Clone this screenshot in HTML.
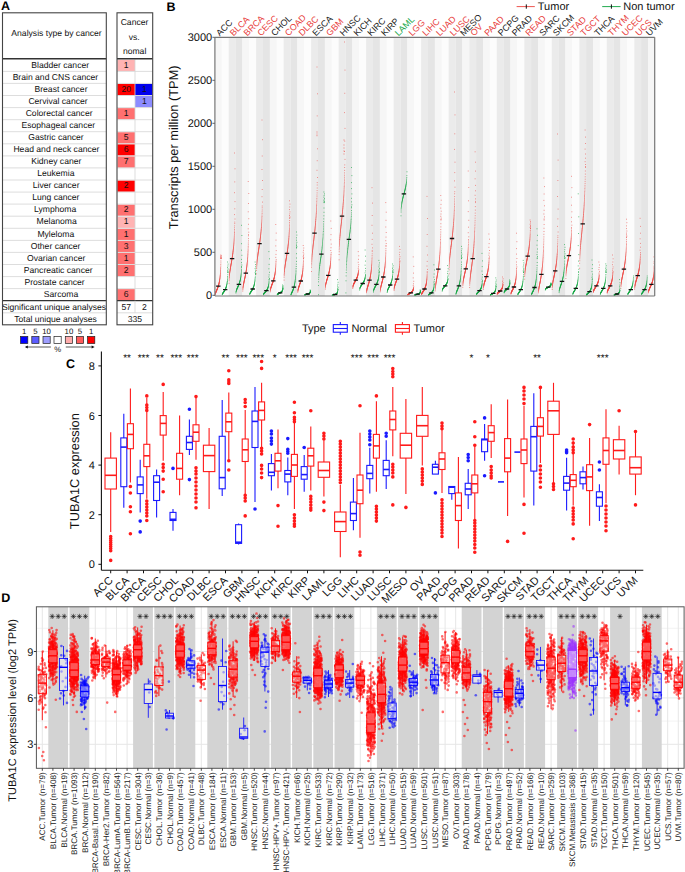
<!DOCTYPE html>
<html><head><meta charset="utf-8"><style>
html,body{margin:0;padding:0;background:#fff;}
svg{display:block;font-family:"Liberation Sans",sans-serif;text-rendering:geometricPrecision;-webkit-font-smoothing:antialiased;}
</style></head><body>
<svg width="685" height="872" viewBox="0 0 685 872">
<rect width="685" height="872" fill="#fff"/>
<text x="1" y="9.6" font-size="12.5" font-weight="bold">A</text>
<rect x="117.5" y="59.8" width="17.5" height="11.2" fill="#ffb3b3"/>
<rect x="117.5" y="83.9" width="17.5" height="11.2" fill="#ff0000"/>
<rect x="135" y="83.9" width="17.2" height="11.2" fill="#0000ee"/>
<rect x="135" y="96" width="17.2" height="11.2" fill="#8c8cff"/>
<rect x="117.5" y="108.1" width="17.5" height="11.2" fill="#ff7070"/>
<rect x="117.5" y="132.2" width="17.5" height="11.2" fill="#ff7070"/>
<rect x="117.5" y="144.3" width="17.5" height="11.2" fill="#ff0000"/>
<rect x="117.5" y="156.4" width="17.5" height="11.2" fill="#ff7070"/>
<rect x="117.5" y="180.5" width="17.5" height="11.2" fill="#ff0000"/>
<rect x="117.5" y="204.6" width="17.5" height="11.2" fill="#ff7070"/>
<rect x="117.5" y="216.7" width="17.5" height="11.2" fill="#ffb3b3"/>
<rect x="117.5" y="228.8" width="17.5" height="11.2" fill="#ff7070"/>
<rect x="117.5" y="240.9" width="17.5" height="11.2" fill="#ff7070"/>
<rect x="117.5" y="252.9" width="17.5" height="11.2" fill="#ff7070"/>
<rect x="117.5" y="265" width="17.5" height="11.2" fill="#ff7070"/>
<rect x="117.5" y="289.1" width="17.5" height="11.2" fill="#ff7070"/>
<line x1="2.5" y1="71.4" x2="106.3" y2="71.4" stroke="#d4d4d4" stroke-width="0.8"/>
<line x1="117" y1="71.4" x2="152.7" y2="71.4" stroke="#d4d4d4" stroke-width="0.8"/>
<line x1="2.5" y1="83.4" x2="106.3" y2="83.4" stroke="#d4d4d4" stroke-width="0.8"/>
<line x1="117" y1="83.4" x2="152.7" y2="83.4" stroke="#d4d4d4" stroke-width="0.8"/>
<line x1="2.5" y1="95.5" x2="106.3" y2="95.5" stroke="#d4d4d4" stroke-width="0.8"/>
<line x1="117" y1="95.5" x2="152.7" y2="95.5" stroke="#d4d4d4" stroke-width="0.8"/>
<line x1="2.5" y1="107.6" x2="106.3" y2="107.6" stroke="#d4d4d4" stroke-width="0.8"/>
<line x1="117" y1="107.6" x2="152.7" y2="107.6" stroke="#d4d4d4" stroke-width="0.8"/>
<line x1="2.5" y1="119.7" x2="106.3" y2="119.7" stroke="#d4d4d4" stroke-width="0.8"/>
<line x1="117" y1="119.7" x2="152.7" y2="119.7" stroke="#d4d4d4" stroke-width="0.8"/>
<line x1="2.5" y1="131.7" x2="106.3" y2="131.7" stroke="#d4d4d4" stroke-width="0.8"/>
<line x1="117" y1="131.7" x2="152.7" y2="131.7" stroke="#d4d4d4" stroke-width="0.8"/>
<line x1="2.5" y1="143.8" x2="106.3" y2="143.8" stroke="#d4d4d4" stroke-width="0.8"/>
<line x1="117" y1="143.8" x2="152.7" y2="143.8" stroke="#d4d4d4" stroke-width="0.8"/>
<line x1="2.5" y1="155.9" x2="106.3" y2="155.9" stroke="#d4d4d4" stroke-width="0.8"/>
<line x1="117" y1="155.9" x2="152.7" y2="155.9" stroke="#d4d4d4" stroke-width="0.8"/>
<line x1="2.5" y1="167.9" x2="106.3" y2="167.9" stroke="#d4d4d4" stroke-width="0.8"/>
<line x1="117" y1="167.9" x2="152.7" y2="167.9" stroke="#d4d4d4" stroke-width="0.8"/>
<line x1="2.5" y1="180" x2="106.3" y2="180" stroke="#d4d4d4" stroke-width="0.8"/>
<line x1="117" y1="180" x2="152.7" y2="180" stroke="#d4d4d4" stroke-width="0.8"/>
<line x1="2.5" y1="192.1" x2="106.3" y2="192.1" stroke="#d4d4d4" stroke-width="0.8"/>
<line x1="117" y1="192.1" x2="152.7" y2="192.1" stroke="#d4d4d4" stroke-width="0.8"/>
<line x1="2.5" y1="204.1" x2="106.3" y2="204.1" stroke="#d4d4d4" stroke-width="0.8"/>
<line x1="117" y1="204.1" x2="152.7" y2="204.1" stroke="#d4d4d4" stroke-width="0.8"/>
<line x1="2.5" y1="216.2" x2="106.3" y2="216.2" stroke="#d4d4d4" stroke-width="0.8"/>
<line x1="117" y1="216.2" x2="152.7" y2="216.2" stroke="#d4d4d4" stroke-width="0.8"/>
<line x1="2.5" y1="228.3" x2="106.3" y2="228.3" stroke="#d4d4d4" stroke-width="0.8"/>
<line x1="117" y1="228.3" x2="152.7" y2="228.3" stroke="#d4d4d4" stroke-width="0.8"/>
<line x1="2.5" y1="240.4" x2="106.3" y2="240.4" stroke="#d4d4d4" stroke-width="0.8"/>
<line x1="117" y1="240.4" x2="152.7" y2="240.4" stroke="#d4d4d4" stroke-width="0.8"/>
<line x1="2.5" y1="252.4" x2="106.3" y2="252.4" stroke="#d4d4d4" stroke-width="0.8"/>
<line x1="117" y1="252.4" x2="152.7" y2="252.4" stroke="#d4d4d4" stroke-width="0.8"/>
<line x1="2.5" y1="264.5" x2="106.3" y2="264.5" stroke="#d4d4d4" stroke-width="0.8"/>
<line x1="117" y1="264.5" x2="152.7" y2="264.5" stroke="#d4d4d4" stroke-width="0.8"/>
<line x1="2.5" y1="276.6" x2="106.3" y2="276.6" stroke="#d4d4d4" stroke-width="0.8"/>
<line x1="117" y1="276.6" x2="152.7" y2="276.6" stroke="#d4d4d4" stroke-width="0.8"/>
<line x1="2.5" y1="288.6" x2="106.3" y2="288.6" stroke="#d4d4d4" stroke-width="0.8"/>
<line x1="117" y1="288.6" x2="152.7" y2="288.6" stroke="#d4d4d4" stroke-width="0.8"/>
<line x1="135" y1="59.3" x2="135" y2="300.7" stroke="#d4d4d4" stroke-width="0.8"/>
<text x="60.2" y="67.5" font-size="8.6" text-anchor="middle" fill="#111">Bladder cancer</text>
<text x="126.2" y="67.5" font-size="8.6" text-anchor="middle" fill="#111">1</text>
<text x="55.4" y="79.6" font-size="8.6" text-anchor="middle" fill="#111">Brain and CNS cancer</text>
<text x="61" y="91.7" font-size="8.6" text-anchor="middle" fill="#111">Breast cancer</text>
<text x="126.2" y="91.7" font-size="8.6" text-anchor="middle" fill="#111">20</text>
<text x="144.3" y="91.7" font-size="8.6" text-anchor="middle" fill="#111">1</text>
<text x="58" y="103.7" font-size="8.6" text-anchor="middle" fill="#111">Cervival cancer</text>
<text x="144.3" y="103.7" font-size="8.6" text-anchor="middle" fill="#111">1</text>
<text x="59.1" y="115.8" font-size="8.6" text-anchor="middle" fill="#111">Colorectal cancer</text>
<text x="126.2" y="115.8" font-size="8.6" text-anchor="middle" fill="#111">1</text>
<text x="58.3" y="127.9" font-size="8.6" text-anchor="middle" fill="#111">Esophageal cancer</text>
<text x="56" y="140" font-size="8.6" text-anchor="middle" fill="#111">Gastric cancer</text>
<text x="126.2" y="140" font-size="8.6" text-anchor="middle" fill="#111">5</text>
<text x="56.4" y="152" font-size="8.6" text-anchor="middle" fill="#111">Head and neck cancer</text>
<text x="126.2" y="152" font-size="8.6" text-anchor="middle" fill="#111">6</text>
<text x="56.3" y="164.1" font-size="8.6" text-anchor="middle" fill="#111">Kidney caner</text>
<text x="126.2" y="164.1" font-size="8.6" text-anchor="middle" fill="#111">7</text>
<text x="55.8" y="176.2" font-size="8.6" text-anchor="middle" fill="#111">Leukemia</text>
<text x="56.1" y="188.2" font-size="8.6" text-anchor="middle" fill="#111">Liver cancer</text>
<text x="126.2" y="188.2" font-size="8.6" text-anchor="middle" fill="#111">2</text>
<text x="55.8" y="200.3" font-size="8.6" text-anchor="middle" fill="#111">Lung cancer</text>
<text x="55.2" y="212.4" font-size="8.6" text-anchor="middle" fill="#111">Lymphoma</text>
<text x="126.2" y="212.4" font-size="8.6" text-anchor="middle" fill="#111">2</text>
<text x="56.6" y="224.4" font-size="8.6" text-anchor="middle" fill="#111">Melanoma</text>
<text x="126.2" y="224.4" font-size="8.6" text-anchor="middle" fill="#111">1</text>
<text x="55.8" y="236.5" font-size="8.6" text-anchor="middle" fill="#111">Myleloma</text>
<text x="126.2" y="236.5" font-size="8.6" text-anchor="middle" fill="#111">1</text>
<text x="55.6" y="248.6" font-size="8.6" text-anchor="middle" fill="#111">Other cancer</text>
<text x="126.2" y="248.6" font-size="8.6" text-anchor="middle" fill="#111">3</text>
<text x="56.2" y="260.7" font-size="8.6" text-anchor="middle" fill="#111">Ovarian cancer</text>
<text x="126.2" y="260.7" font-size="8.6" text-anchor="middle" fill="#111">1</text>
<text x="58.2" y="272.7" font-size="8.6" text-anchor="middle" fill="#111">Pancreatic cancer</text>
<text x="126.2" y="272.7" font-size="8.6" text-anchor="middle" fill="#111">2</text>
<text x="54.6" y="284.8" font-size="8.6" text-anchor="middle" fill="#111">Prostate cancer</text>
<text x="61" y="296.9" font-size="8.6" text-anchor="middle" fill="#111">Sarcoma</text>
<text x="126.2" y="296.9" font-size="8.6" text-anchor="middle" fill="#111">6</text>
<line x1="2.5" y1="300.7" x2="106.3" y2="300.7" stroke="#333" stroke-width="1.3"/>
<line x1="117" y1="300.7" x2="152.7" y2="300.7" stroke="#333" stroke-width="1.3"/>
<line x1="2.5" y1="312.8" x2="106.3" y2="312.8" stroke="#d4d4d4" stroke-width="0.8"/>
<line x1="117" y1="312.8" x2="152.7" y2="312.8" stroke="#d4d4d4" stroke-width="0.8"/>
<line x1="135" y1="300.7" x2="135" y2="312.8" stroke="#d4d4d4" stroke-width="0.8"/>
<text x="54" y="309.8" font-size="8.6" text-anchor="middle" fill="#111">Significant unique analyses</text>
<text x="55.5" y="321.9" font-size="8.6" text-anchor="middle" fill="#111">Total unique analyses</text>
<text x="126.2" y="309.8" font-size="8.6" text-anchor="middle" fill="#111">57</text>
<text x="144.3" y="309.8" font-size="8.6" text-anchor="middle" fill="#111">2</text>
<text x="134.8" y="321.9" font-size="8.6" text-anchor="middle" fill="#111">335</text>
<text x="56.5" y="36.3" font-size="8.6" text-anchor="middle" fill="#111">Analysis type by cancer</text>
<text x="134.5" y="24.6" font-size="8.6" text-anchor="middle" fill="#111">Cancer</text>
<text x="134.2" y="39.5" font-size="8.6" text-anchor="middle" fill="#111">vs.</text>
<text x="134.6" y="54.2" font-size="8.6" text-anchor="middle" fill="#111">nomal</text>
<line x1="2.5" y1="58.8" x2="106.3" y2="58.8" stroke="#333" stroke-width="1.4"/>
<line x1="117" y1="58.8" x2="152.7" y2="58.8" stroke="#333" stroke-width="1.4"/>
<rect x="2.5" y="12.8" width="103.8" height="312" fill="none" stroke="#444" stroke-width="1.1"/>
<rect x="117" y="12.8" width="35.7" height="312" fill="none" stroke="#444" stroke-width="1.1"/>
<rect x="20.6" y="336.5" width="7.2" height="7" fill="#0000ff" stroke="#222" stroke-width="0.7"/>
<text x="24.2" y="334" font-size="7.8" text-anchor="middle" fill="#111">1</text>
<rect x="31.8" y="336.5" width="7.2" height="7" fill="#5c5cff" stroke="#222" stroke-width="0.7"/>
<text x="35.4" y="334" font-size="7.8" text-anchor="middle" fill="#111">5</text>
<rect x="43" y="336.5" width="7.2" height="7" fill="#9e9eff" stroke="#222" stroke-width="0.7"/>
<text x="46.6" y="334" font-size="7.8" text-anchor="middle" fill="#111">10</text>
<rect x="54" y="336.5" width="7.2" height="7" fill="#ffffff" stroke="#222" stroke-width="0.7"/>
<rect x="65.3" y="336.5" width="7.2" height="7" fill="#ffacac" stroke="#222" stroke-width="0.7"/>
<text x="68.9" y="334" font-size="7.8" text-anchor="middle" fill="#111">10</text>
<rect x="76.4" y="336.5" width="7.2" height="7" fill="#ff5c5c" stroke="#222" stroke-width="0.7"/>
<text x="80" y="334" font-size="7.8" text-anchor="middle" fill="#111">5</text>
<rect x="87.6" y="336.5" width="7.2" height="7" fill="#ff0000" stroke="#222" stroke-width="0.7"/>
<text x="91.2" y="334" font-size="7.8" text-anchor="middle" fill="#111">1</text>
<line x1="26" y1="347" x2="50.9" y2="347" stroke="#111" stroke-width="0.7"/>
<path d="M24.8 347l3 -1.6v3.2z" fill="#111"/>
<line x1="65.8" y1="347" x2="93" y2="347" stroke="#111" stroke-width="0.7"/>
<path d="M94.6 347l-3 -1.6v3.2z" fill="#111"/>
<text x="57.8" y="352.4" font-size="7.8" text-anchor="middle" fill="#111">%</text>
<rect x="214.9" y="37.3" width="6.9" height="258.7" fill="#f6f6f6"/>
<rect x="221.8" y="37.3" width="6.9" height="258.7" fill="#fcfcfc"/>
<rect x="228.7" y="37.3" width="6.9" height="258.7" fill="#ebebeb"/>
<rect x="235.5" y="37.3" width="6.9" height="258.7" fill="#e5e5e5"/>
<rect x="242.4" y="37.3" width="6.9" height="258.7" fill="#f6f6f6"/>
<rect x="249.3" y="37.3" width="6.9" height="258.7" fill="#fcfcfc"/>
<rect x="256.1" y="37.3" width="6.9" height="258.7" fill="#ebebeb"/>
<rect x="263" y="37.3" width="6.9" height="258.7" fill="#e5e5e5"/>
<rect x="269.9" y="37.3" width="6.9" height="258.7" fill="#f6f6f6"/>
<rect x="276.8" y="37.3" width="6.9" height="258.7" fill="#fcfcfc"/>
<rect x="283.6" y="37.3" width="6.9" height="258.7" fill="#ebebeb"/>
<rect x="290.5" y="37.3" width="6.9" height="258.7" fill="#e5e5e5"/>
<rect x="297.4" y="37.3" width="6.9" height="258.7" fill="#f6f6f6"/>
<rect x="304.3" y="37.3" width="6.9" height="258.7" fill="#fcfcfc"/>
<rect x="311.1" y="37.3" width="6.9" height="258.7" fill="#ebebeb"/>
<rect x="318" y="37.3" width="6.9" height="258.7" fill="#e5e5e5"/>
<rect x="324.9" y="37.3" width="6.9" height="258.7" fill="#f6f6f6"/>
<rect x="331.8" y="37.3" width="6.9" height="258.7" fill="#fcfcfc"/>
<rect x="338.6" y="37.3" width="6.9" height="258.7" fill="#ebebeb"/>
<rect x="345.5" y="37.3" width="6.9" height="258.7" fill="#e5e5e5"/>
<rect x="352.4" y="37.3" width="6.9" height="258.7" fill="#f6f6f6"/>
<rect x="359.3" y="37.3" width="6.9" height="258.7" fill="#fcfcfc"/>
<rect x="366.1" y="37.3" width="6.9" height="258.7" fill="#ebebeb"/>
<rect x="373" y="37.3" width="6.9" height="258.7" fill="#e5e5e5"/>
<rect x="379.9" y="37.3" width="6.9" height="258.7" fill="#f6f6f6"/>
<rect x="386.8" y="37.3" width="6.9" height="258.7" fill="#fcfcfc"/>
<rect x="393.6" y="37.3" width="6.9" height="258.7" fill="#ebebeb"/>
<rect x="400.5" y="37.3" width="6.9" height="258.7" fill="#e5e5e5"/>
<rect x="407.4" y="37.3" width="6.9" height="258.7" fill="#f6f6f6"/>
<rect x="414.3" y="37.3" width="6.9" height="258.7" fill="#fcfcfc"/>
<rect x="421.1" y="37.3" width="6.9" height="258.7" fill="#ebebeb"/>
<rect x="428" y="37.3" width="6.9" height="258.7" fill="#e5e5e5"/>
<rect x="434.9" y="37.3" width="6.9" height="258.7" fill="#f6f6f6"/>
<rect x="441.8" y="37.3" width="6.9" height="258.7" fill="#fcfcfc"/>
<rect x="448.6" y="37.3" width="6.9" height="258.7" fill="#ebebeb"/>
<rect x="455.5" y="37.3" width="6.9" height="258.7" fill="#e5e5e5"/>
<rect x="462.4" y="37.3" width="6.9" height="258.7" fill="#f6f6f6"/>
<rect x="469.3" y="37.3" width="6.9" height="258.7" fill="#ebebeb"/>
<rect x="476.1" y="37.3" width="6.9" height="258.7" fill="#e5e5e5"/>
<rect x="483" y="37.3" width="6.9" height="258.7" fill="#f6f6f6"/>
<rect x="489.9" y="37.3" width="6.9" height="258.7" fill="#fcfcfc"/>
<rect x="496.8" y="37.3" width="6.9" height="258.7" fill="#ebebeb"/>
<rect x="503.6" y="37.3" width="6.9" height="258.7" fill="#e5e5e5"/>
<rect x="510.5" y="37.3" width="6.9" height="258.7" fill="#f6f6f6"/>
<rect x="517.4" y="37.3" width="6.9" height="258.7" fill="#fcfcfc"/>
<rect x="524.3" y="37.3" width="6.9" height="258.7" fill="#ebebeb"/>
<rect x="531.1" y="37.3" width="6.9" height="258.7" fill="#e5e5e5"/>
<rect x="538" y="37.3" width="6.9" height="258.7" fill="#f6f6f6"/>
<rect x="544.9" y="37.3" width="6.9" height="258.7" fill="#fcfcfc"/>
<rect x="551.8" y="37.3" width="6.9" height="258.7" fill="#ebebeb"/>
<rect x="558.6" y="37.3" width="6.9" height="258.7" fill="#e5e5e5"/>
<rect x="565.5" y="37.3" width="6.9" height="258.7" fill="#f6f6f6"/>
<rect x="572.4" y="37.3" width="6.9" height="258.7" fill="#fcfcfc"/>
<rect x="579.3" y="37.3" width="6.9" height="258.7" fill="#ebebeb"/>
<rect x="586.1" y="37.3" width="6.9" height="258.7" fill="#e5e5e5"/>
<rect x="593" y="37.3" width="6.9" height="258.7" fill="#f6f6f6"/>
<rect x="599.9" y="37.3" width="6.9" height="258.7" fill="#fcfcfc"/>
<rect x="606.8" y="37.3" width="6.9" height="258.7" fill="#ebebeb"/>
<rect x="613.6" y="37.3" width="6.9" height="258.7" fill="#e5e5e5"/>
<rect x="620.5" y="37.3" width="6.9" height="258.7" fill="#f6f6f6"/>
<rect x="627.4" y="37.3" width="6.9" height="258.7" fill="#fcfcfc"/>
<rect x="634.3" y="37.3" width="6.9" height="258.7" fill="#ebebeb"/>
<rect x="641.1" y="37.3" width="6.9" height="258.7" fill="#e5e5e5"/>
<rect x="648" y="37.3" width="6.9" height="258.7" fill="#f6f6f6"/>
<path d="M215.3 294.4h0M215.4 293.9h0M215.4 293.7h0M215.5 293.4h0M215.5 293.2h0M215.6 293.1h0M215.6 292.9h0M215.7 292.7h0M215.7 292.6h0M215.8 292.5h0M215.8 292.3h0M215.9 292.2h0M215.9 292.1h0M216 291.9h0M216 291.8h0M216.1 291.7h0M216.2 291.6h0M216.2 291.4h0M216.3 291.3h0M216.3 291.2h0M216.4 291.1h0M216.4 291h0M216.5 290.8h0M216.5 290.7h0M216.6 290.6h0M216.6 290.5h0M216.7 290.4h0M216.7 290.3h0M216.8 290.1h0M216.8 290h0M216.9 289.9h0M216.9 289.8h0M217 289.7h0M217 289.5h0M217.1 289.4h0M217.1 289.3h0M217.2 289.2h0M217.2 289h0M217.3 288.9h0M217.4 288.8h0M217.4 288.6h0M217.5 288.5h0M217.5 288.4h0M217.6 288.2h0M217.6 288.1h0M217.7 288h0M217.7 287.8h0M217.8 287.7h0M217.8 287.5h0M217.9 287.4h0M217.9 287.2h0M218 287.1h0M218 286.9h0M218.1 286.8h0M218.1 286.6h0M218.2 286.5h0M218.2 286.3h0M218.3 286.1h0M218.3 286h0M218.4 285.8h0M218.4 285.6h0M218.5 285.4h0M218.5 285.3h0M218.6 285.1h0M218.7 284.9h0M218.7 284.7h0M218.8 284.5h0M218.8 284.3h0M218.9 284.1h0M218.9 283.9h0M219 283.6h0M219 283.4h0M219.1 283.2h0M219.1 282.9h0M219.2 282.7h0M219.2 282.4h0M219.3 282.2h0M219.3 281.9h0M219.4 281.6h0M219.4 281.4h0M219.5 281.1h0M219.5 280.8h0M219.6 280.4h0M219.6 280.1h0M219.7 279.8h0M219.7 279.4h0M219.8 279.1h0M219.9 278.7h0M219.9 278.3h0M220 277.9h0M220 277.4h0M220.1 277h0M220.1 276.5h0M220.2 276h0M220.2 275.5h0M220.3 274.9h0M220.3 274.3h0M220.4 273.6h0M220.4 272.9h0M220.5 272.2h0M220.5 271.4h0M220.6 270.5h0M220.6 269.6h0M220.7 268.5h0M220.7 267.4h0M220.8 266.1h0M220.8 264.6h0M220.9 262.9h0M220.9 261h0M221 258.6h0M221 258.5h0M221.2 258.3h0M220.8 258h0M221 257.6h0M221.2 257.2h0M220.8 256.8h0M221 256.2h0M221.2 255.6h0M220.8 255h0M229.1 283.3h0M229.1 280.7h0M229.2 279.3h0M229.2 278.3h0M229.3 277.5h0M229.3 276.8h0M229.4 276.1h0M229.4 275.6h0M229.5 275h0M229.5 274.5h0M229.6 274h0M229.6 273.6h0M229.7 273.2h0M229.7 272.7h0M229.8 272.3h0M229.8 272h0M229.9 271.6h0M230 271.2h0M230 270.8h0M230.1 270.5h0M230.1 270.1h0M230.2 269.8h0M230.2 269.5h0M230.3 269.1h0M230.3 268.8h0M230.4 268.5h0M230.4 268.2h0M230.5 267.9h0M230.5 267.5h0M230.6 267.2h0M230.6 266.9h0M230.7 266.6h0M230.7 266.3h0M230.8 266h0M230.8 265.7h0M230.9 265.4h0M230.9 265.1h0M231 264.8h0M231 264.5h0M231.1 264.2h0M231.2 263.9h0M231.2 263.6h0M231.3 263.3h0M231.3 263h0M231.4 262.7h0M231.4 262.4h0M231.5 262.1h0M231.5 261.8h0M231.6 261.5h0M231.6 261.2h0M231.7 260.9h0M231.7 260.6h0M231.8 260.3h0M231.8 259.9h0M231.9 259.6h0M231.9 259.3h0M232 259h0M232 258.7h0M232.1 258.3h0M232.1 258h0M232.2 257.7h0M232.2 257.3h0M232.3 257h0M232.4 256.7h0M232.4 256.3h0M232.5 256h0M232.5 255.6h0M232.6 255.2h0M232.6 254.9h0M232.7 254.5h0M232.7 254.1h0M232.8 253.7h0M232.8 253.4h0M232.9 253h0M232.9 252.6h0M233 252.1h0M233 251.7h0M233.1 251.3h0M233.1 250.9h0M233.2 250.4h0M233.2 250h0M233.3 249.5h0M233.3 249h0M233.4 248.5h0M233.4 248h0M233.5 247.5h0M233.6 247h0M233.6 246.4h0M233.7 245.9h0M233.7 245.3h0M233.8 244.7h0M233.8 244.1h0M233.9 243.4h0M233.9 242.8h0M234 242.1h0M234 241.3h0M234.1 240.6h0M234.1 239.7h0M234.2 238.9h0M234.2 238h0M234.3 237h0M234.3 236h0M234.4 234.9h0M234.4 233.8h0M234.5 232.5h0M234.5 231.1h0M234.6 229.6h0M234.6 227.8h0M234.7 225.9h0M234.8 223.6h0M234.8 222.1h0M235 219h0M234.5 214.6h0M234.8 208.8h0M235 201.6h0M234.5 192.7h0M234.8 181.9h0M235 168.8h0M234.5 153h0M242.8 291.1h0M242.9 289.7h0M242.9 288.9h0M243 288.2h0M243 287.7h0M243.1 287.3h0M243.1 286.9h0M243.2 286.5h0M243.2 286.1h0M243.3 285.8h0M243.3 285.4h0M243.4 285.1h0M243.4 284.8h0M243.5 284.5h0M243.5 284.3h0M243.6 284h0M243.7 283.7h0M243.7 283.4h0M243.8 283.2h0M243.8 282.9h0M243.9 282.7h0M243.9 282.4h0M244 282.2h0M244 281.9h0M244.1 281.7h0M244.1 281.4h0M244.2 281.2h0M244.2 280.9h0M244.3 280.7h0M244.3 280.4h0M244.4 280.2h0M244.4 280h0M244.5 279.7h0M244.5 279.5h0M244.6 279.2h0M244.6 279h0M244.7 278.7h0M244.7 278.5h0M244.8 278.3h0M244.9 278h0M244.9 277.8h0M245 277.5h0M245 277.3h0M245.1 277h0M245.1 276.8h0M245.2 276.5h0M245.2 276.2h0M245.3 276h0M245.3 275.7h0M245.4 275.5h0M245.4 275.2h0M245.5 274.9h0M245.5 274.7h0M245.6 274.4h0M245.6 274.1h0M245.7 273.8h0M245.7 273.5h0M245.8 273.3h0M245.8 273h0M245.9 272.7h0M245.9 272.4h0M246 272.1h0M246 271.8h0M246.1 271.5h0M246.2 271.1h0M246.2 270.8h0M246.3 270.5h0M246.3 270.1h0M246.4 269.8h0M246.4 269.5h0M246.5 269.1h0M246.5 268.7h0M246.6 268.4h0M246.6 268h0M246.7 267.6h0M246.7 267.2h0M246.8 266.8h0M246.8 266.4h0M246.9 266h0M246.9 265.5h0M247 265.1h0M247 264.6h0M247.1 264.2h0M247.1 263.7h0M247.2 263.2h0M247.2 262.7h0M247.3 262.1h0M247.4 261.6h0M247.4 261h0M247.5 260.4h0M247.5 259.8h0M247.6 259.1h0M247.6 258.4h0M247.7 257.7h0M247.7 257h0M247.8 256.2h0M247.8 255.4h0M247.9 254.5h0M247.9 253.6h0M248 252.6h0M248 251.5h0M248.1 250.4h0M248.1 249.2h0M248.2 247.8h0M248.2 246.4h0M248.3 244.8h0M248.3 243h0M248.4 240.9h0M248.4 238.6h0M248.5 235.8h0M248.5 234.6h0M248.8 232.2h0M248.2 228.8h0M248.5 224.3h0M248.8 218.7h0M248.2 211.8h0M248.5 203.5h0M248.8 193.5h0M248.2 181.5h0M256.6 273.9h0M256.6 270.4h0M256.7 268.5h0M256.7 267.2h0M256.8 266.1h0M256.8 265.2h0M256.9 264.4h0M256.9 263.7h0M257 263h0M257 262.3h0M257.1 261.8h0M257.1 261.2h0M257.2 260.7h0M257.2 260.1h0M257.3 259.7h0M257.3 259.2h0M257.4 258.7h0M257.5 258.3h0M257.5 257.8h0M257.6 257.4h0M257.6 257h0M257.7 256.6h0M257.7 256.2h0M257.8 255.8h0M257.8 255.4h0M257.9 255h0M257.9 254.6h0M258 254.3h0M258 253.9h0M258.1 253.5h0M258.1 253.2h0M258.2 252.8h0M258.2 252.5h0M258.3 252.1h0M258.3 251.8h0M258.4 251.4h0M258.4 251.1h0M258.5 250.7h0M258.5 250.4h0M258.6 250h0M258.7 249.7h0M258.7 249.3h0M258.8 249h0M258.8 248.7h0M258.9 248.3h0M258.9 248h0M259 247.6h0M259 247.3h0M259.1 246.9h0M259.1 246.6h0M259.2 246.2h0M259.2 245.9h0M259.3 245.5h0M259.3 245.2h0M259.4 244.8h0M259.4 244.5h0M259.5 244.1h0M259.5 243.8h0M259.6 243.4h0M259.6 243h0M259.7 242.7h0M259.7 242.3h0M259.8 241.9h0M259.9 241.6h0M259.9 241.2h0M260 240.8h0M260 240.4h0M260.1 240h0M260.1 239.6h0M260.2 239.2h0M260.2 238.8h0M260.3 238.4h0M260.3 238h0M260.4 237.5h0M260.4 237.1h0M260.5 236.7h0M260.5 236.2h0M260.6 235.8h0M260.6 235.3h0M260.7 234.8h0M260.7 234.3h0M260.8 233.9h0M260.8 233.4h0M260.9 232.8h0M260.9 232.3h0M261 231.8h0M261.1 231.2h0M261.1 230.6h0M261.2 230.1h0M261.2 229.5h0M261.3 228.8h0M261.3 228.2h0M261.4 227.5h0M261.4 226.8h0M261.5 226.1h0M261.5 225.3h0M261.6 224.6h0M261.6 223.7h0M261.7 222.9h0M261.7 222h0M261.8 221h0M261.8 220h0M261.9 218.9h0M261.9 217.7h0M262 216.5h0M262 215.1h0M262.1 213.6h0M262.1 211.9h0M262.2 210h0M262.2 207.8h0M262.2 206h0M262.5 202.1h0M262 196.7h0M262.2 189.5h0M262.5 180.5h0M262 169.5h0M262.2 156h0M262.5 139.7h0M262 120h0M270.3 291.8h0M270.4 290.8h0M270.4 290.2h0M270.5 289.8h0M270.5 289.5h0M270.6 289.2h0M270.6 288.9h0M270.7 288.7h0M270.7 288.4h0M270.8 288.2h0M270.8 288h0M270.9 287.8h0M270.9 287.7h0M271 287.5h0M271 287.3h0M271.1 287.1h0M271.2 287h0M271.2 286.8h0M271.3 286.6h0M271.3 286.5h0M271.4 286.3h0M271.4 286.2h0M271.5 286h0M271.5 285.9h0M271.6 285.7h0M271.6 285.6h0M271.7 285.4h0M271.7 285.3h0M271.8 285.1h0M271.8 285h0M271.9 284.9h0M271.9 284.7h0M272 284.6h0M272 284.4h0M272.1 284.3h0M272.1 284.2h0M272.2 284h0M272.2 283.9h0M272.3 283.7h0M272.4 283.6h0M272.4 283.5h0M272.5 283.3h0M272.5 283.2h0M272.6 283h0M272.6 282.9h0M272.7 282.7h0M272.7 282.6h0M272.8 282.5h0M272.8 282.3h0M272.9 282.2h0M272.9 282h0M273 281.9h0M273 281.7h0M273.1 281.6h0M273.1 281.4h0M273.2 281.2h0M273.2 281.1h0M273.3 280.9h0M273.3 280.8h0M273.4 280.6h0M273.4 280.4h0M273.5 280.3h0M273.5 280.1h0M273.6 279.9h0M273.7 279.8h0M273.7 279.6h0M273.8 279.4h0M273.8 279.2h0M273.9 279h0M273.9 278.9h0M274 278.7h0M274 278.5h0M274.1 278.3h0M274.1 278.1h0M274.2 277.9h0M274.2 277.7h0M274.3 277.4h0M274.3 277.2h0M274.4 277h0M274.4 276.8h0M274.5 276.5h0M274.5 276.3h0M274.6 276.1h0M274.6 275.8h0M274.7 275.5h0M274.7 275.3h0M274.8 275h0M274.9 274.7h0M274.9 274.4h0M275 274.1h0M275 273.8h0M275.1 273.4h0M275.1 273.1h0M275.2 272.7h0M275.2 272.4h0M275.3 272h0M275.3 271.5h0M275.4 271.1h0M275.4 270.6h0M275.5 270.1h0M275.5 269.6h0M275.6 269.1h0M275.6 268.5h0M275.7 267.8h0M275.7 267.1h0M275.8 266.3h0M275.8 265.4h0M275.9 264.4h0M275.9 263.3h0M276 262h0M276 261.2h0M276.2 259.7h0M275.8 257.4h0M276 254.4h0M276.2 250.6h0M275.8 245.9h0M276 240.1h0M276.2 233.1h0M275.8 224.5h0M284.1 280.1h0M284.1 277.2h0M284.2 275.6h0M284.2 274.5h0M284.3 273.6h0M284.3 272.8h0M284.4 272.1h0M284.4 271.5h0M284.5 270.9h0M284.5 270.3h0M284.6 269.8h0M284.6 269.3h0M284.7 268.8h0M284.7 268.4h0M284.8 267.9h0M284.8 267.5h0M284.9 267.1h0M285 266.7h0M285 266.3h0M285.1 265.9h0M285.1 265.6h0M285.2 265.2h0M285.2 264.8h0M285.3 264.5h0M285.3 264.1h0M285.4 263.8h0M285.4 263.5h0M285.5 263.1h0M285.5 262.8h0M285.6 262.5h0M285.6 262.1h0M285.7 261.8h0M285.7 261.5h0M285.8 261.2h0M285.8 260.8h0M285.9 260.5h0M285.9 260.2h0M286 259.9h0M286 259.6h0M286.1 259.3h0M286.2 258.9h0M286.2 258.6h0M286.3 258.3h0M286.3 258h0M286.4 257.7h0M286.4 257.4h0M286.5 257.1h0M286.5 256.7h0M286.6 256.4h0M286.6 256.1h0M286.7 255.8h0M286.7 255.4h0M286.8 255.1h0M286.8 254.8h0M286.9 254.5h0M286.9 254.1h0M287 253.8h0M287 253.5h0M287.1 253.1h0M287.1 252.8h0M287.2 252.4h0M287.2 252.1h0M287.3 251.7h0M287.4 251.4h0M287.4 251h0M287.5 250.7h0M287.5 250.3h0M287.6 249.9h0M287.6 249.6h0M287.7 249.2h0M287.7 248.8h0M287.8 248.4h0M287.8 248h0M287.9 247.6h0M287.9 247.2h0M288 246.8h0M288 246.3h0M288.1 245.9h0M288.1 245.5h0M288.2 245h0M288.2 244.5h0M288.3 244.1h0M288.3 243.6h0M288.4 243.1h0M288.4 242.6h0M288.5 242.1h0M288.6 241.5h0M288.6 241h0M288.7 240.4h0M288.7 239.8h0M288.8 239.2h0M288.8 238.6h0M288.9 237.9h0M288.9 237.2h0M289 236.5h0M289 235.8h0M289.1 235h0M289.1 234.2h0M289.2 233.4h0M289.2 232.5h0M289.3 231.5h0M289.3 230.5h0M289.4 229.4h0M289.4 228.3h0M289.5 227h0M289.5 225.7h0M289.6 224.1h0M289.6 222.4h0M289.7 220.5h0M289.7 218.3h0M289.8 217.8h0M290 216.9h0M289.5 215.5h0M289.8 213.9h0M290 211.9h0M289.5 209.6h0M289.8 207h0M290 204.1h0M289.5 200.8h0M297.8 292.3h0M297.9 291.4h0M297.9 290.9h0M298 290.5h0M298 290.1h0M298.1 289.8h0M298.1 289.6h0M298.2 289.3h0M298.2 289.1h0M298.3 288.9h0M298.3 288.7h0M298.4 288.5h0M298.4 288.3h0M298.5 288.1h0M298.5 287.9h0M298.6 287.7h0M298.7 287.6h0M298.7 287.4h0M298.8 287.2h0M298.8 287.1h0M298.9 286.9h0M298.9 286.7h0M299 286.6h0M299 286.4h0M299.1 286.3h0M299.1 286.1h0M299.2 286h0M299.2 285.8h0M299.3 285.6h0M299.3 285.5h0M299.4 285.3h0M299.4 285.2h0M299.5 285h0M299.5 284.9h0M299.6 284.7h0M299.6 284.6h0M299.7 284.4h0M299.7 284.3h0M299.8 284.1h0M299.9 284h0M299.9 283.8h0M300 283.7h0M300 283.5h0M300.1 283.4h0M300.1 283.2h0M300.2 283h0M300.2 282.9h0M300.3 282.7h0M300.3 282.6h0M300.4 282.4h0M300.4 282.2h0M300.5 282.1h0M300.5 281.9h0M300.6 281.7h0M300.6 281.6h0M300.7 281.4h0M300.7 281.2h0M300.8 281h0M300.8 280.9h0M300.9 280.7h0M300.9 280.5h0M301 280.3h0M301 280.1h0M301.1 279.9h0M301.2 279.7h0M301.2 279.5h0M301.3 279.3h0M301.3 279.1h0M301.4 278.9h0M301.4 278.7h0M301.5 278.5h0M301.5 278.3h0M301.6 278h0M301.6 277.8h0M301.7 277.6h0M301.7 277.3h0M301.8 277.1h0M301.8 276.8h0M301.9 276.6h0M301.9 276.3h0M302 276.1h0M302 275.8h0M302.1 275.5h0M302.1 275.2h0M302.2 274.9h0M302.2 274.6h0M302.3 274.2h0M302.4 273.9h0M302.4 273.6h0M302.5 273.2h0M302.5 272.8h0M302.6 272.4h0M302.6 272h0M302.7 271.6h0M302.7 271.2h0M302.8 270.7h0M302.8 270.2h0M302.9 269.7h0M302.9 269.1h0M303 268.5h0M303 267.9h0M303.1 267.2h0M303.1 266.5h0M303.2 265.7h0M303.2 264.8h0M303.3 263.9h0M303.3 262.8h0M303.4 261.6h0M303.4 260.2h0M303.5 258.6h0M303.5 258.3h0M303.8 257.6h0M303.2 256.6h0M303.5 255.4h0M303.8 254h0M303.2 252.3h0M303.5 250.3h0M303.8 248h0M303.2 245.5h0M311.6 271.5h0M311.6 267.2h0M311.7 264.9h0M311.7 263.3h0M311.8 261.9h0M311.8 260.8h0M311.9 259.7h0M311.9 258.8h0M312 258h0M312 257.2h0M312.1 256.4h0M312.1 255.7h0M312.2 255h0M312.2 254.4h0M312.3 253.8h0M312.3 253.2h0M312.4 252.6h0M312.5 252h0M312.5 251.5h0M312.6 250.9h0M312.6 250.4h0M312.7 249.9h0M312.7 249.4h0M312.8 248.9h0M312.8 248.4h0M312.9 247.9h0M312.9 247.4h0M313 246.9h0M313 246.4h0M313.1 246h0M313.1 245.5h0M313.2 245h0M313.2 244.6h0M313.3 244.1h0M313.3 243.7h0M313.4 243.2h0M313.4 242.8h0M313.5 242.3h0M313.5 241.9h0M313.6 241.4h0M313.7 241h0M313.7 240.5h0M313.8 240.1h0M313.8 239.7h0M313.9 239.2h0M313.9 238.8h0M314 238.3h0M314 237.9h0M314.1 237.4h0M314.1 237h0M314.2 236.5h0M314.2 236.1h0M314.3 235.6h0M314.3 235.2h0M314.4 234.7h0M314.4 234.2h0M314.5 233.8h0M314.5 233.3h0M314.6 232.8h0M314.6 232.3h0M314.7 231.9h0M314.7 231.4h0M314.8 230.9h0M314.9 230.4h0M314.9 229.9h0M315 229.4h0M315 228.9h0M315.1 228.4h0M315.1 227.8h0M315.2 227.3h0M315.2 226.8h0M315.3 226.2h0M315.3 225.7h0M315.4 225.1h0M315.4 224.5h0M315.5 223.9h0M315.5 223.4h0M315.6 222.7h0M315.6 222.1h0M315.7 221.5h0M315.7 220.9h0M315.8 220.2h0M315.8 219.5h0M315.9 218.9h0M315.9 218.2h0M316 217.4h0M316.1 216.7h0M316.1 215.9h0M316.2 215.1h0M316.2 214.3h0M316.3 213.5h0M316.3 212.6h0M316.4 211.7h0M316.4 210.8h0M316.5 209.8h0M316.5 208.8h0M316.6 207.8h0M316.6 206.7h0M316.7 205.5h0M316.7 204.3h0M316.8 203h0M316.8 201.6h0M316.9 200.1h0M316.9 198.6h0M317 196.8h0M317 195h0M317.1 192.9h0M317.1 190.6h0M317.2 188h0M317.2 185h0M317.2 182.6h0M317.5 177.5h0M317 170.3h0M317.2 160.7h0M317.5 148.8h0M317 134h0M317.2 115.9h0M317.5 93.8h0M317 67h0M325.3 289.1h0M325.4 287.7h0M325.4 286.9h0M325.5 286.4h0M325.5 285.9h0M325.6 285.5h0M325.6 285.2h0M325.7 284.8h0M325.7 284.5h0M325.8 284.3h0M325.8 284h0M325.9 283.8h0M325.9 283.5h0M326 283.3h0M326 283.1h0M326.1 282.8h0M326.2 282.6h0M326.2 282.4h0M326.3 282.2h0M326.3 282h0M326.4 281.8h0M326.4 281.6h0M326.5 281.5h0M326.5 281.3h0M326.6 281.1h0M326.6 280.9h0M326.7 280.7h0M326.7 280.5h0M326.8 280.4h0M326.8 280.2h0M326.9 280h0M326.9 279.8h0M327 279.7h0M327 279.5h0M327.1 279.3h0M327.1 279.2h0M327.2 279h0M327.2 278.8h0M327.3 278.7h0M327.4 278.5h0M327.4 278.3h0M327.5 278.1h0M327.5 278h0M327.6 277.8h0M327.6 277.6h0M327.7 277.5h0M327.7 277.3h0M327.8 277.1h0M327.8 276.9h0M327.9 276.8h0M327.9 276.6h0M328 276.4h0M328 276.2h0M328.1 276.1h0M328.1 275.9h0M328.2 275.7h0M328.2 275.5h0M328.3 275.3h0M328.3 275.2h0M328.4 275h0M328.4 274.8h0M328.5 274.6h0M328.5 274.4h0M328.6 274.2h0M328.7 274h0M328.7 273.8h0M328.8 273.6h0M328.8 273.4h0M328.9 273.2h0M328.9 273h0M329 272.7h0M329 272.5h0M329.1 272.3h0M329.1 272.1h0M329.2 271.8h0M329.2 271.6h0M329.3 271.4h0M329.3 271.1h0M329.4 270.9h0M329.4 270.6h0M329.5 270.4h0M329.5 270.1h0M329.6 269.8h0M329.6 269.5h0M329.7 269.2h0M329.7 268.9h0M329.8 268.6h0M329.9 268.3h0M329.9 268h0M330 267.7h0M330 267.3h0M330.1 267h0M330.1 266.6h0M330.2 266.2h0M330.2 265.8h0M330.3 265.4h0M330.3 264.9h0M330.4 264.4h0M330.4 263.9h0M330.5 263.4h0M330.5 262.9h0M330.6 262.3h0M330.6 261.6h0M330.7 261h0M330.7 260.2h0M330.8 259.4h0M330.8 258.5h0M330.9 257.5h0M330.9 256.3h0M331 255h0M331 254.3h0M331.2 252.7h0M330.8 250.5h0M331 247.7h0M331.2 244.1h0M330.8 239.8h0M331 234.6h0M331.2 228.4h0M330.8 221h0M339.1 259.8h0M339.1 254.5h0M339.2 251.7h0M339.2 249.8h0M339.3 248.2h0M339.3 246.8h0M339.4 245.7h0M339.4 244.6h0M339.5 243.6h0M339.5 242.7h0M339.6 241.8h0M339.6 241h0M339.7 240.2h0M339.7 239.5h0M339.8 238.8h0M339.8 238.1h0M339.9 237.4h0M340 236.8h0M340 236.2h0M340.1 235.5h0M340.1 235h0M340.2 234.4h0M340.2 233.8h0M340.3 233.2h0M340.3 232.7h0M340.4 232.1h0M340.4 231.6h0M340.5 231.1h0M340.5 230.5h0M340.6 230h0M340.6 229.5h0M340.7 229h0M340.7 228.5h0M340.8 228h0M340.8 227.5h0M340.9 227h0M340.9 226.5h0M341 226h0M341 225.5h0M341.1 225.1h0M341.2 224.6h0M341.2 224.1h0M341.3 223.6h0M341.3 223.1h0M341.4 222.6h0M341.4 222.2h0M341.5 221.7h0M341.5 221.2h0M341.6 220.7h0M341.6 220.2h0M341.7 219.8h0M341.7 219.3h0M341.8 218.8h0M341.8 218.3h0M341.9 217.8h0M341.9 217.3h0M342 216.8h0M342 216.3h0M342.1 215.8h0M342.1 215.3h0M342.2 214.8h0M342.2 214.3h0M342.3 213.7h0M342.4 213.2h0M342.4 212.7h0M342.5 212.2h0M342.5 211.6h0M342.6 211.1h0M342.6 210.5h0M342.7 210h0M342.7 209.4h0M342.8 208.8h0M342.8 208.3h0M342.9 207.7h0M342.9 207.1h0M343 206.5h0M343 205.9h0M343.1 205.2h0M343.1 204.6h0M343.2 203.9h0M343.2 203.3h0M343.3 202.6h0M343.3 201.9h0M343.4 201.2h0M343.4 200.5h0M343.5 199.7h0M343.6 199h0M343.6 198.2h0M343.7 197.4h0M343.7 196.6h0M343.8 195.7h0M343.8 194.9h0M343.9 194h0M343.9 193h0M344 192h0M344 191h0M344.1 190h0M344.1 188.8h0M344.2 187.7h0M344.2 186.5h0M344.3 185.2h0M344.3 183.8h0M344.4 182.3h0M344.4 180.8h0M344.5 179.1h0M344.5 177.2h0M344.6 175.2h0M344.6 172.9h0M344.7 170.4h0M344.7 167.5h0M344.8 164.9h0M345 159.4h0M344.5 151.5h0M344.8 141.2h0M345 128.4h0M344.5 112.6h0M344.8 93.3h0M345 70.1h0M344.5 42h0M352.8 288.5h0M352.9 287.5h0M352.9 286.9h0M353 286.6h0M353 286.3h0M353.1 286h0M353.1 285.8h0M353.2 285.6h0M353.2 285.4h0M353.3 285.2h0M353.3 285.1h0M353.4 284.9h0M353.4 284.8h0M353.5 284.6h0M353.5 284.5h0M353.6 284.3h0M353.7 284.2h0M353.7 284.1h0M353.8 284h0M353.8 283.9h0M353.9 283.8h0M353.9 283.6h0M354 283.5h0M354 283.4h0M354.1 283.3h0M354.1 283.2h0M354.2 283.1h0M354.2 283h0M354.3 282.9h0M354.3 282.8h0M354.4 282.7h0M354.4 282.6h0M354.5 282.5h0M354.5 282.4h0M354.6 282.3h0M354.6 282.2h0M354.7 282.2h0M354.7 282.1h0M354.8 282h0M354.9 281.9h0M354.9 281.8h0M355 281.7h0M355 281.6h0M355.1 281.5h0M355.1 281.4h0M355.2 281.3h0M355.2 281.2h0M355.3 281.1h0M355.3 281.1h0M355.4 281h0M355.4 280.9h0M355.5 280.8h0M355.5 280.7h0M355.6 280.6h0M355.6 280.5h0M355.7 280.4h0M355.7 280.3h0M355.8 280.2h0M355.8 280.1h0M355.9 280h0M355.9 279.9h0M356 279.8h0M356 279.7h0M356.1 279.6h0M356.2 279.5h0M356.2 279.4h0M356.3 279.3h0M356.3 279.2h0M356.4 279.1h0M356.4 279h0M356.5 278.9h0M356.5 278.8h0M356.6 278.7h0M356.6 278.6h0M356.7 278.5h0M356.7 278.4h0M356.8 278.2h0M356.8 278.1h0M356.9 278h0M356.9 277.9h0M357 277.8h0M357 277.6h0M357.1 277.5h0M357.1 277.4h0M357.2 277.2h0M357.2 277.1h0M357.3 276.9h0M357.4 276.8h0M357.4 276.6h0M357.5 276.5h0M357.5 276.3h0M357.6 276.2h0M357.6 276h0M357.7 275.8h0M357.7 275.6h0M357.8 275.4h0M357.8 275.2h0M357.9 275h0M357.9 274.8h0M358 274.6h0M358 274.3h0M358.1 274.1h0M358.1 273.8h0M358.2 273.5h0M358.2 273.2h0M358.3 272.8h0M358.3 272.5h0M358.4 272h0M358.4 271.5h0M358.5 271h0M358.5 270.6h0M358.8 269.7h0M358.2 268.4h0M358.5 266.8h0M358.8 264.7h0M358.2 262.3h0M358.5 259.3h0M358.8 255.8h0M358.2 251.6h0M366.6 292.7h0M366.6 291.8h0M366.7 291.3h0M366.7 290.9h0M366.8 290.5h0M366.8 290.2h0M366.9 289.9h0M366.9 289.7h0M367 289.4h0M367 289.2h0M367.1 289h0M367.1 288.7h0M367.2 288.5h0M367.2 288.3h0M367.3 288.1h0M367.3 287.9h0M367.4 287.7h0M367.5 287.6h0M367.5 287.4h0M367.6 287.2h0M367.6 287h0M367.7 286.8h0M367.7 286.7h0M367.8 286.5h0M367.8 286.3h0M367.9 286.1h0M367.9 286h0M368 285.8h0M368 285.6h0M368.1 285.4h0M368.1 285.3h0M368.2 285.1h0M368.2 284.9h0M368.3 284.7h0M368.3 284.6h0M368.4 284.4h0M368.4 284.2h0M368.5 284h0M368.5 283.9h0M368.6 283.7h0M368.7 283.5h0M368.7 283.3h0M368.8 283.2h0M368.8 283h0M368.9 282.8h0M368.9 282.6h0M369 282.4h0M369 282.2h0M369.1 282h0M369.1 281.9h0M369.2 281.7h0M369.2 281.5h0M369.3 281.3h0M369.3 281.1h0M369.4 280.9h0M369.4 280.7h0M369.5 280.5h0M369.5 280.2h0M369.6 280h0M369.6 279.8h0M369.7 279.6h0M369.7 279.4h0M369.8 279.1h0M369.9 278.9h0M369.9 278.7h0M370 278.4h0M370 278.2h0M370.1 278h0M370.1 277.7h0M370.2 277.4h0M370.2 277.2h0M370.3 276.9h0M370.3 276.6h0M370.4 276.4h0M370.4 276.1h0M370.5 275.8h0M370.5 275.5h0M370.6 275.2h0M370.6 274.8h0M370.7 274.5h0M370.7 274.2h0M370.8 273.8h0M370.8 273.5h0M370.9 273.1h0M370.9 272.7h0M371 272.4h0M371.1 271.9h0M371.1 271.5h0M371.2 271.1h0M371.2 270.6h0M371.3 270.2h0M371.3 269.7h0M371.4 269.2h0M371.4 268.6h0M371.5 268h0M371.5 267.4h0M371.6 266.8h0M371.6 266.1h0M371.7 265.4h0M371.7 264.7h0M371.8 263.9h0M371.8 263h0M371.9 262h0M371.9 261h0M372 259.9h0M372 258.6h0M372.1 257.2h0M372.1 255.6h0M372.2 253.8h0M372.2 251.6h0M372.2 250.4h0M372.5 247.9h0M372 244.3h0M372.2 239.4h0M372.5 233.2h0M372 225.3h0M372.2 215.5h0M372.5 203.1h0M372 187.7h0M380.3 291.8h0M380.4 290.6h0M380.4 289.9h0M380.5 289.4h0M380.5 289h0M380.6 288.6h0M380.6 288.3h0M380.7 287.9h0M380.7 287.6h0M380.8 287.4h0M380.8 287.1h0M380.9 286.8h0M380.9 286.6h0M381 286.3h0M381 286.1h0M381.1 285.9h0M381.2 285.7h0M381.2 285.4h0M381.3 285.2h0M381.3 285h0M381.4 284.8h0M381.4 284.6h0M381.5 284.4h0M381.5 284.2h0M381.6 284h0M381.6 283.8h0M381.7 283.6h0M381.7 283.4h0M381.8 283.2h0M381.8 283h0M381.9 282.8h0M381.9 282.6h0M382 282.4h0M382 282.2h0M382.1 282h0M382.1 281.8h0M382.2 281.6h0M382.2 281.4h0M382.3 281.2h0M382.4 281h0M382.4 280.8h0M382.5 280.5h0M382.5 280.3h0M382.6 280.1h0M382.6 279.9h0M382.7 279.7h0M382.7 279.5h0M382.8 279.3h0M382.8 279.1h0M382.9 278.9h0M382.9 278.6h0M383 278.4h0M383 278.2h0M383.1 278h0M383.1 277.7h0M383.2 277.5h0M383.2 277.3h0M383.3 277h0M383.3 276.8h0M383.4 276.6h0M383.4 276.3h0M383.5 276.1h0M383.5 275.8h0M383.6 275.6h0M383.7 275.3h0M383.7 275h0M383.8 274.8h0M383.8 274.5h0M383.9 274.2h0M383.9 273.9h0M384 273.6h0M384 273.3h0M384.1 273h0M384.1 272.7h0M384.2 272.4h0M384.2 272.1h0M384.3 271.8h0M384.3 271.4h0M384.4 271.1h0M384.4 270.7h0M384.5 270.4h0M384.5 270h0M384.6 269.6h0M384.6 269.2h0M384.7 268.8h0M384.7 268.3h0M384.8 267.9h0M384.9 267.5h0M384.9 267h0M385 266.5h0M385 266h0M385.1 265.4h0M385.1 264.9h0M385.2 264.3h0M385.2 263.7h0M385.3 263.1h0M385.3 262.4h0M385.4 261.7h0M385.4 260.9h0M385.5 260.1h0M385.5 259.2h0M385.6 258.3h0M385.6 257.3h0M385.7 256.2h0M385.7 255h0M385.8 253.7h0M385.8 252.2h0M385.9 250.6h0M385.9 248.7h0M386 246.4h0M386 245.5h0M386.2 243.5h0M385.8 240.7h0M386 237.1h0M386.2 232.5h0M385.8 227h0M386 220.3h0M386.2 212.2h0M385.8 202.6h0M394.1 290.4h0M394.1 289.3h0M394.2 288.7h0M394.2 288.2h0M394.3 287.8h0M394.3 287.5h0M394.4 287.2h0M394.4 287h0M394.5 286.7h0M394.5 286.5h0M394.6 286.3h0M394.6 286.1h0M394.7 285.9h0M394.7 285.7h0M394.8 285.5h0M394.8 285.3h0M394.9 285.1h0M395 285h0M395 284.8h0M395.1 284.7h0M395.1 284.5h0M395.2 284.3h0M395.2 284.2h0M395.3 284h0M395.3 283.9h0M395.4 283.7h0M395.4 283.6h0M395.5 283.4h0M395.5 283.3h0M395.6 283.1h0M395.6 283h0M395.7 282.9h0M395.7 282.7h0M395.8 282.6h0M395.8 282.4h0M395.9 282.3h0M395.9 282.2h0M396 282h0M396 281.9h0M396.1 281.7h0M396.2 281.6h0M396.2 281.5h0M396.3 281.3h0M396.3 281.2h0M396.4 281h0M396.4 280.9h0M396.5 280.8h0M396.5 280.6h0M396.6 280.5h0M396.6 280.3h0M396.7 280.2h0M396.7 280h0M396.8 279.9h0M396.8 279.7h0M396.9 279.6h0M396.9 279.4h0M397 279.3h0M397 279.1h0M397.1 279h0M397.1 278.8h0M397.2 278.7h0M397.2 278.5h0M397.3 278.3h0M397.4 278.2h0M397.4 278h0M397.5 277.8h0M397.5 277.7h0M397.6 277.5h0M397.6 277.3h0M397.7 277.2h0M397.7 277h0M397.8 276.8h0M397.8 276.6h0M397.9 276.4h0M397.9 276.2h0M398 276h0M398 275.8h0M398.1 275.6h0M398.1 275.4h0M398.2 275.2h0M398.2 275h0M398.3 274.8h0M398.3 274.5h0M398.4 274.3h0M398.4 274.1h0M398.5 273.8h0M398.6 273.6h0M398.6 273.3h0M398.7 273h0M398.7 272.7h0M398.8 272.4h0M398.8 272.1h0M398.9 271.8h0M398.9 271.5h0M399 271.2h0M399 270.8h0M399.1 270.4h0M399.1 270h0M399.2 269.6h0M399.2 269.2h0M399.3 268.7h0M399.3 268.2h0M399.4 267.7h0M399.4 267.1h0M399.5 266.5h0M399.5 265.8h0M399.6 265h0M399.6 264.2h0M399.7 263.2h0M399.7 262.1h0M399.8 261.7h0M400 260.9h0M399.5 259.8h0M399.8 258.4h0M400 256.7h0M399.5 254.7h0M399.8 252.3h0M400 249.5h0M399.5 246.4h0M407.8 294.9h0M407.9 294.7h0M407.9 294.6h0M408 294.6h0M408 294.5h0M408.1 294.5h0M408.1 294.4h0M408.2 294.4h0M408.2 294.3h0M408.3 294.3h0M408.3 294.3h0M408.4 294.2h0M408.4 294.2h0M408.5 294.2h0M408.5 294.1h0M408.6 294.1h0M408.7 294.1h0M408.7 294h0M408.8 294h0M408.8 294h0M408.9 293.9h0M408.9 293.9h0M409 293.9h0M409 293.8h0M409.1 293.8h0M409.1 293.8h0M409.2 293.8h0M409.2 293.7h0M409.3 293.7h0M409.3 293.7h0M409.4 293.6h0M409.4 293.6h0M409.5 293.6h0M409.5 293.6h0M409.6 293.5h0M409.6 293.5h0M409.7 293.5h0M409.7 293.4h0M409.8 293.4h0M409.9 293.4h0M409.9 293.4h0M410 293.3h0M410 293.3h0M410.1 293.3h0M410.1 293.2h0M410.2 293.2h0M410.2 293.2h0M410.3 293.1h0M410.3 293.1h0M410.4 293.1h0M410.4 293h0M410.5 293h0M410.5 293h0M410.6 292.9h0M410.6 292.9h0M410.7 292.9h0M410.7 292.8h0M410.8 292.8h0M410.8 292.8h0M410.9 292.7h0M410.9 292.7h0M411 292.7h0M411 292.6h0M411.1 292.6h0M411.2 292.5h0M411.2 292.5h0M411.3 292.5h0M411.3 292.4h0M411.4 292.4h0M411.4 292.3h0M411.5 292.3h0M411.5 292.3h0M411.6 292.2h0M411.6 292.2h0M411.7 292.1h0M411.7 292.1h0M411.8 292h0M411.8 292h0M411.9 291.9h0M411.9 291.9h0M412 291.8h0M412 291.7h0M412.1 291.7h0M412.1 291.6h0M412.2 291.6h0M412.2 291.5h0M412.3 291.4h0M412.4 291.3h0M412.4 291.3h0M412.5 291.2h0M412.5 291.1h0M412.6 291h0M412.6 291h0M412.7 290.9h0M412.7 290.8h0M412.8 290.7h0M412.8 290.6h0M412.9 290.4h0M412.9 290.3h0M413 290.2h0M413 290.1h0M413.1 289.9h0M413.1 289.8h0M413.2 289.6h0M413.2 289.4h0M413.3 289.2h0M413.3 288.9h0M413.4 288.7h0M413.4 288.4h0M413.5 288h0M413.5 287.6h0M413.8 286.8h0M413.2 285.6h0M413.5 283.8h0M413.8 281.3h0M413.2 277.9h0M413.5 273.1h0M413.8 266.4h0M413.2 256.9h0M421.6 294.6h0M421.6 294.2h0M421.7 294h0M421.7 293.9h0M421.8 293.7h0M421.8 293.6h0M421.9 293.5h0M421.9 293.4h0M422 293.3h0M422 293.2h0M422.1 293.1h0M422.1 293h0M422.2 292.9h0M422.2 292.8h0M422.3 292.7h0M422.3 292.6h0M422.4 292.6h0M422.5 292.5h0M422.5 292.4h0M422.6 292.3h0M422.6 292.2h0M422.7 292.2h0M422.7 292.1h0M422.8 292h0M422.8 291.9h0M422.9 291.8h0M422.9 291.8h0M423 291.7h0M423 291.6h0M423.1 291.5h0M423.1 291.5h0M423.2 291.4h0M423.2 291.3h0M423.3 291.2h0M423.3 291.1h0M423.4 291h0M423.4 291h0M423.5 290.9h0M423.5 290.8h0M423.6 290.7h0M423.7 290.6h0M423.7 290.5h0M423.8 290.5h0M423.8 290.4h0M423.9 290.3h0M423.9 290.2h0M424 290.1h0M424 290h0M424.1 289.9h0M424.1 289.8h0M424.2 289.7h0M424.2 289.6h0M424.3 289.5h0M424.3 289.4h0M424.4 289.3h0M424.4 289.2h0M424.5 289.1h0M424.5 289h0M424.6 288.9h0M424.6 288.8h0M424.7 288.7h0M424.7 288.6h0M424.8 288.5h0M424.9 288.3h0M424.9 288.2h0M425 288.1h0M425 288h0M425.1 287.9h0M425.1 287.7h0M425.2 287.6h0M425.2 287.4h0M425.3 287.3h0M425.3 287.2h0M425.4 287h0M425.4 286.9h0M425.5 286.7h0M425.5 286.6h0M425.6 286.4h0M425.6 286.2h0M425.7 286h0M425.7 285.9h0M425.8 285.7h0M425.8 285.5h0M425.9 285.3h0M425.9 285.1h0M426 284.9h0M426.1 284.6h0M426.1 284.4h0M426.2 284.2h0M426.2 283.9h0M426.3 283.6h0M426.3 283.4h0M426.4 283.1h0M426.4 282.8h0M426.5 282.5h0M426.5 282.1h0M426.6 281.8h0M426.6 281.4h0M426.7 281h0M426.7 280.5h0M426.8 280h0M426.8 279.5h0M426.9 279h0M426.9 278.4h0M427 277.7h0M427 276.9h0M427.1 276.1h0M427.1 275.1h0M427.2 274h0M427.2 272.6h0M427.2 271.6h0M427.5 269.4h0M427 266h0M427.2 261.4h0M427.5 255h0M427 246.3h0M427.2 234.5h0M427.5 218.5h0M427 196.4h0M435.3 290.8h0M435.4 289.2h0M435.4 288.3h0M435.5 287.5h0M435.5 286.9h0M435.6 286.4h0M435.6 285.9h0M435.7 285.4h0M435.7 285h0M435.8 284.6h0M435.8 284.2h0M435.9 283.8h0M435.9 283.5h0M436 283.1h0M436 282.8h0M436.1 282.5h0M436.2 282.1h0M436.2 281.8h0M436.3 281.5h0M436.3 281.2h0M436.4 280.9h0M436.4 280.5h0M436.5 280.2h0M436.5 279.9h0M436.6 279.6h0M436.6 279.3h0M436.7 279h0M436.7 278.7h0M436.8 278.4h0M436.8 278.1h0M436.9 277.8h0M436.9 277.5h0M437 277.2h0M437 276.9h0M437.1 276.6h0M437.1 276.3h0M437.2 276h0M437.2 275.7h0M437.3 275.4h0M437.4 275.1h0M437.4 274.8h0M437.5 274.5h0M437.5 274.2h0M437.6 273.9h0M437.6 273.6h0M437.7 273.3h0M437.7 272.9h0M437.8 272.6h0M437.8 272.3h0M437.9 272h0M437.9 271.6h0M438 271.3h0M438 270.9h0M438.1 270.6h0M438.1 270.2h0M438.2 269.9h0M438.2 269.5h0M438.3 269.2h0M438.3 268.8h0M438.4 268.4h0M438.4 268.1h0M438.5 267.7h0M438.5 267.3h0M438.6 266.9h0M438.7 266.5h0M438.7 266.1h0M438.8 265.7h0M438.8 265.2h0M438.9 264.8h0M438.9 264.3h0M439 263.9h0M439 263.4h0M439.1 263h0M439.1 262.5h0M439.2 262h0M439.2 261.5h0M439.3 261h0M439.3 260.4h0M439.4 259.9h0M439.4 259.3h0M439.5 258.7h0M439.5 258.2h0M439.6 257.5h0M439.6 256.9h0M439.7 256.3h0M439.7 255.6h0M439.8 254.9h0M439.9 254.2h0M439.9 253.4h0M440 252.6h0M440 251.8h0M440.1 251h0M440.1 250.1h0M440.2 249.2h0M440.2 248.2h0M440.3 247.2h0M440.3 246.1h0M440.4 244.9h0M440.4 243.7h0M440.5 242.4h0M440.5 241h0M440.6 239.5h0M440.6 237.9h0M440.7 236.1h0M440.7 234.2h0M440.8 232h0M440.8 229.6h0M440.9 226.9h0M440.9 223.7h0M441 220h0M441 219.4h0M441.2 218.1h0M440.8 216.3h0M441 214h0M441.2 211.2h0M440.8 208.1h0M441 204.4h0M441.2 200.2h0M440.8 195.5h0M449.1 273.8h0M449.1 269.8h0M449.2 267.7h0M449.2 266.2h0M449.3 265h0M449.3 263.9h0M449.4 263h0M449.4 262.1h0M449.5 261.3h0M449.5 260.6h0M449.6 259.9h0M449.6 259.3h0M449.7 258.6h0M449.7 258.1h0M449.8 257.5h0M449.8 256.9h0M449.9 256.4h0M450 255.9h0M450 255.3h0M450.1 254.8h0M450.1 254.4h0M450.2 253.9h0M450.2 253.4h0M450.3 252.9h0M450.3 252.5h0M450.4 252h0M450.4 251.6h0M450.5 251.2h0M450.5 250.7h0M450.6 250.3h0M450.6 249.9h0M450.7 249.4h0M450.7 249h0M450.8 248.6h0M450.8 248.2h0M450.9 247.8h0M450.9 247.3h0M451 246.9h0M451 246.5h0M451.1 246.1h0M451.2 245.7h0M451.2 245.3h0M451.3 244.9h0M451.3 244.5h0M451.4 244.1h0M451.4 243.6h0M451.5 243.2h0M451.5 242.8h0M451.6 242.4h0M451.6 242h0M451.7 241.6h0M451.7 241.2h0M451.8 240.7h0M451.8 240.3h0M451.9 239.9h0M451.9 239.5h0M452 239h0M452 238.6h0M452.1 238.2h0M452.1 237.7h0M452.2 237.3h0M452.2 236.8h0M452.3 236.4h0M452.4 235.9h0M452.4 235.4h0M452.5 235h0M452.5 234.5h0M452.6 234h0M452.6 233.5h0M452.7 233h0M452.7 232.5h0M452.8 232h0M452.8 231.5h0M452.9 231h0M452.9 230.5h0M453 229.9h0M453 229.4h0M453.1 228.8h0M453.1 228.3h0M453.2 227.7h0M453.2 227.1h0M453.3 226.5h0M453.3 225.9h0M453.4 225.2h0M453.4 224.6h0M453.5 223.9h0M453.6 223.2h0M453.6 222.5h0M453.7 221.8h0M453.7 221h0M453.8 220.3h0M453.8 219.5h0M453.9 218.6h0M453.9 217.8h0M454 216.9h0M454 215.9h0M454.1 215h0M454.1 213.9h0M454.2 212.9h0M454.2 211.7h0M454.3 210.5h0M454.3 209.2h0M454.4 207.9h0M454.4 206.4h0M454.5 204.8h0M454.5 203.1h0M454.6 201.1h0M454.6 199h0M454.7 196.6h0M454.7 193.8h0M454.8 191.7h0M455 187.2h0M454.5 180.9h0M454.8 172.6h0M455 162.2h0M454.5 149.4h0M454.8 133.8h0M455 114.9h0M454.5 92h0M462.8 287.3h0M462.9 285.4h0M462.9 284.4h0M463 283.7h0M463 283.1h0M463.1 282.6h0M463.1 282.1h0M463.2 281.7h0M463.2 281.3h0M463.3 280.9h0M463.3 280.5h0M463.4 280.2h0M463.4 279.9h0M463.5 279.6h0M463.5 279.3h0M463.6 279h0M463.7 278.7h0M463.7 278.4h0M463.8 278.1h0M463.8 277.9h0M463.9 277.6h0M463.9 277.4h0M464 277.1h0M464 276.9h0M464.1 276.6h0M464.1 276.4h0M464.2 276.1h0M464.2 275.9h0M464.3 275.7h0M464.3 275.4h0M464.4 275.2h0M464.4 275h0M464.5 274.7h0M464.5 274.5h0M464.6 274.3h0M464.6 274h0M464.7 273.8h0M464.7 273.6h0M464.8 273.3h0M464.9 273.1h0M464.9 272.9h0M465 272.7h0M465 272.4h0M465.1 272.2h0M465.1 272h0M465.2 271.7h0M465.2 271.5h0M465.3 271.3h0M465.3 271h0M465.4 270.8h0M465.4 270.6h0M465.5 270.3h0M465.5 270.1h0M465.6 269.8h0M465.6 269.6h0M465.7 269.3h0M465.7 269.1h0M465.8 268.9h0M465.8 268.6h0M465.9 268.3h0M465.9 268.1h0M466 267.8h0M466 267.6h0M466.1 267.3h0M466.2 267h0M466.2 266.8h0M466.3 266.5h0M466.3 266.2h0M466.4 265.9h0M466.4 265.6h0M466.5 265.3h0M466.5 265h0M466.6 264.7h0M466.6 264.4h0M466.7 264.1h0M466.7 263.8h0M466.8 263.5h0M466.8 263.1h0M466.9 262.8h0M466.9 262.4h0M467 262.1h0M467 261.7h0M467.1 261.3h0M467.1 260.9h0M467.2 260.6h0M467.2 260.1h0M467.3 259.7h0M467.4 259.3h0M467.4 258.9h0M467.5 258.4h0M467.5 257.9h0M467.6 257.4h0M467.6 256.9h0M467.7 256.4h0M467.7 255.8h0M467.8 255.2h0M467.8 254.6h0M467.9 254h0M467.9 253.3h0M468 252.6h0M468 251.8h0M468.1 251h0M468.1 250.1h0M468.2 249.2h0M468.2 248.2h0M468.3 247.1h0M468.3 245.8h0M468.4 244.4h0M468.4 242.8h0M468.5 241h0M468.5 239.6h0M468.8 236.8h0M468.2 232.7h0M468.5 227.2h0M468.8 220.3h0M468.2 211.6h0M468.5 200.8h0M468.8 187.5h0M468.2 171h0M469.7 287.5h0M469.7 285.1h0M469.8 283.7h0M469.8 282.7h0M469.9 281.8h0M470 281.1h0M470 280.4h0M470.1 279.7h0M470.1 279.2h0M470.2 278.6h0M470.2 278.1h0M470.3 277.6h0M470.3 277.1h0M470.4 276.6h0M470.4 276.1h0M470.5 275.7h0M470.5 275.2h0M470.6 274.8h0M470.6 274.4h0M470.7 274h0M470.7 273.5h0M470.8 273.1h0M470.8 272.7h0M470.9 272.3h0M470.9 271.9h0M471 271.5h0M471 271.1h0M471.1 270.8h0M471.2 270.4h0M471.2 270h0M471.3 269.6h0M471.3 269.2h0M471.4 268.8h0M471.4 268.4h0M471.5 268.1h0M471.5 267.7h0M471.6 267.3h0M471.6 266.9h0M471.7 266.5h0M471.7 266.1h0M471.8 265.7h0M471.8 265.3h0M471.9 265h0M471.9 264.6h0M472 264.2h0M472 263.8h0M472.1 263.4h0M472.1 263h0M472.2 262.5h0M472.2 262.1h0M472.3 261.7h0M472.4 261.3h0M472.4 260.9h0M472.5 260.4h0M472.5 260h0M472.6 259.6h0M472.6 259.1h0M472.7 258.7h0M472.7 258.2h0M472.8 257.8h0M472.8 257.3h0M472.9 256.8h0M472.9 256.4h0M473 255.9h0M473 255.4h0M473.1 254.9h0M473.1 254.4h0M473.2 253.9h0M473.2 253.4h0M473.3 252.8h0M473.3 252.3h0M473.4 251.7h0M473.4 251.2h0M473.5 250.6h0M473.6 250h0M473.6 249.4h0M473.7 248.8h0M473.7 248.1h0M473.8 247.5h0M473.8 246.8h0M473.9 246.1h0M473.9 245.4h0M474 244.7h0M474 244h0M474.1 243.2h0M474.1 242.4h0M474.2 241.6h0M474.2 240.8h0M474.3 239.9h0M474.3 239h0M474.4 238.1h0M474.4 237.1h0M474.5 236.1h0M474.5 235h0M474.6 233.9h0M474.6 232.7h0M474.7 231.5h0M474.7 230.2h0M474.8 228.8h0M474.9 227.3h0M474.9 225.7h0M475 224.1h0M475 222.2h0M475.1 220.3h0M475.1 218.1h0M475.2 215.7h0M475.2 213.1h0M475.3 210.1h0M475.3 206.6h0M475.4 202.6h0M475.4 201.4h0M475.6 198.9h0M475.1 195.3h0M475.4 190.8h0M475.6 185.4h0M475.1 178.8h0M475.4 171.1h0M475.6 162.2h0M475.1 151.8h0M483.4 289.3h0M483.5 288h0M483.5 287.3h0M483.6 286.8h0M483.7 286.4h0M483.7 286h0M483.8 285.7h0M483.8 285.4h0M483.9 285.1h0M483.9 284.9h0M484 284.6h0M484 284.4h0M484.1 284.2h0M484.1 283.9h0M484.2 283.7h0M484.2 283.5h0M484.3 283.4h0M484.3 283.2h0M484.4 283h0M484.4 282.8h0M484.5 282.6h0M484.5 282.4h0M484.6 282.3h0M484.6 282.1h0M484.7 281.9h0M484.7 281.8h0M484.8 281.6h0M484.9 281.5h0M484.9 281.3h0M485 281.1h0M485 281h0M485.1 280.8h0M485.1 280.7h0M485.2 280.5h0M485.2 280.4h0M485.3 280.2h0M485.3 280h0M485.4 279.9h0M485.4 279.7h0M485.5 279.6h0M485.5 279.4h0M485.6 279.3h0M485.6 279.1h0M485.7 279h0M485.7 278.8h0M485.8 278.7h0M485.8 278.5h0M485.9 278.3h0M485.9 278.2h0M486 278h0M486 277.9h0M486.1 277.7h0M486.2 277.6h0M486.2 277.4h0M486.3 277.2h0M486.3 277.1h0M486.4 276.9h0M486.4 276.7h0M486.5 276.6h0M486.5 276.4h0M486.6 276.2h0M486.6 276.1h0M486.7 275.9h0M486.7 275.7h0M486.8 275.5h0M486.8 275.3h0M486.9 275.2h0M486.9 275h0M487 274.8h0M487 274.6h0M487.1 274.4h0M487.1 274.2h0M487.2 274h0M487.2 273.8h0M487.3 273.6h0M487.4 273.4h0M487.4 273.2h0M487.5 272.9h0M487.5 272.7h0M487.6 272.5h0M487.6 272.3h0M487.7 272h0M487.7 271.8h0M487.8 271.5h0M487.8 271.3h0M487.9 271h0M487.9 270.7h0M488 270.4h0M488 270.1h0M488.1 269.8h0M488.1 269.5h0M488.2 269.2h0M488.2 268.9h0M488.3 268.5h0M488.3 268.2h0M488.4 267.8h0M488.4 267.4h0M488.5 267h0M488.6 266.5h0M488.6 266.1h0M488.7 265.6h0M488.7 265h0M488.8 264.5h0M488.8 263.9h0M488.9 263.2h0M488.9 262.5h0M489 261.7h0M489 260.8h0M489.1 259.8h0M489.1 258.6h0M489.1 258h0M489.4 256.9h0M488.9 255.2h0M489.1 253.1h0M489.4 250.5h0M488.9 247.3h0M489.1 243.6h0M489.4 239.2h0M488.9 234h0M497.2 294.3h0M497.2 294h0M497.3 293.8h0M497.3 293.7h0M497.4 293.6h0M497.5 293.5h0M497.5 293.5h0M497.6 293.4h0M497.6 293.3h0M497.7 293.3h0M497.7 293.2h0M497.8 293.1h0M497.8 293.1h0M497.9 293h0M497.9 293h0M498 292.9h0M498 292.9h0M498.1 292.8h0M498.1 292.8h0M498.2 292.7h0M498.2 292.7h0M498.3 292.6h0M498.3 292.6h0M498.4 292.5h0M498.4 292.5h0M498.5 292.4h0M498.5 292.4h0M498.6 292.4h0M498.7 292.3h0M498.7 292.3h0M498.8 292.2h0M498.8 292.2h0M498.9 292.1h0M498.9 292.1h0M499 292.1h0M499 292h0M499.1 292h0M499.1 291.9h0M499.2 291.9h0M499.2 291.8h0M499.3 291.8h0M499.3 291.7h0M499.4 291.7h0M499.4 291.7h0M499.5 291.6h0M499.5 291.6h0M499.6 291.5h0M499.6 291.5h0M499.7 291.4h0M499.7 291.4h0M499.8 291.3h0M499.9 291.3h0M499.9 291.3h0M500 291.2h0M500 291.2h0M500.1 291.1h0M500.1 291.1h0M500.2 291h0M500.2 291h0M500.3 290.9h0M500.3 290.9h0M500.4 290.8h0M500.4 290.8h0M500.5 290.7h0M500.5 290.6h0M500.6 290.6h0M500.6 290.5h0M500.7 290.5h0M500.7 290.4h0M500.8 290.4h0M500.8 290.3h0M500.9 290.2h0M500.9 290.2h0M501 290.1h0M501.1 290.1h0M501.1 290h0M501.2 289.9h0M501.2 289.9h0M501.3 289.8h0M501.3 289.7h0M501.4 289.6h0M501.4 289.6h0M501.5 289.5h0M501.5 289.4h0M501.6 289.3h0M501.6 289.2h0M501.7 289.1h0M501.7 289.1h0M501.8 289h0M501.8 288.9h0M501.9 288.8h0M501.9 288.7h0M502 288.5h0M502 288.4h0M502.1 288.3h0M502.1 288.2h0M502.2 288.1h0M502.2 287.9h0M502.3 287.8h0M502.4 287.6h0M502.4 287.4h0M502.5 287.3h0M502.5 287.1h0M502.6 286.9h0M502.6 286.6h0M502.7 286.4h0M502.7 286.1h0M502.8 285.8h0M502.8 285.4h0M502.9 285h0M502.9 284.8h0M503.1 284.5h0M502.6 283.9h0M502.9 283.2h0M503.1 282.4h0M502.6 281.4h0M502.9 280.2h0M503.1 278.7h0M502.6 277h0M510.9 294.1h0M511 293.6h0M511 293.3h0M511.1 293.1h0M511.2 292.9h0M511.2 292.7h0M511.3 292.6h0M511.3 292.4h0M511.4 292.3h0M511.4 292.2h0M511.5 292.1h0M511.5 291.9h0M511.6 291.8h0M511.6 291.7h0M511.7 291.6h0M511.7 291.5h0M511.8 291.4h0M511.8 291.3h0M511.9 291.2h0M511.9 291.1h0M512 291h0M512 290.9h0M512.1 290.8h0M512.1 290.7h0M512.2 290.6h0M512.2 290.5h0M512.3 290.4h0M512.4 290.3h0M512.4 290.2h0M512.5 290.1h0M512.5 290h0M512.6 289.9h0M512.6 289.8h0M512.7 289.7h0M512.7 289.6h0M512.8 289.5h0M512.8 289.4h0M512.9 289.3h0M512.9 289.2h0M513 289.1h0M513 289h0M513.1 288.9h0M513.1 288.7h0M513.2 288.6h0M513.2 288.5h0M513.3 288.4h0M513.3 288.3h0M513.4 288.2h0M513.4 288.1h0M513.5 288h0M513.5 287.9h0M513.6 287.8h0M513.7 287.6h0M513.7 287.5h0M513.8 287.4h0M513.8 287.3h0M513.9 287.2h0M513.9 287h0M514 286.9h0M514 286.8h0M514.1 286.6h0M514.1 286.5h0M514.2 286.4h0M514.2 286.2h0M514.3 286.1h0M514.3 285.9h0M514.4 285.8h0M514.4 285.6h0M514.5 285.5h0M514.5 285.3h0M514.6 285.2h0M514.6 285h0M514.7 284.9h0M514.7 284.7h0M514.8 284.5h0M514.9 284.3h0M514.9 284.1h0M515 284h0M515 283.8h0M515.1 283.6h0M515.1 283.4h0M515.2 283.1h0M515.2 282.9h0M515.3 282.7h0M515.3 282.5h0M515.4 282.2h0M515.4 282h0M515.5 281.7h0M515.5 281.4h0M515.6 281.2h0M515.6 280.9h0M515.7 280.6h0M515.7 280.2h0M515.8 279.9h0M515.8 279.5h0M515.9 279.2h0M515.9 278.8h0M516 278.4h0M516.1 277.9h0M516.1 277.4h0M516.2 276.9h0M516.2 276.4h0M516.3 275.7h0M516.3 275.1h0M516.4 274.4h0M516.4 273.6h0M516.5 272.6h0M516.5 271.6h0M516.6 270.4h0M516.6 269h0M516.6 268.3h0M516.9 266.9h0M516.4 264.8h0M516.6 262h0M516.9 258.5h0M516.4 254.1h0M516.6 248.6h0M516.9 241.7h0M516.4 233.2h0M524.7 279.2h0M524.7 276.5h0M524.8 275.1h0M524.8 274.1h0M524.9 273.3h0M525 272.6h0M525 272h0M525.1 271.4h0M525.1 270.9h0M525.2 270.4h0M525.2 269.9h0M525.3 269.5h0M525.3 269.1h0M525.4 268.7h0M525.4 268.3h0M525.5 268h0M525.5 267.6h0M525.6 267.3h0M525.6 267h0M525.7 266.6h0M525.7 266.3h0M525.8 266h0M525.8 265.7h0M525.9 265.4h0M525.9 265.1h0M526 264.8h0M526 264.5h0M526.1 264.3h0M526.2 264h0M526.2 263.7h0M526.3 263.4h0M526.3 263.1h0M526.4 262.9h0M526.4 262.6h0M526.5 262.3h0M526.5 262.1h0M526.6 261.8h0M526.6 261.5h0M526.7 261.3h0M526.7 261h0M526.8 260.8h0M526.8 260.5h0M526.9 260.2h0M526.9 260h0M527 259.7h0M527 259.5h0M527.1 259.2h0M527.1 258.9h0M527.2 258.7h0M527.2 258.4h0M527.3 258.1h0M527.4 257.9h0M527.4 257.6h0M527.5 257.3h0M527.5 257.1h0M527.6 256.8h0M527.6 256.5h0M527.7 256.3h0M527.7 256h0M527.8 255.7h0M527.8 255.4h0M527.9 255.1h0M527.9 254.9h0M528 254.6h0M528 254.3h0M528.1 254h0M528.1 253.7h0M528.2 253.4h0M528.2 253.1h0M528.3 252.8h0M528.3 252.5h0M528.4 252.2h0M528.4 251.8h0M528.5 251.5h0M528.6 251.2h0M528.6 250.8h0M528.7 250.5h0M528.7 250.2h0M528.8 249.8h0M528.8 249.4h0M528.9 249.1h0M528.9 248.7h0M529 248.3h0M529 247.9h0M529.1 247.5h0M529.1 247.1h0M529.2 246.7h0M529.2 246.2h0M529.3 245.8h0M529.3 245.3h0M529.4 244.9h0M529.4 244.4h0M529.5 243.9h0M529.5 243.3h0M529.6 242.8h0M529.6 242.2h0M529.7 241.6h0M529.7 241h0M529.8 240.3h0M529.9 239.6h0M529.9 238.9h0M530 238.1h0M530 237.3h0M530.1 236.4h0M530.1 235.4h0M530.2 234.4h0M530.2 233.2h0M530.3 231.9h0M530.3 230.5h0M530.4 228.8h0M530.4 228.6h0M530.6 228.1h0M530.1 227.4h0M530.4 226.5h0M530.6 225.5h0M530.1 224.3h0M530.4 223h0M530.6 221.6h0M530.1 220h0M538.4 292.8h0M538.5 291.7h0M538.5 291.1h0M538.6 290.5h0M538.7 290.1h0M538.7 289.7h0M538.8 289.3h0M538.8 288.9h0M538.9 288.6h0M538.9 288.3h0M539 288h0M539 287.6h0M539.1 287.4h0M539.1 287.1h0M539.2 286.8h0M539.2 286.5h0M539.3 286.2h0M539.3 286h0M539.4 285.7h0M539.4 285.4h0M539.5 285.2h0M539.5 284.9h0M539.6 284.6h0M539.6 284.4h0M539.7 284.1h0M539.7 283.8h0M539.8 283.6h0M539.9 283.3h0M539.9 283.1h0M540 282.8h0M540 282.5h0M540.1 282.3h0M540.1 282h0M540.2 281.7h0M540.2 281.5h0M540.3 281.2h0M540.3 280.9h0M540.4 280.6h0M540.4 280.4h0M540.5 280.1h0M540.5 279.8h0M540.6 279.5h0M540.6 279.2h0M540.7 278.9h0M540.7 278.6h0M540.8 278.4h0M540.8 278.1h0M540.9 277.7h0M540.9 277.4h0M541 277.1h0M541 276.8h0M541.1 276.5h0M541.2 276.2h0M541.2 275.8h0M541.3 275.5h0M541.3 275.2h0M541.4 274.8h0M541.4 274.5h0M541.5 274.1h0M541.5 273.8h0M541.6 273.4h0M541.6 273h0M541.7 272.6h0M541.7 272.2h0M541.8 271.8h0M541.8 271.4h0M541.9 271h0M541.9 270.6h0M542 270.2h0M542 269.7h0M542.1 269.3h0M542.1 268.8h0M542.2 268.3h0M542.2 267.8h0M542.3 267.3h0M542.4 266.8h0M542.4 266.3h0M542.5 265.7h0M542.5 265.2h0M542.6 264.6h0M542.6 264h0M542.7 263.4h0M542.7 262.7h0M542.8 262.1h0M542.8 261.4h0M542.9 260.7h0M542.9 259.9h0M543 259.2h0M543 258.4h0M543.1 257.5h0M543.1 256.7h0M543.2 255.7h0M543.2 254.8h0M543.3 253.8h0M543.3 252.7h0M543.4 251.6h0M543.4 250.4h0M543.5 249.1h0M543.6 247.7h0M543.6 246.3h0M543.7 244.7h0M543.7 243h0M543.8 241.1h0M543.8 239.1h0M543.9 236.9h0M543.9 234.3h0M544 231.5h0M544 228.3h0M544.1 224.5h0M544.1 220h0M544.1 219h0M544.4 216.9h0M543.9 214h0M544.1 210.3h0M544.4 205.8h0M543.9 200.4h0M544.1 194h0M544.4 186.6h0M543.9 178h0M552.2 289.5h0M552.2 287.8h0M552.3 286.9h0M552.3 286.2h0M552.4 285.7h0M552.5 285.2h0M552.5 284.7h0M552.6 284.3h0M552.6 283.9h0M552.7 283.6h0M552.7 283.2h0M552.8 282.9h0M552.8 282.6h0M552.9 282.2h0M552.9 281.9h0M553 281.7h0M553 281.4h0M553.1 281.1h0M553.1 280.8h0M553.2 280.5h0M553.2 280.3h0M553.3 280h0M553.3 279.8h0M553.4 279.5h0M553.4 279.3h0M553.5 279h0M553.5 278.8h0M553.6 278.5h0M553.7 278.3h0M553.7 278h0M553.8 277.8h0M553.8 277.5h0M553.9 277.3h0M553.9 277h0M554 276.8h0M554 276.6h0M554.1 276.3h0M554.1 276.1h0M554.2 275.8h0M554.2 275.6h0M554.3 275.3h0M554.3 275.1h0M554.4 274.8h0M554.4 274.6h0M554.5 274.4h0M554.5 274.1h0M554.6 273.9h0M554.6 273.6h0M554.7 273.3h0M554.7 273.1h0M554.8 272.8h0M554.9 272.6h0M554.9 272.3h0M555 272h0M555 271.8h0M555.1 271.5h0M555.1 271.2h0M555.2 271h0M555.2 270.7h0M555.3 270.4h0M555.3 270.1h0M555.4 269.8h0M555.4 269.5h0M555.5 269.2h0M555.5 268.9h0M555.6 268.6h0M555.6 268.3h0M555.7 268h0M555.7 267.7h0M555.8 267.3h0M555.8 267h0M555.9 266.7h0M555.9 266.3h0M556 266h0M556.1 265.6h0M556.1 265.3h0M556.2 264.9h0M556.2 264.5h0M556.3 264.1h0M556.3 263.7h0M556.4 263.3h0M556.4 262.9h0M556.5 262.4h0M556.5 262h0M556.6 261.5h0M556.6 261.1h0M556.7 260.6h0M556.7 260.1h0M556.8 259.5h0M556.8 259h0M556.9 258.4h0M556.9 257.8h0M557 257.2h0M557 256.6h0M557.1 255.9h0M557.1 255.2h0M557.2 254.5h0M557.2 253.7h0M557.3 252.9h0M557.4 252h0M557.4 251.1h0M557.5 250.1h0M557.5 249.1h0M557.6 247.9h0M557.6 246.6h0M557.7 245.2h0M557.7 243.7h0M557.8 241.9h0M557.8 239.9h0M557.9 237.6h0M557.9 235.8h0M558.1 232h0M557.6 226.4h0M557.9 218.9h0M558.1 209.1h0M557.6 196.5h0M557.9 180.5h0M558.1 160.1h0M557.6 134h0M565.9 278.5h0M566 275.8h0M566 274.4h0M566.1 273.4h0M566.2 272.6h0M566.2 271.9h0M566.3 271.2h0M566.3 270.7h0M566.4 270.2h0M566.4 269.7h0M566.5 269.2h0M566.5 268.8h0M566.6 268.4h0M566.6 268h0M566.7 267.6h0M566.7 267.3h0M566.8 266.9h0M566.8 266.6h0M566.9 266.3h0M566.9 265.9h0M567 265.6h0M567 265.3h0M567.1 265h0M567.1 264.7h0M567.2 264.4h0M567.2 264.1h0M567.3 263.8h0M567.4 263.6h0M567.4 263.3h0M567.5 263h0M567.5 262.7h0M567.6 262.5h0M567.6 262.2h0M567.7 261.9h0M567.7 261.7h0M567.8 261.4h0M567.8 261.1h0M567.9 260.9h0M567.9 260.6h0M568 260.4h0M568 260.1h0M568.1 259.8h0M568.1 259.6h0M568.2 259.3h0M568.2 259.1h0M568.3 258.8h0M568.3 258.6h0M568.4 258.3h0M568.4 258h0M568.5 257.8h0M568.5 257.5h0M568.6 257.3h0M568.7 257h0M568.7 256.7h0M568.8 256.5h0M568.8 256.2h0M568.9 255.9h0M568.9 255.7h0M569 255.4h0M569 255.1h0M569.1 254.8h0M569.1 254.6h0M569.2 254.3h0M569.2 254h0M569.3 253.7h0M569.3 253.4h0M569.4 253.1h0M569.4 252.8h0M569.5 252.5h0M569.5 252.2h0M569.6 251.9h0M569.6 251.6h0M569.7 251.3h0M569.7 251h0M569.8 250.7h0M569.9 250.3h0M569.9 250h0M570 249.6h0M570 249.3h0M570.1 248.9h0M570.1 248.6h0M570.2 248.2h0M570.2 247.8h0M570.3 247.5h0M570.3 247.1h0M570.4 246.7h0M570.4 246.2h0M570.5 245.8h0M570.5 245.4h0M570.6 244.9h0M570.6 244.5h0M570.7 244h0M570.7 243.5h0M570.8 243h0M570.8 242.4h0M570.9 241.9h0M570.9 241.3h0M571 240.7h0M571.1 240h0M571.1 239.3h0M571.2 238.6h0M571.2 237.9h0M571.3 237.1h0M571.3 236.2h0M571.4 235.2h0M571.4 234.2h0M571.5 233.1h0M571.5 231.8h0M571.6 230.4h0M571.6 228.8h0M571.6 227.6h0M571.9 225.2h0M571.4 221.8h0M571.6 217.3h0M571.9 211.8h0M571.4 205.2h0M571.6 197.2h0M571.9 187.6h0M571.4 176.3h0M579.7 268.3h0M579.7 263.3h0M579.8 260.7h0M579.8 258.8h0M579.9 257.2h0M580 255.9h0M580 254.7h0M580.1 253.7h0M580.1 252.7h0M580.2 251.8h0M580.2 250.9h0M580.3 250.1h0M580.3 249.3h0M580.4 248.5h0M580.4 247.8h0M580.5 247.1h0M580.5 246.4h0M580.6 245.8h0M580.6 245.1h0M580.7 244.5h0M580.7 243.9h0M580.8 243.3h0M580.8 242.7h0M580.9 242.1h0M580.9 241.5h0M581 241h0M581 240.4h0M581.1 239.8h0M581.2 239.3h0M581.2 238.8h0M581.3 238.2h0M581.3 237.7h0M581.4 237.1h0M581.4 236.6h0M581.5 236.1h0M581.5 235.6h0M581.6 235h0M581.6 234.5h0M581.7 234h0M581.7 233.5h0M581.8 233h0M581.8 232.5h0M581.9 231.9h0M581.9 231.4h0M582 230.9h0M582 230.4h0M582.1 229.9h0M582.1 229.3h0M582.2 228.8h0M582.2 228.3h0M582.3 227.8h0M582.4 227.2h0M582.4 226.7h0M582.5 226.2h0M582.5 225.6h0M582.6 225.1h0M582.6 224.6h0M582.7 224h0M582.7 223.5h0M582.8 222.9h0M582.8 222.3h0M582.9 221.8h0M582.9 221.2h0M583 220.6h0M583 220h0M583.1 219.5h0M583.1 218.9h0M583.2 218.3h0M583.2 217.6h0M583.3 217h0M583.3 216.4h0M583.4 215.8h0M583.4 215.1h0M583.5 214.5h0M583.6 213.8h0M583.6 213.1h0M583.7 212.4h0M583.7 211.7h0M583.8 211h0M583.8 210.3h0M583.9 209.5h0M583.9 208.7h0M584 208h0M584 207.2h0M584.1 206.3h0M584.1 205.5h0M584.2 204.6h0M584.2 203.7h0M584.3 202.8h0M584.3 201.9h0M584.4 200.9h0M584.4 199.9h0M584.5 198.8h0M584.5 197.8h0M584.6 196.6h0M584.6 195.4h0M584.7 194.2h0M584.7 192.9h0M584.8 191.6h0M584.9 190.1h0M584.9 188.6h0M585 187h0M585 185.3h0M585.1 183.4h0M585.1 181.4h0M585.2 179.2h0M585.2 176.8h0M585.3 174.1h0M585.3 171h0M585.4 167.5h0M585.4 166.5h0M585.6 164.5h0M585.1 161.7h0M585.4 158.2h0M585.6 154h0M585.1 149.1h0M585.4 143.5h0M585.6 137.1h0M585.1 130h0M593.4 292.4h0M593.5 291.7h0M593.5 291.4h0M593.6 291.1h0M593.7 290.9h0M593.7 290.7h0M593.8 290.5h0M593.8 290.4h0M593.9 290.2h0M593.9 290.1h0M594 290h0M594 289.9h0M594.1 289.7h0M594.1 289.6h0M594.2 289.5h0M594.2 289.4h0M594.3 289.3h0M594.3 289.2h0M594.4 289.1h0M594.4 289h0M594.5 288.9h0M594.5 288.8h0M594.6 288.7h0M594.6 288.7h0M594.7 288.6h0M594.7 288.5h0M594.8 288.4h0M594.9 288.3h0M594.9 288.2h0M595 288.1h0M595 288.1h0M595.1 288h0M595.1 287.9h0M595.2 287.8h0M595.2 287.7h0M595.3 287.7h0M595.3 287.6h0M595.4 287.5h0M595.4 287.4h0M595.5 287.3h0M595.5 287.2h0M595.6 287.2h0M595.6 287.1h0M595.7 287h0M595.7 286.9h0M595.8 286.8h0M595.8 286.8h0M595.9 286.7h0M595.9 286.6h0M596 286.5h0M596 286.4h0M596.1 286.3h0M596.2 286.3h0M596.2 286.2h0M596.3 286.1h0M596.3 286h0M596.4 285.9h0M596.4 285.8h0M596.5 285.7h0M596.5 285.6h0M596.6 285.5h0M596.6 285.5h0M596.7 285.4h0M596.7 285.3h0M596.8 285.2h0M596.8 285.1h0M596.9 285h0M596.9 284.9h0M597 284.8h0M597 284.7h0M597.1 284.6h0M597.1 284.5h0M597.2 284.4h0M597.2 284.2h0M597.3 284.1h0M597.4 284h0M597.4 283.9h0M597.5 283.8h0M597.5 283.7h0M597.6 283.5h0M597.6 283.4h0M597.7 283.3h0M597.7 283.2h0M597.8 283h0M597.8 282.9h0M597.9 282.7h0M597.9 282.6h0M598 282.4h0M598 282.3h0M598.1 282.1h0M598.1 282h0M598.2 281.8h0M598.2 281.6h0M598.3 281.4h0M598.3 281.2h0M598.4 281h0M598.4 280.8h0M598.5 280.6h0M598.6 280.3h0M598.6 280.1h0M598.7 279.8h0M598.7 279.5h0M598.8 279.2h0M598.8 278.9h0M598.9 278.5h0M598.9 278.1h0M599 277.7h0M599 277.2h0M599.1 276.6h0M599.1 276h0M599.1 275.7h0M599.4 275h0M598.9 274.1h0M599.1 272.9h0M599.4 271.4h0M598.9 269.6h0M599.1 267.5h0M599.4 265h0M598.9 262h0M607.2 293.1h0M607.2 292.4h0M607.3 292.1h0M607.3 291.8h0M607.4 291.6h0M607.5 291.4h0M607.5 291.2h0M607.6 291.1h0M607.6 290.9h0M607.7 290.8h0M607.7 290.6h0M607.8 290.5h0M607.8 290.4h0M607.9 290.3h0M607.9 290.1h0M608 290h0M608 289.9h0M608.1 289.8h0M608.1 289.7h0M608.2 289.6h0M608.2 289.5h0M608.3 289.4h0M608.3 289.3h0M608.4 289.2h0M608.4 289.1h0M608.5 289h0M608.5 288.9h0M608.6 288.8h0M608.7 288.7h0M608.7 288.6h0M608.8 288.5h0M608.8 288.4h0M608.9 288.3h0M608.9 288.2h0M609 288.1h0M609 288h0M609.1 287.9h0M609.1 287.8h0M609.2 287.7h0M609.2 287.6h0M609.3 287.5h0M609.3 287.5h0M609.4 287.4h0M609.4 287.3h0M609.5 287.2h0M609.5 287.1h0M609.6 287h0M609.6 286.9h0M609.7 286.8h0M609.7 286.7h0M609.8 286.6h0M609.9 286.5h0M609.9 286.4h0M610 286.3h0M610 286.1h0M610.1 286h0M610.1 285.9h0M610.2 285.8h0M610.2 285.7h0M610.3 285.6h0M610.3 285.5h0M610.4 285.4h0M610.4 285.3h0M610.5 285.1h0M610.5 285h0M610.6 284.9h0M610.6 284.8h0M610.7 284.7h0M610.7 284.5h0M610.8 284.4h0M610.8 284.3h0M610.9 284.1h0M610.9 284h0M611 283.9h0M611.1 283.7h0M611.1 283.6h0M611.2 283.4h0M611.2 283.3h0M611.3 283.1h0M611.3 283h0M611.4 282.8h0M611.4 282.6h0M611.5 282.5h0M611.5 282.3h0M611.6 282.1h0M611.6 281.9h0M611.7 281.7h0M611.7 281.5h0M611.8 281.3h0M611.8 281.1h0M611.9 280.9h0M611.9 280.6h0M612 280.4h0M612 280.1h0M612.1 279.9h0M612.1 279.6h0M612.2 279.3h0M612.2 279h0M612.3 278.7h0M612.4 278.3h0M612.4 278h0M612.5 277.6h0M612.5 277.2h0M612.6 276.7h0M612.6 276.2h0M612.7 275.6h0M612.7 275h0M612.8 274.3h0M612.8 273.5h0M612.9 272.6h0M612.9 272.2h0M613.1 271.4h0M612.6 270.2h0M612.9 268.7h0M613.1 266.9h0M612.6 264.7h0M612.9 262h0M613.1 258.8h0M612.6 255h0M620.9 288.3h0M621 286.5h0M621 285.5h0M621.1 284.7h0M621.2 284.1h0M621.2 283.6h0M621.3 283.1h0M621.3 282.7h0M621.4 282.3h0M621.4 281.9h0M621.5 281.5h0M621.5 281.2h0M621.6 280.9h0M621.6 280.5h0M621.7 280.2h0M621.7 279.9h0M621.8 279.6h0M621.8 279.3h0M621.9 279.1h0M621.9 278.8h0M622 278.5h0M622 278.2h0M622.1 278h0M622.1 277.7h0M622.2 277.5h0M622.2 277.2h0M622.3 277h0M622.4 276.7h0M622.4 276.5h0M622.5 276.2h0M622.5 276h0M622.6 275.7h0M622.6 275.5h0M622.7 275.2h0M622.7 275h0M622.8 274.7h0M622.8 274.5h0M622.9 274.2h0M622.9 274h0M623 273.8h0M623 273.5h0M623.1 273.3h0M623.1 273h0M623.2 272.8h0M623.2 272.5h0M623.3 272.3h0M623.3 272h0M623.4 271.8h0M623.4 271.5h0M623.5 271.3h0M623.5 271h0M623.6 270.8h0M623.7 270.5h0M623.7 270.2h0M623.8 270h0M623.8 269.7h0M623.9 269.4h0M623.9 269.2h0M624 268.9h0M624 268.6h0M624.1 268.3h0M624.1 268h0M624.2 267.8h0M624.2 267.5h0M624.3 267.2h0M624.3 266.9h0M624.4 266.6h0M624.4 266.3h0M624.5 265.9h0M624.5 265.6h0M624.6 265.3h0M624.6 265h0M624.7 264.6h0M624.7 264.3h0M624.8 263.9h0M624.9 263.6h0M624.9 263.2h0M625 262.9h0M625 262.5h0M625.1 262.1h0M625.1 261.7h0M625.2 261.3h0M625.2 260.9h0M625.3 260.4h0M625.3 260h0M625.4 259.5h0M625.4 259.1h0M625.5 258.6h0M625.5 258.1h0M625.6 257.6h0M625.6 257h0M625.7 256.5h0M625.7 255.9h0M625.8 255.3h0M625.8 254.7h0M625.9 254h0M625.9 253.3h0M626 252.6h0M626.1 251.8h0M626.1 251h0M626.2 250.1h0M626.2 249.2h0M626.3 248.2h0M626.3 247.1h0M626.4 245.9h0M626.4 244.6h0M626.5 243.2h0M626.5 241.6h0M626.6 239.7h0M626.6 237.6h0M626.6 237.1h0M626.9 236.1h0M626.4 234.8h0M626.6 233.1h0M626.9 231h0M626.4 228.6h0M626.6 225.9h0M626.9 222.7h0M626.4 219.2h0M634.7 289.3h0M634.7 288h0M634.8 287.2h0M634.8 286.7h0M634.9 286.2h0M635 285.8h0M635 285.5h0M635.1 285.1h0M635.1 284.9h0M635.2 284.6h0M635.2 284.3h0M635.3 284.1h0M635.3 283.8h0M635.4 283.6h0M635.4 283.4h0M635.5 283.2h0M635.5 282.9h0M635.6 282.7h0M635.6 282.5h0M635.7 282.3h0M635.7 282.1h0M635.8 282h0M635.8 281.8h0M635.9 281.6h0M635.9 281.4h0M636 281.2h0M636 281h0M636.1 280.9h0M636.2 280.7h0M636.2 280.5h0M636.3 280.3h0M636.3 280.2h0M636.4 280h0M636.4 279.8h0M636.5 279.7h0M636.5 279.5h0M636.6 279.3h0M636.6 279.1h0M636.7 279h0M636.7 278.8h0M636.8 278.6h0M636.8 278.5h0M636.9 278.3h0M636.9 278.1h0M637 277.9h0M637 277.8h0M637.1 277.6h0M637.1 277.4h0M637.2 277.3h0M637.2 277.1h0M637.3 276.9h0M637.4 276.7h0M637.4 276.5h0M637.5 276.4h0M637.5 276.2h0M637.6 276h0M637.6 275.8h0M637.7 275.6h0M637.7 275.5h0M637.8 275.3h0M637.8 275.1h0M637.9 274.9h0M637.9 274.7h0M638 274.5h0M638 274.3h0M638.1 274.1h0M638.1 273.9h0M638.2 273.7h0M638.2 273.5h0M638.3 273.2h0M638.3 273h0M638.4 272.8h0M638.4 272.6h0M638.5 272.3h0M638.6 272.1h0M638.6 271.9h0M638.7 271.6h0M638.7 271.4h0M638.8 271.1h0M638.8 270.9h0M638.9 270.6h0M638.9 270.3h0M639 270.1h0M639 269.8h0M639.1 269.5h0M639.1 269.2h0M639.2 268.9h0M639.2 268.6h0M639.3 268.2h0M639.3 267.9h0M639.4 267.5h0M639.4 267.2h0M639.5 266.8h0M639.5 266.4h0M639.6 266h0M639.6 265.5h0M639.7 265.1h0M639.7 264.6h0M639.8 264.1h0M639.9 263.6h0M639.9 263h0M640 262.4h0M640 261.8h0M640.1 261.1h0M640.1 260.3h0M640.2 259.5h0M640.2 258.6h0M640.3 257.5h0M640.3 256.4h0M640.4 255h0M640.4 254.2h0M640.6 252.6h0M640.1 250.2h0M640.4 247.2h0M640.6 243.4h0M640.1 238.8h0M640.4 233.2h0M640.6 226.4h0M640.1 218.3h0M648.4 292.8h0M648.5 292.1h0M648.5 291.7h0M648.6 291.3h0M648.7 291.1h0M648.7 290.9h0M648.8 290.7h0M648.8 290.5h0M648.9 290.3h0M648.9 290.1h0M649 290h0M649 289.8h0M649.1 289.7h0M649.1 289.6h0M649.2 289.4h0M649.2 289.3h0M649.3 289.2h0M649.3 289h0M649.4 288.9h0M649.4 288.8h0M649.5 288.7h0M649.5 288.5h0M649.6 288.4h0M649.6 288.3h0M649.7 288.2h0M649.7 288.1h0M649.8 288h0M649.9 287.9h0M649.9 287.8h0M650 287.6h0M650 287.5h0M650.1 287.4h0M650.1 287.3h0M650.2 287.2h0M650.2 287.1h0M650.3 287h0M650.3 286.9h0M650.4 286.8h0M650.4 286.6h0M650.5 286.5h0M650.5 286.4h0M650.6 286.3h0M650.6 286.2h0M650.7 286.1h0M650.7 286h0M650.8 285.9h0M650.8 285.7h0M650.9 285.6h0M650.9 285.5h0M651 285.4h0M651 285.3h0M651.1 285.2h0M651.2 285h0M651.2 284.9h0M651.3 284.8h0M651.3 284.7h0M651.4 284.6h0M651.4 284.4h0M651.5 284.3h0M651.5 284.2h0M651.6 284h0M651.6 283.9h0M651.7 283.8h0M651.7 283.6h0M651.8 283.5h0M651.8 283.4h0M651.9 283.2h0M651.9 283.1h0M652 282.9h0M652 282.8h0M652.1 282.6h0M652.1 282.5h0M652.2 282.3h0M652.2 282.1h0M652.3 282h0M652.4 281.8h0M652.4 281.6h0M652.5 281.5h0M652.5 281.3h0M652.6 281.1h0M652.6 280.9h0M652.7 280.7h0M652.7 280.5h0M652.8 280.3h0M652.8 280.1h0M652.9 279.9h0M652.9 279.7h0M653 279.4h0M653 279.2h0M653.1 278.9h0M653.1 278.7h0M653.2 278.4h0M653.2 278.1h0M653.3 277.8h0M653.3 277.5h0M653.4 277.2h0M653.4 276.9h0M653.5 276.5h0M653.6 276.1h0M653.6 275.7h0M653.7 275.3h0M653.7 274.8h0M653.8 274.3h0M653.8 273.8h0M653.9 273.2h0M653.9 272.6h0M654 271.8h0M654 271h0M654.1 270.1h0M654.1 269h0M654.1 268.7h0M654.4 268.1h0M653.9 267.2h0M654.1 266.1h0M654.4 264.8h0M653.9 263.2h0M654.1 261.4h0M654.4 259.3h0M653.9 256.9h0" stroke="#ef4a45" stroke-width="1" stroke-linecap="round" fill="none" opacity="0.72"/>
<path d="M222.2 294.7h0M222.3 294.3h0M222.4 294.1h0M222.4 293.9h0M222.5 293.8h0M222.6 293.6h0M222.7 293.5h0M222.8 293.4h0M222.9 293.2h0M222.9 293.1h0M223 293h0M223.1 292.9h0M223.2 292.8h0M223.3 292.6h0M223.3 292.5h0M223.4 292.4h0M223.5 292.3h0M223.6 292.2h0M223.7 292.1h0M223.8 291.9h0M223.8 291.8h0M223.9 291.7h0M224 291.6h0M224.1 291.5h0M224.2 291.3h0M224.3 291.2h0M224.3 291.1h0M224.4 291h0M224.5 290.8h0M224.6 290.7h0M224.7 290.5h0M224.7 290.4h0M224.8 290.3h0M224.9 290.1h0M225 290h0M225.1 289.8h0M225.2 289.6h0M225.2 289.5h0M225.3 289.3h0M225.4 289.1h0M225.5 288.9h0M225.6 288.8h0M225.7 288.6h0M225.7 288.4h0M225.8 288.1h0M225.9 287.9h0M226 287.7h0M226.1 287.5h0M226.1 287.2h0M226.2 286.9h0M226.3 286.7h0M226.4 286.4h0M226.5 286.1h0M226.6 285.8h0M226.6 285.4h0M226.7 285h0M226.8 284.7h0M226.9 284.2h0M227 283.8h0M227.1 283.3h0M227.1 282.7h0M227.2 282.1h0M227.3 281.5h0M227.4 280.8h0M227.5 279.9h0M227.5 279h0M227.6 277.8h0M227.7 276.5h0M227.8 274.8h0M227.9 272.6h0M227.9 272.3h0M228.1 271.8h0M227.6 271h0M227.9 270.1h0M228.1 268.9h0M227.6 267.6h0M227.9 266h0M228.1 264.1h0M227.6 262h0M235.9 293h0M236 292.1h0M236.1 291.6h0M236.2 291.2h0M236.3 290.9h0M236.4 290.6h0M236.4 290.3h0M236.5 290.1h0M236.6 289.8h0M236.7 289.6h0M236.8 289.4h0M236.8 289.2h0M236.9 289h0M237 288.8h0M237.1 288.6h0M237.2 288.4h0M237.3 288.3h0M237.3 288.1h0M237.4 287.9h0M237.5 287.7h0M237.6 287.5h0M237.7 287.3h0M237.8 287.2h0M237.8 287h0M237.9 286.8h0M238 286.6h0M238.1 286.4h0M238.2 286.2h0M238.2 286h0M238.3 285.9h0M238.4 285.7h0M238.5 285.5h0M238.6 285.3h0M238.7 285.1h0M238.7 284.9h0M238.8 284.7h0M238.9 284.4h0M239 284.2h0M239.1 284h0M239.2 283.8h0M239.2 283.6h0M239.3 283.3h0M239.4 283.1h0M239.5 282.8h0M239.6 282.6h0M239.6 282.3h0M239.7 282h0M239.8 281.8h0M239.9 281.5h0M240 281.2h0M240.1 280.8h0M240.1 280.5h0M240.2 280.2h0M240.3 279.8h0M240.4 279.4h0M240.5 279h0M240.6 278.6h0M240.6 278.2h0M240.7 277.7h0M240.8 277.2h0M240.9 276.6h0M241 276.1h0M241 275.4h0M241.1 274.7h0M241.2 273.9h0M241.3 273h0M241.4 271.9h0M241.5 270.7h0M241.5 269.3h0M241.6 267.4h0M241.6 266.6h0M241.9 265h0M241.4 262.6h0M241.6 259.4h0M241.9 255.3h0M241.4 250.2h0M241.6 243.7h0M241.9 235.5h0M241.4 225.3h0M249.7 294.5h0M249.8 294h0M249.9 293.7h0M249.9 293.5h0M250 293.3h0M250.1 293.1h0M250.2 293h0M250.3 292.8h0M250.4 292.7h0M250.4 292.6h0M250.5 292.4h0M250.6 292.3h0M250.7 292.2h0M250.8 292.1h0M250.8 291.9h0M250.9 291.8h0M251 291.7h0M251.1 291.6h0M251.2 291.4h0M251.3 291.3h0M251.3 291.2h0M251.4 291.1h0M251.5 291h0M251.6 290.8h0M251.7 290.7h0M251.8 290.6h0M251.8 290.5h0M251.9 290.3h0M252 290.2h0M252.1 290.1h0M252.2 289.9h0M252.2 289.8h0M252.3 289.6h0M252.4 289.5h0M252.5 289.3h0M252.6 289.2h0M252.7 289h0M252.7 288.9h0M252.8 288.7h0M252.9 288.5h0M253 288.4h0M253.1 288.2h0M253.2 288h0M253.2 287.8h0M253.3 287.6h0M253.4 287.4h0M253.5 287.2h0M253.6 287h0M253.6 286.8h0M253.7 286.5h0M253.8 286.3h0M253.9 286h0M254 285.7h0M254.1 285.4h0M254.1 285.1h0M254.2 284.8h0M254.3 284.5h0M254.4 284.1h0M254.5 283.7h0M254.6 283.3h0M254.6 282.8h0M254.7 282.3h0M254.8 281.7h0M254.9 281.1h0M255 280.4h0M255 279.6h0M255.1 278.6h0M255.2 277.5h0M255.3 276.2h0M255.4 274.4h0M255.4 274.1h0M255.6 273.5h0M255.1 272.7h0M255.4 271.6h0M255.6 270.2h0M255.1 268.6h0M255.4 266.8h0M255.6 264.6h0M255.1 262h0M263.4 294.7h0M263.5 294.3h0M263.6 294.1h0M263.7 294h0M263.8 293.8h0M263.9 293.7h0M263.9 293.6h0M264 293.5h0M264.1 293.4h0M264.2 293.3h0M264.3 293.2h0M264.3 293.1h0M264.4 293h0M264.5 292.9h0M264.6 292.8h0M264.7 292.8h0M264.8 292.7h0M264.8 292.6h0M264.9 292.5h0M265 292.4h0M265.1 292.3h0M265.2 292.2h0M265.3 292.1h0M265.3 292h0M265.4 291.9h0M265.5 291.9h0M265.6 291.8h0M265.7 291.7h0M265.7 291.6h0M265.8 291.5h0M265.9 291.4h0M266 291.3h0M266.1 291.2h0M266.2 291.1h0M266.2 290.9h0M266.3 290.8h0M266.4 290.7h0M266.5 290.6h0M266.6 290.5h0M266.7 290.4h0M266.7 290.2h0M266.8 290.1h0M266.9 290h0M267 289.8h0M267.1 289.7h0M267.1 289.5h0M267.2 289.4h0M267.3 289.2h0M267.4 289.1h0M267.5 288.9h0M267.6 288.7h0M267.6 288.5h0M267.7 288.3h0M267.8 288.1h0M267.9 287.9h0M268 287.6h0M268.1 287.4h0M268.1 287.1h0M268.2 286.8h0M268.3 286.5h0M268.4 286.2h0M268.5 285.8h0M268.5 285.4h0M268.6 284.9h0M268.7 284.4h0M268.8 283.8h0M268.9 283.1h0M269 282.3h0M269 281.3h0M269.1 280h0M269.1 279.5h0M269.4 278.5h0M268.9 277h0M269.1 274.9h0M269.4 272.3h0M268.9 268.8h0M269.1 264.4h0M269.4 258.8h0M268.9 251.6h0M277.2 294.8h0M277.3 294.5h0M277.4 294.4h0M277.4 294.3h0M277.5 294.3h0M277.6 294.2h0M277.7 294.1h0M277.8 294.1h0M277.9 294h0M277.9 294h0M278 293.9h0M278.1 293.9h0M278.2 293.8h0M278.3 293.8h0M278.3 293.8h0M278.4 293.7h0M278.5 293.7h0M278.6 293.6h0M278.7 293.6h0M278.8 293.5h0M278.8 293.5h0M278.9 293.5h0M279 293.4h0M279.1 293.4h0M279.2 293.3h0M279.3 293.3h0M279.3 293.3h0M279.4 293.2h0M279.5 293.2h0M279.6 293.1h0M279.7 293.1h0M279.7 293h0M279.8 293h0M279.9 293h0M280 292.9h0M280.1 292.9h0M280.2 292.8h0M280.2 292.8h0M280.3 292.7h0M280.4 292.7h0M280.5 292.6h0M280.6 292.6h0M280.7 292.5h0M280.7 292.4h0M280.8 292.4h0M280.9 292.3h0M281 292.3h0M281.1 292.2h0M281.1 292.1h0M281.2 292.1h0M281.3 292h0M281.4 291.9h0M281.5 291.9h0M281.6 291.8h0M281.6 291.7h0M281.7 291.6h0M281.8 291.5h0M281.9 291.4h0M282 291.3h0M282.1 291.2h0M282.1 291.1h0M282.2 290.9h0M282.3 290.8h0M282.4 290.6h0M282.5 290.4h0M282.5 290.2h0M282.6 290h0M282.7 289.7h0M282.8 289.4h0M282.9 289h0M282.9 288.9h0M283.1 288.7h0M282.6 288.4h0M282.9 288.1h0M283.1 287.7h0M282.6 287.2h0M282.9 286.5h0M283.1 285.8h0M282.6 285h0M290.9 294.9h0M291 294.5h0M291.1 294.2h0M291.2 294h0M291.3 293.8h0M291.4 293.6h0M291.4 293.4h0M291.5 293.3h0M291.6 293.1h0M291.7 292.9h0M291.8 292.8h0M291.8 292.6h0M291.9 292.4h0M292 292.2h0M292.1 292.1h0M292.2 291.9h0M292.3 291.7h0M292.3 291.6h0M292.4 291.4h0M292.5 291.2h0M292.6 291h0M292.7 290.8h0M292.8 290.6h0M292.8 290.4h0M292.9 290.2h0M293 290h0M293.1 289.8h0M293.2 289.6h0M293.2 289.3h0M293.3 289.1h0M293.4 288.9h0M293.5 288.6h0M293.6 288.4h0M293.7 288.1h0M293.7 287.8h0M293.8 287.6h0M293.9 287.3h0M294 287h0M294.1 286.6h0M294.2 286.3h0M294.2 286h0M294.3 285.6h0M294.4 285.3h0M294.5 284.9h0M294.6 284.5h0M294.6 284h0M294.7 283.6h0M294.8 283.1h0M294.9 282.6h0M295 282.1h0M295.1 281.5h0M295.1 281h0M295.2 280.3h0M295.3 279.6h0M295.4 278.9h0M295.5 278.1h0M295.6 277.3h0M295.6 276.4h0M295.7 275.4h0M295.8 274.3h0M295.9 273.1h0M296 271.7h0M296 270.2h0M296.1 268.5h0M296.2 266.5h0M296.3 264.2h0M296.4 261.4h0M296.5 258h0M296.5 253.7h0M296.6 248h0M296.6 247.6h0M296.9 246.7h0M296.4 245.6h0M296.6 244.1h0M296.9 242.3h0M296.4 240.2h0M296.6 237.8h0M296.9 235.1h0M296.4 232h0M304.7 295h0M304.8 294.9h0M304.9 294.9h0M304.9 294.8h0M305 294.8h0M305.1 294.7h0M305.2 294.7h0M305.3 294.7h0M305.4 294.6h0M305.4 294.6h0M305.5 294.6h0M305.6 294.6h0M305.7 294.5h0M305.8 294.5h0M305.8 294.5h0M305.9 294.5h0M306 294.5h0M306.1 294.4h0M306.2 294.4h0M306.3 294.4h0M306.3 294.4h0M306.4 294.3h0M306.5 294.3h0M306.6 294.3h0M306.7 294.3h0M306.8 294.3h0M306.8 294.2h0M306.9 294.2h0M307 294.2h0M307.1 294.2h0M307.2 294.1h0M307.2 294.1h0M307.3 294.1h0M307.4 294.1h0M307.5 294.1h0M307.6 294h0M307.7 294h0M307.7 294h0M307.8 294h0M307.9 293.9h0M308 293.9h0M308.1 293.9h0M308.2 293.8h0M308.2 293.8h0M308.3 293.8h0M308.4 293.8h0M308.5 293.7h0M308.6 293.7h0M308.6 293.7h0M308.7 293.6h0M308.8 293.6h0M308.9 293.5h0M309 293.5h0M309.1 293.5h0M309.1 293.4h0M309.2 293.4h0M309.3 293.3h0M309.4 293.3h0M309.5 293.2h0M309.6 293.2h0M309.6 293.1h0M309.7 293h0M309.8 292.9h0M309.9 292.9h0M310 292.8h0M310 292.7h0M310.1 292.5h0M310.2 292.4h0M310.3 292.2h0M310.4 292h0M310.4 292h0M310.6 291.9h0M310.1 291.7h0M310.4 291.5h0M310.6 291.3h0M310.1 291.1h0M310.4 290.8h0M310.6 290.4h0M310.1 290h0M318.4 294.7h0M318.5 285.5h0M318.6 281.8h0M318.7 279.3h0M318.8 277.4h0M318.9 275.8h0M318.9 274.4h0M319 273.2h0M319.1 272.1h0M319.2 271h0M319.3 270.1h0M319.3 269.2h0M319.4 268.4h0M319.5 267.6h0M319.6 266.9h0M319.7 266.1h0M319.8 265.5h0M319.8 264.8h0M319.9 264.1h0M320 263.5h0M320.1 262.9h0M320.2 262.3h0M320.3 261.7h0M320.3 261.1h0M320.4 260.6h0M320.5 260h0M320.6 259.5h0M320.7 259h0M320.7 258.4h0M320.8 257.9h0M320.9 257.4h0M321 256.9h0M321.1 256.3h0M321.2 255.8h0M321.2 255.3h0M321.3 254.8h0M321.4 254.3h0M321.5 253.6h0M321.6 252.9h0M321.7 252.2h0M321.7 251.5h0M321.8 250.7h0M321.9 249.9h0M322 249.1h0M322.1 248.3h0M322.1 247.5h0M322.2 246.6h0M322.3 245.7h0M322.4 244.8h0M322.5 243.8h0M322.6 242.8h0M322.6 241.8h0M322.7 240.7h0M322.8 239.6h0M322.9 238.4h0M323 237.2h0M323.1 235.9h0M323.1 234.6h0M323.2 233.1h0M323.3 231.5h0M323.4 229.9h0M323.5 228.1h0M323.5 226.1h0M323.6 224h0M323.7 221.6h0M323.8 218.9h0M323.9 215.8h0M324 212.3h0M324 208h0M324.1 202.6h0M324.1 202.3h0M324.4 201.7h0M323.9 200.9h0M324.1 199.8h0M324.4 198.6h0M323.9 197.2h0M324.1 195.6h0M324.4 193.9h0M323.9 192h0M332.2 295.3h0M332.3 295.2h0M332.4 295.2h0M332.4 295.2h0M332.5 295.2h0M332.6 295.2h0M332.7 295.1h0M332.8 295.1h0M332.9 295.1h0M332.9 295.1h0M333 295.1h0M333.1 295.1h0M333.2 295h0M333.3 295h0M333.3 295h0M333.4 295h0M333.5 295h0M333.6 294.9h0M333.7 294.9h0M333.8 294.9h0M333.8 294.9h0M333.9 294.9h0M334 294.9h0M334.1 294.8h0M334.2 294.8h0M334.3 294.8h0M334.3 294.8h0M334.4 294.7h0M334.5 294.7h0M334.6 294.7h0M334.7 294.7h0M334.7 294.6h0M334.8 294.6h0M334.9 294.6h0M335 294.6h0M335.1 294.5h0M335.2 294.5h0M335.2 294.5h0M335.3 294.4h0M335.4 294.4h0M335.5 294.4h0M335.6 294.3h0M335.7 294.3h0M335.7 294.3h0M335.8 294.2h0M335.9 294.2h0M336 294.1h0M336.1 294.1h0M336.1 294h0M336.2 294h0M336.3 293.9h0M336.4 293.8h0M336.5 293.8h0M336.6 293.7h0M336.6 293.6h0M336.7 293.5h0M336.8 293.4h0M336.9 293.3h0M337 293.2h0M337.1 293.1h0M337.1 292.9h0M337.2 292.8h0M337.3 292.6h0M337.4 292.4h0M337.5 292.2h0M337.5 291.9h0M337.6 291.6h0M337.7 291.2h0M337.8 290.7h0M337.9 290h0M337.9 289.8h0M338.1 289.5h0M337.6 288.9h0M337.9 288.2h0M338.1 287.2h0M337.6 286h0M337.9 284.3h0M338.1 282.3h0M337.6 279.6h0M345.9 292.9h0M346 280.8h0M346.1 275.9h0M346.2 272.6h0M346.3 270h0M346.4 267.9h0M346.4 266h0M346.5 264.4h0M346.6 263h0M346.7 261.6h0M346.8 260.4h0M346.8 259.2h0M346.9 258.1h0M347 257.1h0M347.1 256.1h0M347.2 255.1h0M347.3 254.2h0M347.3 253.3h0M347.4 252.5h0M347.5 251.6h0M347.6 250.8h0M347.7 250h0M347.8 249.3h0M347.8 248.5h0M347.9 247.8h0M348 247h0M348.1 246.3h0M348.2 245.6h0M348.2 244.9h0M348.3 244.2h0M348.4 243.5h0M348.5 242.8h0M348.6 242.1h0M348.7 241.5h0M348.7 240.8h0M348.8 240.1h0M348.9 239.4h0M349 238.9h0M349.1 238.4h0M349.2 237.8h0M349.2 237.3h0M349.3 236.7h0M349.4 236.2h0M349.5 235.6h0M349.6 235h0M349.6 234.4h0M349.7 233.8h0M349.8 233.2h0M349.9 232.6h0M350 231.9h0M350.1 231.3h0M350.1 230.6h0M350.2 229.9h0M350.3 229.1h0M350.4 228.4h0M350.5 227.6h0M350.6 226.8h0M350.6 225.9h0M350.7 225h0M350.8 224h0M350.9 223h0M351 221.9h0M351 220.8h0M351.1 219.5h0M351.2 218.1h0M351.3 216.6h0M351.4 214.9h0M351.5 212.9h0M351.5 210.6h0M351.6 207.8h0M351.6 206.8h0M351.9 204.8h0M351.4 201.9h0M351.6 198.3h0M351.9 193.9h0M351.4 188.6h0M351.6 182.6h0M351.9 175.6h0M351.4 167.5h0M359.7 290.1h0M359.8 289.1h0M359.9 288.6h0M359.9 288.2h0M360 287.9h0M360.1 287.7h0M360.2 287.5h0M360.3 287.3h0M360.4 287.1h0M360.4 286.9h0M360.5 286.8h0M360.6 286.6h0M360.7 286.5h0M360.8 286.3h0M360.8 286.2h0M360.9 286h0M361 285.9h0M361.1 285.8h0M361.2 285.7h0M361.3 285.5h0M361.3 285.4h0M361.4 285.3h0M361.5 285.2h0M361.6 285.1h0M361.7 284.9h0M361.8 284.8h0M361.8 284.7h0M361.9 284.6h0M362 284.5h0M362.1 284.4h0M362.2 284.2h0M362.2 284.1h0M362.3 284h0M362.4 283.9h0M362.5 283.8h0M362.6 283.6h0M362.7 283.5h0M362.7 283.4h0M362.8 283.3h0M362.9 283.2h0M363 283h0M363.1 282.9h0M363.2 282.8h0M363.2 282.6h0M363.3 282.5h0M363.4 282.4h0M363.5 282.2h0M363.6 282.1h0M363.6 281.9h0M363.7 281.8h0M363.8 281.6h0M363.9 281.5h0M364 281.3h0M364.1 281.1h0M364.1 280.9h0M364.2 280.8h0M364.3 280.6h0M364.4 280.4h0M364.5 280.1h0M364.6 279.9h0M364.6 279.7h0M364.7 279.4h0M364.8 279.1h0M364.9 278.8h0M365 278.5h0M365 278.1h0M365.1 277.7h0M365.2 277.2h0M365.3 276.7h0M365.4 276h0M365.4 275.5h0M365.6 274.5h0M365.1 272.9h0M365.4 270.9h0M365.6 268.4h0M365.1 265.2h0M365.4 261.1h0M365.6 256.2h0M365.1 250h0M373.4 292.1h0M373.5 291.1h0M373.6 290.6h0M373.7 290.2h0M373.8 289.9h0M373.9 289.6h0M373.9 289.4h0M374 289.2h0M374.1 289h0M374.2 288.8h0M374.3 288.6h0M374.3 288.4h0M374.4 288.2h0M374.5 288h0M374.6 287.9h0M374.7 287.7h0M374.8 287.5h0M374.8 287.4h0M374.9 287.2h0M375 287.1h0M375.1 286.9h0M375.2 286.8h0M375.3 286.6h0M375.3 286.5h0M375.4 286.3h0M375.5 286.2h0M375.6 286h0M375.7 285.9h0M375.7 285.7h0M375.8 285.6h0M375.9 285.4h0M376 285.2h0M376.1 285.1h0M376.2 284.9h0M376.2 284.8h0M376.3 284.6h0M376.4 284.4h0M376.5 284.3h0M376.6 284.1h0M376.7 283.9h0M376.7 283.7h0M376.8 283.6h0M376.9 283.4h0M377 283.2h0M377.1 283h0M377.1 282.8h0M377.2 282.6h0M377.3 282.4h0M377.4 282.2h0M377.5 281.9h0M377.6 281.7h0M377.6 281.5h0M377.7 281.2h0M377.8 281h0M377.9 280.7h0M378 280.4h0M378.1 280.1h0M378.1 279.8h0M378.2 279.5h0M378.3 279.1h0M378.4 278.7h0M378.5 278.3h0M378.5 277.9h0M378.6 277.4h0M378.7 276.8h0M378.8 276.2h0M378.9 275.5h0M379 274.7h0M379 273.8h0M379.1 272.6h0M379.1 272.3h0M379.4 271.7h0M378.9 270.9h0M379.1 269.8h0M379.4 268.4h0M378.9 266.9h0M379.1 265h0M379.4 262.9h0M378.9 260.4h0M387.2 292.5h0M387.3 291.6h0M387.4 291.1h0M387.4 290.8h0M387.5 290.5h0M387.6 290.2h0M387.7 290h0M387.8 289.7h0M387.9 289.5h0M387.9 289.4h0M388 289.2h0M388.1 289h0M388.2 288.8h0M388.3 288.6h0M388.3 288.5h0M388.4 288.3h0M388.5 288.2h0M388.6 288h0M388.7 287.9h0M388.8 287.7h0M388.8 287.5h0M388.9 287.4h0M389 287.2h0M389.1 287.1h0M389.2 286.9h0M389.3 286.8h0M389.3 286.6h0M389.4 286.5h0M389.5 286.3h0M389.6 286.2h0M389.7 286h0M389.7 285.9h0M389.8 285.7h0M389.9 285.5h0M390 285.4h0M390.1 285.2h0M390.2 285h0M390.2 284.9h0M390.3 284.7h0M390.4 284.5h0M390.5 284.3h0M390.6 284.1h0M390.7 284h0M390.7 283.8h0M390.8 283.6h0M390.9 283.4h0M391 283.2h0M391.1 282.9h0M391.1 282.7h0M391.2 282.5h0M391.3 282.2h0M391.4 282h0M391.5 281.7h0M391.6 281.5h0M391.6 281.2h0M391.7 280.9h0M391.8 280.6h0M391.9 280.2h0M392 279.9h0M392.1 279.5h0M392.1 279.1h0M392.2 278.7h0M392.3 278.2h0M392.4 277.7h0M392.5 277.1h0M392.5 276.5h0M392.6 275.8h0M392.7 274.9h0M392.8 273.9h0M392.9 272.6h0M392.9 272.4h0M393.1 271.9h0M392.6 271.3h0M392.9 270.5h0M393.1 269.6h0M392.6 268.4h0M392.9 267.2h0M393.1 265.7h0M392.6 264h0M401 215.8h0M401.1 212h0M401.1 210h0M401.2 208.6h0M401.3 207.5h0M401.4 206.5h0M401.5 205.7h0M401.6 205h0M401.7 204.3h0M401.8 203.7h0M401.8 203.1h0M401.9 202.6h0M402 202.1h0M402.1 201.6h0M402.2 201.1h0M402.3 200.7h0M402.4 200.3h0M402.4 199.9h0M402.5 199.5h0M402.6 199.1h0M402.7 198.7h0M402.8 198.3h0M402.9 198h0M403 197.6h0M403.1 197.3h0M403.1 196.9h0M403.2 196.6h0M403.3 196.2h0M403.4 195.9h0M403.5 195.6h0M403.6 195.3h0M403.7 194.9h0M403.8 194.6h0M403.8 194.3h0M403.9 194h0M404 193.6h0M404.1 193.3h0M404.2 193h0M404.3 192.7h0M404.4 192.3h0M404.5 192h0M404.5 191.7h0M404.6 191.4h0M404.7 191h0M404.8 190.7h0M404.9 190.3h0M405 190h0M405.1 189.6h0M405.2 189.3h0M405.2 188.9h0M405.3 188.5h0M405.4 188.1h0M405.5 187.7h0M405.6 187.3h0M405.7 186.9h0M405.8 186.5h0M405.8 186h0M405.9 185.5h0M406 185h0M406.1 184.5h0M406.2 183.9h0M406.3 183.3h0M406.4 182.6h0M406.5 181.9h0M406.5 181.1h0M406.6 180.1h0M406.7 179h0M406.8 177.6h0M406.9 175.6h0M407 171.8h0M414.7 295.1h0M414.8 295h0M414.9 295h0M414.9 294.9h0M415 294.9h0M415.1 294.9h0M415.2 294.9h0M415.3 294.8h0M415.4 294.8h0M415.4 294.8h0M415.5 294.8h0M415.6 294.7h0M415.7 294.7h0M415.8 294.7h0M415.8 294.7h0M415.9 294.7h0M416 294.6h0M416.1 294.6h0M416.2 294.6h0M416.3 294.6h0M416.3 294.6h0M416.4 294.5h0M416.5 294.5h0M416.6 294.5h0M416.7 294.5h0M416.8 294.5h0M416.8 294.4h0M416.9 294.4h0M417 294.4h0M417.1 294.4h0M417.2 294.3h0M417.2 294.3h0M417.3 294.3h0M417.4 294.3h0M417.5 294.3h0M417.6 294.2h0M417.7 294.2h0M417.7 294.2h0M417.8 294.2h0M417.9 294.1h0M418 294.1h0M418.1 294.1h0M418.2 294h0M418.2 294h0M418.3 294h0M418.4 293.9h0M418.5 293.9h0M418.6 293.9h0M418.6 293.8h0M418.7 293.8h0M418.8 293.8h0M418.9 293.7h0M419 293.7h0M419.1 293.6h0M419.1 293.6h0M419.2 293.5h0M419.3 293.5h0M419.4 293.4h0M419.5 293.4h0M419.6 293.3h0M419.6 293.2h0M419.7 293.2h0M419.8 293.1h0M419.9 293h0M420 292.9h0M420 292.8h0M420.1 292.6h0M420.2 292.5h0M420.3 292.3h0M420.4 292h0M420.4 292h0M420.6 291.9h0M420.1 291.7h0M420.4 291.5h0M420.6 291.3h0M420.1 291.1h0M420.4 290.8h0M420.6 290.4h0M420.1 290h0M428.4 295.1h0M428.5 294.9h0M428.6 294.8h0M428.7 294.7h0M428.8 294.7h0M428.9 294.6h0M428.9 294.5h0M429 294.5h0M429.1 294.4h0M429.2 294.4h0M429.3 294.3h0M429.3 294.3h0M429.4 294.2h0M429.5 294.2h0M429.6 294.1h0M429.7 294.1h0M429.8 294h0M429.8 294h0M429.9 293.9h0M430 293.8h0M430.1 293.8h0M430.2 293.7h0M430.3 293.7h0M430.3 293.6h0M430.4 293.6h0M430.5 293.5h0M430.6 293.5h0M430.7 293.4h0M430.7 293.3h0M430.8 293.3h0M430.9 293.2h0M431 293.2h0M431.1 293.1h0M431.2 293h0M431.2 293h0M431.3 292.9h0M431.4 292.8h0M431.5 292.7h0M431.6 292.7h0M431.7 292.6h0M431.7 292.5h0M431.8 292.4h0M431.9 292.3h0M432 292.2h0M432.1 292.1h0M432.1 292h0M432.2 291.9h0M432.3 291.8h0M432.4 291.7h0M432.5 291.6h0M432.6 291.5h0M432.6 291.3h0M432.7 291.2h0M432.8 291.1h0M432.9 290.9h0M433 290.7h0M433.1 290.6h0M433.1 290.4h0M433.2 290.2h0M433.3 289.9h0M433.4 289.7h0M433.5 289.4h0M433.5 289.1h0M433.6 288.8h0M433.7 288.4h0M433.8 287.9h0M433.9 287.4h0M434 286.8h0M434 286h0M434.1 285h0M434.1 284.7h0M434.4 283.9h0M433.9 282.9h0M434.1 281.4h0M434.4 279.6h0M433.9 277.1h0M434.1 274h0M434.4 270h0M433.9 264.8h0M442.2 291.2h0M442.3 290.3h0M442.4 289.9h0M442.4 289.7h0M442.5 289.4h0M442.6 289.2h0M442.7 289h0M442.8 288.9h0M442.9 288.7h0M442.9 288.6h0M443 288.5h0M443.1 288.3h0M443.2 288.2h0M443.3 288.1h0M443.3 288h0M443.4 287.9h0M443.5 287.8h0M443.6 287.7h0M443.7 287.6h0M443.8 287.5h0M443.8 287.4h0M443.9 287.3h0M444 287.2h0M444.1 287.1h0M444.2 287h0M444.3 286.9h0M444.3 286.8h0M444.4 286.7h0M444.5 286.6h0M444.6 286.5h0M444.7 286.4h0M444.7 286.3h0M444.8 286.2h0M444.9 286.1h0M445 286h0M445.1 285.9h0M445.2 285.8h0M445.2 285.7h0M445.3 285.6h0M445.4 285.5h0M445.5 285.4h0M445.6 285.3h0M445.7 285.2h0M445.7 285.1h0M445.8 285h0M445.9 284.9h0M446 284.7h0M446.1 284.6h0M446.1 284.5h0M446.2 284.4h0M446.3 284.3h0M446.4 284.1h0M446.5 284h0M446.6 283.8h0M446.6 283.7h0M446.7 283.5h0M446.8 283.4h0M446.9 283.2h0M447 283h0M447.1 282.8h0M447.1 282.6h0M447.2 282.4h0M447.3 282.2h0M447.4 281.9h0M447.5 281.7h0M447.5 281.4h0M447.6 281h0M447.7 280.6h0M447.8 280.2h0M447.9 279.6h0M447.9 279.3h0M448.1 278.7h0M447.6 277.8h0M447.9 276.6h0M448.1 275.2h0M447.6 273.4h0M447.9 271.3h0M448.1 268.7h0M447.6 265.6h0M455.9 294.3h0M456 293.6h0M456.1 293.3h0M456.2 293h0M456.3 292.7h0M456.4 292.4h0M456.4 292.2h0M456.5 292h0M456.6 291.8h0M456.7 291.6h0M456.8 291.4h0M456.8 291.2h0M456.9 291h0M457 290.8h0M457.1 290.6h0M457.2 290.4h0M457.3 290.2h0M457.3 290h0M457.4 289.8h0M457.5 289.6h0M457.6 289.5h0M457.7 289.3h0M457.8 289.1h0M457.8 288.9h0M457.9 288.6h0M458 288.4h0M458.1 288.2h0M458.2 288h0M458.2 287.8h0M458.3 287.6h0M458.4 287.3h0M458.5 287.1h0M458.6 286.9h0M458.7 286.6h0M458.7 286.4h0M458.8 286.1h0M458.9 285.9h0M459 285.6h0M459.1 285.3h0M459.2 285h0M459.2 284.7h0M459.3 284.4h0M459.4 284.1h0M459.5 283.8h0M459.6 283.4h0M459.6 283.1h0M459.7 282.7h0M459.8 282.3h0M459.9 281.9h0M460 281.5h0M460.1 281h0M460.1 280.6h0M460.2 280.1h0M460.3 279.6h0M460.4 279h0M460.5 278.4h0M460.6 277.8h0M460.6 277.1h0M460.7 276.4h0M460.8 275.6h0M460.9 274.7h0M461 273.8h0M461 272.7h0M461.1 271.5h0M461.2 270.2h0M461.3 268.7h0M461.4 266.9h0M461.5 264.7h0M461.5 262.1h0M461.6 258.6h0M461.6 258.3h0M461.9 257.6h0M461.4 256.7h0M461.6 255.6h0M461.9 254.2h0M461.4 252.7h0M461.6 250.8h0M461.9 248.8h0M461.4 246.4h0M476.6 294.5h0M476.7 294.1h0M476.7 293.9h0M476.8 293.8h0M476.9 293.6h0M477 293.5h0M477.1 293.4h0M477.1 293.3h0M477.2 293.2h0M477.3 293.1h0M477.4 293h0M477.5 292.9h0M477.6 292.8h0M477.6 292.7h0M477.7 292.7h0M477.8 292.6h0M477.9 292.5h0M478 292.4h0M478.1 292.3h0M478.1 292.2h0M478.2 292.2h0M478.3 292.1h0M478.4 292h0M478.5 291.9h0M478.5 291.8h0M478.6 291.7h0M478.7 291.7h0M478.8 291.6h0M478.9 291.5h0M479 291.4h0M479 291.3h0M479.1 291.2h0M479.2 291.1h0M479.3 291h0M479.4 290.9h0M479.5 290.8h0M479.5 290.7h0M479.6 290.6h0M479.7 290.5h0M479.8 290.4h0M479.9 290.3h0M479.9 290.2h0M480 290.1h0M480.1 289.9h0M480.2 289.8h0M480.3 289.7h0M480.4 289.6h0M480.4 289.4h0M480.5 289.3h0M480.6 289.1h0M480.7 289h0M480.8 288.8h0M480.9 288.6h0M480.9 288.5h0M481 288.3h0M481.1 288.1h0M481.2 287.9h0M481.3 287.6h0M481.3 287.4h0M481.4 287.1h0M481.5 286.9h0M481.6 286.6h0M481.7 286.2h0M481.8 285.9h0M481.8 285.4h0M481.9 285h0M482 284.4h0M482.1 283.8h0M482.2 283h0M482.2 282h0M482.2 281.5h0M482.5 280.6h0M482 279.1h0M482.2 277.1h0M482.5 274.5h0M482 271.1h0M482.2 266.6h0M482.5 260.9h0M482 253.4h0M490.3 295.1h0M490.4 295h0M490.5 294.9h0M490.6 294.8h0M490.6 294.8h0M490.7 294.7h0M490.8 294.7h0M490.9 294.6h0M491 294.6h0M491.1 294.6h0M491.1 294.5h0M491.2 294.5h0M491.3 294.4h0M491.4 294.4h0M491.5 294.3h0M491.6 294.3h0M491.6 294.3h0M491.7 294.2h0M491.8 294.2h0M491.9 294.1h0M492 294.1h0M492 294.1h0M492.1 294h0M492.2 294h0M492.3 293.9h0M492.4 293.9h0M492.5 293.8h0M492.5 293.8h0M492.6 293.7h0M492.7 293.7h0M492.8 293.6h0M492.9 293.6h0M493 293.5h0M493 293.5h0M493.1 293.4h0M493.2 293.4h0M493.3 293.3h0M493.4 293.3h0M493.4 293.2h0M493.5 293.1h0M493.6 293.1h0M493.7 293h0M493.8 292.9h0M493.9 292.8h0M493.9 292.8h0M494 292.7h0M494.1 292.6h0M494.2 292.5h0M494.3 292.4h0M494.4 292.3h0M494.4 292.2h0M494.5 292.1h0M494.6 292h0M494.7 291.9h0M494.8 291.8h0M494.8 291.6h0M494.9 291.5h0M495 291.3h0M495.1 291.2h0M495.2 291h0M495.3 290.8h0M495.3 290.6h0M495.4 290.3h0M495.5 290.1h0M495.6 289.7h0M495.7 289.4h0M495.8 289h0M495.8 288.5h0M495.9 287.8h0M496 287h0M496 286.8h0M496.2 286.4h0M495.8 285.9h0M496 285.1h0M496.2 284.2h0M495.8 283.1h0M496 281.7h0M496.2 280h0M495.8 277.9h0M504.1 292.9h0M504.2 292.3h0M504.2 292.1h0M504.3 291.9h0M504.4 291.7h0M504.5 291.6h0M504.6 291.4h0M504.6 291.3h0M504.7 291.2h0M504.8 291.1h0M504.9 291h0M505 290.9h0M505.1 290.8h0M505.1 290.7h0M505.2 290.7h0M505.3 290.6h0M505.4 290.5h0M505.5 290.4h0M505.6 290.3h0M505.6 290.3h0M505.7 290.2h0M505.8 290.1h0M505.9 290h0M506 290h0M506 289.9h0M506.1 289.8h0M506.2 289.8h0M506.3 289.7h0M506.4 289.6h0M506.5 289.5h0M506.5 289.5h0M506.6 289.4h0M506.7 289.3h0M506.8 289.2h0M506.9 289.2h0M507 289.1h0M507 289h0M507.1 288.9h0M507.2 288.9h0M507.3 288.8h0M507.4 288.7h0M507.4 288.6h0M507.5 288.5h0M507.6 288.4h0M507.7 288.4h0M507.8 288.3h0M507.9 288.2h0M507.9 288.1h0M508 288h0M508.1 287.9h0M508.2 287.8h0M508.3 287.7h0M508.4 287.6h0M508.4 287.5h0M508.5 287.3h0M508.6 287.2h0M508.7 287.1h0M508.8 287h0M508.8 286.8h0M508.9 286.7h0M509 286.5h0M509.1 286.3h0M509.2 286.1h0M509.3 285.9h0M509.3 285.7h0M509.4 285.5h0M509.5 285.2h0M509.6 284.9h0M509.7 284.5h0M509.7 284h0M509.8 283.9h0M510 283.7h0M509.5 283.4h0M509.8 283h0M510 282.6h0M509.5 282.1h0M509.8 281.5h0M510 280.8h0M509.5 280h0M517.8 294.7h0M517.9 294.3h0M518 294.1h0M518.1 293.9h0M518.1 293.8h0M518.2 293.6h0M518.3 293.5h0M518.4 293.4h0M518.5 293.2h0M518.6 293.1h0M518.6 293h0M518.7 292.9h0M518.8 292.8h0M518.9 292.6h0M519 292.5h0M519.1 292.4h0M519.1 292.3h0M519.2 292.2h0M519.3 292.1h0M519.4 291.9h0M519.5 291.8h0M519.5 291.7h0M519.6 291.6h0M519.7 291.5h0M519.8 291.3h0M519.9 291.2h0M520 291.1h0M520 291h0M520.1 290.8h0M520.2 290.7h0M520.3 290.5h0M520.4 290.4h0M520.5 290.3h0M520.5 290.1h0M520.6 290h0M520.7 289.8h0M520.8 289.6h0M520.9 289.5h0M520.9 289.3h0M521 289.1h0M521.1 288.9h0M521.2 288.8h0M521.3 288.6h0M521.4 288.4h0M521.4 288.1h0M521.5 287.9h0M521.6 287.7h0M521.7 287.5h0M521.8 287.2h0M521.9 286.9h0M521.9 286.7h0M522 286.4h0M522.1 286.1h0M522.2 285.8h0M522.3 285.4h0M522.3 285h0M522.4 284.7h0M522.5 284.2h0M522.6 283.8h0M522.7 283.3h0M522.8 282.7h0M522.8 282.1h0M522.9 281.5h0M523 280.8h0M523.1 279.9h0M523.2 279h0M523.3 277.8h0M523.3 276.5h0M523.4 274.8h0M523.5 272.6h0M523.5 272.3h0M523.8 271.7h0M523.2 270.9h0M523.5 269.8h0M523.8 268.4h0M523.2 266.9h0M523.5 265h0M523.8 262.9h0M523.2 260.4h0M531.6 294.7h0M531.7 294.2h0M531.7 294h0M531.8 293.7h0M531.9 293.5h0M532 293.3h0M532.1 293.2h0M532.1 293h0M532.2 292.8h0M532.3 292.6h0M532.4 292.5h0M532.5 292.3h0M532.6 292.2h0M532.6 292h0M532.7 291.8h0M532.8 291.7h0M532.9 291.5h0M533 291.3h0M533.1 291.2h0M533.1 291h0M533.2 290.8h0M533.3 290.7h0M533.4 290.5h0M533.5 290.3h0M533.5 290.1h0M533.6 289.9h0M533.7 289.7h0M533.8 289.5h0M533.9 289.3h0M534 289.1h0M534 288.9h0M534.1 288.7h0M534.2 288.5h0M534.3 288.3h0M534.4 288h0M534.5 287.8h0M534.5 287.6h0M534.6 287.3h0M534.7 287h0M534.8 286.8h0M534.9 286.5h0M534.9 286.2h0M535 285.9h0M535.1 285.6h0M535.2 285.2h0M535.3 284.9h0M535.4 284.5h0M535.4 284.1h0M535.5 283.7h0M535.6 283.3h0M535.7 282.9h0M535.8 282.4h0M535.9 281.9h0M535.9 281.4h0M536 280.8h0M536.1 280.2h0M536.2 279.6h0M536.3 278.9h0M536.3 278.1h0M536.4 277.3h0M536.5 276.4h0M536.6 275.4h0M536.7 274.3h0M536.8 273h0M536.8 271.6h0M536.9 269.9h0M537 267.9h0M537.1 265.5h0M537.2 262.5h0M537.2 258.6h0M537.2 257.9h0M537.5 256.6h0M537 254.6h0M537.2 252.1h0M537.5 249h0M537 245.2h0M537.2 240.7h0M537.5 235.3h0M537 228.8h0M545.3 290.1h0M545.4 289.5h0M545.5 289.3h0M545.6 289.1h0M545.6 289h0M545.7 288.9h0M545.8 288.8h0M545.9 288.7h0M546 288.6h0M546.1 288.5h0M546.1 288.5h0M546.2 288.4h0M546.3 288.4h0M546.4 288.3h0M546.5 288.2h0M546.6 288.2h0M546.6 288.1h0M546.7 288.1h0M546.8 288h0M546.9 288h0M547 287.9h0M547 287.9h0M547.1 287.8h0M547.2 287.8h0M547.3 287.7h0M547.4 287.7h0M547.5 287.7h0M547.5 287.6h0M547.6 287.6h0M547.7 287.5h0M547.8 287.5h0M547.9 287.4h0M548 287.4h0M548 287.3h0M548.1 287.3h0M548.2 287.3h0M548.3 287.2h0M548.4 287.2h0M548.4 287.1h0M548.5 287.1h0M548.6 287h0M548.7 287h0M548.8 286.9h0M548.9 286.9h0M548.9 286.8h0M549 286.8h0M549.1 286.7h0M549.2 286.7h0M549.3 286.6h0M549.4 286.6h0M549.4 286.5h0M549.5 286.5h0M549.6 286.4h0M549.7 286.4h0M549.8 286.3h0M549.8 286.2h0M549.9 286.2h0M550 286.1h0M550.1 286h0M550.2 286h0M550.3 285.9h0M550.3 285.8h0M550.4 285.7h0M550.5 285.6h0M550.6 285.5h0M550.7 285.4h0M550.8 285.3h0M550.8 285.1h0M550.9 285h0M551 284.8h0M551 284.7h0M551.2 284.6h0M550.8 284.5h0M551 284.3h0M551.2 284.1h0M550.8 283.9h0M551 283.6h0M551.2 283.3h0M550.8 283h0M559.1 292.6h0M559.2 291.3h0M559.2 290.7h0M559.3 290.2h0M559.4 289.8h0M559.5 289.4h0M559.6 289.1h0M559.6 288.8h0M559.7 288.5h0M559.8 288.2h0M559.9 287.9h0M560 287.7h0M560.1 287.4h0M560.1 287.2h0M560.2 286.9h0M560.3 286.7h0M560.4 286.4h0M560.5 286.2h0M560.6 286h0M560.6 285.7h0M560.7 285.5h0M560.8 285.3h0M560.9 285h0M561 284.8h0M561 284.5h0M561.1 284.3h0M561.2 284.1h0M561.3 283.8h0M561.4 283.6h0M561.5 283.3h0M561.5 283.1h0M561.6 282.8h0M561.7 282.5h0M561.8 282.3h0M561.9 282h0M562 281.7h0M562 281.5h0M562.1 281.2h0M562.2 280.9h0M562.3 280.6h0M562.4 280.3h0M562.4 280h0M562.5 279.7h0M562.6 279.3h0M562.7 279h0M562.8 278.6h0M562.9 278.3h0M562.9 277.9h0M563 277.5h0M563.1 277.1h0M563.2 276.7h0M563.3 276.3h0M563.4 275.8h0M563.4 275.3h0M563.5 274.8h0M563.6 274.3h0M563.7 273.7h0M563.8 273.1h0M563.8 272.5h0M563.9 271.8h0M564 271.1h0M564.1 270.3h0M564.2 269.4h0M564.3 268.5h0M564.3 267.4h0M564.4 266.2h0M564.5 264.8h0M564.6 263.1h0M564.7 261.1h0M564.8 258.6h0M564.8 258.2h0M565 257.5h0M564.5 256.5h0M564.8 255.2h0M565 253.7h0M564.5 251.8h0M564.8 249.7h0M565 247.3h0M564.5 244.6h0M572.8 294.4h0M572.9 293.8h0M573 293.5h0M573.1 293.3h0M573.1 293.1h0M573.2 292.9h0M573.3 292.7h0M573.4 292.6h0M573.5 292.4h0M573.6 292.3h0M573.6 292.1h0M573.7 292h0M573.8 291.9h0M573.9 291.7h0M574 291.6h0M574.1 291.5h0M574.1 291.3h0M574.2 291.2h0M574.3 291.1h0M574.4 290.9h0M574.5 290.8h0M574.5 290.7h0M574.6 290.5h0M574.7 290.4h0M574.8 290.3h0M574.9 290.1h0M575 290h0M575 289.8h0M575.1 289.7h0M575.2 289.5h0M575.3 289.4h0M575.4 289.2h0M575.5 289.1h0M575.5 288.9h0M575.6 288.8h0M575.7 288.6h0M575.8 288.4h0M575.9 288.3h0M575.9 288.1h0M576 287.9h0M576.1 287.7h0M576.2 287.5h0M576.3 287.3h0M576.4 287.1h0M576.4 286.9h0M576.5 286.7h0M576.6 286.5h0M576.7 286.2h0M576.8 286h0M576.9 285.7h0M576.9 285.4h0M577 285.2h0M577.1 284.9h0M577.2 284.5h0M577.3 284.2h0M577.3 283.9h0M577.4 283.5h0M577.5 283.1h0M577.6 282.6h0M577.7 282.2h0M577.8 281.7h0M577.8 281.1h0M577.9 280.5h0M578 279.8h0M578.1 279.1h0M578.2 278.2h0M578.3 277.2h0M578.3 276h0M578.4 274.5h0M578.5 272.6h0M578.5 271.6h0M578.8 269.3h0M578.2 265.9h0M578.5 261.1h0M578.8 254.6h0M578.2 245.6h0M578.5 233.5h0M578.8 216.8h0M578.2 193.8h0M586.6 295h0M586.7 294.7h0M586.7 294.6h0M586.8 294.4h0M586.9 294.3h0M587 294.3h0M587.1 294.2h0M587.1 294.1h0M587.2 294h0M587.3 293.9h0M587.4 293.8h0M587.5 293.8h0M587.6 293.7h0M587.6 293.6h0M587.7 293.5h0M587.8 293.5h0M587.9 293.4h0M588 293.3h0M588.1 293.2h0M588.1 293.2h0M588.2 293.1h0M588.3 293h0M588.4 292.9h0M588.5 292.8h0M588.5 292.8h0M588.6 292.7h0M588.7 292.6h0M588.8 292.5h0M588.9 292.4h0M589 292.3h0M589 292.2h0M589.1 292.1h0M589.2 292h0M589.3 291.9h0M589.4 291.8h0M589.5 291.7h0M589.5 291.6h0M589.6 291.5h0M589.7 291.4h0M589.8 291.3h0M589.9 291.2h0M589.9 291h0M590 290.9h0M590.1 290.8h0M590.2 290.6h0M590.3 290.5h0M590.4 290.3h0M590.4 290.2h0M590.5 290h0M590.6 289.8h0M590.7 289.6h0M590.8 289.4h0M590.9 289.2h0M590.9 289h0M591 288.8h0M591.1 288.5h0M591.2 288.3h0M591.3 288h0M591.3 287.7h0M591.4 287.3h0M591.5 287h0M591.6 286.6h0M591.7 286.1h0M591.8 285.6h0M591.8 285h0M591.9 284.4h0M592 283.6h0M592.1 282.7h0M592.2 281.5h0M592.2 280h0M592.2 279.6h0M592.5 278.8h0M592 277.6h0M592.2 276.1h0M592.5 274.1h0M592 271.6h0M592.2 268.5h0M592.5 264.7h0M592 260h0M600.3 294.4h0M600.4 293.8h0M600.5 293.5h0M600.6 293.3h0M600.6 293.1h0M600.7 292.9h0M600.8 292.7h0M600.9 292.6h0M601 292.4h0M601.1 292.3h0M601.1 292.1h0M601.2 292h0M601.3 291.9h0M601.4 291.7h0M601.5 291.6h0M601.6 291.5h0M601.6 291.3h0M601.7 291.2h0M601.8 291.1h0M601.9 290.9h0M602 290.8h0M602 290.7h0M602.1 290.5h0M602.2 290.4h0M602.3 290.3h0M602.4 290.1h0M602.5 290h0M602.5 289.8h0M602.6 289.7h0M602.7 289.5h0M602.8 289.4h0M602.9 289.2h0M603 289.1h0M603 288.9h0M603.1 288.8h0M603.2 288.6h0M603.3 288.4h0M603.4 288.3h0M603.4 288.1h0M603.5 287.9h0M603.6 287.7h0M603.7 287.5h0M603.8 287.3h0M603.9 287.1h0M603.9 286.9h0M604 286.7h0M604.1 286.5h0M604.2 286.2h0M604.3 286h0M604.4 285.7h0M604.4 285.4h0M604.5 285.2h0M604.6 284.9h0M604.7 284.5h0M604.8 284.2h0M604.8 283.9h0M604.9 283.5h0M605 283.1h0M605.1 282.6h0M605.2 282.2h0M605.3 281.7h0M605.3 281.1h0M605.4 280.5h0M605.5 279.8h0M605.6 279.1h0M605.7 278.2h0M605.8 277.2h0M605.8 276h0M605.9 274.5h0M606 272.6h0M606 272.4h0M606.2 271.9h0M605.8 271.3h0M606 270.5h0M606.2 269.5h0M605.8 268.4h0M606 267.1h0M606.2 265.6h0M605.8 263.9h0M614.1 295.1h0M614.2 295h0M614.2 295h0M614.3 294.9h0M614.4 294.9h0M614.5 294.9h0M614.6 294.8h0M614.6 294.8h0M614.7 294.8h0M614.8 294.7h0M614.9 294.7h0M615 294.7h0M615.1 294.7h0M615.1 294.6h0M615.2 294.6h0M615.3 294.6h0M615.4 294.6h0M615.5 294.5h0M615.6 294.5h0M615.6 294.5h0M615.7 294.5h0M615.8 294.4h0M615.9 294.4h0M616 294.4h0M616 294.4h0M616.1 294.3h0M616.2 294.3h0M616.3 294.3h0M616.4 294.2h0M616.5 294.2h0M616.5 294.2h0M616.6 294.2h0M616.7 294.1h0M616.8 294.1h0M616.9 294.1h0M617 294h0M617 294h0M617.1 294h0M617.2 293.9h0M617.3 293.9h0M617.4 293.9h0M617.4 293.8h0M617.5 293.8h0M617.6 293.8h0M617.7 293.7h0M617.8 293.7h0M617.9 293.6h0M617.9 293.6h0M618 293.5h0M618.1 293.5h0M618.2 293.4h0M618.3 293.4h0M618.4 293.3h0M618.4 293.3h0M618.5 293.2h0M618.6 293.1h0M618.7 293.1h0M618.8 293h0M618.8 292.9h0M618.9 292.8h0M619 292.7h0M619.1 292.6h0M619.2 292.5h0M619.3 292.4h0M619.3 292.2h0M619.4 292.1h0M619.5 291.9h0M619.6 291.6h0M619.7 291.4h0M619.8 291h0M619.8 290.8h0M620 290.5h0M619.5 289.9h0M619.8 289.2h0M620 288.2h0M619.5 286.8h0M619.8 285.1h0M620 282.7h0M619.5 279.6h0M627.8 294.6h0M627.9 294.1h0M628 293.9h0M628.1 293.7h0M628.1 293.5h0M628.2 293.4h0M628.3 293.2h0M628.4 293.1h0M628.5 293h0M628.6 292.9h0M628.6 292.7h0M628.7 292.6h0M628.8 292.5h0M628.9 292.4h0M629 292.3h0M629.1 292.2h0M629.1 292.1h0M629.2 292h0M629.3 291.8h0M629.4 291.7h0M629.5 291.6h0M629.5 291.5h0M629.6 291.4h0M629.7 291.3h0M629.8 291.2h0M629.9 291h0M630 290.9h0M630 290.8h0M630.1 290.7h0M630.2 290.6h0M630.3 290.4h0M630.4 290.3h0M630.5 290.2h0M630.5 290h0M630.6 289.9h0M630.7 289.8h0M630.8 289.6h0M630.9 289.5h0M630.9 289.3h0M631 289.2h0M631.1 289h0M631.2 288.9h0M631.3 288.7h0M631.4 288.5h0M631.4 288.3h0M631.5 288.1h0M631.6 287.9h0M631.7 287.7h0M631.8 287.5h0M631.9 287.3h0M631.9 287.1h0M632 286.8h0M632.1 286.6h0M632.2 286.3h0M632.3 286h0M632.3 285.7h0M632.4 285.4h0M632.5 285.1h0M632.6 284.7h0M632.7 284.3h0M632.8 283.9h0M632.8 283.4h0M632.9 282.9h0M633 282.3h0M633.1 281.6h0M633.2 280.9h0M633.3 280h0M633.3 278.9h0M633.4 277.7h0M633.5 276h0M641.6 294.6h0M641.7 294.1h0M641.7 293.9h0M641.8 293.7h0M641.9 293.5h0M642 293.4h0M642.1 293.2h0M642.1 293.1h0M642.2 293h0M642.3 292.9h0M642.4 292.7h0M642.5 292.6h0M642.6 292.5h0M642.6 292.4h0M642.7 292.3h0M642.8 292.2h0M642.9 292.1h0M643 292h0M643.1 291.8h0M643.1 291.7h0M643.2 291.6h0M643.3 291.5h0M643.4 291.4h0M643.5 291.3h0M643.5 291.2h0M643.6 291h0M643.7 290.9h0M643.8 290.8h0M643.9 290.7h0M644 290.6h0M644 290.4h0M644.1 290.3h0M644.2 290.2h0M644.3 290h0M644.4 289.9h0M644.5 289.8h0M644.5 289.6h0M644.6 289.5h0M644.7 289.3h0M644.8 289.2h0M644.9 289h0M644.9 288.9h0M645 288.7h0M645.1 288.5h0M645.2 288.3h0M645.3 288.1h0M645.4 287.9h0M645.4 287.7h0M645.5 287.5h0M645.6 287.3h0M645.7 287.1h0M645.8 286.8h0M645.9 286.6h0M645.9 286.3h0M646 286h0M646.1 285.7h0M646.2 285.4h0M646.3 285.1h0M646.3 284.7h0M646.4 284.3h0M646.5 283.9h0M646.6 283.4h0M646.7 282.9h0M646.8 282.3h0M646.8 281.6h0M646.9 280.9h0M647 280h0M647.1 278.9h0M647.2 277.7h0M647.2 276h0" stroke="#16a845" stroke-width="1" stroke-linecap="round" fill="none" opacity="0.8"/>
<path d="M344 140h0M344 145h0M344 148h0M344 151h0M344 154h0M317 132h0M317 135.7h0" stroke="#ef4a45" stroke-width="1" stroke-linecap="round" fill="none" opacity="0.85"/>
<path d="M216.1 286.1h4.4M223 289.6h4.4M229.9 258.6h4.4M236.7 284.4h4.4M243.6 273.2h4.4M250.5 289h4.4M257.3 243.7h4.4M264.2 290.7h4.4M271.1 280.9h4.4M278 292.8h4.4M284.8 253.4h4.4M291.7 287.2h4.4M298.6 281h4.4M305.5 294h4.4M312.3 233.2h4.4M319.2 254.2h4.4M326.1 275.3h4.4M333 294.5h4.4M339.8 216.2h4.4M346.7 239.3h4.4M353.6 280.2h4.4M360.5 283.5h4.4M367.3 280.2h4.4M374.2 284.4h4.4M381.1 277h4.4M388 285h4.4M394.8 279.1h4.4M401.7 193.8h4.4M408.6 292.8h4.4M415.5 294.2h4.4M422.3 289h4.4M429.2 292.8h4.4M436.1 269.1h4.4M443 285.8h4.4M449.8 238.5h4.4M456.7 285.8h4.4M463.6 268.8h4.4M470.5 258.6h4.4M477.3 290.7h4.4M484.2 276.7h4.4M491.1 293.3h4.4M498 291h4.4M504.8 289h4.4M511.7 287h4.4M518.6 289.6h4.4M525.5 256.2h4.4M532.3 287.5h4.4M539.2 274.4h4.4M546.1 287.2h4.4M553 270.9h4.4M559.8 281.4h4.4M566.7 255.6h4.4M573.6 288.4h4.4M580.5 223.9h4.4M587.3 291.6h4.4M594.2 285.8h4.4M601.1 288.4h4.4M608 285.8h4.4M614.8 294h4.4M621.7 269.1h4.4M628.6 289.6h4.4M635.5 275.6h4.4M642.3 289.6h4.4M649.2 284.4h4.4" stroke="#111" stroke-width="1.3" fill="none"/>
<line x1="214.9" y1="37.3" x2="214.9" y2="296" stroke="#777" stroke-width="1.2"/>
<line x1="214.9" y1="37.3" x2="654.7" y2="37.3" stroke="#777" stroke-width="1.2"/>
<line x1="654.7" y1="37.3" x2="654.7" y2="296" stroke="#777" stroke-width="1.2"/>
<line x1="214.9" y1="296" x2="654.7" y2="296" stroke="#777" stroke-width="1.2"/>
<line x1="212.4" y1="295.3" x2="214.9" y2="295.3" stroke="#555" stroke-width="0.9"/>
<text x="212.2" y="299.2" font-size="11" text-anchor="end" fill="#111">0</text>
<line x1="212.4" y1="252.3" x2="214.9" y2="252.3" stroke="#555" stroke-width="0.9"/>
<text x="212.2" y="256.2" font-size="11" text-anchor="end" fill="#111">500</text>
<line x1="212.4" y1="209.3" x2="214.9" y2="209.3" stroke="#555" stroke-width="0.9"/>
<text x="212.2" y="213.2" font-size="11" text-anchor="end" fill="#111">1000</text>
<line x1="212.4" y1="166.3" x2="214.9" y2="166.3" stroke="#555" stroke-width="0.9"/>
<text x="212.2" y="170.2" font-size="11" text-anchor="end" fill="#111">1500</text>
<line x1="212.4" y1="123.3" x2="214.9" y2="123.3" stroke="#555" stroke-width="0.9"/>
<text x="212.2" y="127.2" font-size="11" text-anchor="end" fill="#111">2000</text>
<line x1="212.4" y1="80.3" x2="214.9" y2="80.3" stroke="#555" stroke-width="0.9"/>
<text x="212.2" y="84.2" font-size="11" text-anchor="end" fill="#111">2500</text>
<line x1="212.4" y1="37.3" x2="214.9" y2="37.3" stroke="#555" stroke-width="0.9"/>
<text x="212.2" y="41.2" font-size="11" text-anchor="end" fill="#111">3000</text>
<text x="178.4" y="147.3" font-size="12.8" text-anchor="middle" fill="#111" transform="rotate(-90 178.4 147.3)">Transcripts per million (TPM)</text>
<text x="219.8" y="36.4" font-size="8.9" fill="#1a1a1a" transform="rotate(-45 219.8 36.4)">ACC</text>
<text x="233.5" y="36.4" font-size="8.9" fill="#e8403c" transform="rotate(-45 233.5 36.4)">BLCA</text>
<text x="247.3" y="36.4" font-size="8.9" fill="#e8403c" transform="rotate(-45 247.3 36.4)">BRCA</text>
<text x="261" y="36.4" font-size="8.9" fill="#e8403c" transform="rotate(-45 261 36.4)">CESC</text>
<text x="274.8" y="36.4" font-size="8.9" fill="#1a1a1a" transform="rotate(-45 274.8 36.4)">CHOL</text>
<text x="288.5" y="36.4" font-size="8.9" fill="#e8403c" transform="rotate(-45 288.5 36.4)">COAD</text>
<text x="302.3" y="36.4" font-size="8.9" fill="#e8403c" transform="rotate(-45 302.3 36.4)">DLBC</text>
<text x="316" y="36.4" font-size="8.9" fill="#1a1a1a" transform="rotate(-45 316 36.4)">ESCA</text>
<text x="329.8" y="36.4" font-size="8.9" fill="#e8403c" transform="rotate(-45 329.8 36.4)">GBM</text>
<text x="343.5" y="36.4" font-size="8.9" fill="#1a1a1a" transform="rotate(-45 343.5 36.4)">HNSC</text>
<text x="357.3" y="36.4" font-size="8.9" fill="#1a1a1a" transform="rotate(-45 357.3 36.4)">KICH</text>
<text x="371" y="36.4" font-size="8.9" fill="#1a1a1a" transform="rotate(-45 371 36.4)">KIRC</text>
<text x="384.8" y="36.4" font-size="8.9" fill="#1a1a1a" transform="rotate(-45 384.8 36.4)">KIRP</text>
<text x="398.5" y="36.4" font-size="8.9" fill="#1aa84a" transform="rotate(-45 398.5 36.4)">LAML</text>
<text x="412.3" y="36.4" font-size="8.9" fill="#e8403c" transform="rotate(-45 412.3 36.4)">LGG</text>
<text x="426" y="36.4" font-size="8.9" fill="#e8403c" transform="rotate(-45 426 36.4)">LIHC</text>
<text x="439.8" y="36.4" font-size="8.9" fill="#e8403c" transform="rotate(-45 439.8 36.4)">LUAD</text>
<text x="453.5" y="36.4" font-size="8.9" fill="#e8403c" transform="rotate(-45 453.5 36.4)">LUSC</text>
<text x="463.8" y="36.4" font-size="8.9" fill="#1a1a1a" transform="rotate(-45 463.8 36.4)">MESO</text>
<text x="474.1" y="36.4" font-size="8.9" fill="#e8403c" transform="rotate(-45 474.1 36.4)">OV</text>
<text x="487.9" y="36.4" font-size="8.9" fill="#e8403c" transform="rotate(-45 487.9 36.4)">PAAD</text>
<text x="501.6" y="36.4" font-size="8.9" fill="#1a1a1a" transform="rotate(-45 501.6 36.4)">PCPG</text>
<text x="515.4" y="36.4" font-size="8.9" fill="#1a1a1a" transform="rotate(-45 515.4 36.4)">PRAD</text>
<text x="529.1" y="36.4" font-size="8.9" fill="#e8403c" transform="rotate(-45 529.1 36.4)">READ</text>
<text x="542.9" y="36.4" font-size="8.9" fill="#1a1a1a" transform="rotate(-45 542.9 36.4)">SARC</text>
<text x="556.6" y="36.4" font-size="8.9" fill="#1a1a1a" transform="rotate(-45 556.6 36.4)">SKCM</text>
<text x="570.4" y="36.4" font-size="8.9" fill="#e8403c" transform="rotate(-45 570.4 36.4)">STAD</text>
<text x="584.1" y="36.4" font-size="8.9" fill="#e8403c" transform="rotate(-45 584.1 36.4)">TGCT</text>
<text x="597.9" y="36.4" font-size="8.9" fill="#1a1a1a" transform="rotate(-45 597.9 36.4)">THCA</text>
<text x="611.6" y="36.4" font-size="8.9" fill="#e8403c" transform="rotate(-45 611.6 36.4)">THYM</text>
<text x="625.4" y="36.4" font-size="8.9" fill="#e8403c" transform="rotate(-45 625.4 36.4)">UCEC</text>
<text x="639.1" y="36.4" font-size="8.9" fill="#e8403c" transform="rotate(-45 639.1 36.4)">UCS</text>
<text x="649.5" y="36.4" font-size="8.9" fill="#1a1a1a" transform="rotate(-45 649.5 36.4)">UVM</text>
<line x1="516.6" y1="6.6" x2="534.8" y2="6.6" stroke="#ee5550" stroke-width="1"/>
<line x1="526.3" y1="4.4" x2="526.3" y2="8.7" stroke="#111" stroke-width="1"/>
<text x="537.8" y="9.8" font-size="11" fill="#111">Tumor</text>
<line x1="602.2" y1="6.6" x2="620.6" y2="6.6" stroke="#22aa50" stroke-width="1"/>
<line x1="611.4" y1="4.4" x2="611.4" y2="8.7" stroke="#111" stroke-width="1"/>
<text x="623.2" y="9.8" font-size="11" fill="#111">Non tumor</text>
<text x="166.4" y="11" font-size="12.5" font-weight="bold">B</text>
<line x1="110.7" y1="432.2" x2="110.7" y2="458.1" stroke="#ff1a1a" stroke-width="1.1"/>
<line x1="110.7" y1="489" x2="110.7" y2="532" stroke="#ff1a1a" stroke-width="1.1"/>
<rect x="105" y="458.1" width="11.4" height="30.9" fill="none" stroke="#ff1a1a" stroke-width="1.1"/>
<line x1="105" y1="475.3" x2="116.4" y2="475.3" stroke="#ff1a1a" stroke-width="1.6"/>
<path d="M110.7 536.5h0M110.7 538.5h0M110.7 540.5h0M110.7 542.5h0M110.7 544.5h0M110.7 546.5h0M110.7 548.5h0M110.7 550.8h0M110.7 560.4h0" stroke="#ff1a1a" stroke-width="3.6" stroke-linecap="round" fill="none"/>
<line x1="123.8" y1="413.8" x2="123.8" y2="437.9" stroke="#1a1aff" stroke-width="1.1"/>
<line x1="123.8" y1="486.7" x2="123.8" y2="507.8" stroke="#1a1aff" stroke-width="1.1"/>
<rect x="120.8" y="437.9" width="6" height="48.8" fill="none" stroke="#1a1aff" stroke-width="1.1"/>
<line x1="120.8" y1="447.1" x2="126.8" y2="447.1" stroke="#1a1aff" stroke-width="1.6"/>
<line x1="130.4" y1="388.6" x2="130.4" y2="423.7" stroke="#ff1a1a" stroke-width="1.1"/>
<line x1="130.4" y1="448.7" x2="130.4" y2="482.6" stroke="#ff1a1a" stroke-width="1.1"/>
<rect x="127.4" y="423.7" width="6" height="25" fill="none" stroke="#ff1a1a" stroke-width="1.1"/>
<line x1="127.4" y1="434.4" x2="133.4" y2="434.4" stroke="#ff1a1a" stroke-width="1.6"/>
<path d="M130.4 486.5h0M130.4 493h0M130.4 506.7h0M130.4 511.7h0M130.4 533.8h0" stroke="#ff1a1a" stroke-width="3.6" stroke-linecap="round" fill="none"/>
<line x1="140.2" y1="459.7" x2="140.2" y2="476.9" stroke="#1a1aff" stroke-width="1.1"/>
<line x1="140.2" y1="493.6" x2="140.2" y2="512.4" stroke="#1a1aff" stroke-width="1.1"/>
<rect x="137.2" y="476.9" width="6" height="16.7" fill="none" stroke="#1a1aff" stroke-width="1.1"/>
<line x1="137.2" y1="484.9" x2="143.2" y2="484.9" stroke="#1a1aff" stroke-width="1.6"/>
<path d="M140.2 521.1h0M140.2 531.9h0" stroke="#1a1aff" stroke-width="3.6" stroke-linecap="round" fill="none"/>
<line x1="146.8" y1="397.8" x2="146.8" y2="444.3" stroke="#ff1a1a" stroke-width="1.1"/>
<line x1="146.8" y1="466.6" x2="146.8" y2="498.7" stroke="#ff1a1a" stroke-width="1.1"/>
<rect x="143.8" y="444.3" width="6" height="22.3" fill="none" stroke="#ff1a1a" stroke-width="1.1"/>
<line x1="143.8" y1="455.8" x2="149.8" y2="455.8" stroke="#ff1a1a" stroke-width="1.6"/>
<path d="M146.8 395.9h0M146.8 405h0M146.8 407.5h0M146.8 410.4h0M146.8 501h0M146.8 504h0M146.8 507h0M146.8 510h0M146.8 513h0M146.8 516h0M146.8 520.5h0" stroke="#ff1a1a" stroke-width="3.6" stroke-linecap="round" fill="none"/>
<line x1="156.6" y1="469.5" x2="156.6" y2="475.7" stroke="#1a1aff" stroke-width="1.1"/>
<line x1="156.6" y1="500.5" x2="156.6" y2="517.5" stroke="#1a1aff" stroke-width="1.1"/>
<rect x="153.6" y="475.7" width="6" height="24.8" fill="none" stroke="#1a1aff" stroke-width="1.1"/>
<line x1="153.6" y1="482.2" x2="159.6" y2="482.2" stroke="#1a1aff" stroke-width="1.6"/>
<line x1="163.2" y1="392" x2="163.2" y2="415.6" stroke="#ff1a1a" stroke-width="1.1"/>
<line x1="163.2" y1="435.1" x2="163.2" y2="460.8" stroke="#ff1a1a" stroke-width="1.1"/>
<rect x="160.2" y="415.6" width="6" height="19.5" fill="none" stroke="#ff1a1a" stroke-width="1.1"/>
<line x1="160.2" y1="423.4" x2="166.2" y2="423.4" stroke="#ff1a1a" stroke-width="1.6"/>
<path d="M163.2 384.4h0M163.2 464.3h0M163.2 467.5h0M163.2 471.1h0M163.2 479.2h0M163.2 491.8h0" stroke="#ff1a1a" stroke-width="3.6" stroke-linecap="round" fill="none"/>
<line x1="173" y1="509" x2="173" y2="512.4" stroke="#1a1aff" stroke-width="1.1"/>
<line x1="173" y1="520.5" x2="173" y2="530.8" stroke="#1a1aff" stroke-width="1.1"/>
<rect x="170" y="512.4" width="6" height="8.1" fill="none" stroke="#1a1aff" stroke-width="1.1"/>
<line x1="170" y1="519.3" x2="176" y2="519.3" stroke="#1a1aff" stroke-width="1.6"/>
<path d="M173 468.4h0" stroke="#1a1aff" stroke-width="3.6" stroke-linecap="round" fill="none"/>
<line x1="179.6" y1="415.6" x2="179.6" y2="453.3" stroke="#ff1a1a" stroke-width="1.1"/>
<line x1="179.6" y1="479.2" x2="179.6" y2="495.2" stroke="#ff1a1a" stroke-width="1.1"/>
<rect x="176.6" y="453.3" width="6" height="25.9" fill="none" stroke="#ff1a1a" stroke-width="1.1"/>
<line x1="176.6" y1="468.4" x2="182.6" y2="468.4" stroke="#ff1a1a" stroke-width="1.6"/>
<line x1="189.4" y1="419.5" x2="189.4" y2="436.3" stroke="#1a1aff" stroke-width="1.1"/>
<line x1="189.4" y1="449.4" x2="189.4" y2="455.1" stroke="#1a1aff" stroke-width="1.1"/>
<rect x="186.4" y="436.3" width="6" height="13.1" fill="none" stroke="#1a1aff" stroke-width="1.1"/>
<line x1="186.4" y1="442.5" x2="192.4" y2="442.5" stroke="#1a1aff" stroke-width="1.6"/>
<path d="M189.4 409.2h0M189.4 479.6h0" stroke="#1a1aff" stroke-width="3.6" stroke-linecap="round" fill="none"/>
<line x1="196" y1="396.6" x2="196" y2="424.8" stroke="#ff1a1a" stroke-width="1.1"/>
<line x1="196" y1="441.3" x2="196" y2="459.7" stroke="#ff1a1a" stroke-width="1.1"/>
<rect x="193" y="424.8" width="6" height="16.5" fill="none" stroke="#ff1a1a" stroke-width="1.1"/>
<line x1="193" y1="432.2" x2="199" y2="432.2" stroke="#ff1a1a" stroke-width="1.6"/>
<path d="M196 396.6h0M196 467.7h0M196 471h0M196 474h0M196 478h0M196 482h0M196 486h0M196 490h0M196 494h0M196 498h0M196 502h0M196 507.8h0" stroke="#ff1a1a" stroke-width="3.6" stroke-linecap="round" fill="none"/>
<line x1="209.1" y1="428" x2="209.1" y2="445.2" stroke="#ff1a1a" stroke-width="1.1"/>
<line x1="209.1" y1="471.6" x2="209.1" y2="509" stroke="#ff1a1a" stroke-width="1.1"/>
<rect x="203.4" y="445.2" width="11.4" height="26.4" fill="none" stroke="#ff1a1a" stroke-width="1.1"/>
<line x1="203.4" y1="455.6" x2="214.8" y2="455.6" stroke="#ff1a1a" stroke-width="1.6"/>
<line x1="222.2" y1="400" x2="222.2" y2="436.3" stroke="#1a1aff" stroke-width="1.1"/>
<line x1="222.2" y1="488.8" x2="222.2" y2="495.9" stroke="#1a1aff" stroke-width="1.1"/>
<rect x="219.2" y="436.3" width="6" height="52.5" fill="none" stroke="#1a1aff" stroke-width="1.1"/>
<line x1="219.2" y1="477.6" x2="225.2" y2="477.6" stroke="#1a1aff" stroke-width="1.6"/>
<line x1="228.8" y1="392.5" x2="228.8" y2="413.1" stroke="#ff1a1a" stroke-width="1.1"/>
<line x1="228.8" y1="431.7" x2="228.8" y2="459.7" stroke="#ff1a1a" stroke-width="1.1"/>
<rect x="225.8" y="413.1" width="6" height="18.6" fill="none" stroke="#ff1a1a" stroke-width="1.1"/>
<line x1="225.8" y1="421.8" x2="231.8" y2="421.8" stroke="#ff1a1a" stroke-width="1.6"/>
<path d="M228.8 370.7h0M228.8 379.9h0M228.8 382h0M228.8 383.5h0M228.8 460.8h0M228.8 470h0" stroke="#ff1a1a" stroke-width="3.6" stroke-linecap="round" fill="none"/>
<line x1="238.6" y1="523.4" x2="238.6" y2="524.7" stroke="#1a1aff" stroke-width="1.1"/>
<line x1="238.6" y1="543.4" x2="238.6" y2="544.5" stroke="#1a1aff" stroke-width="1.1"/>
<rect x="235.6" y="524.7" width="6" height="18.7" fill="none" stroke="#1a1aff" stroke-width="1.1"/>
<line x1="235.6" y1="542.2" x2="241.6" y2="542.2" stroke="#1a1aff" stroke-width="1.6"/>
<line x1="245.2" y1="409.9" x2="245.2" y2="439" stroke="#ff1a1a" stroke-width="1.1"/>
<line x1="245.2" y1="461.5" x2="245.2" y2="494" stroke="#ff1a1a" stroke-width="1.1"/>
<rect x="242.2" y="439" width="6" height="22.5" fill="none" stroke="#ff1a1a" stroke-width="1.1"/>
<line x1="242.2" y1="449.8" x2="248.2" y2="449.8" stroke="#ff1a1a" stroke-width="1.6"/>
<path d="M245.2 399.6h0M245.2 402.5h0M245.2 406.5h0M245.2 495.2h0M245.2 498h0M245.2 501h0M245.2 515.9h0" stroke="#ff1a1a" stroke-width="3.6" stroke-linecap="round" fill="none"/>
<line x1="255" y1="387" x2="255" y2="411" stroke="#1a1aff" stroke-width="1.1"/>
<line x1="255" y1="447.5" x2="255" y2="502.1" stroke="#1a1aff" stroke-width="1.1"/>
<rect x="252" y="411" width="6" height="36.5" fill="none" stroke="#1a1aff" stroke-width="1.1"/>
<line x1="252" y1="421.4" x2="258" y2="421.4" stroke="#1a1aff" stroke-width="1.6"/>
<path d="M255 509h0" stroke="#1a1aff" stroke-width="3.6" stroke-linecap="round" fill="none"/>
<line x1="261.6" y1="382.8" x2="261.6" y2="401.9" stroke="#ff1a1a" stroke-width="1.1"/>
<line x1="261.6" y1="420" x2="261.6" y2="448.2" stroke="#ff1a1a" stroke-width="1.1"/>
<rect x="258.6" y="401.9" width="6" height="18.1" fill="none" stroke="#ff1a1a" stroke-width="1.1"/>
<line x1="258.6" y1="410.4" x2="264.6" y2="410.4" stroke="#ff1a1a" stroke-width="1.6"/>
<path d="M261.6 361.5h0M261.6 368.4h0M261.6 448.2h0M261.6 451h0M261.6 454h0M261.6 465.4h0M261.6 469h0M261.6 473h0M261.6 477.6h0" stroke="#ff1a1a" stroke-width="3.6" stroke-linecap="round" fill="none"/>
<line x1="271.4" y1="454" x2="271.4" y2="463.6" stroke="#1a1aff" stroke-width="1.1"/>
<line x1="271.4" y1="475.7" x2="271.4" y2="490.6" stroke="#1a1aff" stroke-width="1.1"/>
<rect x="268.4" y="463.6" width="6" height="12.1" fill="none" stroke="#1a1aff" stroke-width="1.1"/>
<line x1="268.4" y1="472.3" x2="274.4" y2="472.3" stroke="#1a1aff" stroke-width="1.6"/>
<path d="M271.4 431h0M271.4 434h0M271.4 438h0M271.4 441h0M271.4 444.1h0" stroke="#1a1aff" stroke-width="3.6" stroke-linecap="round" fill="none"/>
<line x1="278" y1="429.4" x2="278" y2="453.3" stroke="#ff1a1a" stroke-width="1.1"/>
<line x1="278" y1="471.1" x2="278" y2="488.3" stroke="#ff1a1a" stroke-width="1.1"/>
<rect x="275" y="453.3" width="6" height="17.8" fill="none" stroke="#ff1a1a" stroke-width="1.1"/>
<line x1="275" y1="460.8" x2="281" y2="460.8" stroke="#ff1a1a" stroke-width="1.6"/>
<path d="M278 505.6h0M278 526.2h0" stroke="#ff1a1a" stroke-width="3.6" stroke-linecap="round" fill="none"/>
<line x1="287.8" y1="457.4" x2="287.8" y2="470.5" stroke="#1a1aff" stroke-width="1.1"/>
<line x1="287.8" y1="481.9" x2="287.8" y2="495.2" stroke="#1a1aff" stroke-width="1.1"/>
<rect x="284.8" y="470.5" width="6" height="11.4" fill="none" stroke="#1a1aff" stroke-width="1.1"/>
<line x1="284.8" y1="474.1" x2="290.8" y2="474.1" stroke="#1a1aff" stroke-width="1.6"/>
<path d="M287.8 438.6h0M287.8 449.4h0M287.8 451.5h0M287.8 453.3h0" stroke="#1a1aff" stroke-width="3.6" stroke-linecap="round" fill="none"/>
<line x1="294.4" y1="423" x2="294.4" y2="454.4" stroke="#ff1a1a" stroke-width="1.1"/>
<line x1="294.4" y1="476.4" x2="294.4" y2="509" stroke="#ff1a1a" stroke-width="1.1"/>
<rect x="291.4" y="454.4" width="6" height="22" fill="none" stroke="#ff1a1a" stroke-width="1.1"/>
<line x1="291.4" y1="465" x2="297.4" y2="465" stroke="#ff1a1a" stroke-width="1.6"/>
<path d="M294.4 402.3h0M294.4 412.7h0M294.4 417.2h0M294.4 419.5h0M294.4 421.8h0M294.4 514.7h0M294.4 518h0M294.4 521h0M294.4 524h0M294.4 526.2h0" stroke="#ff1a1a" stroke-width="3.6" stroke-linecap="round" fill="none"/>
<line x1="304.2" y1="455.1" x2="304.2" y2="466.6" stroke="#1a1aff" stroke-width="1.1"/>
<line x1="304.2" y1="479.2" x2="304.2" y2="491.8" stroke="#1a1aff" stroke-width="1.1"/>
<rect x="301.2" y="466.6" width="6" height="12.6" fill="none" stroke="#1a1aff" stroke-width="1.1"/>
<line x1="301.2" y1="474.6" x2="307.2" y2="474.6" stroke="#1a1aff" stroke-width="1.6"/>
<path d="M304.2 447.5h0" stroke="#1a1aff" stroke-width="3.6" stroke-linecap="round" fill="none"/>
<line x1="310.8" y1="426.4" x2="310.8" y2="448.2" stroke="#ff1a1a" stroke-width="1.1"/>
<line x1="310.8" y1="466.1" x2="310.8" y2="490.6" stroke="#ff1a1a" stroke-width="1.1"/>
<rect x="307.8" y="448.2" width="6" height="17.9" fill="none" stroke="#ff1a1a" stroke-width="1.1"/>
<line x1="307.8" y1="455.8" x2="313.8" y2="455.8" stroke="#ff1a1a" stroke-width="1.6"/>
<path d="M310.8 410.8h0M310.8 496.4h0M310.8 499h0M310.8 502h0M310.8 505h0M310.8 508h0M310.8 510.1h0" stroke="#ff1a1a" stroke-width="3.6" stroke-linecap="round" fill="none"/>
<line x1="323.9" y1="440.2" x2="323.9" y2="462" stroke="#ff1a1a" stroke-width="1.1"/>
<line x1="323.9" y1="477.3" x2="323.9" y2="496.4" stroke="#ff1a1a" stroke-width="1.1"/>
<rect x="318.2" y="462" width="11.4" height="15.3" fill="none" stroke="#ff1a1a" stroke-width="1.1"/>
<line x1="318.2" y1="470.5" x2="329.6" y2="470.5" stroke="#ff1a1a" stroke-width="1.6"/>
<path d="M323.9 433.3h0M323.9 436h0M323.9 439h0M323.9 502.1h0M323.9 510.6h0" stroke="#ff1a1a" stroke-width="3.6" stroke-linecap="round" fill="none"/>
<line x1="340.3" y1="484.9" x2="340.3" y2="512" stroke="#ff1a1a" stroke-width="1.1"/>
<line x1="340.3" y1="531.5" x2="340.3" y2="557.3" stroke="#ff1a1a" stroke-width="1.1"/>
<rect x="334.6" y="512" width="11.4" height="19.5" fill="none" stroke="#ff1a1a" stroke-width="1.1"/>
<line x1="334.6" y1="521.6" x2="346" y2="521.6" stroke="#ff1a1a" stroke-width="1.6"/>
<path d="M340.3 441.3h0M340.3 444h0M340.3 447h0M340.3 450h0M340.3 453h0M340.3 456h0M340.3 459h0M340.3 462h0M340.3 465h0M340.3 468h0M340.3 471h0M340.3 474h0M340.3 477h0M340.3 480h0M340.3 482.6h0" stroke="#ff1a1a" stroke-width="3.6" stroke-linecap="round" fill="none"/>
<line x1="353.4" y1="478" x2="353.4" y2="502.1" stroke="#1a1aff" stroke-width="1.1"/>
<line x1="353.4" y1="520.5" x2="353.4" y2="530.3" stroke="#1a1aff" stroke-width="1.1"/>
<rect x="350.4" y="502.1" width="6" height="18.4" fill="none" stroke="#1a1aff" stroke-width="1.1"/>
<line x1="350.4" y1="513.6" x2="356.4" y2="513.6" stroke="#1a1aff" stroke-width="1.6"/>
<line x1="360" y1="432.8" x2="360" y2="475" stroke="#ff1a1a" stroke-width="1.1"/>
<line x1="360" y1="503.7" x2="360" y2="537.7" stroke="#ff1a1a" stroke-width="1.1"/>
<rect x="357" y="475" width="6" height="28.7" fill="none" stroke="#ff1a1a" stroke-width="1.1"/>
<line x1="357" y1="490.2" x2="363" y2="490.2" stroke="#ff1a1a" stroke-width="1.6"/>
<path d="M360 405.8h0M360 552h0M360 555.3h0" stroke="#ff1a1a" stroke-width="3.6" stroke-linecap="round" fill="none"/>
<line x1="369.8" y1="447.8" x2="369.8" y2="465.4" stroke="#1a1aff" stroke-width="1.1"/>
<line x1="369.8" y1="478.7" x2="369.8" y2="493.6" stroke="#1a1aff" stroke-width="1.1"/>
<rect x="366.8" y="465.4" width="6" height="13.3" fill="none" stroke="#1a1aff" stroke-width="1.1"/>
<line x1="366.8" y1="473.4" x2="372.8" y2="473.4" stroke="#1a1aff" stroke-width="1.6"/>
<path d="M369.8 431h0M369.8 434h0M369.8 437h0M369.8 440h0M369.8 444.8h0" stroke="#1a1aff" stroke-width="3.6" stroke-linecap="round" fill="none"/>
<line x1="376.4" y1="401.2" x2="376.4" y2="434.4" stroke="#ff1a1a" stroke-width="1.1"/>
<line x1="376.4" y1="458.1" x2="376.4" y2="491.8" stroke="#ff1a1a" stroke-width="1.1"/>
<rect x="373.4" y="434.4" width="6" height="23.7" fill="none" stroke="#ff1a1a" stroke-width="1.1"/>
<line x1="373.4" y1="445.9" x2="379.4" y2="445.9" stroke="#ff1a1a" stroke-width="1.6"/>
<path d="M376.4 395.9h0M376.4 506.2h0M376.4 509h0M376.4 512h0M376.4 515h0M376.4 518h0M376.4 521.1h0" stroke="#ff1a1a" stroke-width="3.6" stroke-linecap="round" fill="none"/>
<line x1="386.2" y1="440.2" x2="386.2" y2="460.4" stroke="#1a1aff" stroke-width="1.1"/>
<line x1="386.2" y1="475.7" x2="386.2" y2="489" stroke="#1a1aff" stroke-width="1.1"/>
<rect x="383.2" y="460.4" width="6" height="15.3" fill="none" stroke="#1a1aff" stroke-width="1.1"/>
<line x1="383.2" y1="469.5" x2="389.2" y2="469.5" stroke="#1a1aff" stroke-width="1.6"/>
<path d="M386.2 433.3h0M386.2 436.3h0" stroke="#1a1aff" stroke-width="3.6" stroke-linecap="round" fill="none"/>
<line x1="392.8" y1="387" x2="392.8" y2="411" stroke="#ff1a1a" stroke-width="1.1"/>
<line x1="392.8" y1="429.9" x2="392.8" y2="456.2" stroke="#ff1a1a" stroke-width="1.1"/>
<rect x="389.8" y="411" width="6" height="18.9" fill="none" stroke="#ff1a1a" stroke-width="1.1"/>
<line x1="389.8" y1="419.5" x2="395.8" y2="419.5" stroke="#ff1a1a" stroke-width="1.6"/>
<path d="M392.8 368.6h0M392.8 371.5h0M392.8 374h0M392.8 376.7h0M392.8 464.3h0M392.8 467h0M392.8 470h0M392.8 473h0M392.8 476.9h0M392.8 504.9h0" stroke="#ff1a1a" stroke-width="3.6" stroke-linecap="round" fill="none"/>
<line x1="405.9" y1="398.9" x2="405.9" y2="433.3" stroke="#ff1a1a" stroke-width="1.1"/>
<line x1="405.9" y1="458.1" x2="405.9" y2="494.1" stroke="#ff1a1a" stroke-width="1.1"/>
<rect x="400.2" y="433.3" width="11.4" height="24.8" fill="none" stroke="#ff1a1a" stroke-width="1.1"/>
<line x1="400.2" y1="445.2" x2="411.6" y2="445.2" stroke="#ff1a1a" stroke-width="1.6"/>
<path d="M405.9 507.4h0" stroke="#ff1a1a" stroke-width="3.6" stroke-linecap="round" fill="none"/>
<line x1="422.3" y1="387" x2="422.3" y2="415.4" stroke="#ff1a1a" stroke-width="1.1"/>
<line x1="422.3" y1="436.3" x2="422.3" y2="465.4" stroke="#ff1a1a" stroke-width="1.1"/>
<rect x="416.6" y="415.4" width="11.4" height="20.9" fill="none" stroke="#ff1a1a" stroke-width="1.1"/>
<line x1="416.6" y1="425.7" x2="428" y2="425.7" stroke="#ff1a1a" stroke-width="1.6"/>
<path d="M422.3 468.9h0M422.3 472h0M422.3 475h0M422.3 478h0M422.3 481h0M422.3 484.4h0" stroke="#ff1a1a" stroke-width="3.6" stroke-linecap="round" fill="none"/>
<line x1="435.4" y1="460.8" x2="435.4" y2="464.3" stroke="#1a1aff" stroke-width="1.1"/>
<line x1="435.4" y1="474.1" x2="435.4" y2="474.1" stroke="#1a1aff" stroke-width="1.1"/>
<rect x="432.4" y="464.3" width="6" height="9.8" fill="none" stroke="#1a1aff" stroke-width="1.1"/>
<line x1="432.4" y1="467.2" x2="438.4" y2="467.2" stroke="#1a1aff" stroke-width="1.6"/>
<path d="M435.4 492.9h0" stroke="#1a1aff" stroke-width="3.6" stroke-linecap="round" fill="none"/>
<line x1="442" y1="428.7" x2="442" y2="452.8" stroke="#ff1a1a" stroke-width="1.1"/>
<line x1="442" y1="469.5" x2="442" y2="492.9" stroke="#ff1a1a" stroke-width="1.1"/>
<rect x="439" y="452.8" width="6" height="16.7" fill="none" stroke="#ff1a1a" stroke-width="1.1"/>
<line x1="439" y1="459" x2="445" y2="459" stroke="#ff1a1a" stroke-width="1.6"/>
<path d="M442 423h0M442 426h0M442 428.7h0M442 499.8h0M442 503h0M442 506h0M442 509h0M442 512h0M442 515h0M442 518h0M442 521h0M442 524h0M442 527h0M442 530h0M442 533h0M442 536.5h0" stroke="#ff1a1a" stroke-width="3.6" stroke-linecap="round" fill="none"/>
<line x1="451.8" y1="486.5" x2="451.8" y2="486.5" stroke="#1a1aff" stroke-width="1.1"/>
<line x1="451.8" y1="493.6" x2="451.8" y2="499.8" stroke="#1a1aff" stroke-width="1.1"/>
<rect x="448.8" y="486.5" width="6" height="7.1" fill="none" stroke="#1a1aff" stroke-width="1.1"/>
<line x1="448.8" y1="487.2" x2="454.8" y2="487.2" stroke="#1a1aff" stroke-width="1.6"/>
<line x1="458.4" y1="456.9" x2="458.4" y2="492.9" stroke="#ff1a1a" stroke-width="1.1"/>
<line x1="458.4" y1="520.5" x2="458.4" y2="548.5" stroke="#ff1a1a" stroke-width="1.1"/>
<rect x="455.4" y="492.9" width="6" height="27.6" fill="none" stroke="#ff1a1a" stroke-width="1.1"/>
<line x1="455.4" y1="505.6" x2="461.4" y2="505.6" stroke="#ff1a1a" stroke-width="1.6"/>
<line x1="468.2" y1="468.9" x2="468.2" y2="483.3" stroke="#1a1aff" stroke-width="1.1"/>
<line x1="468.2" y1="494.8" x2="468.2" y2="509" stroke="#1a1aff" stroke-width="1.1"/>
<rect x="465.2" y="483.3" width="6" height="11.5" fill="none" stroke="#1a1aff" stroke-width="1.1"/>
<line x1="465.2" y1="489" x2="471.2" y2="489" stroke="#1a1aff" stroke-width="1.6"/>
<path d="M468.2 454.6h0M468.2 457.5h0M468.2 460.8h0" stroke="#1a1aff" stroke-width="3.6" stroke-linecap="round" fill="none"/>
<line x1="474.8" y1="445.9" x2="474.8" y2="475" stroke="#ff1a1a" stroke-width="1.1"/>
<line x1="474.8" y1="492.9" x2="474.8" y2="519.3" stroke="#ff1a1a" stroke-width="1.1"/>
<rect x="471.8" y="475" width="6" height="17.9" fill="none" stroke="#ff1a1a" stroke-width="1.1"/>
<line x1="471.8" y1="483.8" x2="477.8" y2="483.8" stroke="#ff1a1a" stroke-width="1.6"/>
<path d="M474.8 421.8h0M474.8 436.7h0M474.8 445.2h0M474.8 520.5h0M474.8 523h0M474.8 526h0M474.8 529h0M474.8 532h0M474.8 535h0M474.8 538h0M474.8 541h0M474.8 544.5h0M474.8 548h0M474.8 552.3h0" stroke="#ff1a1a" stroke-width="3.6" stroke-linecap="round" fill="none"/>
<line x1="484.6" y1="424.1" x2="484.6" y2="439" stroke="#1a1aff" stroke-width="1.1"/>
<line x1="484.6" y1="451.7" x2="484.6" y2="460.8" stroke="#1a1aff" stroke-width="1.1"/>
<rect x="481.6" y="439" width="6" height="12.7" fill="none" stroke="#1a1aff" stroke-width="1.1"/>
<line x1="481.6" y1="439.7" x2="487.6" y2="439.7" stroke="#1a1aff" stroke-width="1.6"/>
<path d="M484.6 417.9h0M484.6 475.7h0" stroke="#1a1aff" stroke-width="3.6" stroke-linecap="round" fill="none"/>
<line x1="491.2" y1="404.2" x2="491.2" y2="425.7" stroke="#ff1a1a" stroke-width="1.1"/>
<line x1="491.2" y1="441.3" x2="491.2" y2="458.1" stroke="#ff1a1a" stroke-width="1.1"/>
<rect x="488.2" y="425.7" width="6" height="15.6" fill="none" stroke="#ff1a1a" stroke-width="1.1"/>
<line x1="488.2" y1="432.6" x2="494.2" y2="432.6" stroke="#ff1a1a" stroke-width="1.6"/>
<path d="M491.2 466.6h0M491.2 470h0M491.2 473h0M491.2 476h0M491.2 478h0" stroke="#ff1a1a" stroke-width="3.6" stroke-linecap="round" fill="none"/>
<line x1="498" y1="481.9" x2="504" y2="481.9" stroke="#1a1aff" stroke-width="1.6"/>
<line x1="507.6" y1="399.6" x2="507.6" y2="438.6" stroke="#ff1a1a" stroke-width="1.1"/>
<line x1="507.6" y1="471.8" x2="507.6" y2="515.9" stroke="#ff1a1a" stroke-width="1.1"/>
<rect x="504.6" y="438.6" width="6" height="33.2" fill="none" stroke="#ff1a1a" stroke-width="1.1"/>
<line x1="504.6" y1="458.1" x2="510.6" y2="458.1" stroke="#ff1a1a" stroke-width="1.6"/>
<path d="M507.6 541.4h0" stroke="#ff1a1a" stroke-width="3.6" stroke-linecap="round" fill="none"/>
<line x1="514.4" y1="452.1" x2="520.4" y2="452.1" stroke="#1a1aff" stroke-width="1.6"/>
<line x1="524" y1="405.8" x2="524" y2="439" stroke="#ff1a1a" stroke-width="1.1"/>
<line x1="524" y1="463.6" x2="524" y2="497.5" stroke="#ff1a1a" stroke-width="1.1"/>
<rect x="521" y="439" width="6" height="24.6" fill="none" stroke="#ff1a1a" stroke-width="1.1"/>
<line x1="521" y1="450" x2="527" y2="450" stroke="#ff1a1a" stroke-width="1.6"/>
<path d="M524 387.4h0M524 391h0M524 395h0M524 399h0M524 403.5h0M524 504.4h0M524 533.3h0" stroke="#ff1a1a" stroke-width="3.6" stroke-linecap="round" fill="none"/>
<line x1="533.8" y1="393.2" x2="533.8" y2="426.4" stroke="#1a1aff" stroke-width="1.1"/>
<line x1="533.8" y1="471.1" x2="533.8" y2="505.6" stroke="#1a1aff" stroke-width="1.1"/>
<rect x="530.8" y="426.4" width="6" height="44.7" fill="none" stroke="#1a1aff" stroke-width="1.1"/>
<line x1="530.8" y1="436.7" x2="536.8" y2="436.7" stroke="#1a1aff" stroke-width="1.6"/>
<line x1="540.4" y1="387.4" x2="540.4" y2="417.7" stroke="#ff1a1a" stroke-width="1.1"/>
<line x1="540.4" y1="436.1" x2="540.4" y2="463.1" stroke="#ff1a1a" stroke-width="1.1"/>
<rect x="537.4" y="417.7" width="6" height="18.4" fill="none" stroke="#ff1a1a" stroke-width="1.1"/>
<line x1="537.4" y1="426.4" x2="543.4" y2="426.4" stroke="#ff1a1a" stroke-width="1.6"/>
<path d="M540.4 387.4h0M540.4 466h0M540.4 470h0M540.4 474h0M540.4 478h0M540.4 482h0M540.4 487.2h0" stroke="#ff1a1a" stroke-width="3.6" stroke-linecap="round" fill="none"/>
<line x1="553.5" y1="382.8" x2="553.5" y2="401.2" stroke="#ff1a1a" stroke-width="1.1"/>
<line x1="553.5" y1="434.4" x2="553.5" y2="483.8" stroke="#ff1a1a" stroke-width="1.1"/>
<rect x="547.8" y="401.2" width="11.4" height="33.2" fill="none" stroke="#ff1a1a" stroke-width="1.1"/>
<line x1="547.8" y1="410.8" x2="559.2" y2="410.8" stroke="#ff1a1a" stroke-width="1.6"/>
<path d="M553.5 483.8h0M553.5 486.5h0M553.5 489.5h0" stroke="#ff1a1a" stroke-width="3.6" stroke-linecap="round" fill="none"/>
<line x1="566.6" y1="457.8" x2="566.6" y2="476.4" stroke="#1a1aff" stroke-width="1.1"/>
<line x1="566.6" y1="490.2" x2="566.6" y2="510.6" stroke="#1a1aff" stroke-width="1.1"/>
<rect x="563.6" y="476.4" width="6" height="13.8" fill="none" stroke="#1a1aff" stroke-width="1.1"/>
<line x1="563.6" y1="483.1" x2="569.6" y2="483.1" stroke="#1a1aff" stroke-width="1.6"/>
<path d="M566.6 450h0M566.6 451.5h0M566.6 452.8h0" stroke="#1a1aff" stroke-width="3.6" stroke-linecap="round" fill="none"/>
<line x1="573.2" y1="441.3" x2="573.2" y2="474.6" stroke="#ff1a1a" stroke-width="1.1"/>
<line x1="573.2" y1="486.7" x2="573.2" y2="505.6" stroke="#ff1a1a" stroke-width="1.1"/>
<rect x="570.2" y="474.6" width="6" height="12.1" fill="none" stroke="#ff1a1a" stroke-width="1.1"/>
<line x1="570.2" y1="480.3" x2="576.2" y2="480.3" stroke="#ff1a1a" stroke-width="1.6"/>
<path d="M573.2 439h0M573.2 443h0M573.2 447h0M573.2 450h0M573.2 452.8h0M573.2 508h0M573.2 511h0M573.2 514h0M573.2 517h0M573.2 520h0M573.2 523.9h0M573.2 538.8h0" stroke="#ff1a1a" stroke-width="3.6" stroke-linecap="round" fill="none"/>
<line x1="583" y1="466.6" x2="583" y2="471.8" stroke="#1a1aff" stroke-width="1.1"/>
<line x1="583" y1="483.8" x2="583" y2="489.5" stroke="#1a1aff" stroke-width="1.1"/>
<rect x="580" y="471.8" width="6" height="12" fill="none" stroke="#1a1aff" stroke-width="1.1"/>
<line x1="580" y1="477.6" x2="586" y2="477.6" stroke="#1a1aff" stroke-width="1.6"/>
<line x1="589.6" y1="437.9" x2="589.6" y2="464.7" stroke="#ff1a1a" stroke-width="1.1"/>
<line x1="589.6" y1="490.6" x2="589.6" y2="525.7" stroke="#ff1a1a" stroke-width="1.1"/>
<rect x="586.6" y="464.7" width="6" height="25.9" fill="none" stroke="#ff1a1a" stroke-width="1.1"/>
<line x1="586.6" y1="476.9" x2="592.6" y2="476.9" stroke="#ff1a1a" stroke-width="1.6"/>
<path d="M589.6 424.6h0" stroke="#ff1a1a" stroke-width="3.6" stroke-linecap="round" fill="none"/>
<line x1="599.4" y1="484.2" x2="599.4" y2="491.8" stroke="#1a1aff" stroke-width="1.1"/>
<line x1="599.4" y1="506.2" x2="599.4" y2="521.1" stroke="#1a1aff" stroke-width="1.1"/>
<rect x="596.4" y="491.8" width="6" height="14.4" fill="none" stroke="#1a1aff" stroke-width="1.1"/>
<line x1="596.4" y1="497.5" x2="602.4" y2="497.5" stroke="#1a1aff" stroke-width="1.6"/>
<path d="M599.4 462h0M599.4 470h0" stroke="#1a1aff" stroke-width="3.6" stroke-linecap="round" fill="none"/>
<line x1="606" y1="409.2" x2="606" y2="437.9" stroke="#ff1a1a" stroke-width="1.1"/>
<line x1="606" y1="464.3" x2="606" y2="503.3" stroke="#ff1a1a" stroke-width="1.1"/>
<rect x="603" y="437.9" width="6" height="26.4" fill="none" stroke="#ff1a1a" stroke-width="1.1"/>
<line x1="603" y1="450.5" x2="609" y2="450.5" stroke="#ff1a1a" stroke-width="1.6"/>
<path d="M606 506h0M606 510h0M606 514h0M606 518h0M606 522h0M606 526h0M606 530.8h0" stroke="#ff1a1a" stroke-width="3.6" stroke-linecap="round" fill="none"/>
<line x1="619.1" y1="425.7" x2="619.1" y2="439.7" stroke="#ff1a1a" stroke-width="1.1"/>
<line x1="619.1" y1="459" x2="619.1" y2="474.6" stroke="#ff1a1a" stroke-width="1.1"/>
<rect x="613.4" y="439.7" width="11.4" height="19.3" fill="none" stroke="#ff1a1a" stroke-width="1.1"/>
<line x1="613.4" y1="450.5" x2="624.8" y2="450.5" stroke="#ff1a1a" stroke-width="1.6"/>
<path d="M619.1 410.8h0" stroke="#ff1a1a" stroke-width="3.6" stroke-linecap="round" fill="none"/>
<line x1="635.5" y1="431.5" x2="635.5" y2="456.9" stroke="#ff1a1a" stroke-width="1.1"/>
<line x1="635.5" y1="474.1" x2="635.5" y2="495.2" stroke="#ff1a1a" stroke-width="1.1"/>
<rect x="629.8" y="456.9" width="11.4" height="17.2" fill="none" stroke="#ff1a1a" stroke-width="1.1"/>
<line x1="629.8" y1="467.7" x2="641.2" y2="467.7" stroke="#ff1a1a" stroke-width="1.6"/>
<path d="M635.5 431.5h0M635.5 504.9h0" stroke="#ff1a1a" stroke-width="3.6" stroke-linecap="round" fill="none"/>
<line x1="101.4" y1="351.5" x2="101.4" y2="570.3" stroke="#111" stroke-width="1.1"/>
<line x1="101.4" y1="570.3" x2="643.3" y2="570.3" stroke="#111" stroke-width="1.1"/>
<line x1="98.4" y1="564.3" x2="101.4" y2="564.3" stroke="#111" stroke-width="1"/>
<text x="94.8" y="568.3" font-size="11" text-anchor="end" fill="#111">0</text>
<line x1="98.4" y1="514.7" x2="101.4" y2="514.7" stroke="#111" stroke-width="1"/>
<text x="94.8" y="518.7" font-size="11" text-anchor="end" fill="#111">2</text>
<line x1="98.4" y1="465.1" x2="101.4" y2="465.1" stroke="#111" stroke-width="1"/>
<text x="94.8" y="469.1" font-size="11" text-anchor="end" fill="#111">4</text>
<line x1="98.4" y1="415.5" x2="101.4" y2="415.5" stroke="#111" stroke-width="1"/>
<text x="94.8" y="419.5" font-size="11" text-anchor="end" fill="#111">6</text>
<line x1="98.4" y1="365.9" x2="101.4" y2="365.9" stroke="#111" stroke-width="1"/>
<text x="94.8" y="369.9" font-size="11" text-anchor="end" fill="#111">8</text>
<line x1="110.7" y1="570.3" x2="110.7" y2="573.3" stroke="#111" stroke-width="1"/>
<text x="113.5" y="581" font-size="10.9" text-anchor="end" fill="#111" transform="rotate(-45 113.5 581)">ACC</text>
<line x1="127.1" y1="570.3" x2="127.1" y2="573.3" stroke="#111" stroke-width="1"/>
<text x="129.9" y="581" font-size="10.9" text-anchor="end" fill="#111" transform="rotate(-45 129.9 581)">BLCA</text>
<line x1="143.5" y1="570.3" x2="143.5" y2="573.3" stroke="#111" stroke-width="1"/>
<text x="146.3" y="581" font-size="10.9" text-anchor="end" fill="#111" transform="rotate(-45 146.3 581)">BRCA</text>
<line x1="159.9" y1="570.3" x2="159.9" y2="573.3" stroke="#111" stroke-width="1"/>
<text x="162.7" y="581" font-size="10.9" text-anchor="end" fill="#111" transform="rotate(-45 162.7 581)">CESC</text>
<line x1="176.3" y1="570.3" x2="176.3" y2="573.3" stroke="#111" stroke-width="1"/>
<text x="179.1" y="581" font-size="10.9" text-anchor="end" fill="#111" transform="rotate(-45 179.1 581)">CHOL</text>
<line x1="192.7" y1="570.3" x2="192.7" y2="573.3" stroke="#111" stroke-width="1"/>
<text x="195.5" y="581" font-size="10.9" text-anchor="end" fill="#111" transform="rotate(-45 195.5 581)">COAD</text>
<line x1="209.1" y1="570.3" x2="209.1" y2="573.3" stroke="#111" stroke-width="1"/>
<text x="211.9" y="581" font-size="10.9" text-anchor="end" fill="#111" transform="rotate(-45 211.9 581)">DLBC</text>
<line x1="225.5" y1="570.3" x2="225.5" y2="573.3" stroke="#111" stroke-width="1"/>
<text x="228.3" y="581" font-size="10.9" text-anchor="end" fill="#111" transform="rotate(-45 228.3 581)">ESCA</text>
<line x1="241.9" y1="570.3" x2="241.9" y2="573.3" stroke="#111" stroke-width="1"/>
<text x="244.7" y="581" font-size="10.9" text-anchor="end" fill="#111" transform="rotate(-45 244.7 581)">GBM</text>
<line x1="258.3" y1="570.3" x2="258.3" y2="573.3" stroke="#111" stroke-width="1"/>
<text x="261.1" y="581" font-size="10.9" text-anchor="end" fill="#111" transform="rotate(-45 261.1 581)">HNSC</text>
<line x1="274.7" y1="570.3" x2="274.7" y2="573.3" stroke="#111" stroke-width="1"/>
<text x="277.5" y="581" font-size="10.9" text-anchor="end" fill="#111" transform="rotate(-45 277.5 581)">KICH</text>
<line x1="291.1" y1="570.3" x2="291.1" y2="573.3" stroke="#111" stroke-width="1"/>
<text x="293.9" y="581" font-size="10.9" text-anchor="end" fill="#111" transform="rotate(-45 293.9 581)">KIRC</text>
<line x1="307.5" y1="570.3" x2="307.5" y2="573.3" stroke="#111" stroke-width="1"/>
<text x="310.3" y="581" font-size="10.9" text-anchor="end" fill="#111" transform="rotate(-45 310.3 581)">KIRP</text>
<line x1="323.9" y1="570.3" x2="323.9" y2="573.3" stroke="#111" stroke-width="1"/>
<text x="326.7" y="581" font-size="10.9" text-anchor="end" fill="#111" transform="rotate(-45 326.7 581)">LAML</text>
<line x1="340.3" y1="570.3" x2="340.3" y2="573.3" stroke="#111" stroke-width="1"/>
<text x="343.1" y="581" font-size="10.9" text-anchor="end" fill="#111" transform="rotate(-45 343.1 581)">LGG</text>
<line x1="356.7" y1="570.3" x2="356.7" y2="573.3" stroke="#111" stroke-width="1"/>
<text x="359.5" y="581" font-size="10.9" text-anchor="end" fill="#111" transform="rotate(-45 359.5 581)">LIHC</text>
<line x1="373.1" y1="570.3" x2="373.1" y2="573.3" stroke="#111" stroke-width="1"/>
<text x="375.9" y="581" font-size="10.9" text-anchor="end" fill="#111" transform="rotate(-45 375.9 581)">LUAD</text>
<line x1="389.5" y1="570.3" x2="389.5" y2="573.3" stroke="#111" stroke-width="1"/>
<text x="392.3" y="581" font-size="10.9" text-anchor="end" fill="#111" transform="rotate(-45 392.3 581)">LUSC</text>
<line x1="405.9" y1="570.3" x2="405.9" y2="573.3" stroke="#111" stroke-width="1"/>
<text x="408.7" y="581" font-size="10.9" text-anchor="end" fill="#111" transform="rotate(-45 408.7 581)">MESO</text>
<line x1="422.3" y1="570.3" x2="422.3" y2="573.3" stroke="#111" stroke-width="1"/>
<text x="425.1" y="581" font-size="10.9" text-anchor="end" fill="#111" transform="rotate(-45 425.1 581)">OV</text>
<line x1="438.7" y1="570.3" x2="438.7" y2="573.3" stroke="#111" stroke-width="1"/>
<text x="441.5" y="581" font-size="10.9" text-anchor="end" fill="#111" transform="rotate(-45 441.5 581)">PAAD</text>
<line x1="455.1" y1="570.3" x2="455.1" y2="573.3" stroke="#111" stroke-width="1"/>
<text x="457.9" y="581" font-size="10.9" text-anchor="end" fill="#111" transform="rotate(-45 457.9 581)">PCPG</text>
<line x1="471.5" y1="570.3" x2="471.5" y2="573.3" stroke="#111" stroke-width="1"/>
<text x="474.3" y="581" font-size="10.9" text-anchor="end" fill="#111" transform="rotate(-45 474.3 581)">PRAD</text>
<line x1="487.9" y1="570.3" x2="487.9" y2="573.3" stroke="#111" stroke-width="1"/>
<text x="490.7" y="581" font-size="10.9" text-anchor="end" fill="#111" transform="rotate(-45 490.7 581)">READ</text>
<line x1="504.3" y1="570.3" x2="504.3" y2="573.3" stroke="#111" stroke-width="1"/>
<text x="507.1" y="581" font-size="10.9" text-anchor="end" fill="#111" transform="rotate(-45 507.1 581)">SARC</text>
<line x1="520.7" y1="570.3" x2="520.7" y2="573.3" stroke="#111" stroke-width="1"/>
<text x="523.5" y="581" font-size="10.9" text-anchor="end" fill="#111" transform="rotate(-45 523.5 581)">SKCM</text>
<line x1="537.1" y1="570.3" x2="537.1" y2="573.3" stroke="#111" stroke-width="1"/>
<text x="539.9" y="581" font-size="10.9" text-anchor="end" fill="#111" transform="rotate(-45 539.9 581)">STAD</text>
<line x1="553.5" y1="570.3" x2="553.5" y2="573.3" stroke="#111" stroke-width="1"/>
<text x="556.3" y="581" font-size="10.9" text-anchor="end" fill="#111" transform="rotate(-45 556.3 581)">TGCT</text>
<line x1="569.9" y1="570.3" x2="569.9" y2="573.3" stroke="#111" stroke-width="1"/>
<text x="572.7" y="581" font-size="10.9" text-anchor="end" fill="#111" transform="rotate(-45 572.7 581)">THCA</text>
<line x1="586.3" y1="570.3" x2="586.3" y2="573.3" stroke="#111" stroke-width="1"/>
<text x="589.1" y="581" font-size="10.9" text-anchor="end" fill="#111" transform="rotate(-45 589.1 581)">THYM</text>
<line x1="602.7" y1="570.3" x2="602.7" y2="573.3" stroke="#111" stroke-width="1"/>
<text x="605.5" y="581" font-size="10.9" text-anchor="end" fill="#111" transform="rotate(-45 605.5 581)">UCEC</text>
<line x1="619.1" y1="570.3" x2="619.1" y2="573.3" stroke="#111" stroke-width="1"/>
<text x="621.9" y="581" font-size="10.9" text-anchor="end" fill="#111" transform="rotate(-45 621.9 581)">UCS</text>
<line x1="635.5" y1="570.3" x2="635.5" y2="573.3" stroke="#111" stroke-width="1"/>
<text x="638.3" y="581" font-size="10.9" text-anchor="end" fill="#111" transform="rotate(-45 638.3 581)">UVM</text>
<text x="79.5" y="471.2" font-size="12.8" text-anchor="middle" fill="#111" transform="rotate(-90 79.5 471.2)">TUBA1C expression</text>
<text x="127.1" y="360.6" font-size="10" text-anchor="middle" fill="#111">**</text>
<text x="143.5" y="360.6" font-size="10" text-anchor="middle" fill="#111">***</text>
<text x="159.9" y="360.6" font-size="10" text-anchor="middle" fill="#111">**</text>
<text x="176.3" y="360.6" font-size="10" text-anchor="middle" fill="#111">***</text>
<text x="192.7" y="360.6" font-size="10" text-anchor="middle" fill="#111">***</text>
<text x="225.5" y="360.6" font-size="10" text-anchor="middle" fill="#111">**</text>
<text x="241.9" y="360.6" font-size="10" text-anchor="middle" fill="#111">***</text>
<text x="258.3" y="360.6" font-size="10" text-anchor="middle" fill="#111">***</text>
<text x="274.7" y="360.6" font-size="10" text-anchor="middle" fill="#111">*</text>
<text x="291.1" y="360.6" font-size="10" text-anchor="middle" fill="#111">***</text>
<text x="307.5" y="360.6" font-size="10" text-anchor="middle" fill="#111">***</text>
<text x="356.7" y="360.6" font-size="10" text-anchor="middle" fill="#111">***</text>
<text x="373.1" y="360.6" font-size="10" text-anchor="middle" fill="#111">***</text>
<text x="389.5" y="360.6" font-size="10" text-anchor="middle" fill="#111">***</text>
<text x="471.5" y="360.6" font-size="10" text-anchor="middle" fill="#111">*</text>
<text x="487.9" y="360.6" font-size="10" text-anchor="middle" fill="#111">*</text>
<text x="537.1" y="360.6" font-size="10" text-anchor="middle" fill="#111">**</text>
<text x="602.7" y="360.6" font-size="10" text-anchor="middle" fill="#111">***</text>
<text x="66" y="368.3" font-size="12.5" font-weight="bold">C</text>
<text x="301.9" y="331.8" font-size="11" fill="#111">Type</text>
<rect x="333.3" y="324.6" width="14" height="7.6" fill="none" stroke="#1a1aff" stroke-width="1.1"/>
<line x1="333.3" y1="328.5" x2="347.3" y2="328.5" stroke="#1a1aff" stroke-width="1.1"/>
<line x1="340.3" y1="322" x2="340.3" y2="324.6" stroke="#1a1aff" stroke-width="1.1"/>
<line x1="340.3" y1="332.2" x2="340.3" y2="334.8" stroke="#1a1aff" stroke-width="1.1"/>
<text x="351.4" y="331.8" font-size="11" fill="#111">Normal</text>
<rect x="395.4" y="324.6" width="14" height="7.6" fill="none" stroke="#ff1a1a" stroke-width="1.1"/>
<line x1="395.4" y1="328.5" x2="409.4" y2="328.5" stroke="#ff1a1a" stroke-width="1.1"/>
<line x1="402.4" y1="322" x2="402.4" y2="324.6" stroke="#ff1a1a" stroke-width="1.1"/>
<line x1="402.4" y1="332.2" x2="402.4" y2="334.8" stroke="#ff1a1a" stroke-width="1.1"/>
<text x="413.4" y="331.8" font-size="11" fill="#111">Tumor</text>
<path d="M36.4 628.3H684.1M36.4 674.7H684.1M36.4 721.1H684.1" stroke="#f0f0f0" stroke-width="0.8" fill="none"/>
<path d="M36.4 651.5H684.1M36.4 697.9H684.1M36.4 744.3H684.1M42.3 606.8V768.3M95.3 606.8V768.3M105.9 606.8V768.3M116.5 606.8V768.3M127.1 606.8V768.3M201.3 606.8V768.3M360.3 606.8V768.3M370.9 606.8V768.3M445.1 606.8V768.3M455.7 606.8V768.3M551.1 606.8V768.3M604.1 606.8V768.3M635.9 606.8V768.3M667.7 606.8V768.3M678.3 606.8V768.3" stroke="#e6e6e6" stroke-width="1" fill="none"/>
<rect x="48.3" y="606.8" width="19.8" height="161.5" fill="#d3d3d3"/>
<rect x="69.5" y="606.8" width="19.8" height="161.5" fill="#d3d3d3"/>
<rect x="133.1" y="606.8" width="19.8" height="161.5" fill="#d3d3d3"/>
<rect x="154.3" y="606.8" width="19.8" height="161.5" fill="#d3d3d3"/>
<rect x="175.5" y="606.8" width="19.8" height="161.5" fill="#d3d3d3"/>
<rect x="207.3" y="606.8" width="19.8" height="161.5" fill="#d3d3d3"/>
<rect x="228.5" y="606.8" width="19.8" height="161.5" fill="#d3d3d3"/>
<rect x="249.7" y="606.8" width="19.8" height="161.5" fill="#d3d3d3"/>
<rect x="270.9" y="606.8" width="19.8" height="161.5" fill="#d3d3d3"/>
<rect x="292.1" y="606.8" width="19.8" height="161.5" fill="#d3d3d3"/>
<rect x="313.3" y="606.8" width="19.8" height="161.5" fill="#d3d3d3"/>
<rect x="334.5" y="606.8" width="19.8" height="161.5" fill="#d3d3d3"/>
<rect x="376.9" y="606.8" width="19.8" height="161.5" fill="#d3d3d3"/>
<rect x="398.1" y="606.8" width="19.8" height="161.5" fill="#d3d3d3"/>
<rect x="419.3" y="606.8" width="19.8" height="161.5" fill="#d3d3d3"/>
<rect x="461.7" y="606.8" width="19.8" height="161.5" fill="#d3d3d3"/>
<rect x="482.9" y="606.8" width="19.8" height="161.5" fill="#d3d3d3"/>
<rect x="504.1" y="606.8" width="19.8" height="161.5" fill="#d3d3d3"/>
<rect x="525.3" y="606.8" width="19.8" height="161.5" fill="#d3d3d3"/>
<rect x="557.1" y="606.8" width="19.8" height="161.5" fill="#d3d3d3"/>
<rect x="578.3" y="606.8" width="19.8" height="161.5" fill="#d3d3d3"/>
<rect x="610.1" y="606.8" width="19.8" height="161.5" fill="#d3d3d3"/>
<rect x="641.9" y="606.8" width="19.8" height="161.5" fill="#d3d3d3"/>
<path d="M40.2 675h0M41.9 681.5h0M42 670.9h0M41.4 676.6h0M43.1 687.9h0M39.2 693.4h0M45.9 667.9h0M40.5 683h0M40.3 680.2h0M43.3 678.5h0M45 677.1h0M38.7 666.8h0M41.7 682.6h0M42 658.2h0M45.9 693.8h0M40.8 664h0M43.2 668.5h0" stroke="#ff0000" stroke-width="2.6" stroke-linecap="round" fill="none" opacity="0.58"/>
<path d="M40 700.1h0M41.9 688.4h0M40.6 699h0M45.3 684h0M44.8 690.8h0M45.5 712.2h0M45.7 691.8h0M41 679.3h0M38.9 680.6h0M40.5 679.2h0M38.9 675.4h0M43.9 760.2h0M42.8 651.5h0M40.7 696h0M38.5 668.9h0M39 686.9h0M40.6 673.5h0" stroke="#ff0000" stroke-width="2.6" stroke-linecap="round" fill="none" opacity="0.58"/>
<path d="M45 698.2h0M44.1 681.8h0M40 677.1h0M43.4 672.4h0M44.7 665.2h0M38.9 669.9h0M44.3 680.1h0M41.5 684.4h0M45.9 727.3h0M44.8 695.2h0M41 686.6h0M43.1 693.1h0M43.4 682.2h0M42.4 661.1h0M40.4 685.9h0M40.5 700.2h0M44.7 683.8h0" stroke="#ff0000" stroke-width="2.6" stroke-linecap="round" fill="none" opacity="0.58"/>
<path d="M43 659.7h0M41.5 678.4h0M42.2 756h0M45.3 705h0M38.9 701.6h0M43.9 694.5h0M39.9 691h0M43.9 674.7h0M39.8 681.2h0M46.1 685.3h0M42.1 678h0M43 708.8h0M44 696.4h0M39.6 689.9h0M43.4 685.2h0M45.8 692.1h0" stroke="#ff0000" stroke-width="2.6" stroke-linecap="round" fill="none" opacity="0.58"/>
<path d="M40.3 670.3h0M46.2 674.3h0M41.5 676.1h0M41.3 702.3h0M42.2 689.2h0M39.4 703.9h0M45 671.8h0M40.2 697.1h0M45.2 689.6h0M38.7 709.8h0M43.5 707.5h0M44.6 663.4h0M42.9 687.3h0M38.9 748h0M43.6 673h0M43.3 752h0" stroke="#ff0000" stroke-width="2.6" stroke-linecap="round" fill="none" opacity="0.58"/>
<line x1="42.3" y1="651.5" x2="42.3" y2="674.7" stroke="#ff0000" stroke-width="0.9"/>
<line x1="42.3" y1="693.3" x2="42.3" y2="720.2" stroke="#ff0000" stroke-width="0.9"/>
<rect x="38.2" y="674.7" width="8.2" height="18.6" fill="#fff" stroke="#ff0000" stroke-width="0.9" fill-opacity="0.32"/>
<line x1="38.2" y1="683.1" x2="46.4" y2="683.1" stroke="#ff0000" stroke-width="1.4"/>
<path d="M52.9 657.2h0M55.1 666.3h0M52.4 650.2h0M51.4 669.3h0M51.5 654.9h0M52.6 659h0M53.8 660.9h0M52.6 661.3h0M52.5 657.5h0M53.2 641h0M49.1 642.4h0M50.7 653.1h0M50.1 667.2h0M56.3 654.1h0M49.9 632.3h0M51.9 669.2h0M51.4 654.4h0M52.9 641.2h0M56.2 672.3h0M54.5 650.6h0M53.2 665.9h0M53.9 654.8h0M55.3 660.9h0M53.2 649.4h0M50 643.5h0M55.9 662h0M53.7 658.4h0M56.2 671.7h0M50.7 644.7h0M53.2 640.5h0M56 647.9h0M54 639.4h0M50.8 640.6h0M49.3 648.4h0M53.9 668.5h0M55 668h0M51.4 658.2h0M51 646.2h0M52.1 662.9h0M50.9 673.1h0M54.3 654.8h0M56.7 652.9h0M54.4 672h0M55.2 659.4h0M54.3 667.4h0M50.3 657h0M52.9 648.7h0M51.8 637h0M50.9 661.7h0M55.5 659.2h0M54.2 634.5h0M51.7 628h0M55.2 643.3h0M52.7 669.5h0M56.6 663.8h0M50.2 641.5h0M49 646.9h0M54.1 656.5h0M53.4 637.5h0M51.5 655h0M51.5 658.7h0M53.7 657.7h0M53.5 645.6h0M49.6 639.7h0M55.2 652.8h0M50.2 657.6h0M56.2 648h0M53.5 648.8h0M49.2 656.7h0M52 657.6h0M49.3 666.4h0M55.6 652h0M52.2 646.8h0" stroke="#ff0000" stroke-width="2.6" stroke-linecap="round" fill="none" opacity="0.58"/>
<path d="M53.4 645.8h0M49.8 651.4h0M50.5 649.9h0M52.4 671.3h0M52.5 653.9h0M55.8 699.8h0M56.5 654.1h0M56.3 663h0M52.3 655.7h0M54.3 636.7h0M51.5 658h0M49.1 666h0M52.1 663.6h0M54.5 656.3h0M54.1 660.3h0M56.6 630.1h0M54.8 654.7h0M53.6 662.6h0M52.2 641.7h0M53.2 652.6h0M53 646h0M55 638.1h0M52.9 653.6h0M51.7 671.4h0M49.1 661.5h0M54.6 644h0M56.5 659h0M52 643.5h0M54.9 661h0M50.8 653.5h0M52.2 653.8h0M51.1 660.2h0M55.4 642.7h0M50 665.4h0M50.4 665.2h0M49.9 652.4h0M52.2 666.8h0M51.7 644.3h0M55.4 649.2h0M51.5 661.8h0M55.6 668.3h0M56 664.2h0M56.2 632.9h0M56.2 661.5h0M52.4 645.5h0M56.8 666.9h0M54.3 659.2h0M53.8 646.5h0M53.4 650.5h0M53.5 651.3h0M54.5 648.3h0M51.3 674.5h0M55.9 681.9h0M53.8 656.2h0M51.5 652h0M52.5 657.3h0M53.4 652.2h0M50 664.8h0M55.4 658.2h0M55.2 662.4h0M54.9 657.7h0M55.8 664.5h0M53.4 684.6h0M54.5 641.6h0M49.7 647.3h0M56.1 664.6h0M50.6 674.3h0M51.5 635.7h0M53.2 654.3h0M56.7 638.9h0M55.9 650h0M51.4 656.1h0M49.8 648.1h0" stroke="#ff0000" stroke-width="2.6" stroke-linecap="round" fill="none" opacity="0.58"/>
<path d="M53.3 654h0M56.3 643.9h0M49.9 639h0M54.8 668.8h0M52.9 658.4h0M51.3 656h0M52.1 663.3h0M55.3 659.8h0M50.2 652.5h0M50.5 651.1h0M50.7 653.3h0M50.1 655.4h0M56.7 657h0M51.2 651.2h0M53.3 660.1h0M53.6 649.6h0M50.4 670.4h0M50.5 650h0M55.3 655.2h0M54.5 670.7h0M56.4 656.5h0M54.6 640.1h0M51.8 655.6h0M51.6 680h0M53.5 657.9h0M50.5 673.6h0M51.9 661.2h0M53.2 644.8h0M56.1 645.1h0M56.1 651h0M55.8 680.6h0M54.6 660.5h0M54.7 672.6h0M52.4 652.6h0M53 676.1h0M56.3 663.1h0M54 655.8h0M55.4 639.9h0M51.5 642.9h0M56.8 677.2h0M56.8 645.2h0M52.1 653.3h0M53.6 658.8h0M55.1 638.4h0M49.5 667.1h0M54.9 652.3h0M50.6 651.6h0M51.7 653.7h0M49.8 652.8h0M49.3 670.5h0M55.1 678.8h0M53.2 675.2h0M54.7 662.1h0M50 663.7h0M56.1 665.2h0M49.2 661.4h0M49.8 643.1h0M55.6 653.9h0M51.6 658.6h0M56.4 646.3h0M49.5 659.8h0M49.3 670.9h0M51.7 661.2h0M50.7 655.1h0M50.2 662.1h0M50.1 646.5h0M55.6 659.9h0M52.5 669.8h0M52.2 647.7h0M51.9 659.5h0M49.2 649.1h0M50.8 675.6h0M56.5 666.7h0" stroke="#ff0000" stroke-width="2.6" stroke-linecap="round" fill="none" opacity="0.58"/>
<path d="M49.7 650.1h0M55.1 667.5h0M51.8 657.1h0M52.4 658h0M51.5 672.8h0M56.1 662.3h0M52.2 637.9h0M49.2 678.1h0M50 652.5h0M54.6 648.6h0M54.3 656.6h0M49.6 665.8h0M54.6 674.8h0M56.3 677.6h0M51.8 651.8h0M52.4 654.3h0M50.1 660.8h0M55.7 663.2h0M53 653.2h0M54.1 642.5h0M55.4 655.9h0M50.6 652.7h0M49.7 669.1h0M55.5 650.8h0M55.2 650.4h0M56.1 660.6h0M53.2 650.3h0M50.2 659.5h0M53.5 655h0M53.2 647h0M52.5 659.6h0M54.6 667.9h0M49.8 669.9h0M56.1 664.3h0M56.2 647.6h0M52.3 644.8h0M50.5 642.2h0M52.8 650.9h0M51.8 655.8h0M55.4 660.4h0M55.9 665.6h0M51.8 655.6h0M56.1 649.6h0M51.3 659.9h0M49.4 665h0M55.3 660.7h0M55.6 635.2h0M49.9 655.5h0M52.7 679.1h0M51.1 644.5h0M54 661.7h0M56.7 647.2h0M54.3 651.3h0M56.2 651.8h0M54.9 645.7h0M56 668.4h0M56.6 654.2h0M51.3 667.9h0M54.9 669h0M52.9 666.5h0M52.6 660.7h0M49.4 655.5h0M52.4 673.9h0M55 664.6h0M49.4 655.2h0M54.9 656.9h0M50.4 657.8h0M50.5 666.1h0M50.6 671.7h0M51.4 643.6h0M52.8 656h0M54.1 653.6h0M51 655.2h0" stroke="#ff0000" stroke-width="2.6" stroke-linecap="round" fill="none" opacity="0.58"/>
<path d="M56.2 647.1h0M49.1 656.7h0M53.9 648.9h0M56.5 653h0M49.5 664h0M50.4 653.2h0M50.7 656.8h0M49.5 687.5h0M52.4 662.8h0M52 634h0M52.7 662.7h0M55.6 656.2h0M54.1 663.4h0M51.2 636.3h0M51.7 650.7h0M53.6 652.2h0M50.3 651.1h0M50.9 655.4h0M55.5 657.4h0M53.9 651.6h0M53.4 646h0M50.6 650.4h0M49.7 651.9h0M51 653.7h0M51.1 646.7h0M55 663.9h0M51.2 654.4h0M52.8 647.7h0M52.9 644.1h0M49.4 653h0M50 670.2h0M50.6 651.7h0M51.2 656.4h0M52 642h0M50.7 658.6h0M56.3 647.4h0M54.4 658.9h0M53.1 661.9h0M54.9 650.9h0M50.9 664.3h0M52.8 654.5h0M56.2 654.6h0M55.4 658.1h0M51.6 658.5h0M53.1 658.9h0M50.4 659.6h0M49.1 648.5h0M51.7 649.7h0M52.3 651.5h0M54.5 649h0M49.2 648.2h0M53 645.4h0M50.5 676.5h0M55.8 657.2h0M51.4 660.2h0M53 659.2h0M53.8 665.5h0M55 654.7h0M49.1 662.3h0M53.1 673.5h0M49.9 653.4h0M53.5 660h0M54.7 683.5h0M56.1 652.1h0M50.7 649.4h0M50.5 662.5h0M55.4 650.6h0M52.5 667.6h0M53.7 649.8h0M49.7 663.5h0M53.8 664.9h0M49.3 630h0M53.2 649.3h0" stroke="#ff0000" stroke-width="2.6" stroke-linecap="round" fill="none" opacity="0.58"/>
<line x1="52.9" y1="630.2" x2="52.9" y2="649.7" stroke="#ff0000" stroke-width="0.9"/>
<line x1="52.9" y1="662.7" x2="52.9" y2="684" stroke="#ff0000" stroke-width="0.9"/>
<rect x="48.8" y="649.7" width="8.2" height="13" fill="#fff" stroke="#ff0000" stroke-width="0.9" fill-opacity="0.32"/>
<line x1="48.8" y1="655.8" x2="57" y2="655.8" stroke="#ff0000" stroke-width="1.4"/>
<path d="M65.9 677.9h0M63.4 690.9h0M64.2 655.8h0M61.3 666.3h0" stroke="#0000ff" stroke-width="2.6" stroke-linecap="round" fill="none" opacity="0.58"/>
<path d="M62.7 681.2h0M67 702.9h0M61.5 671.5h0M66.7 660.3h0" stroke="#0000ff" stroke-width="2.6" stroke-linecap="round" fill="none" opacity="0.58"/>
<path d="M65.5 686.9h0M60 698.5h0M60 667.1h0M63.8 695.5h0" stroke="#0000ff" stroke-width="2.6" stroke-linecap="round" fill="none" opacity="0.58"/>
<path d="M66.3 663.3h0M67 650.9h0M66.8 662.8h0M61.4 646h0" stroke="#0000ff" stroke-width="2.6" stroke-linecap="round" fill="none" opacity="0.58"/>
<path d="M61.3 655.3h0M65.4 659.1h0M61 693.3h0" stroke="#0000ff" stroke-width="2.6" stroke-linecap="round" fill="none" opacity="0.58"/>
<line x1="63.5" y1="646" x2="63.5" y2="658.6" stroke="#0000ff" stroke-width="0.8"/>
<line x1="63.5" y1="690.5" x2="63.5" y2="705.4" stroke="#0000ff" stroke-width="0.8"/>
<rect x="59.4" y="658.6" width="8.2" height="31.9" fill="#fff" stroke="#0000ff" stroke-width="0.8" fill-opacity="0.4"/>
<line x1="59.4" y1="667.3" x2="67.6" y2="667.3" stroke="#0000ff" stroke-width="1.4"/>
<path d="M74.8 669.5h0M72.4 668.8h0M71.1 674.3h0M74.3 681.4h0M77.2 676.6h0M77 666.6h0M73.1 656.4h0M70.5 667.3h0M73.2 683.7h0M71.5 657.5h0M77.2 652h0M72.3 677.2h0M70.4 678.7h0M76.9 679.9h0M72.6 686.3h0M74.3 636.5h0M75.9 662.8h0M70.8 666.9h0M77.5 661h0M73.4 668.6h0M72.5 676.8h0M73.1 675.7h0M75.8 658.1h0M70.4 651.8h0M75.4 665.7h0M76.8 675.3h0M71.9 691.7h0M77 666.8h0M75.2 673.8h0M75.4 674.4h0M75.6 655.9h0M72.9 668.7h0M70.3 670.7h0M76.4 666.5h0M75.2 665.3h0M77.2 669.7h0M74.6 671.3h0M72.9 686.2h0M76.5 676.4h0M75.6 676.7h0M72.7 661.2h0M74.4 641h0M76.4 660.4h0M76.2 676.6h0M76.3 681.9h0M74.3 680.2h0M70.6 661.7h0M70.6 659.7h0M77 644.3h0M75 677.5h0M76.9 665.5h0M76.5 662.3h0M76.3 674.1h0M76.9 662.7h0M72.6 682.4h0M72.1 682.9h0M74.8 659.1h0M77 667.7h0M71.1 672h0M72.7 651.7h0M70.8 667.6h0M70.7 648.5h0M71.2 668.1h0M71.8 676.4h0M77.6 670.8h0M76 670.4h0M71.1 678.2h0M71.1 670.7h0M71.6 665.1h0M72.8 676.2h0M71.9 670.3h0M73.1 661.6h0M75.4 646.6h0M76.4 682.6h0M76.3 667h0M74.7 675.6h0M71.1 662.9h0M73.3 664.6h0M72.2 657.7h0M73.7 674.2h0M74.5 673.7h0M74.8 675.2h0M73.1 677.9h0M70.2 680.9h0M70.9 664.1h0M76.7 673.5h0M75 695.7h0M75.9 682.5h0M74.9 665.8h0M71.1 659.8h0M74.3 678.9h0M72.1 682h0M77.6 663.5h0M73.5 669.4h0M72.4 649h0M75.9 671.7h0M74.7 673.9h0M73.3 670.3h0M75.5 654.5h0M72.6 674.5h0M75 665.4h0M70.6 671.9h0M70.3 684.1h0M76 669h0M75 680.1h0" stroke="#ff0000" stroke-width="2.6" stroke-linecap="round" fill="none" opacity="0.58"/>
<path d="M71.5 690.9h0M74.8 672.9h0M72.6 640h0M75.7 670.2h0M76.4 683.4h0M70.8 671.9h0M76.8 671.4h0M71.5 688.1h0M71.3 670.4h0M77.7 684.7h0M71.9 672.6h0M74.6 674.6h0M72.1 676.9h0M73.9 666h0M77.1 653.7h0M73.6 675.8h0M70.7 672.5h0M74 656.3h0M74.4 670.9h0M75 667.5h0M71.1 665.6h0M76.3 676.4h0M73.2 675.3h0M77.8 655.5h0M73.1 672.3h0M76.7 670.1h0M76.6 669.4h0M76.8 658.4h0M76.9 678.9h0M78 660h0M75.6 660.8h0M70.6 673.2h0M73.2 665.7h0M71 675h0M70.7 657h0M71.8 670.4h0M74.6 678.1h0M75.9 670.6h0M71.5 670.5h0M72.2 673.2h0M71.4 656.2h0M77 680.4h0M74 672.7h0M70.5 638.3h0M70.5 694.7h0M71.2 677.1h0M74.6 676.2h0M73.3 636.9h0M71.4 671.7h0M74.6 688.3h0M74.5 655.2h0M73.6 674.8h0M73.1 673h0M76.7 680.5h0M72 668.7h0M71.1 674.2h0M75.1 659.4h0M71.1 670.9h0M70.6 677.7h0M74 675.9h0M70.6 673.7h0M77.4 687.9h0M71.8 662.1h0M75.3 662.5h0M77.6 687.2h0M71.6 660.9h0M77.5 668.9h0M72.8 683.6h0M70.4 680.4h0M76.4 663.3h0M76.2 657.4h0M72 661.5h0M77.5 680.2h0M75.4 669.7h0M76.9 667.3h0M72.9 655.6h0M71.2 674.7h0M72.4 666.8h0M77 678.5h0M74.5 672.6h0M73.9 697.1h0M75.5 664.3h0M75.4 678.6h0M70.6 662.4h0M77.6 678h0M72.4 659.8h0M74 679.3h0M70.9 669.6h0M75.1 667.9h0M73.7 662.8h0M76.8 689.3h0M72.2 652.3h0M73.4 644h0M71.9 687.3h0M75.5 668.9h0M74.1 692.8h0M72.7 634h0M72 677.9h0M76.8 671.3h0M74.2 673.1h0M77.6 685.1h0M71.9 671.2h0M74.1 665.5h0M76.4 688.6h0M74.3 679h0" stroke="#ff0000" stroke-width="2.6" stroke-linecap="round" fill="none" opacity="0.58"/>
<path d="M70.8 686.1h0M72.7 664.8h0M73.6 664.9h0M77.6 679.8h0M71.1 667.4h0M73.7 666.8h0M73.5 669h0M74.6 678.4h0M75.5 674.9h0M75.9 676.9h0M77.8 671.4h0M71.9 645.2h0M76.9 671.5h0M73.3 672.3h0M71 664.4h0M70.6 690.6h0M75.1 653.2h0M70.6 651.3h0M75 652.6h0M76 656.5h0M75.9 666.2h0M77.2 678.3h0M73.7 669h0M77.7 656h0M72.7 635.6h0M75.8 658h0M73.8 689.1h0M70.4 645.4h0M72.5 644.7h0M71.7 667.7h0M75.7 658.6h0M74.6 658.5h0M72.3 685.8h0M73.6 672.4h0M70.2 654.7h0M76 672.3h0M76.1 690.1h0M75.7 679.2h0M70.4 680.5h0M77.8 679.5h0M73.4 669.3h0M73.1 673h0M77.6 676.3h0M77.5 679.7h0M73 664h0M71.3 653.9h0M76.8 711.9h0M70.8 682.7h0M72.9 649.9h0M73.1 660.3h0M73.8 693.3h0M72.8 667.8h0M77.8 675.5h0M74.8 675.4h0M71.2 671h0M77.8 659.3h0M71.7 652.5h0M72.4 662.6h0M75.6 668h0M70.3 681.2h0M71.3 685h0M75.7 650.7h0M76 666.2h0M75.1 670.5h0M74.6 646h0M75.5 681.5h0M76.2 677.7h0M76.1 674.1h0M70.3 663.1h0M70.3 693.7h0M75.3 678.3h0M73.9 669.9h0M72.2 666.7h0M72.6 663.1h0M77.5 668.1h0M72.7 673.5h0M74.4 677h0M73.2 663.8h0M71.4 650.2h0M72.4 673.4h0M71.3 643h0M75.4 669.2h0M73.3 663.4h0M71.1 674.5h0M71.3 668.4h0M71.9 691.6h0M71.8 664.7h0M70.7 651h0M77.3 653.8h0M71.9 647.1h0M77.8 690h0M73.5 648.1h0M72.7 656.7h0M74.8 683.8h0M73.4 671.6h0M77.7 663.2h0M74.4 686.8h0M73.2 683.4h0M77.2 669.3h0M73.4 653.3h0M74.1 674.9h0M77.2 661.8h0M70.4 671.8h0M75.9 673.9h0" stroke="#ff0000" stroke-width="2.6" stroke-linecap="round" fill="none" opacity="0.58"/>
<path d="M76.7 663.5h0M75.1 647.8h0M72.8 672.1h0M72.6 676h0M72.9 684.8h0M75.3 677.6h0M73.5 668.5h0M72.4 677.3h0M73.2 675h0M78 668.2h0M76.3 671.1h0M75 660.6h0M75.9 642.2h0M73.4 671.2h0M77.6 653h0M74.2 656.9h0M77.9 678.8h0M77 677.3h0M77.9 660.7h0M73.9 674.8h0M72.4 643.3h0M70.4 680h0M77.5 666.5h0M72 681.6h0M74.8 666h0M75.7 650.5h0M74.6 675.8h0M77.3 675.9h0M71.9 664.9h0M77.5 659.5h0M72.4 660.5h0M70.6 672.5h0M72.6 671h0M76 664.2h0M77.8 646.4h0M74.2 671.1h0M75.9 674.3h0M73.2 667.4h0M76.1 676h0M71.2 671.1h0M77 647.8h0M73.1 672.6h0M77.5 666h0M72.8 658.2h0M75.9 677.5h0M77.5 673.8h0M74 666.4h0M70.8 661.9h0M75.7 663.6h0M72.9 664.4h0M72.8 681.1h0M77.9 678.5h0M73.3 650.8h0M72.6 654.1h0M76.1 680.8h0M71 657.1h0M72.2 670.6h0M73.8 669.9h0M74.9 667.9h0M72.2 675.5h0M77.3 664.1h0M76.9 667.1h0M74.4 674.7h0M72.5 669.2h0M77.6 676.8h0M77.8 654.2h0M70.3 672.8h0M72.8 648.7h0M74.3 679h0M71.3 679.5h0M76 672.7h0M76.4 657.9h0M74.6 661.3h0M77.1 685.4h0M74.8 680h0M77.7 672.9h0M75.6 659.3h0M70.4 662.8h0M72.5 677.1h0M73.6 669.1h0M75.4 647.4h0M74.1 655h0M71.5 675.2h0M72.6 655.8h0M71.8 674.6h0M74 679.3h0M75.3 663.9h0M73.3 649.2h0M77.8 670h0M73 677.8h0M71.6 681.7h0M75.9 668.3h0M76.9 673.3h0M71 664.8h0M72.7 673.1h0M76.4 667.2h0M78 666.6h0M70.5 676.1h0M75.6 665.6h0M76.4 673.3h0M77 657.7h0M74.4 664.6h0M73.2 684.2h0M70.7 670.2h0" stroke="#ff0000" stroke-width="2.6" stroke-linecap="round" fill="none" opacity="0.58"/>
<path d="M76.7 658.7h0M71.8 684.4h0M74.2 668.6h0M72 678.1h0M75.4 658.9h0M77.6 672.2h0M72.5 671.8h0M77.6 685.6h0M73 664h0M74 661.1h0M72.6 687.5h0M72.2 682.2h0M77.9 663.5h0M74.8 651.5h0M73.3 666.3h0M71.6 659h0M73.4 682.9h0M75.7 641.5h0M73 663h0M73.3 654.9h0M72.4 668.8h0M72.2 681.8h0M75.1 665.9h0M72 656.7h0M75 676.5h0M73.4 671.5h0M74 662h0M71.6 682.3h0M72.4 653.5h0M73.9 672.4h0M72.7 700h0M74.3 663.2h0M76.8 666.4h0M76 664.2h0M75.2 665.2h0M77.3 684.3h0M75.1 661.4h0M73.6 667.8h0M71.8 675.1h0M72.6 668.4h0M72.1 667h0M77.9 670.1h0M71.8 667.6h0M71.5 649.5h0M71.2 666.3h0M70.3 664.5h0M75 673h0M74.7 663.7h0M74.1 672.2h0M75.3 672.1h0M74.4 660.1h0M73 668.2h0M73.1 683.1h0M71.4 671.6h0M73.9 684h0M70.9 673.5h0M74.8 639.2h0M73.1 705h0M74.6 655.3h0M76.7 681.1h0M74.2 665.8h0M72.3 665h0M72.8 660h0M72.2 681.3h0M71 669.5h0M77.9 665.2h0M75.2 671.9h0M77.6 665.1h0M72.2 682.1h0M71.6 668h0M70.6 673.6h0M76.9 677.4h0M73.1 669.6h0M71.2 686.5h0M77.4 674.1h0M71.5 675.1h0M74.3 680.7h0M71.7 654.4h0M76.4 680.9h0M74.1 679.1h0M74 662.2h0M71.2 658.8h0M70.7 675.7h0M75.5 674h0M76.4 660.9h0M75.4 670h0M71.1 657.3h0M71.7 689.5h0M76.1 687h0M74.5 667.1h0M71.3 685.2h0M70.4 670.8h0M72.1 649.8h0M73 652.9h0M72.8 679.6h0M73.1 685.7h0M76.3 673.6h0M70.4 669.8h0M70.8 634.9h0M77.3 663.7h0M73.1 667.2h0M75.6 675.5h0M75.7 665h0M77.3 683.2h0" stroke="#ff0000" stroke-width="2.6" stroke-linecap="round" fill="none" opacity="0.58"/>
<line x1="74.1" y1="635.7" x2="74.1" y2="662.7" stroke="#ff0000" stroke-width="0.9"/>
<line x1="74.1" y1="676.6" x2="74.1" y2="695.2" stroke="#ff0000" stroke-width="0.9"/>
<rect x="70" y="662.7" width="8.2" height="13.9" fill="#fff" stroke="#ff0000" stroke-width="0.9" fill-opacity="0.32"/>
<line x1="70" y1="670.1" x2="78.2" y2="670.1" stroke="#ff0000" stroke-width="1.4"/>
<path d="M84.5 684.6h0M82.3 697.8h0M82.7 697.3h0M86.2 681h0M85.7 690.1h0M83.8 688.3h0M85.4 707h0M82.4 691.9h0M82.8 693.5h0M88.3 690.8h0M86 695.1h0M85.5 700.3h0M82.8 691.2h0M82.5 690.2h0M84.4 681.2h0M86.7 690.6h0M82.8 692.5h0M84.6 695.5h0M83.2 683.6h0M82.5 690.5h0M87.4 698.2h0M81.4 688.1h0M84.7 696.8h0" stroke="#0000ff" stroke-width="2.6" stroke-linecap="round" fill="none" opacity="0.58"/>
<path d="M81.6 678.9h0M83.8 684.4h0M85.6 685.5h0M83.8 699.8h0M86.1 689.6h0M83.9 719h0M83.8 703.4h0M88.3 692.3h0M81 699.3h0M88.4 693.8h0M85.8 701.5h0M84.9 695.8h0M86.7 688.9h0M88.1 688.8h0M86.7 683.9h0M80.9 705.3h0M84.3 686.3h0M83.8 695.2h0M82.3 694.3h0M83.7 696.3h0M85.4 682.8h0M80.9 688.3h0M81.7 683.1h0" stroke="#0000ff" stroke-width="2.6" stroke-linecap="round" fill="none" opacity="0.58"/>
<path d="M81.2 691.6h0M82 696.4h0M86.2 729h0M82.2 692.8h0M83.1 682.2h0M84.6 695.4h0M87.2 698.8h0M85.1 686.4h0M86.1 694.3h0M81.1 693.1h0M81.1 704h0M86.4 698.7h0M86.2 686.1h0M82.3 685.6h0M80.9 682.5h0M84.7 684.3h0M83.2 687.5h0M84.3 689.7h0M84.5 683.4h0M81 685.1h0M81.7 701.1h0M84.8 687.8h0M86.6 698.4h0" stroke="#0000ff" stroke-width="2.6" stroke-linecap="round" fill="none" opacity="0.58"/>
<path d="M85.2 702.7h0M82.2 693.7h0M83.6 681.9h0M87.8 685h0M85.2 681.6h0M82.3 704.7h0M87.3 685.9h0M85.9 684h0M81.1 675h0M86.5 697.5h0M84.4 689.3h0M88.5 677.1h0M81 695.9h0M81.1 700.7h0M83.1 694.5h0M85 707.8h0M86.8 697.1h0M87.5 697.6h0M87.3 687h0M87.9 696.7h0M81.2 699.8h0M82.7 687h0M83.4 689.9h0" stroke="#0000ff" stroke-width="2.6" stroke-linecap="round" fill="none" opacity="0.58"/>
<path d="M83.8 693.3h0M81.7 688.6h0M87.5 678.5h0M83.7 702.4h0M81.8 712h0M82.1 692.1h0M86.2 679.6h0M82.1 701.8h0M85 684.8h0M87 691.7h0M83 700.7h0M83 694h0M81 685.3h0M86.4 691.5h0M85.6 692.9h0M85 687.4h0M86.3 694.9h0M81.6 691h0M85.3 689.2h0M82.1 699h0M88.5 686.8h0M82.9 680.3h0" stroke="#0000ff" stroke-width="2.6" stroke-linecap="round" fill="none" opacity="0.58"/>
<line x1="84.7" y1="675.7" x2="84.7" y2="685.9" stroke="#0000ff" stroke-width="0.8"/>
<line x1="84.7" y1="697" x2="84.7" y2="710" stroke="#0000ff" stroke-width="0.8"/>
<rect x="80.6" y="685.9" width="8.2" height="11.1" fill="#fff" stroke="#0000ff" stroke-width="0.8" fill-opacity="0.4"/>
<line x1="80.6" y1="691.5" x2="88.8" y2="691.5" stroke="#0000ff" stroke-width="1.4"/>
<path d="M93.9 654.9h0M93.2 667.1h0M98.4 655h0M91.9 638.1h0M93 654.5h0M99.1 649.7h0M98.5 664.3h0M97.7 668.4h0M96.1 651.6h0M94.3 643.2h0M94.4 658.1h0M95.1 661.2h0M96.7 663.1h0M95.5 661.4h0M93.7 677.9h0M93.7 674.5h0M96.6 646.4h0M92.3 664h0M93.3 655.6h0M91.8 670.7h0M91.5 648.4h0M98.8 654.8h0M92.1 656.2h0M97.9 666.6h0M96.1 654.1h0M92.5 653.4h0M95.4 649h0M96.1 657h0M96.6 661.3h0M98.7 669h0M91.5 660h0M91.6 666.2h0M94.1 672.5h0M98.3 652.3h0M94.2 659.2h0M92.4 660.6h0M92.6 663.6h0M92.3 680.5h0" stroke="#ff0000" stroke-width="2.6" stroke-linecap="round" fill="none" opacity="0.58"/>
<path d="M94.6 657.4h0M93.9 659.8h0M97.4 667.6h0M92.4 664.4h0M96.5 653.6h0M97.7 669.3h0M98.3 652.6h0M98.2 670.5h0M92 654.6h0M94.3 666.2h0M97.9 663.6h0M93.4 658.2h0M93.1 653h0M92.2 658.3h0M95.4 661.5h0M92.5 666.4h0M97.6 661.7h0M92.3 653.6h0M93.7 670.9h0M92.3 659.8h0M91.7 655.1h0M93.7 654.3h0M93.4 658.9h0M92.1 660.7h0M93 670.2h0M92.6 651.4h0M93.6 648h0M94.2 665.6h0M96.7 658h0M94.8 664.8h0M94.9 651.9h0M91.9 672.7h0M95.8 665.3h0M94.2 660.3h0M95.3 650.1h0M94.5 650.4h0M98.7 664h0M96.4 643.4h0" stroke="#ff0000" stroke-width="2.6" stroke-linecap="round" fill="none" opacity="0.58"/>
<path d="M97.6 659.9h0M95.5 662.9h0M92.1 661.8h0M94.4 658.5h0M97.8 671.7h0M99 656.7h0M97.3 661.2h0M98.4 658.8h0M97.1 659.5h0M94.9 665h0M93 659.3h0M97.4 657.2h0M93 654h0M91.8 661.8h0M92 665.7h0M96.7 651.2h0M96.1 660.1h0M98 657.8h0M97.9 669.8h0M97.8 640.8h0M94.3 656.6h0M96.9 665.2h0M99 663.8h0M95.6 663.3h0M94.3 657.5h0M91.4 662.5h0M93.8 667.9h0M98.8 655.4h0M99.2 650.9h0M98.7 653.2h0M98 662.3h0M92.8 666.7h0M97.3 663.8h0M95 663h0M96.6 662.8h0M98.4 661h0M96.8 661.6h0M98.7 665.9h0" stroke="#ff0000" stroke-width="2.6" stroke-linecap="round" fill="none" opacity="0.58"/>
<path d="M93.2 664.1h0M95 664.9h0M93.5 648.7h0M94.2 660.4h0M98.2 660.5h0M93.8 669.5h0M95.1 650.7h0M99.1 660.9h0M94.6 660.8h0M91.9 662.7h0M96.7 674.8h0M96.4 656.5h0M93.3 671.9h0M93.1 652.2h0M94.1 646.3h0M95.2 675.9h0M99.1 669h0M94 655.9h0M94.7 659.4h0M91.9 652.9h0M97.2 655.7h0M93.7 650h0M94.3 652h0M93.9 655.6h0M91.5 666.9h0M94.6 673.1h0M92.2 660.8h0M92.5 658.6h0M97.4 662.7h0M92.9 667.4h0M98.3 647h0M95.9 647.3h0M94.8 662h0M92.4 656.9h0M96.1 668.7h0M93.2 644h0M91.7 638.4h0M92.1 662.5h0" stroke="#ff0000" stroke-width="2.6" stroke-linecap="round" fill="none" opacity="0.58"/>
<path d="M97.5 662.2h0M92.5 663.2h0M98.8 671.3h0M93.2 659.1h0M98.2 657.3h0M98.4 653.9h0M97.6 667.3h0M94.3 657.6h0M95.7 642.2h0M95 656.2h0M96.8 656h0M96.1 645.6h0M93.5 677h0M92.5 655.2h0M98.9 661.9h0M95.2 650.6h0M92.4 652.5h0M98.6 658.5h0M94.5 651h0M94.2 668h0M97.8 656.4h0M96.7 647.7h0M96.3 648.3h0M95.8 662.1h0M96.1 649.4h0M95.5 645.1h0M91.9 649.2h0M91.8 665.4h0M97.6 668.2h0M94.5 673.9h0M97 664.7h0M91.4 663.4h0M94.1 657.8h0M91.7 660.2h0M93.3 664.5h0M96.1 653.1h0M96.4 659.6h0M92.7 644.6h0" stroke="#ff0000" stroke-width="2.6" stroke-linecap="round" fill="none" opacity="0.58"/>
<line x1="95.3" y1="638.5" x2="95.3" y2="654" stroke="#ff0000" stroke-width="0.9"/>
<line x1="95.3" y1="664.5" x2="95.3" y2="679.4" stroke="#ff0000" stroke-width="0.9"/>
<rect x="91.2" y="654" width="8.2" height="10.5" fill="#fff" stroke="#ff0000" stroke-width="0.9" fill-opacity="0.32"/>
<line x1="91.2" y1="659.9" x2="99.4" y2="659.9" stroke="#ff0000" stroke-width="1.4"/>
<path d="M104.1 658h0M104.1 662h0M109.2 665.7h0M109 659.7h0M106.7 661.7h0M102.5 660.2h0M103 664.3h0M108.6 661.3h0M108 661.5h0M106.1 664.4h0M103 661h0M108.9 664.7h0M102.4 649.9h0M104.8 645.5h0M105.3 670.9h0M105.8 659.9h0M106.4 661.5h0" stroke="#ff0000" stroke-width="2.6" stroke-linecap="round" fill="none" opacity="0.58"/>
<path d="M106.9 669.2h0M103.5 667.6h0M106.5 663.7h0M105.1 658.5h0M107.5 666.2h0M108.4 663.5h0M106.8 654.9h0M102.8 663.9h0M102.3 665.5h0M104.1 660.1h0M108 666.4h0M109.6 661.8h0M108.3 659h0M109.5 652.7h0M109.2 663.5h0M108 656.5h0M108 660.6h0" stroke="#ff0000" stroke-width="2.6" stroke-linecap="round" fill="none" opacity="0.58"/>
<path d="M108.2 664.5h0M104.2 660.4h0M109.6 659.1h0M102.6 647.7h0M109.7 657.7h0M102.8 672.8h0M103.7 662.5h0M108 667.4h0M102.1 653.7h0M102.2 670.2h0M104.3 669.7h0M105.1 657.2h0M105.9 665.1h0M102.4 675.7h0M109.7 653.3h0M104.2 666.9h0M102.1 659.5h0" stroke="#ff0000" stroke-width="2.6" stroke-linecap="round" fill="none" opacity="0.58"/>
<path d="M106.6 656.2h0M109.7 668.3h0M103.7 669.9h0M102.9 666h0M106.6 660.8h0M105.2 666.7h0M105 662.3h0M106.7 662.7h0M109.7 663.3h0M109.1 651h0M105.6 656.9h0M102.4 668.8h0M102 655.1h0M106.7 658.7h0M108.5 671.9h0M108.9 667.1h0" stroke="#ff0000" stroke-width="2.6" stroke-linecap="round" fill="none" opacity="0.58"/>
<path d="M106.7 651.8h0M102.2 665.2h0M109.5 667.8h0M106.9 655.7h0M103.8 678.3h0M107.8 661h0M106.1 659.3h0M107.2 702.6h0M104.5 657.2h0M106.8 673.2h0M107.2 662.3h0M109.4 671.3h0M107.2 662.9h0M107 654.3h0M102.5 668.6h0M102.8 658.4h0" stroke="#ff0000" stroke-width="2.6" stroke-linecap="round" fill="none" opacity="0.58"/>
<line x1="105.9" y1="645" x2="105.9" y2="658.6" stroke="#ff0000" stroke-width="0.9"/>
<line x1="105.9" y1="666.4" x2="105.9" y2="677.5" stroke="#ff0000" stroke-width="0.9"/>
<rect x="101.8" y="658.6" width="8.2" height="7.8" fill="#fff" stroke="#ff0000" stroke-width="0.9" fill-opacity="0.32"/>
<line x1="101.8" y1="662.1" x2="110" y2="662.1" stroke="#ff0000" stroke-width="1.4"/>
<path d="M113.7 672.1h0M113.3 678.2h0M114.8 663.9h0M119.9 677.8h0M114.8 678h0M113.8 669.9h0M120.3 685.9h0M114.5 676.6h0M113.9 682.2h0M117.3 673h0M112.9 681.8h0M116.8 678.8h0M117.4 674.4h0M112.8 665.8h0M119.5 666.4h0M119.9 688.3h0M116.7 686.6h0M113.3 668.6h0M113.4 671.9h0M118.2 675.7h0M113.5 686.7h0M119 675.3h0M117.5 667.2h0M116.3 680.1h0M118.7 684.2h0M114.4 671.6h0M119.3 671.1h0M117.6 664.5h0M119.7 663.8h0M115.1 674.6h0M114 681.6h0M115.9 681.2h0M113 677.9h0M118.8 660.8h0M117.6 665.6h0M120.2 687.3h0M116.7 688.5h0M114 680.8h0M114.5 674.3h0M118.8 670.1h0M119.5 677h0M112.8 670.9h0M119.6 675.1h0M114.3 685h0M119.2 677.4h0M118 680.3h0M114.2 684.5h0M116.6 680.5h0M113 669.8h0M116.7 685.7h0M113.7 654.7h0M117 662.8h0M115 678h0M113.6 666.3h0M115.4 686h0M116.9 670.6h0M114.9 666.6h0M117.2 675.6h0M120.1 682.3h0M119.7 669.3h0M119.1 662.1h0M117.3 684.7h0M112.7 663.5h0M113.1 675.2h0M118.1 668.7h0M118.5 689.8h0M120.4 668h0M115.2 676.7h0M118.8 654h0M117.7 686.2h0M120.3 658h0M115.4 692.6h0M117.4 664.7h0M118.4 668.4h0M113.2 678.6h0M116.9 669.7h0M118 674.2h0M113.5 679h0M117.9 666.2h0M112.8 670.8h0M119.8 686.4h0M116.3 679.1h0M118.8 680.6h0M114.8 685.3h0M118.6 657.6h0M113.3 650h0M117.9 679.4h0M114 667.9h0M117.6 662.2h0M115.8 679.5h0M117.8 673.6h0M116.3 687.4h0" stroke="#ff0000" stroke-width="2.6" stroke-linecap="round" fill="none" opacity="0.58"/>
<path d="M118.7 668.3h0M113 679.7h0M114.2 685.5h0M118.5 677.2h0M115.3 677.7h0M113.1 684.8h0M116.7 667h0M119.1 674.2h0M115.3 676.2h0M116 689.4h0M118.6 672h0M118.2 669h0M114.3 683.7h0M119.2 674.1h0M117.4 679.9h0M118.5 682.5h0M113.4 673.2h0M118.2 668.2h0M119.3 680.3h0M115.9 677.3h0M113.2 660.1h0M116.5 671.6h0M119.1 661.6h0M113.3 676.8h0M114.8 684.2h0M117.2 696.5h0M117.8 668.5h0M116 679.5h0M113.7 654.9h0M117.9 664.2h0M112.6 669.2h0M113.3 671.8h0M120.4 672.1h0M114 686.1h0M115.8 677.5h0M114.3 673.4h0M116.3 679.8h0M113.8 662h0M114.4 682h0M115.9 661.4h0M119.1 682h0M117.6 667.1h0M117.2 674h0M114.4 677.5h0M114.7 670.4h0M112.8 673.5h0M113 662.4h0M118.8 675.2h0M113.7 689.2h0M118.4 673.3h0M113.7 659.7h0M113.2 682.5h0M120 675h0M116.6 672.9h0M114.9 664h0M118.6 680h0M115.4 677.1h0M115.3 657.3h0M119.4 663.4h0M117.9 673.1h0M116.9 680.2h0M117.5 676.1h0M113.3 671.9h0M114 680.5h0M118.3 681.8h0M114.5 671.5h0M118.8 669.6h0M118.7 688.8h0M119.9 675.3h0M120 659.5h0M115.1 671h0M114.8 672.5h0M118.1 672.2h0M118.5 683.6h0M116.2 693.6h0M119.4 661.8h0M114.6 673.2h0M114.2 676h0M114.2 679.6h0M115.8 661h0M113.2 692.4h0M116.9 676.1h0M117.2 671.5h0M116.3 671.3h0M118.7 678.3h0M116.6 669h0M117.4 670.1h0M119.9 678.7h0M114 673.9h0M114.5 663.6h0M116.2 667.3h0M114.9 675.5h0" stroke="#ff0000" stroke-width="2.6" stroke-linecap="round" fill="none" opacity="0.58"/>
<path d="M116.6 666.6h0M115.4 675h0M112.9 679h0M116.6 673.8h0M117.3 673.8h0M120.2 687h0M114.7 683.2h0M116.2 683h0M113.8 676.2h0M116 665.9h0M113.9 676.8h0M118.6 674.7h0M119.9 665.1h0M118.9 657.2h0M117.2 683.1h0M112.7 668.1h0M116 658.2h0M114.6 662.8h0M120 670.6h0M117.7 680.3h0M117.2 652.8h0M119.4 675.8h0M115.4 668.9h0M118.6 687.2h0M120 689.7h0M117.6 669.3h0M114.6 681.1h0M117.3 669.7h0M115.7 672.6h0M112.9 680.6h0M116.1 674.8h0M114.1 673.9h0M117.5 668.4h0M117.4 683.4h0M117 682.7h0M113.2 688h0M114.8 675h0M116.1 672.2h0M118.7 688.6h0M118.5 682.2h0M115.3 691.1h0M112.8 684.6h0M113.1 659.9h0M113.1 659.3h0M116.8 678.6h0M117.9 656.1h0M116.2 680.9h0M119.1 680.7h0M117.4 667.3h0M113.9 678.8h0M118.6 673.8h0M117.1 670.5h0M120 673.3h0M116.6 671.8h0M115.9 679.7h0M117.2 690.8h0M114.2 671.4h0M115.1 665.5h0M119.5 679.3h0M113.2 681.7h0M116.9 670.2h0M114.8 666.8h0M117.5 673.4h0M120.1 673.5h0M117.3 651.1h0M115.2 677.8h0M114.5 671.2h0M117.2 677.1h0M118.3 673h0M117.3 675.9h0M116.2 681.3h0M117.5 665.4h0M116 672.5h0M116 669.4h0M119.1 682.8h0M117.2 685.2h0M119.5 674.1h0M117.7 674.8h0M114.2 663.1h0M112.8 687.7h0M113.5 669.5h0M117.3 678.8h0M116.1 684.5h0M117 665.6h0M115.1 669.6h0M116.8 677.7h0M119.2 677h0M115.5 667.7h0M117.6 681h0M119.5 658.9h0M117.3 666.1h0M119.3 660.5h0" stroke="#ff0000" stroke-width="2.6" stroke-linecap="round" fill="none" opacity="0.58"/>
<path d="M118.2 665.8h0M118.5 680.1h0M112.9 679.2h0M112.6 679.2h0M120 672.6h0M116.9 683.9h0M116.7 672.8h0M113.3 666.8h0M116.4 685.1h0M113.4 664.8h0M116.1 677.6h0M120.3 668h0M118.1 682.2h0M114.3 690.6h0M115.4 676.9h0M114.6 664.1h0M119.9 677.1h0M119.5 683.3h0M112.8 678.4h0M119.8 671.3h0M119.3 681.9h0M115.3 679.6h0M120.4 671.7h0M113.5 676.3h0M116.5 682.9h0M118.6 672.6h0M117.1 664.4h0M118.4 681.4h0M116.4 656.5h0M115.2 687.9h0M115.6 680h0M117 689.1h0M113.9 682.4h0M118.5 678.1h0M118.6 673.6h0M116.5 677.9h0M115.3 664.3h0M116 662.5h0M114 672.4h0M117.2 671.7h0M118.4 682.7h0M115 677.6h0M118.7 672.3h0M118.3 676.6h0M116.9 666.3h0M113.9 669.4h0M118 691.3h0M117.3 670h0M118 674.5h0M114.5 674.5h0M114.1 672h0M120.2 658.7h0M117 683.5h0M114.4 670.2h0M112.7 670.8h0M114.8 676.5h0M117.6 683h0M114 680.8h0M114.1 666.9h0M114.7 659.1h0M117.3 674.4h0M116.1 674.6h0M113.5 664.6h0M116.1 678.9h0M114.9 675.8h0M120 675.9h0M117.9 676.6h0M113.2 678.2h0M114.7 665h0M113.3 675.4h0M120.2 682.6h0M116.9 666.1h0M119.1 674.9h0M120.4 671.7h0M112.8 655.5h0M118.6 667.6h0M113.5 651.4h0M112.8 683.3h0M112.7 675.2h0M119.9 663h0M117.5 677.2h0M113.8 677.4h0M113.9 668.8h0M113.9 681h0M115.6 668.1h0M117.4 693.5h0M117.4 667.6h0M116.9 674.9h0M113.3 669.2h0M118.7 679.1h0M118.3 674.7h0M119.8 681.2h0" stroke="#ff0000" stroke-width="2.6" stroke-linecap="round" fill="none" opacity="0.58"/>
<path d="M116.6 694.2h0M115.9 675.7h0M116.7 684.9h0M113.4 678.6h0M119.7 671.2h0M113.7 664.9h0M117.5 681.7h0M116 670.5h0M119.5 668.9h0M119.1 656.9h0M114.9 684.3h0M116.3 676.1h0M112.8 663.2h0M117.6 674h0M113.5 681.6h0M116.4 669.9h0M117.8 683.6h0M113.3 688h0M117.5 674.6h0M120 662.7h0M118.7 672.3h0M117.3 676.4h0M116 660.7h0M119 660.3h0M113.4 690.1h0M117.3 665.3h0M116.3 669.5h0M117.3 691.8h0M118.3 667.8h0M114.4 673.7h0M113.7 695.1h0M116 670.3h0M116.7 676.3h0M114.7 680.9h0M120.2 668.7h0M113.7 652.4h0M114.9 687h0M118.7 673.1h0M118.9 671.4h0M117.4 680.4h0M113 684h0M114 666.7h0M118 672.8h0M115.6 676.7h0M119 670.8h0M115.1 686.6h0M112.7 673.6h0M118.4 681.5h0M112.7 672.9h0M115.7 673h0M118.3 685.6h0M119.1 665.2h0M116.2 661.1h0M116.5 670.9h0M115.7 676.4h0M114.3 667.4h0M120.2 671.1h0M115.4 683.8h0M118.5 684.1h0M114.6 685.4h0M114.6 670.3h0M117.5 686h0M113.6 672.4h0M117.2 667.5h0M118.2 679.8h0M113.5 661.3h0M115.7 672.8h0M114 675.4h0M115.3 676.5h0M116 669.9h0M117.6 674.1h0M113.1 681.4h0M117.9 675.9h0M116.8 695.9h0M116.5 675.4h0M117.7 672.7h0M112.8 678.1h0M113.3 670.7h0M117.9 677.9h0M113.1 675.6h0M114.6 670.4h0M116.7 678.4h0M115.2 711.9h0M115.9 676.9h0M115.6 678.5h0M114.9 679.2h0M113.7 675.6h0M119.9 679.4h0M117.8 674.3h0M112.7 671h0M116.4 678.3h0" stroke="#ff0000" stroke-width="2.6" stroke-linecap="round" fill="none" opacity="0.58"/>
<line x1="116.5" y1="651.5" x2="116.5" y2="669.2" stroke="#ff0000" stroke-width="0.9"/>
<line x1="116.5" y1="680.3" x2="116.5" y2="695.2" stroke="#ff0000" stroke-width="0.9"/>
<rect x="112.4" y="669.2" width="8.2" height="11.1" fill="#fff" stroke="#ff0000" stroke-width="0.9" fill-opacity="0.32"/>
<line x1="112.4" y1="674.7" x2="120.6" y2="674.7" stroke="#ff0000" stroke-width="1.4"/>
<path d="M127.1 650.3h0M125.8 663.8h0M123.5 662.8h0M126.2 668.9h0M129.1 672.6h0M127.1 670.8h0M126.2 658.6h0M123.9 664.8h0M129.7 667h0M128.3 671.4h0M126.9 664.4h0M126.2 654h0M124.8 656.4h0M131 666.2h0M129.8 669.2h0M130.9 662.3h0M124.1 664.9h0M127.7 657.4h0M124 659.4h0M128.5 661h0M129.1 663.2h0M128.3 664h0M125.9 660.1h0M129.6 661.7h0M129.1 655.8h0M124.2 665.1h0M125.8 670.4h0M129.5 667.4h0M124.6 678.8h0M125.9 667.6h0M126.1 651.4h0M123.8 673.9h0M129.7 670.7h0M124.3 656.2h0M123.5 678.3h0M129 663.4h0M124.3 661.1h0M130.7 666.3h0M123.8 660.6h0M125.7 654.3h0M129.2 670.1h0M127.5 672.3h0M127.6 669.5h0M124.1 667.8h0" stroke="#ff0000" stroke-width="2.6" stroke-linecap="round" fill="none" opacity="0.58"/>
<path d="M130.1 669.8h0M129.7 662.7h0M126.5 677h0M125.9 666.2h0M126.3 663.5h0M124.8 669.3h0M123.4 673.4h0M125.8 670.3h0M125.2 647.2h0M126.3 655.5h0M125.2 661.9h0M123.5 680.6h0M128.7 667.8h0M125.7 674.5h0M123.2 663.3h0M129.1 678h0M123.2 670.8h0M126.6 664.2h0M125.1 661.2h0M123.7 660.3h0M127.1 672h0M130.1 662.2h0M128.6 651.1h0M128 666.8h0M127.7 655.1h0M128.8 657.8h0M125.9 674.6h0M130.4 672.4h0M126 648.4h0M123.2 671.8h0M130.1 660.2h0M130.5 650.5h0M124.1 667.7h0M126.7 676.1h0M130.7 665.8h0M123.6 658.1h0M127.3 663.6h0M130.4 666.8h0M128.7 654.9h0M123.6 654.6h0M124.7 662.4h0M124.9 664.2h0M128.3 658.8h0M129.2 676.3h0" stroke="#ff0000" stroke-width="2.6" stroke-linecap="round" fill="none" opacity="0.58"/>
<path d="M127.6 669h0M128.5 673.7h0M130.3 662h0M126.2 668.4h0M128.5 658.3h0M124.2 671.2h0M130.9 674.1h0M129.5 657.7h0M126.8 667.4h0M129.1 674.8h0M126.5 673.1h0M129.9 675h0M125.6 674h0M123.7 667.1h0M129.8 669.2h0M127.3 645.7h0M127.5 665.4h0M124.7 648.8h0M129.4 665.6h0M123.5 665.2h0M130.5 660.4h0M127.4 671h0M125.6 675.8h0M126.3 673.5h0M125.7 668.3h0M126.9 668.4h0M130.3 656.7h0M130.8 658.9h0M129.2 662.5h0M123.3 679.6h0M129.1 664h0M128.7 665.7h0M129.2 653.1h0M129.3 660.8h0M127.4 671.3h0M128.8 663.8h0M130 658h0M128.2 668h0M124.3 671.5h0M128.2 666.7h0M130.8 666.4h0M128.2 672.9h0M128.3 667.2h0" stroke="#ff0000" stroke-width="2.6" stroke-linecap="round" fill="none" opacity="0.58"/>
<path d="M128.6 659.5h0M126.4 675.3h0M129.7 651.7h0M128.4 649.4h0M127.4 661.8h0M126.6 664.8h0M128.8 658.4h0M127.7 669.4h0M126.4 671.8h0M125.2 668.2h0M130.8 665.9h0M129.4 662.6h0M130.6 664.7h0M130.2 668.8h0M126.8 671.6h0M124.4 677.7h0M126.5 666.5h0M128.8 655.8h0M130.9 659.2h0M129.7 659.1h0M125.4 672.2h0M129.3 679.2h0M128.2 670.6h0M127.4 665.5h0M124.6 666h0M123.4 667.5h0M126.8 657.6h0M124.4 652.5h0M127.5 672.6h0M130.8 661.3h0M130.1 664.5h0M125.2 660.5h0M124.1 653.8h0M124.3 652.4h0M129.4 657.1h0M128.1 668.1h0M128.9 659.7h0M125.8 662.1h0M125.5 652.7h0M130.1 656.2h0M125.5 667h0M127.4 675.7h0M126.6 684h0" stroke="#ff0000" stroke-width="2.6" stroke-linecap="round" fill="none" opacity="0.58"/>
<path d="M125.5 659.6h0M127.3 661.4h0M124.8 665h0M124.5 669.9h0M130.7 655.3h0M128.6 682.3h0M125 658.5h0M127.5 667.3h0M130 645h0M123.8 662.9h0M123.8 656.9h0M130.7 653.5h0M126.5 665.5h0M127.5 677.1h0M129.4 665.3h0M128.2 681.5h0M127.1 654.4h0M126.7 670h0M126.5 666.6h0M125.1 657.2h0M124.5 660.7h0M126.4 668h0M129.3 669.5h0M125 663.1h0M128 659.8h0M126.3 659.9h0M123.8 656.6h0M123.8 685.5h0M128.9 664.4h0M123.8 663.7h0M127.5 675.2h0M123.4 663h0M123.3 668.6h0M126.9 668.8h0M130.9 673h0M127 670.1h0M127.4 676.6h0M125.2 669.7h0M129 666h0M127.5 661.6h0M130 668.6h0M128.2 666.5h0M128.7 661.3h0" stroke="#ff0000" stroke-width="2.6" stroke-linecap="round" fill="none" opacity="0.58"/>
<line x1="127.1" y1="645" x2="127.1" y2="659.9" stroke="#ff0000" stroke-width="0.9"/>
<line x1="127.1" y1="670.1" x2="127.1" y2="684" stroke="#ff0000" stroke-width="0.9"/>
<rect x="123" y="659.9" width="8.2" height="10.2" fill="#fff" stroke="#ff0000" stroke-width="0.9" fill-opacity="0.32"/>
<line x1="123" y1="665.4" x2="131.2" y2="665.4" stroke="#ff0000" stroke-width="1.4"/>
<path d="M139.7 645.3h0M139.8 659h0M139.6 656.1h0M134 652.2h0M135.1 649.7h0M135.8 662.4h0M141.2 653.9h0M135 642h0M140.1 645.8h0M139.1 660.4h0M141.6 626.7h0M134.6 657h0M134.7 644.4h0M140.1 654.4h0M137.7 646.7h0M140.6 650.6h0M137.6 632.7h0M137.9 667.2h0M139.4 655.5h0M141.4 648.1h0M139.4 642.3h0M139.6 649.4h0M137.1 655.4h0M134.9 652.2h0M137.2 635.3h0M135.4 657.6h0M141.1 657.6h0M138.9 659.9h0M140.4 661.6h0M141.1 659.2h0M134.8 647h0M134.5 658.2h0M141.1 664.2h0M137.1 666.2h0M138.6 646.8h0M137.1 652.4h0M135.6 666.8h0M135.9 648.3h0M140.3 648.7h0M138.5 643.1h0M139.1 634.8h0M140.5 649.7h0M139.7 650.7h0M136.4 645.9h0M137.2 642.5h0M141.3 662h0M139.4 643.6h0M135.6 639.3h0M140.8 655.7h0M141.5 661.4h0M139.2 661h0M138.5 645.6h0M134.2 651.9h0M136.4 633.7h0M134.1 651.2h0M135.8 632.1h0M134 656.7h0M141 663.1h0M135.3 643.3h0M134.7 649.6h0M134.6 646.2h0" stroke="#ff0000" stroke-width="2.6" stroke-linecap="round" fill="none" opacity="0.58"/>
<path d="M137.7 649h0M135.8 656.2h0M139.2 650.2h0M139.5 641.3h0M134.1 656.8h0M140.5 638.4h0M139.2 654.9h0M140.9 658.9h0M139.2 654.8h0M139.2 647.1h0M141 655.2h0M141.6 656.9h0M139.7 650.2h0M135.7 651.7h0M136.1 657.8h0M137.4 645h0M138.4 647.3h0M140.5 656.7h0M136.7 645.9h0M135.6 664.5h0M134.5 640.2h0M134.5 654h0M134.3 652.8h0M138 650.8h0M139.7 648.9h0M136.4 654.5h0M135.7 668.5h0M141.4 644.1h0M141.4 649.3h0M134.5 664.9h0M138.9 655.2h0M140.1 651.6h0M137.2 657.2h0M139.3 647.6h0M135.2 627.3h0M140.7 646.9h0M134.4 653.1h0M139.2 649.6h0M137 657.9h0M136.9 655.1h0M139.5 658.1h0M135.5 652.6h0M139.2 648.2h0M137.8 646.1h0M141.5 658.5h0M139.6 653.3h0M135.3 653.6h0M137 656.4h0M137.8 653.4h0M140.3 660.1h0M136.7 648.4h0M135.1 644.9h0M140.4 648.6h0M135.4 647.1h0M140.8 637.7h0M136.8 652.4h0M140.5 650.9h0M137.4 653h0M139.6 633.2h0M137.8 634.2h0M136.3 647.2h0" stroke="#ff0000" stroke-width="2.6" stroke-linecap="round" fill="none" opacity="0.58"/>
<path d="M134.8 643.4h0M137.3 648.3h0M136.8 660.2h0M134.6 647.4h0M135.9 663.2h0M138 659.1h0M139.1 657.4h0M136 649.9h0M139.7 645.2h0M138.6 653.1h0M137.9 654.7h0M135.5 652.6h0M140.8 646.5h0M134.7 648.2h0M134.4 651.1h0M133.8 652h0M140.5 643.8h0M140.7 657h0M139.9 648.6h0M140.5 653.4h0M134.4 640h0M135 651.3h0M134.3 643.1h0M139.3 661.8h0M137.7 659.4h0M134.6 652.8h0M134 660.6h0M141.4 656h0M134.8 658.7h0M135.5 642.6h0M136.8 646.2h0M140.1 657.9h0M134.8 662.5h0M139.9 644.8h0M134.2 645.7h0M136.3 658h0M137.9 650.1h0M140.2 651h0M137.3 644.3h0M138.2 650.3h0M140.6 660.7h0M136.3 647.4h0M137.1 641.2h0M139.7 651.8h0M136.4 639.9h0M141 640.5h0M134.8 659.7h0M134.2 636.9h0M136.5 651.6h0M135.3 669.6h0M135.4 661.8h0M140.1 646.7h0M141.6 652.5h0M141 648.1h0M139.9 639.6h0M139.2 645.8h0M134.8 645h0M140.1 650.5h0M133.9 647.2h0M134.6 656.5h0" stroke="#ff0000" stroke-width="2.6" stroke-linecap="round" fill="none" opacity="0.58"/>
<path d="M141.3 642.2h0M136.9 653.7h0M134.7 649h0M139.7 638.7h0M139.6 649.2h0M141.5 663.7h0M138.7 644h0M135.6 648.5h0M138.3 647.6h0M137.9 657.3h0M140.2 645.4h0M139.5 646.4h0M140.1 639.2h0M136.8 645.2h0M138.6 655.3h0M134.5 658.4h0M141.3 635h0M139.1 658.5h0M134.8 644.7h0M134.4 641.3h0M139.3 650h0M135.3 656.5h0M136.4 636.7h0M137.1 665.3h0M136.6 654.6h0M138.4 644.6h0M135 647.9h0M139.7 659.5h0M140.4 659.8h0M140.3 650.4h0M138.6 641h0M140.1 645.6h0M139.5 646.5h0M140.1 649.2h0M136.1 651.1h0M136.3 671.3h0M135.8 665.3h0M139.3 652.9h0M140.1 648h0M135.2 641.6h0M136.9 642.1h0M138.7 644.3h0M134.1 655.6h0M135.5 636.2h0M137 646.6h0M138.5 651.2h0M138.7 654.3h0M139.8 647.7h0M135.5 654.2h0M139.8 634.2h0M134.7 647.8h0M138.3 669.3h0M134.7 639.7h0M140.5 656.3h0M139.6 643h0M140.9 630.7h0M137.9 639h0M136.5 635.6h0M136.8 655.9h0M140.1 648.9h0" stroke="#ff0000" stroke-width="2.6" stroke-linecap="round" fill="none" opacity="0.58"/>
<path d="M139.7 653.5h0M135.1 653.9h0M136.6 648.4h0M140.6 636.3h0M134.9 629.9h0M137.9 660.9h0M140.3 647.5h0M135.9 637.9h0M140 638.1h0M140.4 661.3h0M135.4 646.5h0M135 649.8h0M136.2 646.9h0M137.2 662.8h0M139.1 651.4h0M135.7 648.8h0M137.9 649.5h0M134.3 640.3h0M134.3 649.3h0M140.2 643.6h0M134.6 640.7h0M141.2 642.8h0M141 663.9h0M140 637.2h0M136.8 648.8h0M134.8 660.5h0M134 647.8h0M136.6 654.7h0M133.9 628.5h0M138.4 638.2h0M136 631.1h0M140.6 654.1h0M134.2 649.1h0M140.7 643.8h0M139.4 641.8h0M136.3 642.7h0M139.9 646.3h0M139.9 652.1h0M133.9 637.4h0M137.2 651.5h0M138.9 641.7h0M135.6 673h0M134.1 659.6h0M138.6 658.8h0M138.4 655.8h0M139.1 646.1h0M141.2 663.4h0M137.8 650.6h0M137.3 647.8h0M137.8 645.4h0M134.1 638.8h0M138 640.8h0M135.9 645.5h0M137.2 665.8h0M134.3 657.3h0M135.3 644.1h0M141.3 662.3h0M138.3 649.5h0M134.4 667.6h0M138.9 653.8h0" stroke="#ff0000" stroke-width="2.6" stroke-linecap="round" fill="none" opacity="0.58"/>
<line x1="137.7" y1="627.4" x2="137.7" y2="645" stroke="#ff0000" stroke-width="0.9"/>
<line x1="137.7" y1="656.2" x2="137.7" y2="671" stroke="#ff0000" stroke-width="0.9"/>
<rect x="133.6" y="645" width="8.2" height="11.2" fill="#fff" stroke="#ff0000" stroke-width="0.9" fill-opacity="0.32"/>
<line x1="133.6" y1="649.7" x2="141.8" y2="649.7" stroke="#ff0000" stroke-width="1.4"/>
<path d="M149.6 707h0" stroke="#0000ff" stroke-width="2.6" stroke-linecap="round" fill="none" opacity="0.58"/>
<path d="M149.2 692.5h0" stroke="#0000ff" stroke-width="2.6" stroke-linecap="round" fill="none" opacity="0.58"/>
<path d="M149.6 681.6h0" stroke="#0000ff" stroke-width="2.6" stroke-linecap="round" fill="none" opacity="0.58"/>
<line x1="148.3" y1="678.5" x2="148.3" y2="684" stroke="#0000ff" stroke-width="0.8"/>
<line x1="148.3" y1="703.5" x2="148.3" y2="717.8" stroke="#0000ff" stroke-width="0.8"/>
<rect x="144.2" y="684" width="8.2" height="19.5" fill="#fff" stroke="#0000ff" stroke-width="0.8" fill-opacity="0.4"/>
<line x1="144.2" y1="689.6" x2="152.4" y2="689.6" stroke="#0000ff" stroke-width="1.4"/>
<path d="M155.5 684.8h0M161.8 670.1h0M155.9 691.1h0M157 693.1h0M157.4 669.9h0M160.1 688.4h0M156.4 675.1h0M155.1 672.6h0" stroke="#ff0000" stroke-width="2.6" stroke-linecap="round" fill="none" opacity="0.58"/>
<path d="M160.4 674.8h0M159.3 685.6h0M162.3 664.4h0M155.3 666.7h0M162 663.1h0M161.7 676.2h0M161.1 668.5h0" stroke="#ff0000" stroke-width="2.6" stroke-linecap="round" fill="none" opacity="0.58"/>
<path d="M162.3 682.8h0M156.8 686.4h0M159.2 677.3h0M155.2 692.4h0M162.2 689.6h0M159.8 658h0M156.5 659.9h0" stroke="#ff0000" stroke-width="2.6" stroke-linecap="round" fill="none" opacity="0.58"/>
<path d="M161.4 651h0M157.3 683.4h0M162.8 666.9h0M158.8 687.7h0M156.2 695.9h0M156.8 681.2h0M157.4 679h0" stroke="#ff0000" stroke-width="2.6" stroke-linecap="round" fill="none" opacity="0.58"/>
<path d="M160.4 645.6h0M156.7 660.7h0M156.1 678h0M159.8 673.8h0M162.2 653h0M158.1 672h0M162.3 680.3h0" stroke="#ff0000" stroke-width="2.6" stroke-linecap="round" fill="none" opacity="0.58"/>
<line x1="158.9" y1="645.6" x2="158.9" y2="666.9" stroke="#ff0000" stroke-width="0.9"/>
<line x1="158.9" y1="685.5" x2="158.9" y2="696.1" stroke="#ff0000" stroke-width="0.9"/>
<rect x="154.8" y="666.9" width="8.2" height="18.6" fill="#fff" stroke="#ff0000" stroke-width="0.9" fill-opacity="0.32"/>
<line x1="154.8" y1="675.7" x2="163" y2="675.7" stroke="#ff0000" stroke-width="1.4"/>
<path d="M166.7 713.3h0M168.6 714.7h0M173.4 718.1h0" stroke="#0000ff" stroke-width="2.6" stroke-linecap="round" fill="none" opacity="0.58"/>
<path d="M167.1 712.5h0M168.9 681.6h0" stroke="#0000ff" stroke-width="2.6" stroke-linecap="round" fill="none" opacity="0.58"/>
<path d="M166.6 729.5h0M165.8 710.4h0" stroke="#0000ff" stroke-width="2.6" stroke-linecap="round" fill="none" opacity="0.58"/>
<path d="M168.6 717.5h0M168.1 715.5h0" stroke="#0000ff" stroke-width="2.6" stroke-linecap="round" fill="none" opacity="0.58"/>
<path d="M173.3 717.2h0M173.3 718.3h0" stroke="#0000ff" stroke-width="2.6" stroke-linecap="round" fill="none" opacity="0.58"/>
<line x1="169.5" y1="710" x2="169.5" y2="713.2" stroke="#0000ff" stroke-width="0.8"/>
<line x1="169.5" y1="718" x2="169.5" y2="718.5" stroke="#0000ff" stroke-width="0.8"/>
<rect x="165.4" y="713.2" width="8.2" height="4.8" fill="#fff" stroke="#0000ff" stroke-width="0.8" fill-opacity="0.4"/>
<line x1="165.4" y1="716" x2="173.6" y2="716" stroke="#0000ff" stroke-width="1.4"/>
<path d="M183.8 652.2h0M176.5 626h0M180.6 650.9h0M182.1 661.9h0M179 636.1h0M178 640.8h0M178.7 650.1h0M179.8 653.9h0M180.4 660.1h0M182.4 655.3h0M180.3 640.3h0M176.8 649.2h0M183.8 649.8h0M176.3 642.1h0M183.9 648.4h0M177.7 666.6h0M182.9 657.7h0M178 654.5h0M183.2 648.3h0M180.2 651.1h0M177.7 640.6h0M178.2 651.2h0M181.2 647.5h0M179.4 650.2h0M180 655.4h0M181.9 636.8h0M176.8 653.8h0M180.9 642.5h0M182.5 645.3h0M179.6 657.5h0M178.5 657.9h0M179.3 656.9h0M183.7 646.3h0M180 646.5h0M179.9 656.8h0M179.9 633.1h0M183.5 655.9h0M180.4 650.9h0M180 650.8h0M178.4 643.8h0M178.2 661.2h0M182.4 630.1h0M182.8 652.6h0M177.1 646.7h0M178.3 662.8h0M179.7 647.6h0M183.1 655.9h0M178.8 648.1h0M178.5 654.5h0M182 654.3h0M178.3 659.8h0M178.9 641.5h0M179.2 664.1h0M181.7 642.4h0M177.1 667.4h0M182.9 653.7h0M177.5 665.1h0M182.4 651h0M177.4 659.3h0M176.5 643h0M183.9 664.7h0M181.4 644.3h0M180.9 633.4h0M180.5 664.3h0M183.3 650.5h0M180.6 656.4h0M181.2 649.4h0M176.6 649.7h0M183.2 643.3h0M178.8 638.7h0M183 652.9h0M183.7 655.1h0M180.6 642.7h0M182.1 653.6h0M177.8 649.7h0M178.4 666.1h0M183.7 667.9h0M182.7 645.4h0M182.5 666.7h0" stroke="#ff0000" stroke-width="2.6" stroke-linecap="round" fill="none" opacity="0.58"/>
<path d="M182.1 649.1h0M181.4 628.9h0M178.1 654.8h0M180.9 644.5h0M176.8 650.5h0M183.9 646.8h0M180.2 658.2h0M177.8 663h0M181.3 646.2h0M178.2 648.8h0M183.3 649.3h0M178.9 661.4h0M176.9 657.6h0M180.6 660.9h0M181.5 655.3h0M181.7 642.6h0M180.2 656h0M180.9 652h0M177.5 639.7h0M176.3 651h0M184 649.8h0M177.2 667.2h0M178.7 652.7h0M183.7 661.1h0M179.8 652.6h0M178.5 652.4h0M180.4 658.3h0M183.7 654.9h0M177.9 644h0M181.4 661.6h0M178.2 655.7h0M178.5 659.4h0M183.9 647.4h0M176.3 647h0M182.2 659.7h0M179.9 670.7h0M182.8 659.1h0M182.3 658.3h0M176.9 646.6h0M182.1 650.7h0M183.1 646.1h0M183.5 657.5h0M181.4 640.1h0M181.6 652h0M183.8 656.6h0M183.1 646.9h0M180.1 647.8h0M179.7 660.7h0M179.5 643.2h0M182.4 647.8h0M181.3 637.6h0M181.8 645.8h0M180.4 651.6h0M177.7 653.1h0M183.9 643.9h0M181.8 657.1h0M178.2 659.2h0M183.6 640h0M179.4 665.6h0M181.4 665.3h0M177 641.2h0M177.7 648h0M177.6 661.6h0M180.7 673.5h0M183.8 669.7h0M176.8 650.7h0M178.4 640.3h0M183.9 654.4h0M178.9 648.8h0M182.8 657.1h0M177.4 662.5h0M178.9 645.3h0M177.8 650h0M180.9 652.9h0M178.9 645.6h0M180.4 663.4h0M181.2 656.7h0M182.7 663.8h0M177.5 639.8h0" stroke="#ff0000" stroke-width="2.6" stroke-linecap="round" fill="none" opacity="0.58"/>
<path d="M180.7 636.3h0M178 656.9h0M183.2 654.2h0M181.2 644.4h0M183.3 653.5h0M183.8 647.7h0M177.4 636.5h0M177.7 641.7h0M176.3 665.8h0M176.7 660.4h0M178.5 669.3h0M179.7 653.3h0M183.7 673h0M178.9 650.1h0M181.1 655.5h0M179.6 634h0M176.4 640.9h0M181.9 651.3h0M182.1 647.2h0M181.9 629.5h0M181.7 638.8h0M176.7 653.2h0M183.1 653.5h0M177.5 644.7h0M178.3 651.7h0M179.2 648.1h0M176.8 641.1h0M180.2 635.2h0M183.1 632.5h0M179.1 642.3h0M180.9 652.8h0M180.9 638.9h0M182 645.8h0M183.8 637.1h0M181.7 634.3h0M178.6 675.3h0M179.9 662.2h0M181.6 639.3h0M177.1 639.1h0M178.6 644.2h0M177.1 650.2h0M179.4 672h0M182.6 662.7h0M183.3 661.8h0M180.9 656.4h0M179.6 660h0M180.9 651.4h0M181.3 651.9h0M182.8 666.1h0M182.7 647.1h0M180.5 668.6h0M182.2 660.5h0M176.7 649.1h0M179.6 658.4h0M181.3 638.1h0M177.6 655.5h0M180.1 647.5h0M176.5 649.9h0M181.2 648.9h0M176.3 653.6h0M177.5 624.5h0M176.9 654.8h0M184 663.6h0M179.1 650.4h0M180.5 642.8h0M182.7 642.8h0M180.5 643.8h0M182.2 643.4h0M181.8 650h0M183 648h0M181.9 646.7h0M183 641.7h0M182.5 650.4h0M177.7 645.7h0M180.4 649.1h0M182.3 647.4h0M177.1 657h0M177.9 660.6h0M178.8 652.8h0" stroke="#ff0000" stroke-width="2.6" stroke-linecap="round" fill="none" opacity="0.58"/>
<path d="M182.9 646.2h0M178.7 646.6h0M181.4 652.5h0M179 663.4h0M182.3 653.3h0M177.7 651.8h0M176.2 657.4h0M180.1 648.3h0M176.5 641.4h0M182.1 652.3h0M182.6 634.7h0M176.7 653.4h0M180.5 671h0M177.9 637.1h0M178.5 642h0M183.3 645.2h0M176.2 652.1h0M179.6 635.8h0M177.9 657.2h0M176.7 631.2h0M182.6 639.6h0M180.4 646h0M178.1 634.9h0M176.9 645.2h0M178.6 656.2h0M176.5 655.2h0M183.7 660.9h0M183.5 650.3h0M180.7 645.9h0M179.4 646h0M177.1 659h0M180.2 656.5h0M178.8 659.5h0M181.6 663.2h0M180.8 656.1h0M177.2 664.4h0M183.1 658.5h0M180.1 642h0M179.7 656.6h0M179.9 638.2h0M179 658.6h0M179.3 648.8h0M179.8 650.6h0M180.7 654h0M180 647.2h0M177.7 662.2h0M181.2 648.2h0M178.7 657.8h0M177.6 668.3h0M183.2 639.3h0M178.4 658h0M182.4 644.5h0M176.8 655.8h0M176.5 660.3h0M178.3 636.2h0M183.9 652.4h0M179.9 630.4h0M182.2 638.3h0M182.3 653.1h0M177.2 652.7h0M179.2 654.6h0M182.7 658.8h0M183.9 655.6h0M182.4 647.9h0M180 658.9h0M182.8 650.8h0M183.4 648.4h0M180.7 648.7h0M179.9 635.5h0M178.8 655h0M179.4 645.5h0M182.2 664.6h0M180.1 656.7h0M179.1 657.3h0M179.6 643.5h0M182.5 649h0M182.5 651.5h0M180.7 647h0M180.5 661.3h0" stroke="#ff0000" stroke-width="2.6" stroke-linecap="round" fill="none" opacity="0.58"/>
<path d="M176.6 646.4h0M180.3 655.7h0M178 655.1h0M182.4 633.7h0M176.4 648.5h0M182.4 637.4h0M181.2 659.9h0M181.7 643.7h0M178.7 651.7h0M176.5 652.3h0M183.8 625.2h0M176.9 638.5h0M181.2 632.9h0M176.5 654.8h0M177.4 644.9h0M183.2 649.5h0M177.9 641.3h0M183.9 644.7h0M177.2 640.5h0M179.5 660.8h0M180.4 652.1h0M180.7 655.3h0M177.9 654.3h0M180.1 677h0M182.4 659.6h0M180 641.8h0M181.4 653.3h0M178.4 654.5h0M181.1 647.1h0M180.8 662.4h0M182.2 647.6h0M177.1 635h0M176.2 653.9h0M181.9 631.8h0M180.9 662.9h0M182.6 644.1h0M182.8 640.5h0M177.3 651.8h0M179.5 654.2h0M180.1 643.1h0M178.8 653.9h0M183.2 643.6h0M183.5 658.7h0M177.4 656.3h0M176.6 668.9h0M176.2 638h0M182.2 659.4h0M182.3 657.9h0M176.2 626.6h0M176.8 660h0M177.4 649.4h0M176.2 654h0M177.8 658.1h0M183.1 651.8h0M184 645.6h0M177.6 649.6h0M183.9 637.7h0M182.6 665.1h0M184 662h0M183.3 631.6h0M181.1 648.6h0M177.1 648.6h0M179.4 651.2h0M178.4 663.9h0M183.1 628h0M176.9 654.7h0M183 653h0M178.9 649.7h0M176.9 646.4h0M182.6 645h0M183.9 667.2h0M180.7 651.5h0M178.3 658.7h0M183.8 656.1h0M182.8 649.3h0M182.6 644.9h0M183.3 645h0M183.6 651.4h0" stroke="#ff0000" stroke-width="2.6" stroke-linecap="round" fill="none" opacity="0.58"/>
<line x1="180.1" y1="625.5" x2="180.1" y2="645" stroke="#ff0000" stroke-width="0.9"/>
<line x1="180.1" y1="657.1" x2="180.1" y2="673.8" stroke="#ff0000" stroke-width="0.9"/>
<rect x="176" y="645" width="8.2" height="12.1" fill="#fff" stroke="#ff0000" stroke-width="0.9" fill-opacity="0.32"/>
<line x1="176" y1="651.1" x2="184.2" y2="651.1" stroke="#ff0000" stroke-width="1.4"/>
<path d="M189.8 667.5h0M188.9 659.4h0M189.7 671.3h0M191.8 665.4h0M191.8 668.1h0M187.9 664.1h0M191.2 657.6h0M188.8 668.7h0M191.6 650.4h0" stroke="#0000ff" stroke-width="2.6" stroke-linecap="round" fill="none" opacity="0.58"/>
<path d="M189.6 658.7h0M189.6 665.1h0M194 669.9h0M188.4 658.1h0M187.6 664.1h0M187 666.5h0M190.2 660.9h0M191.9 662.1h0" stroke="#0000ff" stroke-width="2.6" stroke-linecap="round" fill="none" opacity="0.58"/>
<path d="M187.4 669.6h0M191.5 656.4h0M189.5 649.1h0M192.5 661.5h0M187.4 662.9h0M187.3 665.8h0M192.4 665.9h0M187 663h0" stroke="#0000ff" stroke-width="2.6" stroke-linecap="round" fill="none" opacity="0.58"/>
<path d="M191.4 667.3h0M193.5 686h0M194.1 677.2h0M191.7 666.3h0M191.1 653.7h0M189.3 664.9h0M193.9 662h0M192.1 672.8h0" stroke="#0000ff" stroke-width="2.6" stroke-linecap="round" fill="none" opacity="0.58"/>
<path d="M189.8 670.8h0M194.2 663.4h0M194.1 655.4h0M194.2 673.8h0M194.4 667.9h0M191.2 666.7h0M189 674.8h0M187.6 660.1h0" stroke="#0000ff" stroke-width="2.6" stroke-linecap="round" fill="none" opacity="0.58"/>
<line x1="190.7" y1="649.7" x2="190.7" y2="660.8" stroke="#0000ff" stroke-width="0.8"/>
<line x1="190.7" y1="668.2" x2="190.7" y2="678.5" stroke="#0000ff" stroke-width="0.8"/>
<rect x="186.6" y="660.8" width="8.2" height="7.4" fill="#fff" stroke="#0000ff" stroke-width="0.8" fill-opacity="0.4"/>
<line x1="186.6" y1="665.1" x2="194.8" y2="665.1" stroke="#0000ff" stroke-width="1.4"/>
<path d="M200 668.2h0M202.6 653h0M204.1 654.9h0M201.3 677.6h0M202.3 679.7h0M201.2 668.7h0M204.5 669.1h0M203.7 685h0M197.8 681.5h0M201.9 684h0" stroke="#ff0000" stroke-width="2.6" stroke-linecap="round" fill="none" opacity="0.58"/>
<path d="M200.1 667.7h0M200.6 672h0M203.3 664.5h0M199.2 676.2h0M203.6 669.5h0M199.5 667.3h0M203.9 683.3h0M204.6 665.8h0M200.2 660.1h0M203.1 670.5h0" stroke="#ff0000" stroke-width="2.6" stroke-linecap="round" fill="none" opacity="0.58"/>
<path d="M197.6 674h0M199.4 678.3h0M200.2 680.5h0M203.1 665.1h0M200.6 700.7h0M200.9 682.5h0M204.4 673h0M201.1 665.9h0M202.2 666.7h0M199.2 669.9h0" stroke="#ff0000" stroke-width="2.6" stroke-linecap="round" fill="none" opacity="0.58"/>
<path d="M200.9 680.9h0M197.5 658.6h0M199.5 678.8h0M200.5 681.9h0M198.2 680h0M197.4 666.7h0M200.7 687.4h0M201.2 674.8h0M203.7 663.6h0M205 662.8h0" stroke="#ff0000" stroke-width="2.6" stroke-linecap="round" fill="none" opacity="0.58"/>
<path d="M199.3 668.6h0M202.2 660.8h0M204.9 689h0M202.7 671.2h0M199.7 657.8h0M202.2 672.7h0M198.4 663.9h0M202 661.8h0M198.5 675.8h0" stroke="#ff0000" stroke-width="2.6" stroke-linecap="round" fill="none" opacity="0.58"/>
<line x1="201.3" y1="654.3" x2="201.3" y2="665.4" stroke="#ff0000" stroke-width="0.9"/>
<line x1="201.3" y1="679.4" x2="201.3" y2="687.7" stroke="#ff0000" stroke-width="0.9"/>
<rect x="197.2" y="665.4" width="8.2" height="14" fill="#fff" stroke="#ff0000" stroke-width="0.9" fill-opacity="0.32"/>
<line x1="197.2" y1="670.1" x2="205.4" y2="670.1" stroke="#ff0000" stroke-width="1.4"/>
<path d="M213.9 638.7h0M214.1 646.8h0M215.2 638.4h0M210.5 647.8h0M214.8 648.5h0M212.6 650.1h0M209.9 642h0M215.4 656.7h0M213.2 667.3h0M214.8 652.9h0M209.3 664.6h0M212.1 658.8h0M209.6 650.5h0M214.6 661h0M212.7 641.6h0M209.4 652.3h0M211.5 659.1h0M208.8 649.1h0M214.2 644.7h0M210.7 639.2h0M212 650.4h0M214.4 646h0M214.4 659.6h0M209.3 644h0M211.4 641h0M214.7 658.7h0M210.4 644.6h0M213.3 648.5h0M209.7 653.3h0M213.2 650.6h0M213.9 648.2h0M209.8 645.4h0M214.1 684h0M211.5 622.5h0M208.4 653.8h0M213 652h0M212.7 656.1h0M209.1 660.3h0" stroke="#ff0000" stroke-width="2.6" stroke-linecap="round" fill="none" opacity="0.58"/>
<path d="M208.3 646.4h0M212 651h0M213.4 649.8h0M209.6 651.3h0M213.5 648.8h0M212.3 632.7h0M215.5 661.9h0M209.9 631.7h0M212.4 648.7h0M215.5 646.3h0M208.8 649h0M208.9 647.1h0M212.5 652.8h0M210.4 642.3h0M208.8 656.3h0M208.9 639h0M208.8 657.7h0M213.9 644.9h0M214.5 638.3h0M215.6 663h0M214.5 657.2h0M214.9 643.4h0M208.7 637.9h0M214.3 655.1h0M211.1 651.8h0M213.9 662.3h0M208.1 661.8h0M208.5 655.8h0M209.2 642.8h0M214.9 649.3h0M209.6 661.2h0M215.6 625.2h0M209.6 636.6h0M211.9 657.8h0M210.5 650.7h0M212.9 645h0M209.8 645.2h0M208.5 656.9h0" stroke="#ff0000" stroke-width="2.6" stroke-linecap="round" fill="none" opacity="0.58"/>
<path d="M212.9 655.5h0M208.9 636.2h0M210.7 628h0M211 650h0M215 643.8h0M214.9 627h0M214.7 644h0M212.5 642.8h0M209.3 652.3h0M214.8 647.4h0M212.4 645.6h0M209.3 656.5h0M213 653.5h0M210.7 657.4h0M213 646.6h0M208.9 635.6h0M209.8 658.1h0M215.7 655.3h0M214.8 629.7h0M212.3 646.9h0M213.1 642.5h0M209.8 663.8h0M212.4 649.5h0M209.7 651.1h0M210.2 640.3h0M210.7 645.3h0M215.4 630.5h0M212.6 658.5h0M215.7 637.1h0M213.5 620.1h0M213.1 632.3h0M210.2 645.8h0M212.5 655.4h0M211.9 659.9h0M209.5 660.8h0M212.3 639.7h0M211.4 644.4h0" stroke="#ff0000" stroke-width="2.6" stroke-linecap="round" fill="none" opacity="0.58"/>
<path d="M213.8 653.1h0M211.4 653.9h0M214.8 651.5h0M215 649.3h0M209.3 647.7h0M213.6 651.8h0M210.5 635.3h0M213 641h0M210.9 678h0M212.1 654.1h0M215.3 654.8h0M210.4 644.2h0M214.8 659.4h0M211.3 641.3h0M212.4 640.7h0M209.9 655h0M215.6 646.8h0M209.2 658.2h0M214.5 647.5h0M214.5 634.2h0M212.8 647.2h0M215.2 654.4h0M214.6 653h0M209.5 647.6h0M208.7 633.6h0M215.7 642.6h0M214.6 641.5h0M213 645.6h0M211.2 635.9h0M215 639.4h0M208.2 657.5h0M210.4 657.1h0M214.4 656.2h0M210 636.7h0M214.4 634.8h0M210 660.1h0M209.5 655.9h0" stroke="#ff0000" stroke-width="2.6" stroke-linecap="round" fill="none" opacity="0.58"/>
<path d="M213.1 644.3h0M208.5 652.1h0M212.3 651.4h0M210.1 637.7h0M213.6 654.7h0M213.7 641.9h0M213.5 669.4h0M211.9 665.2h0M212.4 643.3h0M212.7 640.2h0M210.4 637.4h0M211.8 648.1h0M210.4 654.3h0M212.4 629.2h0M212 653.4h0M213.1 630.8h0M215.5 652.5h0M210.9 649.8h0M208.6 656.8h0M214.7 640h0M214.7 654.7h0M208.9 655.7h0M212.6 634.4h0M211.7 647.9h0M215.6 646h0M209.4 648.3h0M209 633.1h0M211.6 651.2h0M211.1 624.3h0M210 643.1h0M209.8 649.7h0M214 650.2h0M214 646.1h0M213.2 643.6h0M213.5 653.8h0M208.7 643h0M208.6 674h0" stroke="#ff0000" stroke-width="2.6" stroke-linecap="round" fill="none" opacity="0.58"/>
<line x1="211.9" y1="620.9" x2="211.9" y2="642.2" stroke="#ff0000" stroke-width="0.9"/>
<line x1="211.9" y1="654.7" x2="211.9" y2="667.3" stroke="#ff0000" stroke-width="0.9"/>
<rect x="207.8" y="642.2" width="8.2" height="12.5" fill="#fff" stroke="#ff0000" stroke-width="0.9" fill-opacity="0.32"/>
<line x1="207.8" y1="648.4" x2="216" y2="648.4" stroke="#ff0000" stroke-width="1.4"/>
<path d="M220.7 702.3h0M223.6 672.2h0M218.8 709.5h0" stroke="#0000ff" stroke-width="2.6" stroke-linecap="round" fill="none" opacity="0.58"/>
<path d="M225.7 662.2h0M221.6 692.1h0" stroke="#0000ff" stroke-width="2.6" stroke-linecap="round" fill="none" opacity="0.58"/>
<path d="M221.7 687h0M221.4 660.6h0" stroke="#0000ff" stroke-width="2.6" stroke-linecap="round" fill="none" opacity="0.58"/>
<path d="M224.2 695.7h0M226.2 651h0" stroke="#0000ff" stroke-width="2.6" stroke-linecap="round" fill="none" opacity="0.58"/>
<path d="M223.1 681.7h0M223.4 704.3h0" stroke="#0000ff" stroke-width="2.6" stroke-linecap="round" fill="none" opacity="0.58"/>
<line x1="222.5" y1="638.5" x2="222.5" y2="666.4" stroke="#0000ff" stroke-width="0.8"/>
<line x1="222.5" y1="701.7" x2="222.5" y2="709.7" stroke="#0000ff" stroke-width="0.8"/>
<rect x="218.4" y="666.4" width="8.2" height="35.3" fill="#fff" stroke="#0000ff" stroke-width="0.8" fill-opacity="0.4"/>
<line x1="218.4" y1="685.5" x2="226.6" y2="685.5" stroke="#0000ff" stroke-width="1.4"/>
<path d="M235.4 671.5h0M231.5 667.6h0M235.2 676.3h0M232.8 673.2h0M230.4 664.2h0M230.3 671.7h0M232 668.4h0M235.9 640.7h0M231.1 675h0M236.7 666.9h0M233.9 653.5h0M229.6 680.4h0M230.3 672.1h0M234.9 685.1h0M229.6 668.5h0M231.3 651h0M231.8 668.8h0M234.2 679.3h0M234.1 676.8h0M234.9 682.1h0M235.8 660h0M236.4 659h0M235 668h0M235.2 677.7h0M235.9 683.4h0M235.1 669.6h0M232 666.7h0M232.4 690.6h0M233 667.1h0M234.3 671h0M230.2 653.3h0M230.1 662.7h0" stroke="#ff0000" stroke-width="2.6" stroke-linecap="round" fill="none" opacity="0.58"/>
<path d="M229.4 675.9h0M231.4 688.3h0M229.2 657.6h0M232.7 673.8h0M232.8 656.2h0M231.2 676h0M233.1 661.4h0M229.5 662h0M234.3 675.1h0M236.9 641.9h0M234.5 665.8h0M229.6 676.7h0M229.6 645.6h0M233 660.4h0M232.5 656.9h0M236.1 659.4h0M230.4 657.9h0M234.1 673.3h0M235.2 667.3h0M233.1 647.5h0M229.8 664.5h0M229.7 649.6h0M232.1 686.4h0M236.6 691.1h0M232.8 673.4h0M233.4 667.8h0M235 661.5h0M236.9 680.1h0M236.3 677.2h0M232.8 679.1h0M231.9 666.6h0" stroke="#ff0000" stroke-width="2.6" stroke-linecap="round" fill="none" opacity="0.58"/>
<path d="M230.9 669h0M234 675.6h0M235.5 670h0M236.7 689.8h0M232 681.7h0M229.6 662.7h0M230.9 678.3h0M236.8 659.2h0M231.6 661.1h0M235.5 658.7h0M235.9 675.3h0M229.3 693.4h0M235.8 672.9h0M236.7 669.2h0M231.6 671.4h0M233.7 682.4h0M230.8 680.2h0M236.9 678.7h0M235.5 659.6h0M230.7 699.2h0M229.5 676.5h0M235.5 665.4h0M234.6 664.9h0M231 655h0M233 651.9h0M229.4 687.3h0M229.5 674.1h0M236.8 674.7h0M231 665.7h0M236.9 681.1h0M235.5 680.8h0" stroke="#ff0000" stroke-width="2.6" stroke-linecap="round" fill="none" opacity="0.58"/>
<path d="M231.4 678.9h0M229.3 671.9h0M232.4 664.9h0M232.3 684.7h0M233.2 672.4h0M234.2 715h0M232.2 672.7h0M232.3 668.2h0M229.9 663.7h0M230.7 709h0M233.7 670.7h0M234.3 657.5h0M236.3 654h0M231.6 663.9h0M229.7 660.6h0M233.9 687.9h0M232.4 672.3h0M233.5 654.7h0M229.3 657h0M231.8 654.3h0M236.7 664.4h0M231.8 652.9h0M235.1 662.2h0M229.6 660.9h0M237 660.2h0M229.4 671.2h0M231.6 648.7h0M234.9 682.9h0M236 674.3h0M235.6 663h0M236.9 677.3h0" stroke="#ff0000" stroke-width="2.6" stroke-linecap="round" fill="none" opacity="0.58"/>
<path d="M236.7 666h0M230 673.7h0M232.4 677.9h0M235.1 656.5h0M235.9 669.7h0M235.8 669.4h0M236.3 655.4h0M230.5 663.3h0M233.6 679.6h0M234.4 705h0M234.7 696.7h0M233.6 658.4h0M229.3 683.9h0M235.6 661.9h0M234 678.2h0M236.1 663.4h0M229.3 646.6h0M229.4 674.6h0M233.2 650h0M233.4 670.3h0M236.7 651.5h0M230.3 665.2h0M235 684.4h0M233.1 670.2h0M232.1 670.6h0M229.2 658.2h0M230.6 655.9h0M231.7 683h0M233.6 666.4h0M229.9 681.5h0M231.3 685.8h0" stroke="#ff0000" stroke-width="2.6" stroke-linecap="round" fill="none" opacity="0.58"/>
<line x1="233.1" y1="641.3" x2="233.1" y2="660.8" stroke="#ff0000" stroke-width="0.9"/>
<line x1="233.1" y1="677" x2="233.1" y2="697" stroke="#ff0000" stroke-width="0.9"/>
<rect x="229" y="660.8" width="8.2" height="16.2" fill="#fff" stroke="#ff0000" stroke-width="0.9" fill-opacity="0.32"/>
<line x1="229" y1="669.2" x2="237.2" y2="669.2" stroke="#ff0000" stroke-width="1.4"/>
<path d="M244.9 726h0" stroke="#0000ff" stroke-width="2.6" stroke-linecap="round" fill="none" opacity="0.58"/>
<path d="M240.7 734.1h0" stroke="#0000ff" stroke-width="2.6" stroke-linecap="round" fill="none" opacity="0.58"/>
<path d="M244.6 730.2h0" stroke="#0000ff" stroke-width="2.6" stroke-linecap="round" fill="none" opacity="0.58"/>
<path d="M241.6 738.3h0" stroke="#0000ff" stroke-width="2.6" stroke-linecap="round" fill="none" opacity="0.58"/>
<path d="M243.2 738.6h0" stroke="#0000ff" stroke-width="2.6" stroke-linecap="round" fill="none" opacity="0.58"/>
<line x1="243.7" y1="717.5" x2="243.7" y2="728.2" stroke="#0000ff" stroke-width="0.8"/>
<line x1="243.7" y1="738.3" x2="243.7" y2="740" stroke="#0000ff" stroke-width="0.8"/>
<rect x="239.6" y="728.2" width="8.2" height="10.1" fill="#fff" stroke="#0000ff" stroke-width="0.8" fill-opacity="0.4"/>
<line x1="239.6" y1="737" x2="247.8" y2="737" stroke="#0000ff" stroke-width="1.4"/>
<path d="M251.3 632.3h0M253.4 640.7h0M254.3 650h0M253.8 640.8h0M252.6 648.5h0M255.7 638.6h0M250.5 646h0M254.9 640.8h0M255.8 639.2h0M251.5 655.8h0M251.7 645h0M253.2 644.1h0M255.9 645.2h0M253.5 654.3h0M252.9 644.5h0M257.1 657.6h0M253.2 652.3h0M253.9 645.8h0M252.3 632.4h0M254.3 643.3h0M255.1 647.8h0M253.6 635.7h0M254.2 633.8h0M256 646.6h0M253.2 637.3h0M256.8 631.8h0M250.8 637.9h0M251.4 634h0M257.2 641.7h0M257.2 644.3h0M255.5 630h0M253.7 637.2h0M253.6 639.6h0M251 624.7h0M256.9 636.7h0M250.7 629.7h0M252.8 640.7h0M256.8 646.8h0M252.8 639.8h0M250.4 623.5h0M253.7 636.6h0M254.1 645.7h0M256.3 638.7h0M250.6 643.5h0M256.2 638.5h0M255 652.4h0M253 641h0M251.8 647.9h0M254.2 642.5h0M250.8 650.9h0M250.9 636.1h0M252.9 635.4h0M256.8 631.1h0M252.4 638.4h0M252.6 640.4h0M252.8 641.1h0M255.2 643.9h0M258.1 625.9h0M253.7 649.4h0M256.9 653h0M250.9 636.4h0M250.4 632.7h0M251.4 641h0M254.8 644h0M254.6 657.4h0M255.2 645h0M250.7 645.4h0M252.1 650.1h0M255 645.6h0M250.6 635.7h0M253 647.1h0M257.9 628.9h0M251.7 645.3h0M251.5 637.5h0M255.5 627.1h0M250.6 637.1h0M254 631h0M252.3 648.1h0M254.7 643.2h0M256.9 642.2h0M253.3 655.3h0M253.7 634.9h0M252.4 654.4h0M254.9 656.7h0M253.7 649h0M251.9 656.2h0M254.2 636.2h0" stroke="#ff0000" stroke-width="2.6" stroke-linecap="round" fill="none" opacity="0.58"/>
<path d="M257.4 641.2h0M254 635.3h0M251.2 640h0M257.6 646.2h0M253 647.7h0M257.5 639.6h0M255.8 629.9h0M254.9 636.8h0M250.6 625h0M256.5 639.9h0M251 648.9h0M252.7 639.1h0M251.4 642.9h0M253.4 630.4h0M256.4 639.8h0M253.5 649.2h0M251.9 638.1h0M256.6 629.4h0M254 648.8h0M253.4 639.5h0M251.5 649.9h0M251.3 653.4h0M255.1 644.2h0M250.8 640.6h0M250.8 658.4h0M252.3 642h0M255.1 628.2h0M255.4 633.7h0M257.6 643.7h0M255.4 639.4h0M253 624h0M251.8 649.6h0M257.6 638.1h0M256.8 640.9h0M251.9 651.1h0M251.4 647.8h0M252.8 645.1h0M251 638.3h0M257.2 637.8h0M257.4 638.3h0M253 631.6h0M252.4 640.4h0M252.1 640.2h0M253.8 659.8h0M254.4 643.6h0M255.9 649.1h0M257.9 635.2h0M251.8 638h0M254 633.6h0M256.9 648h0M251.2 653.7h0M255.3 639.1h0M256.8 641.6h0M253.7 648.4h0M251.5 658.1h0M251.1 633.9h0M255.4 631.4h0M256.2 641.9h0M255.6 634.6h0M253 643.5h0M255.2 648.7h0M250.5 651.7h0M255.9 640.8h0M257.2 649.8h0M250.4 640.5h0M255.7 638.2h0M253.2 638.6h0M254.3 642.3h0M253.5 627.7h0M254 638.7h0M253.1 644.4h0M252.7 634.4h0M257.9 642.2h0M253.1 641.9h0M253.9 641.2h0M258 621.5h0M252.9 649.8h0M253.5 644.7h0M255 626.4h0M253.1 629.3h0M254.4 633h0M257.7 639.4h0M256.6 650.6h0M256.6 639.6h0M252.2 640.4h0M253.6 649.8h0M251 631.9h0" stroke="#ff0000" stroke-width="2.6" stroke-linecap="round" fill="none" opacity="0.58"/>
<path d="M251.3 654.8h0M257.9 635h0M255.3 638.8h0M258.1 645.5h0M251.8 653.3h0M254 652h0M255.4 645.2h0M254.1 647.4h0M251.7 650.8h0M250.9 634.3h0M255.7 646.9h0M252.4 644.8h0M254.5 628.6h0M252.9 639.7h0M258.1 662.1h0M254.7 637.7h0M252.9 633.5h0M254.7 634.5h0M251.4 648.4h0M255.5 635.1h0M257.4 655h0M253 651.7h0M253.9 648.1h0M258.2 639h0M250.7 645.6h0M256.2 642.6h0M251.2 641.7h0M255.3 636h0M252.9 643.6h0M251.9 650.3h0M252.5 670h0M257.2 636.6h0M257.3 648.3h0M255 649.3h0M253.2 631.2h0M250.8 652h0M257.2 637.6h0M251.7 638.9h0M254.8 644.7h0M256 648.6h0M256.2 635.3h0M251 638.9h0M257.5 651.6h0M251 642.1h0M255.7 647.2h0M258.1 646.2h0M255.8 645.7h0M257.7 629.6h0M251.1 637.9h0M251.1 653.1h0M254.3 633.4h0M256.2 631.9h0M255.9 646.1h0M257 652.6h0M251.8 634.8h0M254.1 641.1h0M253.5 639.8h0M256.9 646.5h0M258 650.6h0M251.3 665h0M251.6 640.3h0M250.7 640.1h0M251.9 632.6h0M253 643.3h0M251.8 636.3h0M255.2 637.4h0M254.6 644.1h0M251 643.4h0M257.5 649.4h0M251 633.1h0M253.2 655.6h0M256.7 641.4h0M252.5 642.8h0M254.7 643.1h0M252.6 657.1h0M250.5 643h0M253.1 636.3h0M252.7 639h0M252.1 636.7h0M257 653.6h0M252.5 634.1h0M255.5 644.4h0M257.1 636.9h0M255 641.8h0M256 648.2h0M254.6 641.1h0M255.8 637h0" stroke="#ff0000" stroke-width="2.6" stroke-linecap="round" fill="none" opacity="0.58"/>
<path d="M253.8 655.3h0M255.7 632.2h0M257.4 635.6h0M255.9 630.3h0M255.8 635.9h0M257.9 638.8h0M251.8 636.5h0M254.1 625.4h0M252 629.2h0M257.3 643.3h0M252.7 648.3h0M257.5 639.3h0M252.3 641.9h0M257.1 636.2h0M256.8 638.3h0M251.3 642.9h0M255.1 641.3h0M251.3 637.1h0M250.5 637.7h0M251.1 646.4h0M252.5 647.6h0M253.3 637.9h0M253.4 642.1h0M253.2 633.7h0M252.3 634.2h0M255.2 640h0M257.4 639.2h0M257.4 648.8h0M250.4 635.6h0M252.6 638.2h0M256.8 649.7h0M251 641.5h0M252.3 647.1h0M254.9 638.6h0M251.2 630.7h0M256.3 636h0M254.8 651.4h0M257.9 644.6h0M250.7 645.4h0M253.9 649h0M257.3 639.5h0M253.3 640.6h0M256.7 651.3h0M257.1 635.2h0M255.9 626.2h0M254.5 644.6h0M256.2 643.1h0M254.6 648.5h0M251.6 641.4h0M253.6 632.9h0M254.3 642.7h0M258 630.7h0M256.1 633.3h0M253.9 653.8h0M258.2 640.5h0M258.1 645.9h0M258.1 639.1h0M254.8 630.9h0M254.5 632.6h0M251.1 628.3h0M254 641.6h0M254.4 637.6h0M256.9 639.4h0M256.2 626.7h0M254.8 648.6h0M250.7 641.4h0M252.2 646.6h0M252.8 638.9h0M254.3 659.4h0M251.6 651.5h0M255.6 630.2h0M254.7 654.8h0M255.2 652.5h0M252.2 635.8h0M252.2 640.6h0M250.9 621.1h0M257.3 618h0M251.1 648.9h0M258 646.9h0M251.5 640.1h0M254.9 652.6h0M256.6 636.9h0M258 649.3h0M251.2 651.8h0M257.3 658.8h0M256.8 631.6h0M255.3 650.1h0" stroke="#ff0000" stroke-width="2.6" stroke-linecap="round" fill="none" opacity="0.58"/>
<path d="M251.6 631.3h0M255 675h0M255.7 639.9h0M250.6 634.8h0M253.2 642.4h0M251.8 647.5h0M252.5 642.4h0M257.1 637h0M253.7 650.4h0M254.7 650.2h0M253.3 654.6h0M250.5 635.5h0M251.2 652.1h0M255.6 653.4h0M258 635.9h0M255.9 648h0M253 645.8h0M252.8 642.7h0M254 637.8h0M254.7 627.2h0M253.5 647.9h0M252.6 634.7h0M257.4 650.8h0M257.4 652.2h0M257.7 647.6h0M257.4 627.5h0M252.9 637.3h0M253.9 647.2h0M253.3 640.3h0M257.5 661.4h0M256.5 613.5h0M253.7 652.9h0M251.1 644h0M256.5 639.7h0M252.6 634.6h0M257.9 650.5h0M256.5 654.1h0M251.2 639.3h0M256 650.3h0M255.1 628h0M257.3 644.9h0M250.8 640.1h0M251.8 646.7h0M251 640.9h0M250.6 652.8h0M256.9 644.2h0M254.6 632.5h0M253.7 649.2h0M257.6 644.9h0M251.6 643.8h0M250.5 643.8h0M252.4 644.5h0M254.7 638.5h0M257.2 647.4h0M254.2 637.4h0M252.2 638.4h0M256.1 637.5h0M254 634.1h0M251.5 656.5h0M254.7 649.5h0M257.5 633.2h0M252.8 640.2h0M250.4 642.3h0M254.1 651.2h0M252.8 646.8h0M256.6 642.6h0M254.3 646.1h0M253.4 647.3h0M257.5 637.4h0M252.9 646.4h0M255.6 632.1h0M256.6 650.7h0M253.5 628.8h0M254.1 638h0M251.5 636.5h0M253.1 646.3h0M257 651.1h0M256.1 622.4h0M255.1 634.5h0M251.7 653.9h0M253.8 633h0M253.1 651h0M252.3 640h0M251 655.9h0M257.8 637.1h0M255.5 641.2h0M253.4 642.9h0" stroke="#ff0000" stroke-width="2.6" stroke-linecap="round" fill="none" opacity="0.58"/>
<line x1="254.3" y1="621.8" x2="254.3" y2="636.7" stroke="#ff0000" stroke-width="0.9"/>
<line x1="254.3" y1="647.8" x2="254.3" y2="660.8" stroke="#ff0000" stroke-width="0.9"/>
<rect x="250.2" y="636.7" width="8.2" height="11.1" fill="#fff" stroke="#ff0000" stroke-width="0.9" fill-opacity="0.32"/>
<line x1="250.2" y1="641.3" x2="258.4" y2="641.3" stroke="#ff0000" stroke-width="1.4"/>
<path d="M266.6 650.1h0M265.7 649.6h0M266.4 652h0M268.6 644.5h0M266.7 651h0M261.6 657.3h0M267.1 649.4h0M262.2 645.3h0M266 701.7h0M264.6 659.1h0" stroke="#0000ff" stroke-width="2.6" stroke-linecap="round" fill="none" opacity="0.58"/>
<path d="M261.8 642.7h0M264.4 681.6h0M265.7 635.5h0M266.6 660.1h0M265.2 639h0M265.7 707.8h0M266.3 665.2h0M268.3 647.1h0M265.9 641.3h0M265.4 673.4h0" stroke="#0000ff" stroke-width="2.6" stroke-linecap="round" fill="none" opacity="0.58"/>
<path d="M261.4 652.8h0M264.7 731.4h0M263.3 649h0M262.1 647.6h0M266.7 647.7h0M264.1 684.8h0M264.4 675.6h0M261.3 661.2h0M268.2 691.6h0" stroke="#0000ff" stroke-width="2.6" stroke-linecap="round" fill="none" opacity="0.58"/>
<path d="M262.1 664.3h0M268.3 668.7h0M261.8 646h0M266.3 648.6h0M265.6 686.2h0M267.7 651.5h0M266.1 662.6h0M263.8 655.6h0M264.6 639.9h0" stroke="#0000ff" stroke-width="2.6" stroke-linecap="round" fill="none" opacity="0.58"/>
<path d="M263.2 656.6h0M263.8 634.3h0M262.8 653.4h0M268.1 650.6h0M267.6 643.5h0M263.8 670h0M263.2 677.2h0M262.7 672h0M265.4 666.6h0" stroke="#0000ff" stroke-width="2.6" stroke-linecap="round" fill="none" opacity="0.58"/>
<line x1="264.9" y1="634.8" x2="264.9" y2="647.2" stroke="#0000ff" stroke-width="0.8"/>
<line x1="264.9" y1="666.4" x2="264.9" y2="691.5" stroke="#0000ff" stroke-width="0.8"/>
<rect x="260.8" y="647.2" width="8.2" height="19.2" fill="#fff" stroke="#0000ff" stroke-width="0.8" fill-opacity="0.4"/>
<line x1="260.8" y1="652.1" x2="269" y2="652.1" stroke="#0000ff" stroke-width="1.4"/>
<path d="M274.6 649.5h0M272.5 640.4h0M278 647.5h0M278.5 654.2h0M274.8 646.6h0M273.6 658.4h0M272.5 638.5h0M275.2 631.2h0M275.2 660.6h0M271.7 628.2h0M273.7 653.4h0M273.8 641.9h0M273 648.9h0M273.7 637.8h0M274.3 652.3h0M274 644.8h0M278.7 652.2h0M277.5 649.8h0M272.8 645.1h0M273.7 643.2h0" stroke="#ff0000" stroke-width="2.6" stroke-linecap="round" fill="none" opacity="0.58"/>
<path d="M278 639h0M273.1 644.6h0M277 645.8h0M274.8 650.9h0M277.5 648h0M272.3 657.7h0M277.2 637h0M274.7 643.9h0M274.6 640.1h0M271.7 638.8h0M277.4 649.9h0M273.7 652.1h0M272.7 638.2h0M276.1 654.7h0M278.1 636h0M272.5 653.4h0M275.4 656.1h0M272.1 633.3h0M279 646.4h0M273.5 644.4h0" stroke="#ff0000" stroke-width="2.6" stroke-linecap="round" fill="none" opacity="0.58"/>
<path d="M273.4 641.7h0M274.7 654.3h0M279.3 655.2h0M276 633.8h0M272 653.9h0M272.6 643.3h0M277.7 638h0M276.6 653.2h0M278.7 646.2h0M275.7 644.1h0M273.4 651.3h0M273.1 642.9h0M273 642.7h0M278.7 640.7h0M271.8 662.9h0M275.4 652.7h0M274.9 654.9h0M277.3 650.6h0M272 651.8h0" stroke="#ff0000" stroke-width="2.6" stroke-linecap="round" fill="none" opacity="0.58"/>
<path d="M277.9 648.6h0M276.9 644.7h0M275.6 650.4h0M275.4 648.3h0M273 641.6h0M272.5 639.6h0M278.3 655.6h0M273.7 650.3h0M273.6 634.1h0M278.4 648.9h0M275.7 636.6h0M274 635.4h0M277.2 647h0M275.7 646.1h0M272.5 645.4h0M273.7 643.6h0M277.4 647.9h0M273.7 639.7h0M271.9 652.9h0" stroke="#ff0000" stroke-width="2.6" stroke-linecap="round" fill="none" opacity="0.58"/>
<path d="M272.3 646.9h0M273.1 645.6h0M275.3 634.7h0M274.4 642.5h0M271.8 647.3h0M273.2 642.2h0M276.3 640.9h0M275.5 641.2h0M274.2 647.7h0M278.7 651.6h0M274.6 636.1h0M278.5 651.3h0M272.8 657.1h0M276.3 631.4h0M274.2 640.1h0M278.4 656.5h0M273.8 649.3h0M275.1 639.3h0M272.9 637.3h0" stroke="#ff0000" stroke-width="2.6" stroke-linecap="round" fill="none" opacity="0.58"/>
<line x1="275.5" y1="628.3" x2="275.5" y2="640.4" stroke="#ff0000" stroke-width="0.9"/>
<line x1="275.5" y1="651.5" x2="275.5" y2="661.7" stroke="#ff0000" stroke-width="0.9"/>
<rect x="271.4" y="640.4" width="8.2" height="11.1" fill="#fff" stroke="#ff0000" stroke-width="0.9" fill-opacity="0.32"/>
<line x1="271.4" y1="646" x2="279.6" y2="646" stroke="#ff0000" stroke-width="1.4"/>
<path d="M288.8 631.5h0M288.8 641.7h0M286.9 621.3h0M283.9 640.1h0M286.1 633.6h0M286 639.4h0M282.5 644.8h0M283.8 643.4h0M284.8 641.4h0M288 657.6h0M285.7 631.5h0M282.6 630h0M286.3 637.7h0M289.8 640.6h0M282.3 634.8h0M286 651.5h0M285.2 629.6h0M289.4 642.2h0M284.7 637.9h0M287.1 640.3h0M288 650.6h0M286.1 634.5h0M284.5 650.2h0M285.7 644.2h0M286.3 653.3h0M286.2 640.8h0M285 645h0M284.3 649.2h0M284.1 642.8h0M286.8 630.9h0M282.6 633.3h0M288.1 647.2h0M288.1 646.8h0M286.4 650.7h0M287.3 648.9h0M282.8 642.5h0M287.7 639.3h0M289 648.5h0M285.2 640h0M290 644.6h0M288.4 627.7h0M287.7 638.3h0M287.4 633.5h0M286.6 649.8h0M286.6 647.4h0M283 624.6h0M286.1 635.7h0M282.5 636.3h0M284.6 632.9h0M283.7 638.8h0M287 658.6h0M289.1 639.9h0M288.6 634h0M287.6 639.7h0M287.2 649.6h0M283.2 636.8h0M286.5 641.8h0M284.5 632.5h0M288 644.9h0M282.6 629.2h0M289 640.1h0M287.6 645.8h0M286.4 635.8h0M283.5 641.6h0M282.8 653.9h0M283.5 636.1h0M287.2 649.1h0M290 644.1h0M288.4 650.9h0M288.4 650h0M283.2 639.2h0M287.5 650.8h0M285.3 638h0M284.8 630.6h0M286 645.2h0" stroke="#ff0000" stroke-width="2.6" stroke-linecap="round" fill="none" opacity="0.58"/>
<path d="M283.8 650.7h0M285.5 652.6h0M283.9 648.7h0M285 653.1h0M289.9 638.5h0M286.5 646.9h0M287.1 640.2h0M287.9 643.6h0M284.1 645.6h0M286.8 651.9h0M286.2 627h0M283.7 646.1h0M288 623.4h0M287.4 641.8h0M283.4 650.8h0M288.7 637.7h0M289.6 648.1h0M289.8 632.9h0M287.5 639.5h0M282.6 640.4h0M288.4 619.8h0M288.2 660.5h0M284.2 650.5h0M286 650.2h0M287.1 649.9h0M288.6 635.4h0M289 650h0M289.2 630.2h0M286.1 627.2h0M289.1 652h0M283 652.3h0M287.6 639.2h0M288.8 637.1h0M288.2 636.7h0M288.7 646.1h0M283.4 649.8h0M284.9 635.1h0M283.3 644.7h0M283.5 629.1h0M284.1 618.4h0M286.8 629.4h0M289 638.9h0M287.1 643.7h0M289 650.1h0M289.7 642.7h0M287.1 634.6h0M285.9 634.2h0M286.7 645.9h0M284.5 639.9h0M282.3 640.9h0M285 626.1h0M286.4 651.8h0M282.8 643.8h0M285.8 634.9h0M287.9 643.9h0M289.6 641h0M286.4 645.7h0M285 636.7h0M287.4 645.3h0M284.9 655.5h0M284.8 633.4h0M282.3 650.2h0M284 636.5h0M282.6 646.5h0M288.5 656h0M288.8 658h0M284.5 635.3h0M283.7 639.3h0M285.3 651.3h0M282.3 622.6h0M289.1 654.1h0M289.6 634.4h0M283.3 639.8h0M287.7 639.7h0M287 643.9h0" stroke="#ff0000" stroke-width="2.6" stroke-linecap="round" fill="none" opacity="0.58"/>
<path d="M286.9 651.7h0M288.1 628.8h0M285.4 642.9h0M289.5 653.6h0M288.9 650.5h0M287 634.2h0M282.5 637h0M283.8 654.9h0M287.2 646.4h0M286.5 653.5h0M282.9 636.3h0M284.2 645.5h0M283.4 643.2h0M289.9 646.2h0M286.2 638h0M282.3 636h0M287.5 648h0M286.8 632h0M286.3 627.5h0M287.9 653.8h0M288.3 637.3h0M286.9 647.3h0M284 651.1h0M289 652.8h0M282.7 651h0M284.7 635.5h0M286.6 651.6h0M286 622.4h0M285 626.3h0M288.5 654.6h0M287.2 638.1h0M284.4 647h0M283.4 638.2h0M287.6 647h0M288.9 642.6h0M288.3 653.2h0M285.6 631.3h0M288.6 652.9h0M288.1 641.6h0M284.8 651.4h0M283.1 635.6h0M289.2 635.9h0M286.1 637.3h0M289.1 638.4h0M287.9 641.5h0M285.3 637.8h0M287.4 654.3h0M282.5 654.1h0M285.1 655.2h0M283.1 652.5h0M283.8 630h0M288.2 631.1h0M282.6 648.2h0M285.3 639.4h0M282.9 649.5h0M283.3 629.8h0M282.3 637.4h0M286.8 632.4h0M284.3 643.6h0M289.7 649.7h0M284.5 646h0M287.8 639.6h0M283.1 641.3h0M284.6 649.4h0M284.5 637.5h0M286 638.2h0M287.7 636.4h0M287.5 648.3h0M289.2 651.1h0M287.5 655h0M284.3 657h0M287.1 635.2h0M285.5 642.9h0M285.5 640.5h0M284.8 643.1h0" stroke="#ff0000" stroke-width="2.6" stroke-linecap="round" fill="none" opacity="0.58"/>
<path d="M284.8 639h0M286 638.3h0M285.6 651.8h0M286.3 652.4h0M288.1 645h0M286.4 635h0M285 628.3h0M285.8 628.7h0M284.5 649.6h0M285.2 648.7h0M289.4 653h0M289.9 643.5h0M289.9 638.7h0M284.9 654.7h0M282.4 635h0M283.3 633.1h0M286.8 642.4h0M288.7 631h0M283.1 645.1h0M287.1 627.3h0M285.6 630.3h0M288 645.3h0M289.5 632.2h0M287.7 625.1h0M287.1 646.7h0M289 628.2h0M285.8 653.4h0M289.5 642.3h0M282.9 652.6h0M286.2 641.9h0M288.2 656.3h0M288.3 655.5h0M289.8 648.6h0M288.9 646.5h0M288.1 634.7h0M289.3 639h0M289.6 636.6h0M289.2 650.4h0M284.1 633.9h0M289.9 633.2h0M288.4 633.7h0M288.6 650h0M283.4 659.9h0M289.6 647.1h0M284.7 650.9h0M286.9 644.3h0M283.8 633.1h0M283.9 652.1h0M287.3 632.6h0M285.4 648.1h0M289 634.8h0M282.5 638.9h0M282.9 670h0M285 628.5h0M282.6 636.2h0M287 649.3h0M287.7 620h0M288.3 647.6h0M289.7 641.4h0M283.9 650.6h0M289.1 624.5h0M286.5 655.9h0M288.3 656.9h0M288.6 643.2h0M282.9 640.9h0M285.1 637h0M285.3 640.7h0M286.4 652.7h0M286.7 640.3h0M282.4 629.6h0M289.8 645.4h0M286.1 634.4h0M286.9 642.1h0M286.8 653.7h0" stroke="#ff0000" stroke-width="2.6" stroke-linecap="round" fill="none" opacity="0.58"/>
<path d="M285.7 655.1h0M282.5 643.5h0M289.7 641.2h0M289.9 623.7h0M286.3 647.9h0M287.7 640.6h0M284.9 659.4h0M284.8 627.9h0M285.8 641h0M285.9 649.9h0M286.4 642.4h0M286.4 652.1h0M286 645.6h0M285.2 653.2h0M288.1 651.2h0M288.9 648.4h0M285.2 649h0M284.6 631.4h0M287.6 650.4h0M288.4 657.5h0M288.6 626.7h0M285.7 633.7h0M283.6 647.7h0M288.5 631.7h0M286.1 632.3h0M285.6 636h0M288.6 651.5h0M284.7 652.3h0M288.1 647.7h0M289.3 656.6h0M284.6 641.1h0M288 654.5h0M284.6 644.5h0M289 637.6h0M284.2 625.5h0M286.3 635.7h0M288.5 634.1h0M285 644h0M287.9 644.5h0M288 651.6h0M284 656.1h0M288.1 644.4h0M285.5 642.2h0M289.4 647.7h0M284 648.9h0M285.8 646.3h0M287.1 630.8h0M285.7 632.8h0M283.2 632h0M285.3 652.2h0M283.3 625.9h0M284.1 643.3h0M289.6 654.2h0M286.8 642h0M289.3 662.8h0M289.5 631.8h0M286.5 638.6h0M282.6 651.3h0M287.2 643h0M284.7 632.4h0M285.7 647.5h0M284.3 630.7h0M287.2 641.3h0M286.7 635.3h0M282.4 642.1h0M288.4 638.5h0M282.6 634h0M286.7 637.2h0M287.9 636.9h0M284.7 651.9h0M288.7 644.3h0M287.8 646.6h0M282.7 650.3h0M284.7 640.5h0" stroke="#ff0000" stroke-width="2.6" stroke-linecap="round" fill="none" opacity="0.58"/>
<line x1="286.1" y1="620" x2="286.1" y2="635.7" stroke="#ff0000" stroke-width="0.9"/>
<line x1="286.1" y1="649.7" x2="286.1" y2="659.9" stroke="#ff0000" stroke-width="0.9"/>
<rect x="282" y="635.7" width="8.2" height="14" fill="#fff" stroke="#ff0000" stroke-width="0.9" fill-opacity="0.32"/>
<line x1="282" y1="642.2" x2="290.2" y2="642.2" stroke="#ff0000" stroke-width="1.4"/>
<path d="M300 670h0M293.7 681.3h0M298.6 686.5h0M294.1 676h0M296.5 686.4h0M296.9 674.7h0M298.4 684h0M299.4 680.4h0M298.8 676.7h0M299.4 680h0M297.9 683.4h0M298.9 674.2h0M294.4 672.2h0M300.6 672.8h0" stroke="#ff0000" stroke-width="2.6" stroke-linecap="round" fill="none" opacity="0.58"/>
<path d="M298.8 663h0M299.3 669.8h0M293.6 688.8h0M299.6 671.4h0M298.6 676.4h0M293.9 666.8h0M298.3 682.9h0M300.2 684.5h0M300.3 666.1h0M297.6 672h0M299.3 698.1h0M295 677.1h0M298.3 678.9h0M298.9 675.6h0" stroke="#ff0000" stroke-width="2.6" stroke-linecap="round" fill="none" opacity="0.58"/>
<path d="M297.2 688h0M297.6 675.4h0M295 682.5h0M294.1 675.9h0M298.6 682.3h0M296.1 679.4h0M293.6 677.9h0M297.6 679h0M297.1 677.5h0M298 667.5h0M297.1 669.1h0M294.4 670.9h0M294.9 673.8h0M299.6 673.5h0" stroke="#ff0000" stroke-width="2.6" stroke-linecap="round" fill="none" opacity="0.58"/>
<path d="M297.8 663.4h0M296.4 674.9h0M298 674h0M295.3 643.2h0M299.9 712h0M294.4 661.3h0M295.5 680.4h0M300.1 678.5h0M292.9 674.4h0M298.3 668.8h0M295.3 675.2h0M293.7 673.2h0M298.1 687.6h0" stroke="#ff0000" stroke-width="2.6" stroke-linecap="round" fill="none" opacity="0.58"/>
<path d="M295.2 685.6h0M295.4 668.2h0M300.1 671.6h0M293.8 693.8h0M292.9 685h0M298.5 657.5h0M296.5 664.9h0M299.2 690.3h0M296.9 678.1h0M296.2 692.2h0M300.2 672.5h0M297.2 681.8h0M300.3 681h0" stroke="#ff0000" stroke-width="2.6" stroke-linecap="round" fill="none" opacity="0.58"/>
<line x1="296.7" y1="656.2" x2="296.7" y2="672" stroke="#ff0000" stroke-width="0.9"/>
<line x1="296.7" y1="682.2" x2="296.7" y2="698" stroke="#ff0000" stroke-width="0.9"/>
<rect x="292.6" y="672" width="8.2" height="10.2" fill="#fff" stroke="#ff0000" stroke-width="0.9" fill-opacity="0.32"/>
<line x1="292.6" y1="676.2" x2="300.8" y2="676.2" stroke="#ff0000" stroke-width="1.4"/>
<path d="M310.9 680.7h0M304 682.5h0M306.3 679.6h0M303.8 677.7h0M303.8 682.2h0" stroke="#0000ff" stroke-width="2.6" stroke-linecap="round" fill="none" opacity="0.58"/>
<path d="M307 679h0M309.1 693h0M308.5 684.3h0M305.8 678h0M311.1 681.8h0" stroke="#0000ff" stroke-width="2.6" stroke-linecap="round" fill="none" opacity="0.58"/>
<path d="M310.3 685.2h0M304.7 679.4h0M310.2 683.5h0M305 686.6h0M305.9 677.1h0" stroke="#0000ff" stroke-width="2.6" stroke-linecap="round" fill="none" opacity="0.58"/>
<path d="M308.8 682.9h0M303.7 677.5h0M307.6 678.4h0M306.5 681.1h0M304.3 680h0" stroke="#0000ff" stroke-width="2.6" stroke-linecap="round" fill="none" opacity="0.58"/>
<path d="M308.4 676.8h0M310.2 680.4h0M308.5 677.9h0M309.2 677.3h0M310.1 688.7h0" stroke="#0000ff" stroke-width="2.6" stroke-linecap="round" fill="none" opacity="0.58"/>
<line x1="307.3" y1="676.6" x2="307.3" y2="678" stroke="#0000ff" stroke-width="0.8"/>
<line x1="307.3" y1="683.1" x2="307.3" y2="690.5" stroke="#0000ff" stroke-width="0.8"/>
<rect x="303.2" y="678" width="8.2" height="5.1" fill="#fff" stroke="#0000ff" stroke-width="0.8" fill-opacity="0.4"/>
<line x1="303.2" y1="680.3" x2="311.4" y2="680.3" stroke="#0000ff" stroke-width="1.4"/>
<path d="M320.8 654.4h0M314.4 690.5h0M321 691.3h0M320.2 664.2h0M316.9 676.1h0M316.3 673.4h0M314.4 653.8h0M315.7 675.8h0M317.9 672.9h0M315.7 670.3h0M321 664.8h0M320.4 702.5h0M315.5 680.2h0M318.7 690.1h0M315.4 690.5h0M318.9 661.7h0M317 660.2h0M320.1 674.4h0M321.5 666.2h0M318 656.6h0M321.7 664.7h0M318.3 681.2h0M317.8 666.7h0M317.7 666.9h0M315 687.8h0M318.6 691.1h0M315.3 688h0M321.1 683.5h0M321 689.2h0M319.6 688h0M314.4 649.1h0M321.4 673.1h0M319.1 691.7h0M315.4 663.4h0M314.3 662.6h0M319.9 696.6h0M320.8 664.2h0M321.6 660.4h0M321.7 674.3h0M321.2 690.9h0M319.7 669.1h0M321.4 697h0M315 682h0M314.7 676.6h0M321.6 695h0M315.9 684.7h0M314.3 667.3h0M321.6 671.8h0M315.3 669.6h0M319.2 700.7h0M316.5 690.2h0M314.8 696.8h0M317.6 642.8h0M320.6 671.7h0M320.8 665.7h0M318.7 655.7h0M318.4 667.1h0M317.9 669.1h0M318.4 686.5h0M320.6 671.3h0M315.9 692.6h0M318.7 667h0M315.5 676.6h0M320.7 691.9h0M321.3 692.9h0M320.5 665.2h0M317.3 662.9h0M315.6 686.1h0M314.8 655.4h0M319.3 666.6h0M314.5 683.6h0M320 691.6h0M316.7 687.1h0M314.3 680.5h0M318.5 694.5h0M316.4 688.6h0M318.2 681.4h0M320.8 668.8h0M318.5 678.2h0M314.5 686.1h0M316.8 659.7h0M316.7 652.5h0M316.2 661.5h0M317.8 685.6h0M320.3 669h0M319.4 673.8h0M315.4 685.5h0M321.1 669.5h0" stroke="#ff0000" stroke-width="2.6" stroke-linecap="round" fill="none" opacity="0.58"/>
<path d="M315.7 677.6h0M317.6 682.5h0M320.2 697.9h0M317.3 670.5h0M314.1 675.5h0M319.4 693.7h0M321.2 675.4h0M315.9 690.3h0M319.7 675.6h0M319.7 665.1h0M316 689.4h0M320.5 662.7h0M321.6 696h0M317.1 672.1h0M316.7 664.3h0M321 687h0M314.8 675.2h0M315.7 666.4h0M321.2 693.5h0M316.1 674.7h0M315.3 680.3h0M320.1 658.7h0M315.7 678.1h0M316.6 681.7h0M315.5 670.9h0M319.6 685.1h0M319.3 682.5h0M318.7 680.7h0M315.6 683h0M316.8 675.5h0M321.3 673.3h0M320.6 646.5h0M314.1 674.2h0M319.3 640.9h0M314.9 681.8h0M314.4 691.4h0M321.3 682h0M314.3 668.7h0M316.5 648.1h0M318.1 674.6h0M318.8 684.9h0M320.8 676.8h0M316.9 689.1h0M316.6 660h0M314.9 682.7h0M317.1 691.6h0M314.9 689.9h0M315.7 662.2h0M318.2 675.6h0M319.7 660.9h0M316.8 645h0M316.6 680.1h0M319.7 680.7h0M317.6 670.2h0M318.1 679.7h0M315.5 663.3h0M316.8 684.5h0M317.9 672.5h0M320.1 692.7h0M314.7 673.1h0M321.3 675h0M315 670.1h0M315.4 649.8h0M315.6 683.8h0M320.4 690h0M321.3 687.4h0M321.3 658.1h0M318.4 676.4h0M315.9 680.9h0M319.6 651.7h0M321 664h0M314.3 690.7h0M315.1 693.1h0M315.3 670.8h0M319.3 670.9h0M319.7 661.9h0M316.8 682.9h0M314.5 696.1h0M315.3 668h0M316.8 650.2h0M321.3 693.2h0M321.5 682.2h0M316.3 667.9h0M316.1 684.4h0M316.1 655.1h0M318.7 671.8h0M316.3 693h0M315.3 679.6h0" stroke="#ff0000" stroke-width="2.6" stroke-linecap="round" fill="none" opacity="0.58"/>
<path d="M314.8 672.6h0M319.3 694.6h0M316.2 681.1h0M315.7 681.5h0M318.8 677.4h0M315.6 670.7h0M319.2 683.4h0M316.8 656.9h0M314.9 677.9h0M316.4 688.3h0M315 668.8h0M319.5 677.2h0M318.9 692.7h0M316.7 674.6h0M318.4 703.5h0M320.3 665.4h0M316.4 676.9h0M317.4 670.4h0M316.2 692.2h0M314.1 674.7h0M320.7 677.7h0M318.2 671.9h0M316 682.1h0M319.1 666.8h0M317.3 693.3h0M316.2 669.4h0M318.7 676.8h0M321.2 671.9h0M314.3 676.2h0M319.6 681.5h0M321.6 684.3h0M321.1 694.3h0M315.5 679.3h0M318.7 661.7h0M316.2 652.2h0M320.9 694.8h0M318.2 663h0M320.6 660.9h0M317.9 691.8h0M321.3 695.8h0M320 653.3h0M320.5 709h0M321.5 673.6h0M318.2 657.3h0M321.7 685.3h0M315.2 688.1h0M320.3 689.3h0M315.3 664.9h0M320.3 678.3h0M316.8 670.3h0M316 665.9h0M314.7 646h0M315 683.2h0M316 699.4h0M321.2 673.7h0M317.6 648h0M315.5 667.4h0M321.6 688.5h0M315.1 692.3h0M317.6 689.6h0M319.1 687.6h0M316.6 678.8h0M321.3 658.2h0M320.7 687.3h0M321.3 660.5h0M316.3 679h0M318 667.6h0M318.4 674h0M317.7 669.8h0M319.7 697.5h0M321.1 671.2h0M319.7 689.8h0M318.5 681h0M320.1 687.9h0M317.2 683.1h0M314.7 666.1h0M315.9 675h0M318.2 688.2h0M320.9 680.4h0M317.4 669.2h0M321 671h0M318 691.4h0M318.8 668.5h0M320.5 667.7h0M318.7 662.1h0M318 688.3h0M321.6 690.6h0M321.6 672.7h0" stroke="#ff0000" stroke-width="2.6" stroke-linecap="round" fill="none" opacity="0.58"/>
<path d="M320.3 677.6h0M320.6 679.1h0M319.3 668.4h0M316.1 686.8h0M321.4 685.9h0M315 672.8h0M318.7 674.8h0M317.2 698.5h0M319.9 671.5h0M317.2 665.3h0M314.3 700.4h0M318.2 679.8h0M316.9 670.7h0M318.9 663.8h0M315.9 679.2h0M320.2 669.8h0M314.6 688.3h0M315 671.1h0M314.6 676.3h0M318.8 684h0M316.5 663.8h0M317.8 692.5h0M314.8 667.5h0M316.7 671.4h0M319.3 691.1h0M319.7 683.4h0M318.4 689.5h0M314.1 672.6h0M318 660.6h0M314.5 685.8h0M316.9 654.1h0M321.1 678h0M318.4 686.4h0M315.9 672.4h0M316.1 687.9h0M318.2 688.1h0M315 689.2h0M320.5 675.1h0M320.4 684.8h0M318.2 673.8h0M318.1 674h0M320.3 678.4h0M315.3 675.7h0M318.9 673.9h0M315.5 677h0M320.8 674.2h0M317.6 686.8h0M319.2 689.6h0M319.8 663.5h0M314.8 682.4h0M316.3 684.8h0M319.3 678.6h0M319.4 694h0M319.9 666.3h0M315.5 683.9h0M314.9 672.8h0M316.9 679.4h0M314.6 690.8h0M316.9 688.4h0M316.6 688.5h0M321.3 675.9h0M315.6 671h0M319.2 688.6h0M317.1 687.7h0M317.1 672.2h0M320.4 695.4h0M318.4 692.3h0M317.3 667.7h0M314.7 688.8h0M319.5 695.6h0M320.1 668.1h0M319.3 636.8h0M316.7 675.3h0M321.1 659.3h0M318.5 689.7h0M321.6 685.1h0M319.9 668.6h0M321.6 690h0M319.2 659.8h0M318.1 693.8h0M319.3 657.6h0M318.8 651h0M316.5 669.2h0M314.8 659.4h0M319.6 674.4h0M315.5 662.3h0M318.9 694.2h0M318.4 668.1h0" stroke="#ff0000" stroke-width="2.6" stroke-linecap="round" fill="none" opacity="0.58"/>
<path d="M317.2 657.7h0M321.8 669.9h0M317.9 672h0M318.4 673.2h0M321.2 693.6h0M314.7 662.6h0M318.5 698.9h0M319.8 653.1h0M315.4 697.2h0M316.8 685.4h0M319.4 692h0M314.1 673.5h0M319.5 673h0M317.5 669.5h0M321.1 656h0M321.7 690.7h0M318 671.3h0M320.2 689h0M315.8 682.8h0M320.7 677.2h0M315.2 674.1h0M319 688.8h0M315.4 671.6h0M314.9 675.2h0M315.7 668.3h0M318.5 659.1h0M318.3 673.4h0M320.4 670.6h0M315.9 661.2h0M320.7 669.7h0M314.3 654.7h0M317.2 663.6h0M320.5 681.3h0M319.8 679.4h0M320.3 691.9h0M317.6 686.2h0M319 673.6h0M317.9 672.3h0M318.1 688.8h0M318.1 668.3h0M319.3 691.2h0M315.4 677.4h0M315.9 651.3h0M318.6 688.7h0M319.8 656.4h0M316.6 689.9h0M317.7 688.9h0M317.5 673.3h0M321.7 687.2h0M316.4 670h0M321.5 690.4h0M320.1 665.6h0M321.3 674.9h0M319.5 678.8h0M318.8 691h0M320.7 694.1h0M318.4 672.4h0M316.8 670.1h0M319.4 686.6h0M314.8 671.5h0M316.2 678.6h0M319.8 680h0M314.6 672.8h0M318.2 675.1h0M316 658.5h0M317.5 674.5h0M321.3 687.8h0M317.5 695.3h0M321.3 689.3h0M318.6 669.4h0M320.4 677.9h0M321.7 668.7h0M318.6 656.2h0M316.5 657.3h0M316.8 676.1h0M315.9 672.2h0M321.2 689.4h0M320.8 661.3h0M317.5 664.4h0M315.5 664.6h0M319.1 666.8h0M318.4 689h0M317.8 690.1h0M321 658.9h0M315.7 665.9h0M320.4 679.9h0M317.8 684.2h0M314.9 665.5h0" stroke="#ff0000" stroke-width="2.6" stroke-linecap="round" fill="none" opacity="0.58"/>
<line x1="317.9" y1="643.2" x2="317.9" y2="668.2" stroke="#ff0000" stroke-width="0.9"/>
<line x1="317.9" y1="687.7" x2="317.9" y2="700.7" stroke="#ff0000" stroke-width="0.9"/>
<rect x="313.8" y="668.2" width="8.2" height="19.5" fill="#fff" stroke="#ff0000" stroke-width="0.9" fill-opacity="0.32"/>
<line x1="313.8" y1="675.7" x2="322" y2="675.7" stroke="#ff0000" stroke-width="1.4"/>
<path d="M324.9 681.7h0M327.2 680.9h0M326 686.9h0M327.7 687.9h0M325 682.9h0M330.6 688.6h0M324.9 687.6h0M331.9 686h0M328.8 685.7h0M326.5 687h0M329.9 690.1h0M325.5 671.6h0M332.1 678.8h0M324.9 689.2h0M325.2 683.2h0" stroke="#0000ff" stroke-width="2.6" stroke-linecap="round" fill="none" opacity="0.58"/>
<path d="M329.6 681.9h0M331.9 693.2h0M330.3 675.1h0M324.8 679.5h0M328.8 678.1h0M326.5 686.2h0M325.4 685.1h0M324.8 684.7h0M328.5 679.9h0M331 691.4h0M324.6 677.7h0M328.3 685.5h0M326.6 687.3h0M331.3 683.2h0M330.1 689.4h0" stroke="#0000ff" stroke-width="2.6" stroke-linecap="round" fill="none" opacity="0.58"/>
<path d="M327.1 684.5h0M324.9 697.2h0M330.6 683.9h0M325.3 685.2h0M329.6 683.6h0M328.1 688.2h0M328.6 675.8h0M331.4 684.2h0M329.3 692.8h0M325.2 690.6h0M330.6 686.5h0M330 676.9h0M326.9 685.9h0M327.7 682.2h0" stroke="#0000ff" stroke-width="2.6" stroke-linecap="round" fill="none" opacity="0.58"/>
<path d="M331.8 690.4h0M331.8 684.1h0M329.8 680.6h0M327.2 680.2h0M328.4 681.3h0M326.7 686.6h0M325.8 681.4h0M325.3 675.8h0M327.3 677.3h0M325.3 694.1h0M328.5 683.4h0M329.5 682.7h0M325 688.1h0M328.8 679.8h0" stroke="#0000ff" stroke-width="2.6" stroke-linecap="round" fill="none" opacity="0.58"/>
<path d="M328.3 681.1h0M331 679.1h0M324.9 682.3h0M326.2 691.3h0M326.3 688.9h0M324.7 682.5h0M327.4 672.8h0M328.6 678.4h0M326.3 673.6h0M325.3 680.5h0M325 676.8h0M325.1 689.5h0M325 684.9h0M326 692h0" stroke="#0000ff" stroke-width="2.6" stroke-linecap="round" fill="none" opacity="0.58"/>
<line x1="328.5" y1="670.1" x2="328.5" y2="680.3" stroke="#0000ff" stroke-width="0.8"/>
<line x1="328.5" y1="687.7" x2="328.5" y2="697" stroke="#0000ff" stroke-width="0.8"/>
<rect x="324.4" y="680.3" width="8.2" height="7.4" fill="#fff" stroke="#0000ff" stroke-width="0.8" fill-opacity="0.4"/>
<line x1="324.4" y1="684" x2="332.6" y2="684" stroke="#0000ff" stroke-width="1.4"/>
<path d="M336.2 682.8h0M339.8 679.1h0M339.6 663.6h0M339.2 674.4h0M339.5 672.1h0M337 678.3h0M336.4 679h0M339.6 666.2h0M336.5 669.3h0M340.1 665.5h0M340.9 672.6h0M336.8 657.5h0M341.8 671.9h0M340.6 659.7h0M342.3 677.8h0M339.8 673.5h0M339 672.5h0M336.2 666.7h0M342.7 658.5h0M341.8 678.1h0M340.1 663.8h0M342.2 678.8h0M341.2 661.6h0M340.6 669.5h0M340.4 673.3h0M337.1 673.8h0M342.4 664.7h0M340.1 665h0M336.8 676.9h0M340.7 684.9h0M342.4 686.7h0M341.6 680.9h0M337.8 662.6h0M337.1 653h0M336.5 676.2h0M335.5 680.4h0M341.9 690.9h0M342 677.6h0M339.1 670.7h0M338.5 673h0M340.9 671.6h0M340 670.2h0M340.2 653.7h0M340.1 670.8h0M341.8 674.8h0M341.3 681.5h0M338.5 682.5h0M342.9 669.6h0M338.3 676.3h0M335.6 658.8h0M337.9 664.3h0M339 668.7h0M341.8 666.6h0M342.5 661.5h0M342 679.5h0M337.4 668.1h0M339.3 662.9h0M336.7 660.2h0M337.3 675.5h0" stroke="#ff0000" stroke-width="2.6" stroke-linecap="round" fill="none" opacity="0.58"/>
<path d="M336.1 664.4h0M336.5 665.8h0M338.9 664.7h0M336.2 674.6h0M341.5 676h0M341.4 677.6h0M339.5 686.3h0M342.7 668.1h0M335.9 667.9h0M341.9 669.8h0M336.6 657.1h0M337.6 683.7h0M338.1 668.4h0M339.4 677.3h0M341 666.6h0M336.8 687.8h0M337.7 673.7h0M338.8 663.7h0M340.7 678.6h0M341.5 668.5h0M339.4 672h0M337.4 663.4h0M338.5 661.2h0M340.5 678.4h0M342.2 671.5h0M337.8 673.6h0M341.8 668.9h0M341.5 679.4h0M342.9 670.3h0M342.5 670.1h0M336.2 687.1h0M338.1 672h0M341.8 665.1h0M336.7 669.1h0M337 674.1h0M338.8 656.7h0M340.5 663.9h0M340.8 672.2h0M341.6 679.9h0M340.2 684.2h0M340.2 667.4h0M337.4 679.7h0M339.5 656.3h0M341.8 668.2h0M336.8 682.1h0M340 664.2h0M342.2 655.3h0M342.1 660h0M338.7 683.5h0M341.3 661.8h0M336.8 674.4h0M336.9 669.1h0M339.8 676.6h0M338.9 660.1h0M342.4 656.1h0M342.8 676.7h0M341.7 680.2h0M336.6 660.9h0" stroke="#ff0000" stroke-width="2.6" stroke-linecap="round" fill="none" opacity="0.58"/>
<path d="M338.4 681.6h0M336.6 678.2h0M339.1 657.5h0M342.7 669.6h0M338.2 667.6h0M335.9 662.4h0M342.3 681.7h0M341.9 667.5h0M338.2 662.2h0M341.2 664.9h0M338.3 670.4h0M339 673.1h0M339.8 659.4h0M342.7 666.9h0M336.2 661.2h0M338 669h0M336.7 667.2h0M337.8 671.6h0M338.9 660.5h0M341 683.2h0M342.7 671h0M340 674.2h0M336.6 682.2h0M342.5 665.2h0M337.9 670.7h0M336.1 669.7h0M340.7 659h0M342.8 659.8h0M341.8 678.9h0M339.7 674.9h0M335.3 666.1h0M339.4 664.8h0M340.1 668.3h0M336.1 671.1h0M339.6 661.9h0M337.7 677.2h0M340.5 675.5h0M337.1 684.5h0M341.3 668.6h0M338.2 666.2h0M341.9 675.4h0M335.7 667.8h0M338.8 669.4h0M339.2 667.2h0M338.3 657.9h0M336.3 668.8h0M339 685.8h0M337.1 671.3h0M338.1 680.7h0M337.7 678.3h0M338.6 668.6h0M341.3 671.2h0M340.6 694.4h0M342.3 673.5h0M338 681.2h0M336.1 662.2h0M340.9 662.5h0M340.7 677.1h0" stroke="#ff0000" stroke-width="2.6" stroke-linecap="round" fill="none" opacity="0.58"/>
<path d="M341.7 676.4h0M339.2 675h0M337.8 655h0M341.8 675.3h0M342.8 669.9h0M342.9 661h0M340.7 663.3h0M335.7 674.7h0M340.7 677.5h0M339.5 665.9h0M340 678.7h0M341.5 672.8h0M337.4 652.5h0M338.3 689.9h0M336.2 664.5h0M339.2 671.4h0M342.7 665.4h0M342.5 660.8h0M342.2 640h0M336.5 675.9h0M341.3 682.3h0M339 664.5h0M341.9 685.1h0M338.8 658.4h0M340.8 679.8h0M339.6 680.3h0M339.7 681.8h0M337.2 673.2h0M337.6 660.4h0M336.4 666.9h0M341.6 676.8h0M340.5 669.3h0M335.5 679.3h0M341.7 668.7h0M340 672.9h0M342 668.4h0M342.8 678h0M340.4 664.1h0M342.8 666.8h0M336.8 682.7h0M339.9 677.9h0M337 683.3h0M338.9 687.2h0M340.5 672.4h0M335.4 665.8h0M335.4 680.1h0M335.2 665.8h0M341.7 672.5h0M340.2 666.4h0M342.6 662.8h0M339.9 666.3h0M338.2 670h0M340.1 678.6h0M342.2 681.3h0M337.5 667.5h0M335.6 675.8h0M339.2 667.1h0M339.6 663.9h0" stroke="#ff0000" stroke-width="2.6" stroke-linecap="round" fill="none" opacity="0.58"/>
<path d="M336.7 679.2h0M338.5 676.4h0M337.9 662.1h0M340.2 650.1h0M340.7 667.7h0M337.3 670h0M337 659.1h0M339.6 700.7h0M339.1 667h0M338.6 671.8h0M338.9 669.7h0M340.8 685.5h0M336.5 670.2h0M342 677.8h0M338.2 674h0M343 669.2h0M340.9 666h0M340 681.1h0M340.5 665.6h0M336.2 664.1h0M340.8 666.8h0M336.8 661.4h0M342.6 684.6h0M338.9 679.8h0M338.8 675.1h0M341 659.2h0M339.7 674.9h0M336.9 663.1h0M336.5 679.5h0M339.6 677.2h0M336.2 655.6h0M336 683.9h0M341.2 654.4h0M335.6 665.3h0M342.7 672.8h0M338 662.6h0M342.9 667.3h0M340.1 665.3h0M335.2 674h0M341 670.9h0M338.6 666.5h0M340.3 668h0M340.2 669h0M340.1 680.6h0M339.6 678.4h0M342.2 658h0M336.7 683h0M342.9 652h0M339.8 675.7h0M337.2 665.4h0M342.5 667.8h0M338 688.7h0M338.6 663.1h0M337.6 663.2h0M339.7 680.5h0M342.4 681h0M341 670.5h0M341.3 668h0" stroke="#ff0000" stroke-width="2.6" stroke-linecap="round" fill="none" opacity="0.58"/>
<line x1="339.1" y1="650.6" x2="339.1" y2="665" stroke="#ff0000" stroke-width="0.9"/>
<line x1="339.1" y1="677.5" x2="339.1" y2="690.5" stroke="#ff0000" stroke-width="0.9"/>
<rect x="335" y="665" width="8.2" height="12.5" fill="#fff" stroke="#ff0000" stroke-width="0.9" fill-opacity="0.32"/>
<line x1="335" y1="670.1" x2="343.2" y2="670.1" stroke="#ff0000" stroke-width="1.4"/>
<path d="M347.1 677.1h0M346.1 671.5h0M350.7 679.7h0M349.4 690.2h0M346.3 684.3h0M352 683.2h0M352.3 682.6h0" stroke="#0000ff" stroke-width="2.6" stroke-linecap="round" fill="none" opacity="0.58"/>
<path d="M353.1 686h0M346.3 694.6h0M350.6 682.9h0M350.8 687.1h0M351.1 691.3h0M353 676.7h0M351.4 689.4h0" stroke="#0000ff" stroke-width="2.6" stroke-linecap="round" fill="none" opacity="0.58"/>
<path d="M347 680.6h0M348.5 684.6h0M351.9 681.9h0M348 693.5h0M348.5 685.5h0M350.4 684h0" stroke="#0000ff" stroke-width="2.6" stroke-linecap="round" fill="none" opacity="0.58"/>
<path d="M349.4 686.2h0M347.8 687.7h0M347.6 681h0M350.2 688.1h0M352.9 678.5h0M353.2 696.9h0" stroke="#0000ff" stroke-width="2.6" stroke-linecap="round" fill="none" opacity="0.58"/>
<path d="M353.1 678.9h0M348.4 675.9h0M348.2 674h0M352.8 664h0M346.6 681.6h0M351.8 680h0" stroke="#0000ff" stroke-width="2.6" stroke-linecap="round" fill="none" opacity="0.58"/>
<line x1="349.7" y1="670.1" x2="349.7" y2="679.4" stroke="#0000ff" stroke-width="0.8"/>
<line x1="349.7" y1="687.2" x2="349.7" y2="698" stroke="#0000ff" stroke-width="0.8"/>
<rect x="345.6" y="679.4" width="8.2" height="7.8" fill="#fff" stroke="#0000ff" stroke-width="0.8" fill-opacity="0.4"/>
<line x1="345.6" y1="683.1" x2="353.8" y2="683.1" stroke="#0000ff" stroke-width="1.4"/>
<path d="M357.7 666.1h0M362.4 678.6h0M363.2 691.4h0M361.9 661.8h0M361.2 685.2h0M361.7 686.1h0M361 669.2h0M356.9 686.6h0M362.9 696.9h0M357.9 684.7h0M357.1 679.5h0M358.1 687.9h0M358.9 683.7h0M359.9 688.4h0M360 684.3h0M357.7 679.3h0M364.1 676.1h0M360.1 667.3h0M362 675.4h0M358.6 676.5h0M362.5 672.8h0M362.3 691.9h0M363.9 671.2h0M363.8 678.2h0M362.5 677.9h0M357.2 674h0M359.9 693.7h0M364.1 670.7h0M358 672.4h0M363.3 681.1h0M362.1 678h0M356.8 674.6h0M363.2 675.1h0M361.4 678.5h0M363.8 683.1h0" stroke="#ff0000" stroke-width="2.6" stroke-linecap="round" fill="none" opacity="0.58"/>
<path d="M360.1 674.8h0M359 681.6h0M360.9 672.7h0M359.3 673.6h0M362.7 672.3h0M362.7 679.9h0M361.6 679h0M362.5 681.3h0M358.4 687.4h0M362.2 682.9h0M364 680.5h0M358.1 680.9h0M364.1 677.1h0M358 671.1h0M362.8 685.1h0M358.4 692.8h0M358.7 684.6h0M363 686.4h0M361.4 664h0M356.9 689.4h0M362.3 685h0M359.6 678.8h0M358.2 683.7h0M362.3 678.1h0M359.7 682h0M357.4 691.5h0M356.9 676.7h0M359.5 675h0M361.3 680.2h0M357.1 698.4h0M360.1 695h0M357.6 669.8h0M358.7 673.2h0M360.7 677.2h0M363.4 686.1h0" stroke="#ff0000" stroke-width="2.6" stroke-linecap="round" fill="none" opacity="0.58"/>
<path d="M360.9 690h0M361.9 681.2h0M361.8 682.3h0M358.3 682.7h0M360.7 688.7h0M356.9 683.8h0M361.7 712.8h0M362.9 677.4h0M364.2 690.6h0M363.8 679.2h0M356.5 676.9h0M363.9 678.9h0M357.9 665.1h0M358.3 668.1h0M363.1 671.4h0M356.4 676.7h0M357 687h0M360.5 675.6h0M361 685.9h0M360.2 680.8h0M357.3 668.8h0M361.5 693.8h0M357.5 684h0M358 681.5h0M359.7 676.4h0M363.5 680.8h0M358.7 683.2h0M363.9 680.1h0M359.5 701.1h0M359.8 691.2h0M356.4 671.9h0M357 680.4h0M356.5 680h0M364 683.4h0M363 687.2h0" stroke="#ff0000" stroke-width="2.6" stroke-linecap="round" fill="none" opacity="0.58"/>
<path d="M363.2 674.1h0M356.5 678.3h0M361.4 677.6h0M361.7 673.1h0M357.8 679.7h0M362 688.1h0M363.3 679.2h0M360.6 686.8h0M360.6 666.6h0M357.3 675.3h0M361.7 681.8h0M361.6 673.4h0M357.7 679.6h0M360.5 674.4h0M360.6 680h0M358.6 682.8h0M359.1 679.4h0M361 677.5h0M363.1 683.4h0M359.2 673.7h0M358.5 677.8h0M358.5 684.5h0M361.1 679.8h0M362.6 682.6h0M363.2 675.6h0M361.6 671.8h0M359.3 681h0M360.1 676.8h0M360.4 676.2h0M357.7 675.9h0M359.9 677.4h0M357.6 682.1h0M357.8 695.8h0M363.7 692.4h0M359.7 677.1h0" stroke="#ff0000" stroke-width="2.6" stroke-linecap="round" fill="none" opacity="0.58"/>
<path d="M363.4 681.4h0M360.1 689.1h0M360.1 676.4h0M357.7 684.1h0M362.1 670.5h0M357.1 678.9h0M360.5 683.6h0M358.5 688.2h0M363.8 680.6h0M359.6 674.3h0M357.5 682.3h0M361 690.6h0M358.9 689.7h0M360.1 678.6h0M358.2 675.9h0M362.1 685.7h0M358.9 685.6h0M358.7 684.2h0M360.2 688.9h0M361.7 680.3h0M359.3 684.8h0M357.5 685.4h0M359.4 678h0M360 678.7h0M359.6 681.8h0M358 687.6h0M358.7 682.9h0M361.6 694.5h0M359.4 682.1h0M364.1 690h0M358.5 682.4h0M363.2 670h0M360.2 668.7h0M363.5 687h0" stroke="#ff0000" stroke-width="2.6" stroke-linecap="round" fill="none" opacity="0.58"/>
<line x1="360.3" y1="662.7" x2="360.3" y2="676.2" stroke="#ff0000" stroke-width="0.9"/>
<line x1="360.3" y1="685" x2="360.3" y2="699.8" stroke="#ff0000" stroke-width="0.9"/>
<rect x="356.2" y="676.2" width="8.2" height="8.8" fill="#fff" stroke="#ff0000" stroke-width="0.9" fill-opacity="0.32"/>
<line x1="356.2" y1="680.3" x2="364.4" y2="680.3" stroke="#ff0000" stroke-width="1.4"/>
<path d="M370 688.3h0M374.3 721.1h0M367.8 727.4h0M369.7 719.2h0M373.1 713.2h0M368.4 726.2h0M369.6 733.9h0M374.7 742.6h0M368.7 713h0M368.1 715.3h0M369.1 734.2h0M373.2 730.5h0M370.5 700.6h0M371.5 729.6h0M373.8 722.3h0M373.5 731.8h0M369.7 726h0M373.3 727.7h0M367 732.5h0M369 738.2h0M373.4 731.9h0M369.6 742.2h0M371.5 746.3h0M374.4 715.9h0M372.7 722.8h0M368.9 718.5h0M369.5 717.1h0M368.5 744.6h0M373.6 711.6h0M370.8 715.2h0M372.8 696.1h0M374.4 738.4h0M368.5 761h0M373 714.8h0M371.7 727.5h0M368.6 712.4h0M370.9 729.1h0M372.5 721.3h0M369.2 707.5h0M373.1 711.8h0M369.2 706.8h0M371.5 698.1h0M370.6 720.6h0M373.6 697.3h0M370.9 724.1h0M371 752.5h0M367.2 730.2h0M370.5 722.3h0M374.2 721.4h0M370.3 708.9h0M373.2 722.9h0M372.1 724.2h0M372.2 707.6h0M370.1 697.8h0M370.2 696h0M372 723.3h0M369.6 704.6h0M367.8 736.1h0M373.4 702.3h0M372.7 731.8h0M367.9 723h0M373.6 701.9h0M368.3 732.1h0M367.4 743.3h0M367.7 710.4h0M367.8 733.2h0M368.3 732.7h0M367.6 728.1h0M374.6 713.9h0M368.9 730h0M373.1 730.9h0M372.9 723.8h0M374.3 684.1h0M373.9 713.8h0M367.4 733h0M367.8 738.7h0M368.9 723.1h0M374.7 722.5h0M369.3 717.2h0M372.8 704.5h0M373.4 728.6h0M371.7 717.1h0M369.6 712.5h0M367.7 685.6h0M373.5 735.5h0M371.5 705.5h0" stroke="#ff0000" stroke-width="2.6" stroke-linecap="round" fill="none" opacity="0.58"/>
<path d="M374.2 747.5h0M369.9 728.9h0M373.4 726.7h0M368.5 731.5h0M371.7 672.4h0M374.8 726.9h0M374.4 725.5h0M374.6 726.4h0M372.2 704.8h0M372.4 735.8h0M367.7 713.2h0M368.5 718.6h0M367.3 724.6h0M370.5 717.3h0M368.1 745.4h0M373.3 724.8h0M372.2 724.9h0M372.1 735.3h0M372.9 732.3h0M372.8 747.1h0M374.6 695.5h0M368.1 727h0M374.6 722.7h0M367.1 698.9h0M372.4 718.8h0M371 720.7h0M367.5 705.1h0M370.3 719.1h0M368.3 687.1h0M369.6 726.5h0M373.3 743h0M370.9 739.7h0M368.3 716h0M367.7 707.3h0M369.9 739h0M373 729.1h0M372.7 744h0M371.6 726.3h0M367.7 733.7h0M367.6 717.4h0M372.6 714.5h0M369.8 721h0M367.4 703.3h0M367.3 715.6h0M373.7 716.6h0M373.9 697.7h0M371.8 748.2h0M374.6 746.7h0M373.2 706.3h0M372.6 727.9h0M370.5 737.8h0M369.4 726.1h0M368.3 691.6h0M367.3 740.8h0M373.4 689.9h0M372.7 727.9h0M373.3 715h0M371.2 725h0M370.7 679.3h0M370.6 716.8h0M373.9 709.8h0M368 720.4h0M374.6 710.8h0M372.8 728.9h0M367.2 725.3h0M371.2 719.7h0M373.4 699.1h0M372.1 721.6h0M371.2 728.4h0M370.7 706h0M370.3 728.6h0M368.1 720.4h0M374 722h0M370.5 706.7h0M370 720.1h0M369.2 729.2h0M373.3 720.8h0M368.9 740.2h0M374.1 743.5h0M370 717.9h0M367.6 729.9h0M368.9 716.2h0M367.6 705.8h0M369 731.2h0M371.2 714.4h0M372.4 730.3h0" stroke="#ff0000" stroke-width="2.6" stroke-linecap="round" fill="none" opacity="0.58"/>
<path d="M371.9 705.2h0M373.9 717.9h0M368.3 737.3h0M372.5 744.7h0M367.6 727.2h0M371 740.9h0M372.2 735.4h0M367.9 737.4h0M369.8 690.9h0M368.1 755.4h0M367.8 730.6h0M373.7 734.7h0M367.8 712.1h0M374.3 740.7h0M371.4 734.4h0M370.3 689.1h0M374.6 727.1h0M370.7 739.1h0M371.6 711h0M369.9 733.8h0M370.8 713.5h0M372.1 716.4h0M367 727.8h0M371.2 735.9h0M367.8 703.6h0M371.1 727.4h0M369.4 718.1h0M369.5 728.5h0M368.5 741.5h0M368.7 724.1h0M374.4 720.3h0M368.6 719.7h0M370.2 721.4h0M369 714.3h0M370.5 737.9h0M372.4 693.9h0M368.7 733.6h0M369.3 712.8h0M373.2 745.5h0M370.7 731.5h0M372.6 725.1h0M372.2 699.8h0M372.3 720.1h0M370.6 722.1h0M371.3 740h0M373.1 725.9h0M374.4 731.4h0M369.8 751h0M373.9 754h0M373.7 738.5h0M367.9 701.4h0M373.4 719.1h0M374.2 733.4h0M368.8 734.6h0M374.7 729.4h0M371.8 737h0M372.9 725.2h0M368 740.3h0M367.9 720.9h0M374.1 708.2h0M374.6 714.8h0M373.2 725.6h0M374 732.5h0M369.8 675.6h0M368 731h0M371.5 738.3h0M374.1 741.3h0M374.3 693.6h0M370.8 713.5h0M371 736.9h0M369.1 728.4h0M369.6 741.6h0M369 736.4h0M370.6 723.9h0M370.1 721.2h0M371.7 724.5h0M370.7 755.1h0M368.2 736.9h0M368.8 719h0M374.2 732.8h0M374 724.6h0M372 710.1h0M369.7 734h0M368.6 714h0M373.5 682.7h0M367.9 708.4h0" stroke="#ff0000" stroke-width="2.6" stroke-linecap="round" fill="none" opacity="0.58"/>
<path d="M370.9 724.4h0M371.4 729.3h0M370.8 723.6h0M373.7 712.7h0M368.3 729.8h0M373.9 736.7h0M372.7 717.5h0M367.2 730.7h0M369.7 725.7h0M369.8 704.3h0M373.3 730.1h0M372.6 718.7h0M369.1 733.3h0M369.6 711.3h0M373.1 666.3h0M370.4 728.7h0M368 726.1h0M371.3 722.6h0M368.3 700.3h0M374.2 694.5h0M368.5 727.3h0M372.6 724.3h0M374.3 710.7h0M372.6 710.4h0M373.8 730.4h0M373.6 729.2h0M371.6 728h0M370.6 733.4h0M374.6 683.6h0M369.8 719.9h0M374.4 703.7h0M374.6 709.7h0M369 714.1h0M370.2 743.9h0M370.7 692.7h0M368.3 680h0M370 757.8h0M367.5 739.5h0M371.4 731.2h0M369.2 727.6h0M369.6 689.4h0M368.2 700.9h0M367.4 726.5h0M369.1 735.1h0M369.2 735.6h0M368.4 749.5h0M368.7 732.4h0M368.4 730.8h0M367.1 740.5h0M367.3 732.7h0M369 723.5h0M372.6 709.5h0M369.7 731.4h0M372.4 718.9h0M372.2 741.7h0M368.1 732.2h0M371.6 718.3h0M368.2 734.9h0M368.2 724.4h0M370.5 716.9h0M374.7 709.2h0M370.9 729.7h0M368 734.3h0M369 736h0M372.9 677.9h0M367.5 708.7h0M372 723.5h0M367.7 704.1h0M371.6 714.6h0M368.1 717.8h0M373.6 723.2h0M368.4 722.1h0M369.3 706.1h0M373.5 726.8h0M372.6 730.3h0M367.8 699.3h0M368.5 727.7h0M370.9 725.8h0M372.7 710h0M370.8 719.3h0M374 700h0M369.8 736.2h0M373.4 724h0M368.7 725.4h0M372 708h0M367.4 701.6h0" stroke="#ff0000" stroke-width="2.6" stroke-linecap="round" fill="none" opacity="0.58"/>
<path d="M369.1 713.7h0M372.5 726.7h0M371.5 736.4h0M367.2 745.1h0M371.5 737.2h0M374.3 701.1h0M370.6 716.3h0M373.8 732h0M369.9 728.2h0M369.7 745.9h0M371.3 721.6h0M368.2 728.8h0M374.7 742h0M368.3 748.9h0M367.9 731.6h0M373.4 707.7h0M373.9 717.6h0M370.6 719.6h0M371.6 694.2h0M369.6 715h0M370.3 739.6h0M374.4 695.1h0M367.5 721.7h0M371.3 729.5h0M373 719.9h0M372.5 718.3h0M368.1 718.2h0M369.5 702.8h0M372 686.3h0M369.7 739.3h0M369.7 734h0M368.1 708.4h0M368 742.4h0M373.8 696.9h0M371 733.1h0M371.3 737.6h0M367.8 696.4h0M374.7 735.2h0M367.4 692.8h0M367.6 730.6h0M370.6 692.1h0M372.6 734.8h0M369.4 743h0M369.4 725.6h0M371.1 725.1h0M369.8 716.5h0M372.4 750.7h0M369.7 698.5h0M374.5 725.4h0M374.3 738h0M374.5 726h0M369.9 723.7h0M367 715.3h0M371.8 733h0M370.5 687.4h0M372.9 736.5h0M374.3 715.7h0M368.9 726.6h0M367.2 731h0M370.5 724.8h0M373.4 729.6h0M367.5 690.7h0M373.2 713h0M367.3 702.1h0M373.6 748.8h0M370.4 702.6h0M369 711.2h0M373.6 728.3h0M373.9 724.9h0M367.8 722.7h0M373 711.6h0M371.6 735h0M373.8 681.8h0M369.5 727.2h0M371.4 738.8h0M367.3 734.5h0M372.4 707h0M369 715.5h0M368.5 716h0M374.6 703.1h0M369.9 663.3h0M370.7 719.5h0M374.8 712.1h0M373.7 721.8h0M372.6 716.6h0M368.2 709h0" stroke="#ff0000" stroke-width="2.6" stroke-linecap="round" fill="none" opacity="0.58"/>
<line x1="370.9" y1="672.9" x2="370.9" y2="712.8" stroke="#ff0000" stroke-width="0.9"/>
<line x1="370.9" y1="732.3" x2="370.9" y2="754.6" stroke="#ff0000" stroke-width="0.9"/>
<rect x="366.8" y="712.8" width="8.2" height="19.5" fill="#fff" stroke="#ff0000" stroke-width="0.9" fill-opacity="0.32"/>
<line x1="366.8" y1="724" x2="375" y2="724" stroke="#ff0000" stroke-width="1.4"/>
<path d="M382 681.4h0M381.6 684.1h0M378.6 681h0M383.5 705.9h0M382.9 698.6h0M382.5 687.8h0M384.4 668.2h0M383.9 688.3h0M382.1 682h0M379.1 697.3h0M380.6 705.1h0M385.1 641h0M380.2 672.6h0M377.6 708.9h0M382.8 700.4h0M383.2 707.1h0M382 699.7h0M380 678.8h0M381.7 692.1h0M382.8 698.7h0M385.3 714.6h0M377.9 686.2h0M381.5 677.9h0M378.3 685.2h0M378.8 695.5h0M380.2 680.8h0M380.2 679.2h0M384.1 690.5h0M379.9 675.8h0M384.3 677.4h0M381.9 717.8h0M382.7 713.8h0M377.9 704.6h0M383.3 693.8h0M380.3 711.1h0M378.3 683.9h0M382.4 702.1h0M378.6 682.6h0M379 692h0M381 675.1h0M377.7 677.6h0M381.7 691.1h0M384.9 686.4h0M383.7 706.9h0M380.6 696.7h0M383.9 675.4h0M382.1 689.8h0M378.5 684.6h0M378.1 690.5h0M378 689.5h0M384 703.3h0M380.7 692.3h0M384 701h0M385.1 719.1h0M381.1 689.6h0M383.3 690.3h0M383.1 700h0M384.6 678.5h0M385.2 695.1h0M379.4 707.5h0M381.4 705.8h0M379.4 704.4h0M382 702h0M378.2 671.4h0M381.7 705.5h0M379.9 683.1h0M382.7 707.6h0M383.8 721h0M382.9 702.6h0" stroke="#ff0000" stroke-width="2.6" stroke-linecap="round" fill="none" opacity="0.58"/>
<path d="M382.6 701.6h0M380.2 688.6h0M379.6 687.1h0M379 699.3h0M384.6 693.1h0M381.7 674.8h0M383.3 652.7h0M383 696.4h0M380.5 676.5h0M383.5 693.9h0M383.1 664h0M378.8 710h0M381.5 698.6h0M377.7 688h0M378.7 667.1h0M381.1 721.9h0M379.8 693.3h0M383.3 720.2h0M383.2 707.7h0M383.6 691.4h0M384.7 710.8h0M382.3 697.1h0M378 687.6h0M380.1 674.9h0M379.7 700.9h0M379.5 695h0M382.5 695.9h0M378.2 681.8h0M378.8 689.1h0M380.2 692.8h0M385 713.1h0M383.6 692.9h0M381 665h0M384.8 659h0M385.2 679.8h0M380.3 711.4h0M383.5 708.3h0M382.3 696.8h0M381.6 709.8h0M378.3 712h0M380.6 686.8h0M381.3 710.4h0M385.4 694.9h0M384.5 694h0M381 681.8h0M379.4 701.1h0M381.1 701.5h0M383.1 681.2h0M378.9 678.1h0M378.1 686h0M382.8 711.6h0M379.9 678.4h0M381 702.4h0M379.9 696.4h0M381 708.7h0M380.8 660.6h0M380.3 697.6h0M385.2 686.9h0M378.2 677h0M385.4 704.2h0M378.8 702.9h0M380.1 706.1h0M380.2 690.2h0M383.4 686.5h0M383.1 699.5h0M380.1 695.9h0M381.9 718.5h0M380.2 681.5h0M378.3 676.7h0" stroke="#ff0000" stroke-width="2.6" stroke-linecap="round" fill="none" opacity="0.58"/>
<path d="M382.4 691.3h0M377.7 701.2h0M385.4 698.4h0M383.6 688.9h0M383.8 684.5h0M380.4 703.5h0M381.6 673.9h0M382.3 635h0M379.8 697.5h0M381.7 702.7h0M380.3 695.6h0M378.8 706.4h0M379.8 674.2h0M384 695.3h0M384.1 700.8h0M381.4 717.4h0M381.6 709.4h0M384.8 693.2h0M381.5 683.6h0M378.5 667.7h0M382.2 696.9h0M383.1 722.3h0M383 700.7h0M379 676.2h0M383.3 701.3h0M384.5 692.4h0M381.4 685.9h0M382.6 686.7h0M378.9 695.6h0M383.1 693.5h0M378 701.4h0M384.6 682.6h0M384.3 690.1h0M384.1 672h0M385.2 704.7h0M378.6 697.9h0M382 690.9h0M383.1 697.8h0M383 712.5h0M383.4 691.6h0M384.6 692.5h0M382.3 703.9h0M382.9 683.4h0M382.9 704.9h0M383.6 663.2h0M383.9 712.6h0M379.9 679.1h0M383.7 689.9h0M383.7 680.5h0M378.6 683.5h0M379.2 695.8h0M381.3 688.1h0M377.8 669.8h0M384 702h0M378.7 698.1h0M383.7 666.5h0M385 696.5h0M383.3 696.6h0M380.5 687.9h0M379 700.4h0M383.5 685.5h0M382.4 704.8h0M384.8 682.3h0M384.9 694.6h0M378.1 684.9h0M379.4 674.4h0M378.2 713.1h0M382.3 728.5h0M381.5 666.2h0" stroke="#ff0000" stroke-width="2.6" stroke-linecap="round" fill="none" opacity="0.58"/>
<path d="M379 689h0M381.4 706h0M381.2 668.4h0M380.5 713.6h0M380.7 694.2h0M381.4 694.8h0M382.4 710.2h0M383 733.8h0M379.9 719.5h0M384.4 709.6h0M384.9 701.8h0M382.1 697.1h0M380.5 698.3h0M378.3 693.7h0M384.5 702.5h0M382.3 717.2h0M379.8 685.6h0M383.5 711.2h0M383.3 706.7h0M378.7 705.6h0M381.9 684h0M383.3 686.3h0M381.1 699.9h0M379.2 658h0M383.2 716.6h0M379.6 672.3h0M381.2 685.7h0M383.4 705.3h0M381.8 679.5h0M379 714.7h0M379.3 691.7h0M381.2 692.7h0M378.6 682.3h0M377.9 696.1h0M384.1 676.8h0M383.2 715.6h0M380.9 697.6h0M380.5 703.8h0M383.4 695h0M379.2 699.5h0M383.1 694.5h0M381.9 679.3h0M384.9 694.2h0M377.9 712.1h0M379.6 682.8h0M378.8 700h0M380.4 687.2h0M383.2 669.2h0M382.3 694.3h0M379.2 695.7h0M381.8 740.7h0M379.9 681.3h0M383.9 673.8h0M378.2 668.9h0M382.5 698.2h0M378.5 670.2h0M380.7 670.3h0M382.1 689.6h0M383.2 704.1h0M385.4 680.4h0M381.1 670.9h0M381.8 690.8h0M384.3 696.2h0M384.2 707.1h0M385 678.9h0M382.7 676h0M382.3 675.5h0M381 700.3h0M380.1 685h0" stroke="#ff0000" stroke-width="2.6" stroke-linecap="round" fill="none" opacity="0.58"/>
<path d="M382.8 709h0M380.3 687.3h0M379.1 679.9h0M379.1 698.9h0M381.8 697.8h0M383 699.1h0M378.9 692.1h0M384 699.4h0M379.6 709.2h0M381.9 726.3h0M383.2 688.5h0M383.5 687.4h0M381.7 693.4h0M379.4 695.3h0M385 702.3h0M378.7 700.1h0M382.9 691.2h0M383.5 706.6h0M383.1 701.7h0M380.9 673h0M384 661.4h0M378.8 671h0M382.2 688.7h0M379 688.6h0M382 714.2h0M384.3 697h0M379.4 697.4h0M382.2 703.7h0M377.9 684.3h0M384.2 708h0M381.6 680.1h0M380.6 682.9h0M383.8 694.7h0M380.7 677.3h0M379.1 699.1h0M383.2 703.3h0M381.3 716.1h0M378.3 689.2h0M379.6 684.8h0M380 694.6h0M382.3 665.6h0M380.2 715.9h0M383.7 673.3h0M379.8 680.1h0M380.6 673.5h0M382.7 671.7h0M383.2 698h0M380.9 723.4h0M381.6 699h0M379.3 729h0M378.6 724.2h0M378.3 703.2h0M379.8 699.7h0M381.8 696.1h0M380.4 690.7h0M378.7 698.4h0M381.1 715.3h0M382.7 708.1h0M379.3 683.3h0M381.8 682.1h0M377.8 662.3h0M380.1 700.5h0M381 703.1h0M382 680.7h0M377.6 685.1h0M380.2 708.4h0M384.9 678h0M381.8 691.8h0" stroke="#ff0000" stroke-width="2.6" stroke-linecap="round" fill="none" opacity="0.58"/>
<line x1="381.5" y1="656.2" x2="381.5" y2="683.1" stroke="#ff0000" stroke-width="0.9"/>
<line x1="381.5" y1="702.6" x2="381.5" y2="728.6" stroke="#ff0000" stroke-width="0.9"/>
<rect x="377.4" y="683.1" width="8.2" height="19.5" fill="#fff" stroke="#ff0000" stroke-width="0.9" fill-opacity="0.32"/>
<line x1="377.4" y1="694.3" x2="385.6" y2="694.3" stroke="#ff0000" stroke-width="1.4"/>
<path d="M391.7 711h0M389.8 721h0M388.7 719.3h0M395.9 720.1h0M394.5 722.9h0M393.6 715h0M393 717.4h0M394.8 704.4h0M391.2 716.7h0M392.4 707.8h0" stroke="#0000ff" stroke-width="2.6" stroke-linecap="round" fill="none" opacity="0.58"/>
<path d="M388.9 710.3h0M393.8 724.4h0M394.6 701.5h0M393.3 713.5h0M390 721.3h0M392.3 716.2h0M390.5 695.6h0M388.6 700.7h0M388.8 696h0M389.5 703.8h0" stroke="#0000ff" stroke-width="2.6" stroke-linecap="round" fill="none" opacity="0.58"/>
<path d="M389.2 698.9h0M393.8 707.6h0M394.5 699.5h0M390.3 687h0M393.8 710.1h0M395.6 718.4h0M388.6 706.5h0M390.2 693h0M394 709.2h0M390.4 705.2h0" stroke="#0000ff" stroke-width="2.6" stroke-linecap="round" fill="none" opacity="0.58"/>
<path d="M389 692h0M389.5 709h0M393.1 702.1h0M391.5 722.4h0M391.9 702.8h0M389.4 697.8h0M393.4 717.6h0M392.6 713.8h0M394.8 705.8h0M393.6 719.9h0" stroke="#0000ff" stroke-width="2.6" stroke-linecap="round" fill="none" opacity="0.58"/>
<path d="M390.5 689.5h0M392.9 711.9h0M393.5 727.1h0M389.7 727.8h0M394.1 712.9h0M395 725.7h0M392.5 712.4h0M390.7 718.7h0M389.8 714.2h0M392.2 715.2h0" stroke="#0000ff" stroke-width="2.6" stroke-linecap="round" fill="none" opacity="0.58"/>
<line x1="392.1" y1="687.4" x2="392.1" y2="703" stroke="#0000ff" stroke-width="0.8"/>
<line x1="392.1" y1="718.4" x2="392.1" y2="727.7" stroke="#0000ff" stroke-width="0.8"/>
<rect x="388" y="703" width="8.2" height="15.4" fill="#fff" stroke="#0000ff" stroke-width="0.8" fill-opacity="0.4"/>
<line x1="388" y1="711.5" x2="396.2" y2="711.5" stroke="#0000ff" stroke-width="1.4"/>
<path d="M401.3 674.4h0M401.3 657.1h0M401.8 655.5h0M405.5 647.5h0M402.2 679.2h0M402.6 670.9h0M402.2 663h0M404.3 656.8h0M400.3 667.2h0M406.5 658h0M400.9 653.9h0M406.3 669.8h0M401.3 657.3h0M402.6 662.4h0M403 671.2h0M405.2 648.8h0M403.7 674.7h0M406.2 667.1h0M403.3 655.7h0M405.5 665.9h0M401.3 650.5h0M404.3 659.3h0M400.8 655.4h0M402.5 676.3h0M400.8 666.9h0M404.1 652.6h0M406.4 663.3h0M399.6 668.4h0M404.7 654.2h0M404.5 665.1h0M402.7 647.9h0M401.1 645.5h0M404.9 669h0M400.9 678.7h0M405.6 658.3h0M399.9 657.2h0M403.1 689.9h0M400.2 683.2h0M400.5 673.8h0M406.5 677.1h0M404.2 658.4h0M403.2 651.3h0M399.3 670.2h0M400.2 651.4h0M404.5 660.6h0M403.2 672.5h0M399.1 661.6h0M404.5 662.8h0M405.4 652.1h0M400.6 668.1h0M399.2 651.8h0M406.2 671.3h0M406.6 667.4h0M401 670h0M399.4 676.1h0M403.8 668.7h0M406.1 668.6h0M401.9 649.6h0M403.9 669.7h0M403.1 674h0M406.3 660.7h0M399 671.8h0M403.8 673.2h0M399 677.6h0M403.4 648.6h0M400 665.7h0M402.3 656h0M400.2 664.7h0M405.1 687.7h0M399.1 658.6h0M399.8 659.1h0M399.5 666.3h0M401 652h0M403.7 675.7h0M402.6 669.2h0M404.7 643.8h0M403.8 680.5h0M401.4 666.1h0M403.2 669.9h0M403.7 669.7h0M405.6 652.3h0M401.9 660.1h0M400.3 646.9h0M402.6 683.5h0M405.8 666.4h0M405.2 675.1h0" stroke="#ff0000" stroke-width="2.6" stroke-linecap="round" fill="none" opacity="0.58"/>
<path d="M403.1 665.2h0M403.1 665.4h0M404.1 661.1h0M403.6 670.3h0M402.1 667.8h0M404 671.6h0M401.1 659.5h0M403.6 664.3h0M400.1 673.6h0M400.5 677.8h0M399.2 675.5h0M403.9 640.4h0M404.4 665.7h0M398.9 682.9h0M399.4 657h0M400.5 652.7h0M401.9 686.4h0M399.9 679.1h0M403.9 661.4h0M398.9 647.5h0M403.5 658.2h0M404.9 672.4h0M402.6 655.2h0M403.8 667.3h0M402.3 684.2h0M401.6 675.9h0M401.7 666.2h0M403.1 673.7h0M406.4 677.2h0M398.9 662.9h0M402.7 655h0M404.9 656.7h0M404.9 681.1h0M405.8 668.3h0M402.8 655.3h0M403.4 657.7h0M402.2 669.9h0M402.2 667h0M399.8 639.2h0M399.1 638.3h0M401.5 673.3h0M401 656.5h0M402.8 665.2h0M399.6 668h0M405.4 660.3h0M405.5 657.5h0M406 657.9h0M403.6 659.9h0M400.2 668h0M401.8 678.1h0M405.2 650.4h0M399.2 674.1h0M402.9 667.1h0M401.5 672.5h0M400.9 662.2h0M406.4 660.5h0M399.7 682.5h0M402.8 667.2h0M400.7 669.7h0M402.3 694.4h0M401.9 648.9h0M402.8 670.1h0M406.1 665.4h0M399.8 658.4h0M400.5 663.6h0M399.5 687h0M405.6 670.6h0M404.4 657.4h0M403.8 663.5h0M402.9 654.8h0M406.3 661.7h0M403.1 668.7h0M405.5 674.8h0M400 665.5h0M405.2 643h0M405.6 669.4h0M404.6 651.4h0M403.4 670.4h0M405.9 689.1h0M401.3 663.8h0M400.9 688.2h0M399.3 678.6h0M406 666.9h0M404 678.2h0M398.9 670.5h0M405.7 651.6h0" stroke="#ff0000" stroke-width="2.6" stroke-linecap="round" fill="none" opacity="0.58"/>
<path d="M399.9 666.4h0M402.1 653.3h0M404.8 673.5h0M404.9 656.1h0M405 642.1h0M401.6 671.9h0M403.8 691.3h0M401.7 660.2h0M401.4 661.5h0M403 670.7h0M405.2 663.2h0M403.4 654.6h0M403.3 646.3h0M400.4 666.6h0M399.4 661.2h0M398.9 668h0M405.1 665h0M404.8 656.2h0M402.9 652.4h0M403.2 645.8h0M400.2 682.1h0M400.9 656.6h0M400 651h0M401.8 666.7h0M404.9 676h0M402 659.8h0M398.9 662.3h0M402.3 671.2h0M399.5 666.5h0M402 664.1h0M405.7 655.5h0M403.9 644.8h0M406.5 663.9h0M406.3 641.1h0M399.5 685h0M402.7 668.8h0M405.5 636.5h0M399.1 677.4h0M405.2 661.2h0M400.3 654.2h0M404.8 661.8h0M405.9 673.1h0M399.8 646.7h0M398.9 664.4h0M406.3 649.3h0M401.2 665.8h0M406.4 667.8h0M402.7 665.7h0M404.7 653.9h0M400.9 667.9h0M403.2 667.8h0M404.5 672.1h0M402.2 669.5h0M401.1 659h0M400.8 644.5h0M403.2 666h0M401.6 683.9h0M399.6 657.8h0M401.3 667.5h0M401.4 672.9h0M401.4 653.6h0M399.9 681.4h0M400.1 668.8h0M403.1 668.4h0M399.1 660.8h0M403.1 660.4h0M400.9 669h0M401.2 678.3h0M405.2 680.3h0M400.7 663.1h0M405.3 663.1h0M405.9 671.4h0M404.8 674.5h0M406.3 679.5h0M402.9 664.3h0M404.3 653.4h0M405.9 672.6h0M403.5 664.8h0M405 658.8h0M399 670.9h0M400.8 680.2h0M401 664.6h0M405.5 640h0M405.2 641.6h0M402.2 661.7h0M399.5 670.8h0" stroke="#ff0000" stroke-width="2.6" stroke-linecap="round" fill="none" opacity="0.58"/>
<path d="M400.2 671.1h0M405.3 676.4h0M403.1 669.5h0M404.2 679.3h0M403.5 668.3h0M405.9 669.1h0M400 652.5h0M401.5 658.9h0M403.4 684.6h0M399.4 663.7h0M401.7 661h0M401.7 675.1h0M402.7 662.7h0M403.5 670.5h0M404.3 655.9h0M405.9 670.1h0M405.6 655.7h0M405.6 637h0M399 664.9h0M406.2 644.2h0M401.8 653.7h0M404.1 686.2h0M401.6 648.4h0M399.1 654.5h0M399.1 666.8h0M404.1 672.3h0M405.4 667.6h0M402.2 651.1h0M399.9 658.7h0M406.3 668.5h0M406 650.7h0M405.5 667.6h0M400.9 675.3h0M405.5 670.4h0M403.8 653h0M399.3 675.6h0M403 669.6h0M405.2 667.6h0M404.6 662.2h0M404.8 665.5h0M399.7 664.1h0M401.1 677.3h0M401.1 661.3h0M406.5 649.9h0M401.5 653.1h0M404 664.2h0M403.6 663.7h0M405.5 650.1h0M400.9 658.6h0M401.9 660.9h0M400.4 661.9h0M401.7 649.4h0M402.7 663.5h0M399.8 673.4h0M399 673.9h0M402 656.9h0M405.3 670.8h0M401.7 661.9h0M403.5 645.1h0M405.6 671.8h0M404.1 659.9h0M401.7 669.1h0M399.2 666.1h0M399.9 666.6h0M405.4 681.1h0M399.8 659.2h0M405.5 655.8h0M404.4 659.8h0M403.5 666.2h0M401.6 681.6h0M402.8 648h0M406.6 667.2h0M401.4 648.2h0M403.1 659.7h0M399.9 693.2h0M400.6 657.6h0M404.8 656.9h0M401.4 682h0M406.5 662.5h0M405.4 682.8h0M405.6 654h0M402.3 664.6h0M406.4 664h0M402.6 669.4h0M405.4 659.3h0M400.1 671.5h0" stroke="#ff0000" stroke-width="2.6" stroke-linecap="round" fill="none" opacity="0.58"/>
<path d="M400.7 654.3h0M405.5 654.7h0M404.6 675h0M399.7 685.5h0M402.6 666.6h0M399 666.7h0M402.9 642.5h0M405.9 660.5h0M402.5 665.6h0M400.8 647.3h0M403.6 662.4h0M403 676.7h0M405.7 665.3h0M406.4 656.2h0M402.9 650.9h0M405.7 677.8h0M401.1 662h0M402.9 654.9h0M404.6 673h0M405 650.3h0M403.1 680.8h0M400.4 668.6h0M403.5 669.2h0M404.2 652.9h0M400.8 665h0M405 676.7h0M406.5 675.4h0M402.6 664.5h0M402.1 662.8h0M405.4 662.6h0M401.4 672.7h0M403.4 666h0M402.1 670.2h0M401.2 658.1h0M402.2 663.8h0M403.9 660.3h0M401.2 666.9h0M399.9 664.8h0M404.2 661.4h0M399.8 672.8h0M402.4 651.8h0M404.8 671.6h0M400.2 658.1h0M404.4 676.9h0M399.1 643.4h0M405.9 662.7h0M405.5 659h0M403.7 668.2h0M399.8 680h0M406.1 660h0M404.6 659.4h0M402.1 669.3h0M399.2 668.2h0M405.8 661h0M399 665.9h0M406.4 674.3h0M400.3 653.2h0M401.3 656.4h0M401.7 657.4h0M404.3 646.5h0M399.6 671h0M404.7 650h0M403.6 672.1h0M401.6 674.6h0M399.8 672h0M399.5 667.7h0M406.6 662.1h0M405.4 656.6h0M405 663.3h0M406 654.7h0M399.2 646.1h0M403.7 636h0M405.2 679.8h0M404.6 653.5h0M400.2 666.5h0M398.9 668.9h0M401.4 665.5h0M401 649.2h0M401.1 655.1h0M398.8 678.8h0M404.6 676.4h0M401.2 665.2h0M402.3 667.4h0M401 659.5h0M400.6 674.2h0" stroke="#ff0000" stroke-width="2.6" stroke-linecap="round" fill="none" opacity="0.58"/>
<line x1="402.7" y1="636.7" x2="402.7" y2="657.1" stroke="#ff0000" stroke-width="0.9"/>
<line x1="402.7" y1="671" x2="402.7" y2="691.5" stroke="#ff0000" stroke-width="0.9"/>
<rect x="398.6" y="657.1" width="8.2" height="13.9" fill="#fff" stroke="#ff0000" stroke-width="0.9" fill-opacity="0.32"/>
<line x1="398.6" y1="665.1" x2="406.8" y2="665.1" stroke="#ff0000" stroke-width="1.4"/>
<path d="M411 693.6h0M414.6 682.7h0M414.4 683h0M416.9 689.1h0M409.6 686.1h0M414.9 654h0M409.7 679.5h0M410.9 679.2h0M411.8 688.4h0M413.9 681.9h0M410.3 684.9h0M410 683.7h0" stroke="#0000ff" stroke-width="2.6" stroke-linecap="round" fill="none" opacity="0.58"/>
<path d="M413.1 680.3h0M410.7 690.9h0M416.5 684.3h0M414 685.4h0M416.3 687h0M416 676h0M412.2 680.7h0M413.9 678.4h0M416.6 693.1h0M414.8 689.9h0M410.7 696.1h0M409.5 681.8h0" stroke="#0000ff" stroke-width="2.6" stroke-linecap="round" fill="none" opacity="0.58"/>
<path d="M411.5 674.6h0M414.7 676.8h0M410.7 696.1h0M417.1 683.5h0M410.5 685.4h0M412.8 681.1h0M409.5 679.9h0M416 681.2h0M410.5 687.3h0M414 675.7h0M416.8 676.5h0M416.7 677.1h0" stroke="#0000ff" stroke-width="2.6" stroke-linecap="round" fill="none" opacity="0.58"/>
<path d="M412.9 682.4h0M414.8 678.7h0M409.6 671.2h0M413.5 681.5h0M416.8 685h0M411.8 672.5h0M410.9 680.1h0M415.9 682.1h0M414 684.2h0M414.4 680.4h0M412.1 674.1h0M417.1 674.8h0" stroke="#0000ff" stroke-width="2.6" stroke-linecap="round" fill="none" opacity="0.58"/>
<path d="M414.5 683.8h0M417 682.8h0M410.5 691.8h0M409.8 665.7h0M413.3 677.9h0M413.2 683.2h0M414.7 686.6h0M416.3 677.7h0M414.9 679.1h0M411.1 684.7h0M410.2 688.1h0" stroke="#0000ff" stroke-width="2.6" stroke-linecap="round" fill="none" opacity="0.58"/>
<line x1="413.3" y1="670.1" x2="413.3" y2="678.5" stroke="#0000ff" stroke-width="0.8"/>
<line x1="413.3" y1="685.5" x2="413.3" y2="696.1" stroke="#0000ff" stroke-width="0.8"/>
<rect x="409.2" y="678.5" width="8.2" height="7" fill="#fff" stroke="#0000ff" stroke-width="0.8" fill-opacity="0.4"/>
<line x1="409.2" y1="682.2" x2="417.4" y2="682.2" stroke="#0000ff" stroke-width="1.4"/>
<path d="M422.1 646.9h0M420.7 651h0M426.7 670.4h0M425.6 641.6h0M420.5 646.3h0M420.1 645.1h0M422.2 653.3h0M427.7 657.9h0M421.6 628.7h0M423.5 647.3h0M426.7 651.2h0M421.9 628h0M426.3 664.5h0M422 652.2h0M425.8 680h0M422 650.9h0M425.7 650.8h0M420.8 633.4h0M426.1 644.2h0M420.9 643.3h0M423.3 641.2h0M420.1 659.5h0M423 662.1h0M426.8 653.1h0M426.8 662.5h0M423 644.8h0M420.3 656.3h0M425.2 641.9h0M421.1 637.2h0M422.5 658.6h0M421.6 645h0M420.5 658.9h0M425.1 645.9h0M422.9 638.9h0M425.7 638.4h0M425 651.2h0M426.2 647.1h0M424.1 658h0M427.5 638.8h0M427.3 655.2h0M421.4 654.2h0M426.9 635.9h0M427 664.9h0M427.5 647.2h0M425.2 654.5h0M427.5 651h0M422.7 634.4h0M425.4 652.3h0M425.1 661.1h0M426.5 652h0M425.2 644.5h0M422.9 642.6h0M420.1 663.8h0M421.1 630.7h0M425 654.8h0M422.7 710h0M425.8 654.9h0M423.5 645.5h0M425.4 641.8h0M421.7 652.6h0M422.4 642.1h0M423.8 646h0M423.4 650h0M426.8 637.7h0M423.9 647.8h0M420.2 641.3h0M424.2 653.5h0M423.4 635.3h0M425.8 649.4h0M420.6 640.3h0M426.1 646.4h0M422.2 655.6h0M423.6 645h0M422.6 655.5h0M420.3 648.9h0M421.6 667.5h0M423 666h0M424.8 633.7h0M420.8 642.7h0M420.7 641h0M426.1 648h0M426.8 653.9h0M422.5 632.8h0M422 651.3h0M421.4 652.7h0" stroke="#ff0000" stroke-width="2.6" stroke-linecap="round" fill="none" opacity="0.58"/>
<path d="M427.7 642.8h0M425.7 658.1h0M426.4 687.7h0M420.9 652.7h0M424.9 626.2h0M427.3 657.7h0M425.2 653.6h0M423.1 648.6h0M427.3 653h0M426.8 639.8h0M425 660.5h0M420.3 654h0M426.1 658.3h0M424.3 652.5h0M421.9 636.1h0M420.4 646.6h0M426.4 644.4h0M427 632.3h0M423.5 655.1h0M425.7 653.2h0M427 640.9h0M424.1 644.3h0M427.3 657.8h0M422.4 662.7h0M427.3 636.4h0M426.9 637.6h0M425.9 650.3h0M424.3 645.9h0M423.3 635.5h0M426.6 650.5h0M422.6 641.5h0M424.3 663.5h0M423.8 640.6h0M420.5 661.6h0M423.4 654.7h0M427.7 647.9h0M421.2 655h0M423.2 654.1h0M423.5 644.1h0M421.9 647.9h0M424.6 645.3h0M422.3 649.3h0M420.9 638.3h0M425.4 646.2h0M424.2 653h0M424.6 655h0M422.3 648.4h0M422.3 656.5h0M424.2 649.4h0M426.9 658.6h0M426.4 650.4h0M427.5 649h0M427.4 644.7h0M422.2 656h0M427.1 644h0M423.1 634.9h0M422 649.6h0M425.8 658.4h0M427.8 641.8h0M420.1 637.6h0M420.4 640.8h0M424.6 647.6h0M422.1 649.8h0M421.8 638.6h0M427.6 654h0M427.7 644.9h0M423.3 639.4h0M425.7 639.9h0M422.3 652.9h0M427.1 645.6h0M425.1 660.1h0M424.3 648.6h0M422.3 631.1h0M423.4 656.7h0M427 642.5h0M427.8 651.6h0M422.9 641.9h0M420.1 656.1h0M420.8 633h0M427 642.4h0M425.1 650.1h0M423.4 643.8h0M423 643.6h0M423.1 645.3h0M420.4 640.4h0" stroke="#ff0000" stroke-width="2.6" stroke-linecap="round" fill="none" opacity="0.58"/>
<path d="M424.7 660.3h0M420.7 658.4h0M421.5 659.2h0M425.4 639.5h0M426.5 653.3h0M423.2 655.7h0M424.7 648.2h0M421.3 650.1h0M423.4 655.3h0M424.5 639.2h0M423.6 632.1h0M425.5 662.2h0M427.2 654.9h0M425.8 642h0M426.8 647.6h0M422.9 661h0M422.3 657.3h0M420.5 651.9h0M425.6 653.6h0M424.3 642h0M424.6 646.2h0M424.3 649h0M420.5 651.1h0M425.4 631.8h0M426.8 635.7h0M427.2 643.2h0M425.9 642.7h0M421.3 654.4h0M423.5 648.8h0M425.5 647h0M420.5 645.1h0M424.2 640.4h0M421.9 650.4h0M424.1 635.1h0M421.7 646.9h0M423.2 666.7h0M423.3 650.8h0M422.5 629.8h0M420.6 658.8h0M426.7 661.2h0M427.2 647.5h0M421.7 656.9h0M422.2 655.9h0M424.7 647.2h0M420.4 655.4h0M423.1 644.7h0M423.3 661.5h0M423.4 647.4h0M426.4 644.6h0M426 643.1h0M423 645.5h0M421 639.6h0M425.9 646.1h0M421.6 655.4h0M422.2 651.5h0M423.9 656.7h0M424.1 649.1h0M423.5 648.7h0M426.6 640.8h0M426.1 659.9h0M426.8 649.2h0M426.2 651.9h0M424.5 647.5h0M423.3 643h0M421.3 650.9h0M420.7 651.8h0M420.1 640.9h0M421.9 655.7h0M423.3 635.3h0M420.1 650.7h0M420 645.7h0M422.4 640.5h0M423.5 624.8h0M420.6 652h0M424 652.3h0M426.6 640.2h0M425.8 646.7h0M422.7 648.4h0M427.7 639h0M427.4 663.1h0M427.4 651.3h0M421.5 642.9h0M425.7 654.7h0M427.8 637.3h0" stroke="#ff0000" stroke-width="2.6" stroke-linecap="round" fill="none" opacity="0.58"/>
<path d="M421.9 640.5h0M424.4 652.4h0M424.6 657.2h0M427.7 638.1h0M427.5 656.4h0M423.1 638.5h0M426.5 663.9h0M420.9 644.2h0M422.6 659.8h0M422.2 656.2h0M427.7 639.1h0M427 634.1h0M425.4 648.8h0M420.1 651.6h0M424.8 657.6h0M424.7 652.2h0M427.4 638.7h0M423.5 655.8h0M425 640h0M420.5 653.2h0M423.4 649.3h0M420.6 646.6h0M421.2 634.6h0M421.9 651.6h0M427.5 633.9h0M427.5 657h0M423 659.3h0M427 649.2h0M425.1 648.3h0M420.4 633.2h0M421.9 648.3h0M426 636.5h0M423.3 657.3h0M426.5 638.2h0M420.1 648.5h0M423.1 637.5h0M420.9 651.3h0M427.3 647.3h0M426.9 636.7h0M427 655.5h0M424.7 643.8h0M425.3 656.8h0M423.5 653.1h0M424.9 646.3h0M424.8 659.7h0M422.4 657.5h0M425.2 659.1h0M423.1 643.9h0M425.8 645.5h0M423.9 652.8h0M426.3 643.4h0M422.5 636.3h0M422.2 636.6h0M423.8 640.1h0M427.3 650.2h0M426.8 642.4h0M424.4 660.6h0M424.1 656.3h0M423.4 652.1h0M426.8 645.7h0M422 652h0M425.5 644.2h0M421.9 651.4h0M421.3 649.5h0M427.2 656.5h0M421.3 637.1h0M421.7 647.8h0M424.1 651.5h0M422.5 636.9h0M421.8 641.1h0M420.1 648.1h0M427.6 665.7h0M425.7 655.9h0M423.5 646.5h0M422.5 650.6h0M421.7 646.8h0M421.3 649.5h0M423.8 641.4h0M422.9 641.6h0M426.8 669.3h0M426.7 640.7h0M424.4 645.2h0M427.3 660.2h0M422.9 658.2h0" stroke="#ff0000" stroke-width="2.6" stroke-linecap="round" fill="none" opacity="0.58"/>
<path d="M423.2 653.7h0M425.6 652.9h0M426.5 650.1h0M424.2 636.8h0M423.7 656.9h0M423.3 649.9h0M421 654.6h0M423.6 638.1h0M420.6 636h0M420.6 639.7h0M422.7 643.7h0M427.4 652.5h0M420.8 643.2h0M424.5 630.5h0M422.1 653.4h0M425.4 642.2h0M427.4 642.3h0M424.6 649.7h0M424 652.3h0M425.7 652.6h0M423.8 649.1h0M427.5 643.5h0M423.4 646.8h0M420.3 654.2h0M423.6 657.1h0M426.9 651.7h0M420.1 637.8h0M427.6 649.8h0M423.1 650.7h0M426.9 642.2h0M424.9 659.6h0M421.8 641.2h0M420.5 664.9h0M423.9 653.9h0M426.5 648h0M423.7 648.5h0M423.3 645.8h0M424.6 661.8h0M424.3 646.5h0M424.2 649.9h0M425.7 639.4h0M425.8 637.9h0M424.2 649.7h0M424.8 643.5h0M423.2 641.3h0M420.2 649.9h0M426.1 647.1h0M421.9 653.4h0M423.9 651.8h0M423.7 638.6h0M422.8 657.5h0M426.4 650.4h0M425.6 639.7h0M420.8 644.8h0M422.1 643.9h0M424 662.9h0M424.8 653.7h0M421 640.1h0M422.9 649.6h0M421.7 653.8h0M424.8 654.6h0M422.7 650.5h0M427.4 644.5h0M425.2 639.8h0M420.2 645.4h0M420.8 659h0M423.7 643.4h0M421.1 634.6h0M425.4 654.3h0M426.6 650.2h0M427.1 651h0M421.8 646.1h0M423.2 649h0M421.4 660.8h0M427.2 639.2h0M426.2 650.6h0M426.7 647.7h0M426.7 641.5h0M422.1 654.4h0M423.8 648.9h0M425.9 654.1h0M422.4 648.2h0M422.6 641.7h0M422.5 642.9h0" stroke="#ff0000" stroke-width="2.6" stroke-linecap="round" fill="none" opacity="0.58"/>
<line x1="423.9" y1="628.3" x2="423.9" y2="642.2" stroke="#ff0000" stroke-width="0.9"/>
<line x1="423.9" y1="654" x2="423.9" y2="668.2" stroke="#ff0000" stroke-width="0.9"/>
<rect x="419.8" y="642.2" width="8.2" height="11.8" fill="#fff" stroke="#ff0000" stroke-width="0.9" fill-opacity="0.32"/>
<line x1="419.8" y1="648.7" x2="428" y2="648.7" stroke="#ff0000" stroke-width="1.4"/>
<path d="M438.4 667.5h0M431.6 682.9h0M433.1 682.3h0M432 658h0M434.9 681h0M435.5 680.3h0M430.7 680.1h0M432.7 680.6h0M434.9 687h0M433 690h0M435.2 670.2h0" stroke="#0000ff" stroke-width="2.6" stroke-linecap="round" fill="none" opacity="0.58"/>
<path d="M436.5 679.5h0M431.5 683.5h0M436.5 690.9h0M436.9 688.4h0M434.1 678.5h0M431.6 676.9h0M435 659.8h0M432.5 686.2h0M431.2 671.3h0M436.9 681.6h0" stroke="#0000ff" stroke-width="2.6" stroke-linecap="round" fill="none" opacity="0.58"/>
<path d="M435.2 677.4h0M438.2 670.8h0M435.6 688.9h0M433.4 685.5h0M438.2 675h0M437.1 665.3h0M438.2 685.2h0M433.2 679h0M432.7 688.2h0M431.2 676.8h0" stroke="#0000ff" stroke-width="2.6" stroke-linecap="round" fill="none" opacity="0.58"/>
<path d="M432.9 676.4h0M436.1 693.3h0M435.7 676h0M435.1 679.1h0M432 681.7h0M431.9 672.5h0M437.8 684h0M434 693.3h0M431.9 687.2h0M432.4 684h0" stroke="#0000ff" stroke-width="2.6" stroke-linecap="round" fill="none" opacity="0.58"/>
<path d="M435.3 675.1h0M431.9 674.5h0M435.8 678h0M431.6 684.5h0M433.8 668.4h0M433.3 685.8h0M432.9 662.9h0M437.7 673.3h0M435.1 664.9h0M435.8 682.8h0" stroke="#0000ff" stroke-width="2.6" stroke-linecap="round" fill="none" opacity="0.58"/>
<line x1="434.5" y1="658" x2="434.5" y2="674.4" stroke="#0000ff" stroke-width="0.8"/>
<line x1="434.5" y1="685" x2="434.5" y2="693.3" stroke="#0000ff" stroke-width="0.8"/>
<rect x="430.4" y="674.4" width="8.2" height="10.6" fill="#fff" stroke="#0000ff" stroke-width="0.8" fill-opacity="0.4"/>
<line x1="430.4" y1="680" x2="438.6" y2="680" stroke="#0000ff" stroke-width="1.4"/>
<path d="M448.6 681.6h0M442.7 673.8h0M445 674.8h0M444.6 656.7h0M446.1 665.3h0M445.6 669h0M444 660.3h0M442.7 662.4h0M447.1 664.9h0M445.3 641.9h0M442.9 647h0M445.5 678.5h0M442.3 662.6h0M448.2 667.6h0M446.7 683.5h0M447.7 677.2h0M447 676.8h0M443.9 663.4h0" stroke="#ff0000" stroke-width="2.6" stroke-linecap="round" fill="none" opacity="0.58"/>
<path d="M448.9 676.3h0M445.4 652.2h0M445.5 659.4h0M446.1 649.1h0M445 643.1h0M448.3 649.7h0M441.6 666.9h0M445.9 661.9h0M443.3 653.6h0M444.7 653.9h0M441.7 664.3h0M443.2 652.4h0M448.6 663.9h0M444.3 672.4h0M441.6 653h0M446.7 658.1h0M444.8 654.8h0M444.2 655.4h0" stroke="#ff0000" stroke-width="2.6" stroke-linecap="round" fill="none" opacity="0.58"/>
<path d="M445.4 668.1h0M445.5 674h0M445.5 677.8h0M445.9 666.5h0M441.8 655.9h0M445.7 676h0M447.7 689.9h0M442.3 651.1h0M445.1 657.6h0M448.8 673h0M448 650.4h0M446.3 669.9h0M446.8 660.4h0M444.9 651.4h0M442.8 659.9h0M442.7 639.2h0M447.1 644.7h0M442.4 675.3h0" stroke="#ff0000" stroke-width="2.6" stroke-linecap="round" fill="none" opacity="0.58"/>
<path d="M444.6 682.8h0M446.8 646.5h0M443.1 661.4h0M443.4 648.4h0M447.4 657.1h0M441.7 660.8h0M444.9 656.4h0M446.1 680.3h0M446.2 661.2h0M446 675.5h0M442.8 655h0M442.8 658.6h0M448.4 674.5h0M445.4 632h0M445.3 672h0M448.1 665.7h0M448.5 679.1h0" stroke="#ff0000" stroke-width="2.6" stroke-linecap="round" fill="none" opacity="0.58"/>
<path d="M444.2 669.4h0M442.2 636.4h0M443.6 657.4h0M443.9 671.3h0M442.8 711.9h0M441.3 659.1h0M447.6 645.9h0M443.3 658.5h0M446.5 670.5h0M441.6 680.1h0M444.1 671h0M446.9 668.7h0M441.4 666.2h0M448.8 663h0M444.2 661.9h0M443.8 673.2h0M448.7 685.6h0" stroke="#ff0000" stroke-width="2.6" stroke-linecap="round" fill="none" opacity="0.58"/>
<line x1="445.1" y1="632" x2="445.1" y2="655.2" stroke="#ff0000" stroke-width="0.9"/>
<line x1="445.1" y1="672.9" x2="445.1" y2="689.6" stroke="#ff0000" stroke-width="0.9"/>
<rect x="441" y="655.2" width="8.2" height="17.7" fill="#fff" stroke="#ff0000" stroke-width="0.9" fill-opacity="0.32"/>
<line x1="441" y1="662.7" x2="449.2" y2="662.7" stroke="#ff0000" stroke-width="1.4"/>
<path d="M457.9 648.8h0M452 647.7h0M457.6 658.1h0M459.2 670.2h0M455.8 659.5h0M455.7 638h0M458.6 658.7h0M455.9 667.5h0M454.8 666.3h0M458.8 644.6h0M456.3 659.5h0M452.2 648.6h0M456.3 670.1h0M456.9 656h0M451.8 666.5h0M458.7 658.1h0M456 670.6h0M457.9 664.2h0M455.3 645.6h0M454.8 660.4h0M457.8 664.9h0M458.1 646.8h0M457.5 664.4h0M456.7 684.2h0M457.1 656.4h0M455.9 651.7h0M457.6 674.7h0M455.3 662h0M458 657h0M457.1 640h0M452.3 663.7h0M457.2 657.7h0M456.9 653.8h0M455.1 660.9h0M455.6 661.3h0M453.8 653.4h0M456 655.4h0M457.4 649h0M453.9 654.6h0M453.3 657.8h0M453.7 661h0M459.6 652.7h0M455.5 648.7h0M457.2 655h0M454.4 654.7h0M458.4 647h0M458.2 656.6h0M457.3 654.2h0M455.8 653.5h0M456.1 651.5h0M453.6 646.5h0M455.6 656.3h0M453.2 650.2h0M451.8 665.2h0M451.9 670.7h0M457.4 658.2h0M457.4 642.3h0M457.4 658.7h0M452.4 648.2h0M455.3 654.4h0M452.6 659h0" stroke="#ff0000" stroke-width="2.6" stroke-linecap="round" fill="none" opacity="0.58"/>
<path d="M455.6 662.8h0M459.1 654.9h0M453.4 659.2h0M453.5 662.2h0M454.2 648h0M453.5 657.3h0M454.3 651.1h0M457.5 653.9h0M455.6 649.3h0M457.2 666.7h0M458.3 657.4h0M454.8 668.4h0M456.9 656.1h0M456.6 656.8h0M453.8 655.8h0M458.2 672.5h0M454.1 651.8h0M457.3 650.3h0M457.5 661.3h0M455.5 647.1h0M457.5 659.1h0M457.3 668.7h0M454.6 647.8h0M458.3 662.3h0M453.8 631h0M455.6 652.3h0M455.8 633.7h0M452.8 655.3h0M453.8 672.7h0M458.3 661.5h0M458.4 651.2h0M458.7 651.3h0M453.1 663.6h0M453.3 653.9h0M455.3 663.9h0M458.5 657.5h0M452.3 660.3h0M455.8 674.2h0M456.6 640.9h0M458.7 669h0M456.5 659.9h0M457.8 663.9h0M455.8 642.8h0M458.1 654.3h0M454.8 652.2h0M457.4 665.3h0M457.9 652.8h0M456.5 654.7h0M454 664.9h0M455.6 660.8h0M456.8 650.9h0M453.1 632.1h0M456 646.7h0M459.2 649.6h0M455.3 641.2h0M453.9 666.6h0M455.1 654.2h0M459.3 661.6h0M457.6 658.3h0M454.8 650h0M453.1 655.9h0" stroke="#ff0000" stroke-width="2.6" stroke-linecap="round" fill="none" opacity="0.58"/>
<path d="M457.3 643.9h0M456.7 692.4h0M458.4 665.8h0M454.5 639.7h0M458.8 658.5h0M458.2 658.4h0M454.1 643.7h0M457.8 650.7h0M458.7 665.6h0M452.7 649h0M454.9 656.5h0M456.8 650.9h0M457.1 657.1h0M452.5 661h0M457.7 664.1h0M453.5 676.5h0M452.4 653.1h0M455.6 644h0M457.5 652.3h0M457.2 644.8h0M455.4 647.2h0M457.8 660.4h0M452.3 665.2h0M452.2 649.4h0M452.3 656.4h0M457.1 652.9h0M457.6 664.6h0M453 657.2h0M455.2 666.1h0M457.8 653h0M454.1 637.3h0M454.3 649.7h0M456.7 650.5h0M459.5 651.2h0M457 645.4h0M452.2 663.3h0M456.8 667.2h0M455.7 643.1h0M457.2 668h0M459 652.6h0M454.3 661.2h0M458.1 657.6h0M453 645.1h0M459.5 657.7h0M459.4 639.3h0M453.2 659.3h0M452.4 662.1h0M453.5 641.5h0M453.4 668.8h0M453.1 645.8h0M456.3 657.2h0M452 659.8h0M456.4 634.2h0M457.8 681h0M455.4 668.5h0M452 636.3h0M454.2 636.8h0M459.6 651.9h0M459.6 669.4h0M457 653.5h0" stroke="#ff0000" stroke-width="2.6" stroke-linecap="round" fill="none" opacity="0.58"/>
<path d="M459.1 672.1h0M456.1 667.3h0M453.5 663.1h0M452.6 661.4h0M454.1 655.6h0M452.2 658h0M453 667.8h0M452.9 648.4h0M459.3 658.6h0M453.9 660.2h0M453.9 650.4h0M457.3 656.2h0M455.7 659.1h0M459.6 639.1h0M458.1 662.4h0M451.9 659.4h0M457.4 645.8h0M458.9 655h0M459.5 653.3h0M454.7 646h0M457.1 659.4h0M455.9 641.7h0M453.7 662.7h0M454.6 657.1h0M456.5 669.8h0M454.7 658.6h0M455.3 663.4h0M451.9 657.4h0M455.1 669.3h0M459.5 661.8h0M457.4 664.7h0M452.7 662.5h0M457.9 663.2h0M453.4 659.6h0M457.1 677.2h0M456.8 652.6h0M458.5 662h0M456.7 669.6h0M456.7 655.7h0M456.3 661.7h0M457.8 664.5h0M457.6 660h0M454.7 634.9h0M455.9 667.7h0M454.9 646.3h0M458 650.6h0M458.3 660.8h0M457.5 651.9h0M458.1 648.3h0M456 654.8h0M459.5 671.4h0M455.7 664.1h0M452.6 675.9h0M455.6 651.4h0M456.9 662.9h0M456.6 662.1h0M453.2 666.9h0M457.3 652.4h0M454.1 654h0M453.4 656.7h0" stroke="#ff0000" stroke-width="2.6" stroke-linecap="round" fill="none" opacity="0.58"/>
<path d="M452 661.8h0M458.3 660.7h0M452.3 650.1h0M454.6 672.3h0M452.3 640.4h0M456.3 660.5h0M452 667h0M455.8 646.4h0M458.7 673.3h0M457 656.8h0M454.9 659.9h0M453.5 673.8h0M458.9 656.1h0M452.7 663.8h0M455.5 644.4h0M458.4 647.9h0M456.7 655.2h0M454.2 655.5h0M451.9 660.1h0M455.1 638.7h0M459.5 671.7h0M455.4 649.2h0M452.1 649.9h0M457.4 653.1h0M457.4 643.1h0M458 658.4h0M459.3 661.1h0M458.4 668.1h0M453.5 678h0M456 679.1h0M458.7 644.5h0M459 654.1h0M452.5 647.3h0M457.9 652.1h0M458.1 665.5h0M455.3 649.5h0M456.8 658.8h0M458.6 662.6h0M454.1 657.9h0M458.6 662.9h0M455 660.2h0M454.2 658.9h0M453.5 645.3h0M455.1 654.5h0M453.6 653.3h0M458.2 665.9h0M457.4 642.4h0M457.2 666h0M453.8 671.1h0M458.8 653.7h0M452.8 660.6h0M453.1 674.9h0M453.8 655.3h0M457.3 657.9h0M453 659.7h0M458 655.5h0M456.6 651.5h0M452.1 643.4h0M458.7 642.1h0M456.7 647.5h0" stroke="#ff0000" stroke-width="2.6" stroke-linecap="round" fill="none" opacity="0.58"/>
<line x1="455.7" y1="632" x2="455.7" y2="650.6" stroke="#ff0000" stroke-width="0.9"/>
<line x1="455.7" y1="662.7" x2="455.7" y2="680.3" stroke="#ff0000" stroke-width="0.9"/>
<rect x="451.6" y="650.6" width="8.2" height="12.1" fill="#fff" stroke="#ff0000" stroke-width="0.9" fill-opacity="0.32"/>
<line x1="451.6" y1="657.1" x2="459.8" y2="657.1" stroke="#ff0000" stroke-width="1.4"/>
<path d="M469.2 672.1h0M467.2 690.6h0M466.5 669.3h0M469.9 674.9h0M465.3 663.6h0M465.1 672.4h0M467.4 681.2h0M463.1 687.9h0M463.1 670.4h0M468.1 677.3h0M466.9 658.6h0M469.4 680.8h0M462.9 683.5h0M466.6 679.9h0M470 679.4h0M462.5 677.9h0M463.3 680.1h0M463.3 679.7h0M468.7 666.4h0M465 705h0M464.1 652.3h0M469.9 682h0M464.1 666.1h0M464 670.2h0M466.2 686.2h0M469 663.9h0M464.1 659.8h0M464 672.6h0M468.6 674.8h0M467.4 675.5h0M464.9 684.2h0M463.4 673.6h0M467.7 673.1h0M464.2 670.6h0M465.9 681h0M467.4 679.1h0M470.1 678.7h0" stroke="#ff0000" stroke-width="2.6" stroke-linecap="round" fill="none" opacity="0.58"/>
<path d="M469.2 683.1h0M467.4 671.4h0M470.2 680.4h0M466.5 681.5h0M470 655.9h0M466.9 654.7h0M466.8 670.4h0M466.8 676.8h0M463.9 670h0M462.9 712h0M463.8 681.8h0M469.4 676.4h0M463.2 665.4h0M463.8 672.8h0M464.6 669.8h0M466 685.7h0M469.6 668.1h0M469.3 657.6h0M466.2 665.3h0M469.6 665.8h0M468.4 682.4h0M464.3 673.4h0M465.2 666.8h0M468.8 660.5h0M469.3 679.6h0M468.9 672h0M466.9 683.5h0M465.4 668h0M464.4 736h0M464.8 673.8h0M464.3 667.5h0M469.6 677h0M464 672.7h0M467.6 674.3h0M467.9 665.7h0M462.4 662.4h0M470.1 675.2h0" stroke="#ff0000" stroke-width="2.6" stroke-linecap="round" fill="none" opacity="0.58"/>
<path d="M463.7 682.8h0M463.2 671.1h0M465.1 649.4h0M464.9 669.1h0M467.6 679.2h0M469.5 650.3h0M463.9 678.3h0M466.7 670.9h0M462.6 676.6h0M465.2 674h0M469.8 669.2h0M467.5 665h0M467.7 670.2h0M465.5 667.7h0M463 675.3h0M466.5 657.1h0M463.4 678.9h0M463.1 667h0M467.1 668.8h0M464.3 675.1h0M462.6 662.2h0M469.1 672.9h0M466.3 668.6h0M467.1 661.5h0M466.7 680.5h0M466.1 679.5h0M465.3 659.1h0M463.9 671.7h0M469.9 662.1h0M469.3 669.5h0M464.1 662.9h0M463.8 681.8h0M469.3 671.7h0M468.6 670.7h0M469.9 682.7h0M469.6 661.5h0M469.7 674.5h0" stroke="#ff0000" stroke-width="2.6" stroke-linecap="round" fill="none" opacity="0.58"/>
<path d="M462.7 674.2h0M467.9 673.3h0M469.6 678.1h0M463.2 677.2h0M468.4 671.6h0M465 724h0M470.1 664.4h0M468 670.9h0M467.5 682.2h0M463.7 700h0M467.7 659.9h0M468.2 672.3h0M464.6 681.4h0M469.6 671.1h0M465.2 675.6h0M462.9 663.8h0M465.6 677.7h0M463.7 680.8h0M462.8 683.2h0M468.5 664.6h0M467.6 671.9h0M464.7 671.3h0M465.4 667.9h0M466.3 681.6h0M465.9 686.4h0M469.3 684.6h0M462.6 680.3h0M463.4 664.8h0M466.3 669.7h0M463.1 656.3h0M468.5 674h0M463.7 684.9h0M465.1 676.8h0M470.2 667.2h0M465.7 668.3h0M466.9 685.2h0M463.9 674.5h0" stroke="#ff0000" stroke-width="2.6" stroke-linecap="round" fill="none" opacity="0.58"/>
<path d="M464.6 669.4h0M469.8 678.6h0M467.3 676h0M465.6 668.5h0M467.9 689h0M469.6 684.5h0M467.4 667.6h0M465.9 682.3h0M470 654.2h0M469.3 678.3h0M468.8 687.2h0M464.5 667.1h0M464.4 679.8h0M464.7 672.5h0M467.8 676.3h0M466.6 677.5h0M467 681h0M462.4 666.1h0M463 680h0M463.1 658.4h0M469.9 675.7h0M462.7 661.1h0M467.5 660.7h0M469.8 664.2h0M468.7 668.6h0M468.4 663.2h0M467.3 718h0M469.4 680.5h0M463.6 677.7h0M468.2 676.2h0M466.7 673.6h0M463.1 669h0M466.3 675.8h0M466.5 662.8h0M466.4 683.9h0M463.3 666.5h0M467.8 730h0" stroke="#ff0000" stroke-width="2.6" stroke-linecap="round" fill="none" opacity="0.58"/>
<line x1="466.3" y1="649.7" x2="466.3" y2="667.3" stroke="#ff0000" stroke-width="0.9"/>
<line x1="466.3" y1="679.4" x2="466.3" y2="689.6" stroke="#ff0000" stroke-width="0.9"/>
<rect x="462.2" y="667.3" width="8.2" height="12.1" fill="#fff" stroke="#ff0000" stroke-width="0.9" fill-opacity="0.32"/>
<line x1="462.2" y1="672.9" x2="470.4" y2="672.9" stroke="#ff0000" stroke-width="1.4"/>
<path d="M475.8 695.2h0" stroke="#0000ff" stroke-width="2.6" stroke-linecap="round" fill="none" opacity="0.58"/>
<path d="M480 673.9h0" stroke="#0000ff" stroke-width="2.6" stroke-linecap="round" fill="none" opacity="0.58"/>
<path d="M478.3 680.6h0" stroke="#0000ff" stroke-width="2.6" stroke-linecap="round" fill="none" opacity="0.58"/>
<path d="M480.1 675h0" stroke="#0000ff" stroke-width="2.6" stroke-linecap="round" fill="none" opacity="0.58"/>
<path d="M478.4 683.1h0" stroke="#0000ff" stroke-width="2.6" stroke-linecap="round" fill="none" opacity="0.58"/>
<line x1="476.9" y1="670.1" x2="476.9" y2="674.7" stroke="#0000ff" stroke-width="0.8"/>
<line x1="476.9" y1="683.1" x2="476.9" y2="683.1" stroke="#0000ff" stroke-width="0.8"/>
<rect x="472.8" y="674.7" width="8.2" height="8.4" fill="#fff" stroke="#0000ff" stroke-width="0.8" fill-opacity="0.4"/>
<line x1="472.8" y1="676.2" x2="481" y2="676.2" stroke="#0000ff" stroke-width="1.4"/>
<path d="M485.4 690.1h0M491.1 714.2h0M484.7 691.9h0M487.6 717.3h0M491 723.8h0M491.3 708.7h0M491.3 694.4h0M490.7 709.5h0M487.7 706h0M491.1 699.6h0M484.3 713.2h0M486 711.7h0M487.4 697.8h0M491.3 726.9h0M486.6 720.8h0M490.7 701.2h0M484 688.9h0M486.6 694.8h0M484 689.5h0M485.1 705.3h0M489.2 715.3h0M489.2 713.9h0M488.8 718.6h0M488.6 725.1h0M484.3 712.4h0M490 702.6h0M491.1 717.6h0M488.5 683.1h0M491.2 691.7h0M485.9 692.2h0M488.3 683.4h0M487.7 679.3h0M487.3 708.1h0M489.6 693.5h0M484.3 719h0M485 729.5h0M487.9 700.9h0" stroke="#ff0000" stroke-width="2.6" stroke-linecap="round" fill="none" opacity="0.58"/>
<path d="M488.1 695.2h0M486 697.3h0M486.9 708.2h0M488 701.1h0M485.7 695.9h0M491.2 711.3h0M490 689.8h0M490.1 697.1h0M485.7 725.4h0M486.3 685.4h0M489.3 699h0M486.4 722.4h0M484.4 722.2h0M485.1 687.3h0M484.1 710.3h0M489.8 711.9h0M490.3 720.3h0M490.1 696.8h0M486.1 715.2h0M486.6 709.9h0M488 690.4h0M484.3 707.9h0M490.2 702.4h0M484.2 714.4h0M488.8 690.8h0M490.1 696.3h0M489.4 710.4h0M490.9 712h0M484.7 699.4h0M485.4 716.2h0M490.2 730.9h0M487.4 709.2h0M491.3 688.8h0M491.3 693.8h0M489.3 704.6h0M485.1 699.7h0" stroke="#ff0000" stroke-width="2.6" stroke-linecap="round" fill="none" opacity="0.58"/>
<path d="M489.2 716.8h0M488.3 687.8h0M487.8 688.2h0M488.9 749h0M485.2 704h0M484.7 707.4h0M486.7 694.2h0M487 706.9h0M486.2 681.6h0M489.7 703.2h0M488.7 720.7h0M486.6 699.3h0M488.4 698h0M485.5 706.5h0M487.5 702.2h0M485.3 708.6h0M487.8 703.5h0M487.9 684.7h0M490.5 695.8h0M489.8 698.5h0M487.3 706.2h0M490.6 692.8h0M487 704.8h0M486.8 716.4h0M486.9 690.6h0M487.3 700.6h0M490.7 687.6h0M487.8 719.9h0M485.1 701.5h0M491 691.4h0M490.7 673.7h0M486.3 686.1h0M489.1 698.3h0M487.4 693.2h0M486.4 689.3h0M486.6 732.2h0" stroke="#ff0000" stroke-width="2.6" stroke-linecap="round" fill="none" opacity="0.58"/>
<path d="M488.1 670.7h0M488.3 700.4h0M490.4 712.8h0M485.8 678.5h0M490.8 682.7h0M486 677.1h0M490.5 719.5h0M489 693.1h0M484.3 686.1h0M487.9 715.5h0M489.5 680.7h0M485.3 694.7h0M486.6 695h0M491.2 701.7h0M485.7 735h0M490.5 718h0M485.2 704.3h0M490 711.1h0M487.4 691.2h0M488.9 694h0M490.8 705.1h0M488.6 713.5h0M489.7 703.7h0M490.3 705.8h0M485.8 710h0M491.3 713h0M489.2 706.7h0M489.8 687h0M488.7 683.8h0M488.4 714.6h0M488.9 714.9h0M484.5 707.1h0M483.9 692.5h0M491.1 686.6h0M487 695.6h0M491 682.2h0" stroke="#ff0000" stroke-width="2.6" stroke-linecap="round" fill="none" opacity="0.58"/>
<path d="M484.5 676.1h0M490.1 727.4h0M487.8 715.8h0M488.1 684.3h0M489.9 697h0M486 677.9h0M484.1 700h0M490.6 703.8h0M490.6 700.2h0M484.1 710.8h0M487.3 709.1h0M490.4 712.5h0M486.4 717.1h0M484.1 707.5h0M487.4 698.1h0M489.1 722.9h0M490.4 705.6h0M488.8 721.3h0M490.8 702.9h0M485.1 702.9h0M486.8 743h0M489.8 692h0M484.8 696.1h0M484.3 691h0M488.6 685.6h0M488.5 680h0M491.3 696.6h0M489.7 688.3h0M484.2 718.4h0M483.9 700.8h0M489.3 713.6h0M487.6 698.7h0M484.9 701.9h0M486.4 697.6h0M484.6 670h0M491.1 724.4h0" stroke="#ff0000" stroke-width="2.6" stroke-linecap="round" fill="none" opacity="0.58"/>
<line x1="487.5" y1="670.1" x2="487.5" y2="692.4" stroke="#ff0000" stroke-width="0.9"/>
<line x1="487.5" y1="712.3" x2="487.5" y2="734.2" stroke="#ff0000" stroke-width="0.9"/>
<rect x="483.4" y="692.4" width="8.2" height="19.9" fill="#fff" stroke="#ff0000" stroke-width="0.9" fill-opacity="0.32"/>
<line x1="483.4" y1="701.7" x2="491.6" y2="701.7" stroke="#ff0000" stroke-width="1.4"/>
<path d="M497.4 694h0" stroke="#0000ff" stroke-width="2.6" stroke-linecap="round" fill="none" opacity="0.58"/>
<path d="M499 688.9h0" stroke="#0000ff" stroke-width="2.6" stroke-linecap="round" fill="none" opacity="0.58"/>
<path d="M498.1 696.2h0" stroke="#0000ff" stroke-width="2.6" stroke-linecap="round" fill="none" opacity="0.58"/>
<line x1="498.1" y1="688.7" x2="498.1" y2="690.5" stroke="#0000ff" stroke-width="0.8"/>
<line x1="498.1" y1="697" x2="498.1" y2="702.6" stroke="#0000ff" stroke-width="0.8"/>
<rect x="494" y="690.5" width="8.2" height="6.5" fill="#fff" stroke="#0000ff" stroke-width="0.8" fill-opacity="0.4"/>
<line x1="494" y1="692.4" x2="502.2" y2="692.4" stroke="#0000ff" stroke-width="1.4"/>
<path d="M507.9 687.3h0M509.6 691.8h0M509.9 696.2h0M510.3 695.1h0M512.5 680.2h0M508.8 700.1h0M507.8 692.3h0M509.9 689.7h0M505.1 704.7h0M506.2 689.7h0M507.1 722h0M505.4 706.6h0M505.2 674.3h0M508.2 696.6h0M505.7 679.2h0M508.8 694.8h0M507.8 688.4h0M506.5 684.2h0M510.4 683.6h0M510.9 689.6h0M508.7 686.8h0M508.9 689.9h0M512.2 697.3h0M509.9 693.2h0M508.7 692.3h0M509.4 692.1h0M507.8 704.5h0M510.1 683.5h0M507.9 689.5h0M510.8 693.3h0M509 695.3h0M505 687.3h0M511.2 669.3h0M504.9 681.6h0M505.8 700.4h0M510.4 684.8h0M508.3 682h0M506 689h0M510.4 693.8h0M506.3 691h0M507.7 694.6h0M507.5 678.6h0M510.5 709.6h0M510.2 680h0M505.8 691h0M505.8 690.8h0M511.7 694.2h0M509.8 672.5h0M509.9 684.5h0M504.8 699.5h0M509.5 690.5h0M511.4 694.5h0M507.2 688.6h0M509.9 686h0M505.9 676.7h0M508.1 680.1h0M505.1 712.2h0M510.3 701.5h0M505.4 682.5h0M506.8 689h0M506 678.5h0M512.5 686.1h0M508.4 685.2h0M509.9 677.2h0M506.8 693.4h0M508.8 678.1h0M509.5 682.5h0M509.5 689.5h0M509.2 681.3h0M506.9 695.1h0M509 699.7h0M507.2 682.2h0M508.9 682.1h0M508.6 698.3h0M506 691.4h0M508.7 680.7h0M508.4 697.5h0M511.7 694.3h0M509.8 681.7h0M508.5 690.3h0M511.1 696.3h0M512.1 711h0M509.7 701.6h0M505.6 703.5h0M504.9 687.2h0" stroke="#ff0000" stroke-width="2.6" stroke-linecap="round" fill="none" opacity="0.58"/>
<path d="M512.3 664.1h0M507.3 676.1h0M511.2 689.4h0M507.8 691.6h0M511.3 684.4h0M512.1 679.5h0M512.2 700h0M507 698.2h0M511.8 750h0M505.5 692.6h0M510.3 684.4h0M512.3 697.2h0M512.5 713.2h0M506.1 690.2h0M505.5 700.5h0M507.5 693.1h0M508.5 681.5h0M505.7 689.3h0M510.2 703.2h0M509.3 692.2h0M505.9 693.7h0M511 692.8h0M506.7 697.8h0M509.1 686.3h0M504.9 682.9h0M505.6 677.3h0M509.8 678h0M506.7 673.9h0M509.8 680.2h0M506.9 690.6h0M506.6 692.7h0M506.3 701.8h0M508 672.2h0M510.4 673.7h0M511.9 676h0M509.4 703.6h0M511.4 686.9h0M509.7 679.2h0M505 698.8h0M511.5 683.8h0M510.7 705.7h0M505.5 688.3h0M508 666.8h0M506.6 667.9h0M510 688.1h0M507.3 699.8h0M512.3 680h0M508.7 671.5h0M511.9 679.4h0M509.2 692.9h0M512.2 705.3h0M511.3 685.8h0M511.6 677.7h0M509.4 676.2h0M509.3 685.6h0M506.9 676.3h0M510.8 693h0M508.6 697.6h0M509 679.9h0M507.5 691.7h0M510.9 687.6h0M508.5 680.9h0M505.3 679.6h0M511 699.5h0M512.5 682.3h0M508.3 688.3h0M512.5 675.4h0M507.6 687.5h0M510.7 697h0M504.9 695.2h0M506.4 687.9h0M510.2 677.4h0M510.1 697.3h0M510 692.2h0M506.2 693.5h0M509.9 685.5h0M511.5 684.7h0M511.5 685.6h0M505.7 670.7h0M511.8 677.1h0M505.6 685.9h0M505.5 699.2h0M509.6 697.5h0M506.4 690.5h0M508.3 671.2h0" stroke="#ff0000" stroke-width="2.6" stroke-linecap="round" fill="none" opacity="0.58"/>
<path d="M507.2 678.5h0M506.3 684.6h0M510.6 669.6h0M511.6 681.2h0M512.1 693.5h0M507.1 691.2h0M509.9 701.1h0M505.5 680.4h0M512.1 698.2h0M511.8 687h0M511.6 704.2h0M506.8 686.4h0M510.7 688.5h0M505.3 688h0M510 678.1h0M505.4 693.3h0M505.2 702.8h0M510.6 685h0M509.3 687.6h0M506.8 673.2h0M508.4 690.3h0M504.9 687.5h0M507.6 683.4h0M507.2 683.2h0M512.2 697.1h0M507.7 683.8h0M505.9 686.4h0M508.6 706h0M511.7 674.5h0M507.1 697.4h0M508.8 675.5h0M504.8 670.4h0M508.4 696.8h0M506.6 696.6h0M509.7 678.2h0M506.2 690.7h0M507.1 697.7h0M510.9 688.2h0M506 690.7h0M510.9 691.5h0M507.3 707.1h0M506.5 704.4h0M510 682.7h0M506.9 687.8h0M506.1 677.5h0M507.9 742h0M510.7 698.6h0M508.1 681.7h0M508.7 676.8h0M510.3 675.3h0M505.4 696.5h0M509.9 698.9h0M511.3 680.6h0M512 689.8h0M506 675.8h0M507 687.4h0M508.4 675.9h0M507.2 684h0M507.6 685.4h0M512.5 696.1h0M509.2 684.7h0M510.5 695.9h0M512.3 670.1h0M504.9 685.7h0M510.9 698h0M506.8 698.8h0M506.9 671.1h0M506.3 700.6h0M506.9 703.1h0M506 690.1h0M509.7 671.9h0M511.5 694.4h0M508.1 673.9h0M507.3 700.9h0M504.9 693.1h0M505.4 687.1h0M511 676.5h0M505.3 689.8h0M511.8 673.4h0M507.9 684.2h0M506.9 698.1h0M506.9 685.8h0M505.4 693.9h0M512.2 699.6h0M508.1 683.9h0" stroke="#ff0000" stroke-width="2.6" stroke-linecap="round" fill="none" opacity="0.58"/>
<path d="M506 680.5h0M510.5 685.2h0M511.8 686.7h0M509.7 690.4h0M512.1 674.9h0M510 694.4h0M510.1 705.4h0M506.3 679.3h0M506.2 706.8h0M508.5 699h0M508.2 702.4h0M509.9 697h0M505.9 735h0M509.7 678.3h0M506.1 686.5h0M506.2 703h0M510.4 694h0M507.9 682.9h0M508.3 685.3h0M508.1 680.9h0M509.8 674.7h0M505.1 692h0M506.2 679.7h0M507 689.1h0M511.5 681.5h0M510.4 668.3h0M506.6 707.5h0M512.2 679.1h0M510.2 701.2h0M511.9 688.9h0M509.7 687.7h0M508 689.4h0M507.7 696h0M508.6 690.8h0M505.4 691.4h0M512.1 696.7h0M507.3 698.5h0M507.2 702.8h0M511.7 684.9h0M509.5 685.1h0M512.3 704.1h0M504.9 673.2h0M506.2 694.9h0M508.1 681.3h0M506 692.5h0M507 691.3h0M509.6 680.4h0M510.8 682.4h0M508.6 696.4h0M510 681.9h0M510.5 708.4h0M506.8 696.2h0M508.3 677.6h0M507 708h0M507.1 677.9h0M511.2 665.3h0M509.8 678.8h0M505.5 694h0M511.5 695.7h0M510.1 695.4h0M507.1 694.9h0M506.5 688.7h0M511.9 694.1h0M505.4 682.2h0M506.1 688.5h0M509.2 682.8h0M507.5 679.8h0M509.5 677h0M509.9 696.4h0M507.6 693.7h0M512 688.7h0M509 697.9h0M510.4 691.8h0M508.8 701.4h0M505 695.6h0M507.3 691.1h0M509.8 690.9h0M504.9 699.3h0M505.6 709.9h0M505.8 700.2h0M509.9 705.1h0M511.2 669.1h0M508.5 691.9h0M510.5 716h0" stroke="#ff0000" stroke-width="2.6" stroke-linecap="round" fill="none" opacity="0.58"/>
<path d="M509.2 728h0M507.4 695.5h0M508.4 679.7h0M507.6 680.8h0M511.2 681h0M512 685.4h0M511.8 690.1h0M511.5 695.7h0M509.8 686.8h0M508.7 701.3h0M511.2 690h0M506.6 686.1h0M506.9 697.9h0M508.8 701.8h0M508.4 683.6h0M506.7 683h0M507.1 678.8h0M509.5 692.8h0M511.2 686.3h0M505.9 683.1h0M509.1 682.6h0M506.1 675.1h0M508.8 674.2h0M506.5 691.3h0M508.7 674.6h0M505 698.6h0M505.1 694.2h0M507.9 675.6h0M510.4 675.1h0M508.1 672.7h0M512 681.2h0M506 688.1h0M510.2 702.6h0M511.4 684h0M505 700.3h0M508.3 699.1h0M507.3 683.4h0M512.3 680.4h0M506.7 703.8h0M506 692.5h0M511.9 687.8h0M512.1 678.4h0M510.2 680.7h0M507.1 699.3h0M510.1 681.1h0M511.6 666.6h0M511.4 696.9h0M511.1 702h0M509.4 672.3h0M506.3 700.7h0M505.9 688.9h0M510.3 683.2h0M506.4 694.7h0M511.4 694.7h0M504.8 684.8h0M511.9 686.2h0M507.6 679.5h0M511 687.1h0M507.7 681.9h0M510.4 683.7h0M508.9 688.8h0M505.3 692.5h0M510.1 699.9h0M506.6 658.7h0M511.9 689.2h0M511.3 677.7h0M507.9 679h0M507.2 695.9h0M512.1 676.9h0M504.9 708.7h0M505.8 695.5h0M505 686.6h0M510.4 696.9h0M511.2 698.4h0M512.3 672.8h0M510.3 700.9h0M510.1 686.7h0M510 702.1h0M510.1 678.9h0M507 684.1h0M511.7 692h0M505.8 702.3h0M509.1 706.2h0M507.5 676.6h0" stroke="#ff0000" stroke-width="2.6" stroke-linecap="round" fill="none" opacity="0.58"/>
<line x1="508.7" y1="665.4" x2="508.7" y2="681.2" stroke="#ff0000" stroke-width="0.9"/>
<line x1="508.7" y1="696.1" x2="508.7" y2="711.9" stroke="#ff0000" stroke-width="0.9"/>
<rect x="504.6" y="681.2" width="8.2" height="14.9" fill="#fff" stroke="#ff0000" stroke-width="0.9" fill-opacity="0.32"/>
<line x1="504.6" y1="688.7" x2="512.8" y2="688.7" stroke="#ff0000" stroke-width="1.4"/>
<path d="M516.3 692.2h0M521.7 707h0M516.1 697.9h0M521.3 680.5h0M521.3 692.5h0M521.6 698.2h0M517.4 682.1h0M518.5 671h0M522.9 688.8h0M522.2 686.3h0M523 695.7h0" stroke="#0000ff" stroke-width="2.6" stroke-linecap="round" fill="none" opacity="0.58"/>
<path d="M520.8 696.1h0M521.5 699.4h0M517.8 684.1h0M521.4 696.7h0M518.1 701h0M518.8 693.2h0M520.2 702.5h0M518.2 693h0M521.7 693.4h0M517.1 685.2h0M517.6 701.8h0" stroke="#0000ff" stroke-width="2.6" stroke-linecap="round" fill="none" opacity="0.58"/>
<path d="M520.1 700h0M522.6 687.3h0M515.9 697.5h0M520.9 690.7h0M515.9 687.9h0M519.8 695.5h0M522.6 683.2h0M516.7 691.5h0M519 700.3h0M521.2 689.5h0" stroke="#0000ff" stroke-width="2.6" stroke-linecap="round" fill="none" opacity="0.58"/>
<path d="M517.3 678.7h0M516 706.2h0M521.6 694.1h0M521.3 689.9h0M522.1 695.1h0M518 691.3h0M515.5 704h0M518.2 694.6h0M516.4 691.9h0M519.3 703.1h0" stroke="#0000ff" stroke-width="2.6" stroke-linecap="round" fill="none" opacity="0.58"/>
<path d="M522.4 687.1h0M522.1 692.6h0M518.4 690.3h0M516.1 699.2h0M516 693.7h0M521.6 691.1h0M523.1 694.8h0M522.2 690.2h0M518.5 697h0M523 698.5h0" stroke="#0000ff" stroke-width="2.6" stroke-linecap="round" fill="none" opacity="0.58"/>
<line x1="519.3" y1="677.5" x2="519.3" y2="689.6" stroke="#0000ff" stroke-width="0.8"/>
<line x1="519.3" y1="698" x2="519.3" y2="706.3" stroke="#0000ff" stroke-width="0.8"/>
<rect x="515.2" y="689.6" width="8.2" height="8.4" fill="#fff" stroke="#0000ff" stroke-width="0.8" fill-opacity="0.4"/>
<line x1="515.2" y1="693.3" x2="523.4" y2="693.3" stroke="#0000ff" stroke-width="1.4"/>
<path d="M529.8 650.8h0M531.6 644.7h0M526.9 654.1h0M528.6 660.7h0M532.8 656.6h0M528.2 649.6h0M526.6 650.1h0M530.8 665.1h0M528.6 641.9h0M530.9 661.7h0M533.8 644.4h0M526.3 650.6h0M529.9 637.4h0M529 649h0M530.3 640.9h0M532.4 645.1h0M526.2 655.4h0M526.5 642.7h0M533.6 666.4h0M528.5 663.7h0M529.6 652.7h0M529.9 640.5h0M532.6 648.2h0M527 646h0M531.4 647.8h0M532 648.7h0M528.4 639.7h0M530.5 648.9h0M528.7 646.5h0M531 660.2h0M531.4 650.5h0M527.3 646.4h0M527.6 657.1h0M530 639.4h0" stroke="#ff0000" stroke-width="2.6" stroke-linecap="round" fill="none" opacity="0.58"/>
<path d="M531 661.4h0M527 651.1h0M528.9 642h0M531.8 660.2h0M526.3 649.3h0M527.3 630.7h0M532.6 657.6h0M526.1 648h0M527.9 656.9h0M529.8 654.1h0M532.9 645.4h0M532.4 664.5h0M527.3 659.4h0M532.2 638.5h0M533 647.1h0M527.6 651.9h0M532 648.2h0M531 651.8h0M527.2 636.1h0M527.6 654.2h0M533.3 652h0M533.8 644h0M531.6 651.6h0M529.8 654.4h0M530.2 660.7h0M533.6 653h0M531 647.5h0M528.6 651.2h0M528.5 645.7h0M526.9 649.7h0M528.3 647.1h0M529 642.6h0M527.4 648.7h0M533.7 653.5h0" stroke="#ff0000" stroke-width="2.6" stroke-linecap="round" fill="none" opacity="0.58"/>
<path d="M528.3 647.7h0M527.4 646.1h0M532.1 662h0M533.8 657.2h0M529.1 634.1h0M530 659.7h0M527.7 653.2h0M530.7 656.8h0M532.5 662.5h0M528.5 655.5h0M526.8 645.9h0M529.1 646.7h0M532.4 655.2h0M527.3 663.3h0M533.4 638.3h0M533.2 652.1h0M529.7 648.4h0M531.8 658.4h0M526.1 635.1h0M528.9 659.1h0M532.5 632.6h0M531.4 643.8h0M532.6 658.9h0M527.3 642.4h0M531.1 649.2h0M527.6 656.1h0M532.8 657.5h0M528.9 654.6h0M531.6 675h0M530.7 641.5h0M530.3 652.3h0M529 656.4h0M532.8 646.3h0" stroke="#ff0000" stroke-width="2.6" stroke-linecap="round" fill="none" opacity="0.58"/>
<path d="M531.1 644.5h0M528.1 654.8h0M530.8 665.8h0M531.6 657.8h0M528 655.4h0M532.4 656.3h0M533.3 654.5h0M526.6 663.9h0M533.4 653.9h0M528.9 658.3h0M527.3 636.6h0M528.3 669h0M530.3 662.7h0M531.8 640h0M527.3 652.8h0M528.8 647.7h0M531.8 640.4h0M526.7 652.4h0M531 637.5h0M526.3 644.1h0M529.6 649.8h0M532.3 658.7h0M531.9 639.1h0M533 681h0M530.4 643.1h0M531 658.1h0M527.6 653.1h0M529.9 653.7h0M533 651.5h0M529.3 652.9h0M531.7 643.5h0M531.2 653.8h0M533 659.2h0" stroke="#ff0000" stroke-width="2.6" stroke-linecap="round" fill="none" opacity="0.58"/>
<path d="M526.6 654.7h0M526.1 644.8h0M530.5 652.2h0M527.9 652.5h0M528.3 650h0M531.4 659.8h0M532 654.9h0M529.6 647.3h0M532.1 653.4h0M526 661.1h0M528.9 649.4h0M530.3 643.2h0M526.8 650.2h0M526.4 651.3h0M532.9 653.6h0M526.5 634h0M530 648.5h0M526.3 651.7h0M528.7 645.3h0M526.6 628.3h0M527.4 655.1h0M531.3 650.9h0M530.7 653h0M530 655.7h0M530.7 655.8h0M528.7 641.3h0M528.6 667.2h0M529.8 650.4h0M526.2 658h0M527.4 656h0M530.5 656.2h0M529.2 650.9h0M533.7 646.9h0" stroke="#ff0000" stroke-width="2.6" stroke-linecap="round" fill="none" opacity="0.58"/>
<line x1="529.9" y1="629.2" x2="529.9" y2="646" stroke="#ff0000" stroke-width="0.9"/>
<line x1="529.9" y1="656.2" x2="529.9" y2="670.1" stroke="#ff0000" stroke-width="0.9"/>
<rect x="525.8" y="646" width="8.2" height="10.2" fill="#fff" stroke="#ff0000" stroke-width="0.9" fill-opacity="0.32"/>
<line x1="525.8" y1="651.5" x2="534" y2="651.5" stroke="#ff0000" stroke-width="1.4"/>
<path d="M539 668.3h0M536.9 663h0" stroke="#0000ff" stroke-width="2.6" stroke-linecap="round" fill="none" opacity="0.58"/>
<path d="M540.7 679.1h0M538 666.2h0" stroke="#0000ff" stroke-width="2.6" stroke-linecap="round" fill="none" opacity="0.58"/>
<path d="M537.1 654.3h0M538.4 675.4h0" stroke="#0000ff" stroke-width="2.6" stroke-linecap="round" fill="none" opacity="0.58"/>
<path d="M537.3 663.9h0M541.7 670.8h0" stroke="#0000ff" stroke-width="2.6" stroke-linecap="round" fill="none" opacity="0.58"/>
<path d="M540.4 660.2h0M537.3 649.6h0" stroke="#0000ff" stroke-width="2.6" stroke-linecap="round" fill="none" opacity="0.58"/>
<line x1="540.5" y1="646.9" x2="540.5" y2="660.4" stroke="#0000ff" stroke-width="0.8"/>
<line x1="540.5" y1="670.1" x2="540.5" y2="683.1" stroke="#0000ff" stroke-width="0.8"/>
<rect x="536.4" y="660.4" width="8.2" height="9.7" fill="#fff" stroke="#0000ff" stroke-width="0.8" fill-opacity="0.4"/>
<line x1="536.4" y1="665.1" x2="544.6" y2="665.1" stroke="#0000ff" stroke-width="1.4"/>
<path d="M550.3 679h0M548.5 648.8h0M549.1 680.5h0M547.9 706.3h0M552.4 653.3h0M547.2 653.8h0M553.1 667.5h0M554.1 646.4h0M547.7 663.9h0M554.4 660h0M552.2 654.8h0M550.6 650.1h0M550.5 659h0M552.8 708.6h0M549.6 695.8h0M552.7 657.1h0M549.3 682.6h0M554.7 668h0M552.6 709.1h0M550 692.4h0M548.1 679.5h0M549.6 662h0M549 662.5h0M554.1 661.9h0M551.8 676.9h0M550.8 641.1h0M549.8 655.5h0M554.1 671.5h0M547.7 690.9h0M549.8 678h0M550.1 678.9h0M552 662.1h0M550.1 658.7h0M547.9 647.5h0M551.7 651.1h0M549.9 678.6h0M547.2 664.9h0M550.3 678.5h0M554.1 696.4h0M551 652.9h0M553.3 687.2h0M547.2 671.3h0M548.6 698.5h0M549.3 676.2h0M552.3 661.4h0M551.9 635h0M552.9 672.9h0M550.4 665.1h0M547.9 691.5h0M551.6 654h0M553.2 683.5h0M553.1 640.9h0" stroke="#ff0000" stroke-width="2.6" stroke-linecap="round" fill="none" opacity="0.58"/>
<path d="M554.5 684.8h0M547.4 682.3h0M549.5 682.9h0M552.1 656h0M554.1 699.5h0M550.8 661h0M551.4 660.5h0M552.4 676.4h0M548.2 692.9h0M548.6 674.9h0M551.4 669.4h0M548.6 666.9h0M547.3 649.4h0M550.4 650.7h0M553.1 652.1h0M547.7 651.9h0M551.7 679.3h0M550.7 670.8h0M549.2 670.1h0M551.6 665.2h0M553 705.2h0M551.8 684.7h0M553.9 657.3h0M554.7 701.2h0M547.3 676h0M550.8 658.4h0M548.1 676.5h0M548.6 675.5h0M553.2 694.4h0M549.1 655.9h0M550.2 683.1h0M549.2 663.2h0M554.8 665.3h0M548.2 688.2h0M552.3 650.9h0M549.3 665.9h0M548.4 668.5h0M549.3 659.4h0M548 671.2h0M553.6 674.4h0M553 688.9h0M549.9 666.5h0M549.7 661.6h0M552.8 645.6h0M551.1 647.7h0M547.4 672.2h0M548.1 675.4h0M552.8 649.6h0M548.8 663.4h0M549.4 700.7h0M547.9 675.2h0M550.7 679.9h0" stroke="#ff0000" stroke-width="2.6" stroke-linecap="round" fill="none" opacity="0.58"/>
<path d="M549.8 677.1h0M553.9 677.6h0M551.7 654.6h0M550.7 638h0M547.2 671h0M547.9 672.5h0M550.8 681.7h0M548.6 673.9h0M550.9 674.3h0M554.2 649.8h0M548.8 658.3h0M554.2 659.1h0M549.7 660.8h0M552 662.8h0M551.3 662.7h0M549.7 675.6h0M552.8 667.8h0M554.5 670.6h0M553.3 683.8h0M550.3 656.9h0M554.2 666.3h0M554.1 666.7h0M548.2 645.9h0M548.3 655.4h0M549.8 648.3h0M552.4 684.2h0M554 653.6h0M548.5 686h0M550.7 654.3h0M550.2 648.2h0M548.8 656.3h0M553.8 668.9h0M553.3 666.8h0M552.4 690.3h0M551.3 681.6h0M548.7 669.5h0M550.3 662.3h0M551.3 673.5h0M547.4 665.5h0M549.4 663.1h0M553.6 682.5h0M549.3 669.7h0M554 669.8h0M551.7 664.1h0M553.3 644.7h0M551.9 663.5h0M552.2 686.4h0M549.4 671.7h0M551.3 655.1h0M550.9 657.8h0M550.7 661.1h0M554.2 642.1h0" stroke="#ff0000" stroke-width="2.6" stroke-linecap="round" fill="none" opacity="0.58"/>
<path d="M552 696.7h0M554.2 672.7h0M551.5 651.3h0M554.9 664.5h0M549.5 634.1h0M554 689.4h0M547.7 658.5h0M554.7 669.2h0M549.4 653.2h0M548.9 703h0M553.5 656.6h0M551.3 677.2h0M553.8 667.4h0M551.4 672.1h0M551.9 659.6h0M552.6 643.1h0M551 673.1h0M553.7 681.1h0M550.9 680.8h0M548.5 655.1h0M552.7 687.4h0M553.7 656.4h0M553.5 674.1h0M550.3 664.4h0M553.7 685.6h0M548.7 651.5h0M548.7 664.1h0M554.7 669h0M553.4 685.2h0M547.7 693.1h0M547.7 686.8h0M548.3 668.2h0M551.3 647.1h0M549.2 655.6h0M549.9 671.5h0M550.6 667.2h0M552.9 688.9h0M552 674.9h0M555 670.5h0M551.3 668.6h0M552 667.8h0M547.9 673.2h0M547.8 694.6h0M549.3 683.4h0M547.2 687.7h0M548.1 657.7h0M551.9 644.1h0M549.4 690.4h0M548.5 665.8h0M550.7 681.9h0M550.5 663.7h0M550.3 637.4h0" stroke="#ff0000" stroke-width="2.6" stroke-linecap="round" fill="none" opacity="0.58"/>
<path d="M547.9 664.6h0M547.7 670.3h0M552.1 676.7h0M548.5 681.4h0M548.8 678.3h0M554.3 646.7h0M549.8 686.4h0M548 644.9h0M553.6 673.8h0M548.1 652.6h0M551.4 660.2h0M550.6 697.3h0M550.2 670h0M552 679.8h0M550.6 652.8h0M550 666.2h0M548.2 649.1h0M553.2 668.3h0M554.4 643.4h0M548.7 656.1h0M550.5 667h0M554.3 688.3h0M553.8 659.5h0M550.5 651.7h0M549 654.7h0M550.6 660.5h0M549.8 674.7h0M550.8 659.8h0M553.9 677.9h0M554.6 691.9h0M547.8 658.1h0M555 689.8h0M547.8 665.6h0M553.9 656.7h0M547.9 685.5h0M554 680h0M553.3 693.6h0M554.4 650.2h0M553.4 677.6h0M548.7 684.4h0M554.1 639.5h0M548.5 654.2h0M553 672.5h0M550.6 673.5h0M551.1 675.8h0M550.3 680.2h0M551.4 680.6h0M547.2 657.4h0M548.2 671.8h0M549.7 652.3h0M547.8 661.2h0" stroke="#ff0000" stroke-width="2.6" stroke-linecap="round" fill="none" opacity="0.58"/>
<line x1="551.1" y1="634.8" x2="551.1" y2="657.1" stroke="#ff0000" stroke-width="0.9"/>
<line x1="551.1" y1="679.4" x2="551.1" y2="709.1" stroke="#ff0000" stroke-width="0.9"/>
<rect x="547" y="657.1" width="8.2" height="22.3" fill="#fff" stroke="#ff0000" stroke-width="0.9" fill-opacity="0.32"/>
<line x1="547" y1="668.2" x2="555.2" y2="668.2" stroke="#ff0000" stroke-width="1.4"/>
<path d="M558.8 669.3h0M563.8 649.7h0M561.4 682.8h0M558.1 676.1h0M561.2 652.9h0M563.8 658.4h0M563.2 691.9h0M564.5 670.4h0M559.8 657.8h0M561 661.6h0M559.9 677.3h0M560.7 647.9h0M563.2 643.5h0M562.1 673.2h0M562.7 668.6h0M558.6 663.9h0M561.8 657.3h0M559.7 672.5h0M562.2 672.9h0M558.3 677.8h0M563.1 670.1h0" stroke="#ff0000" stroke-width="2.6" stroke-linecap="round" fill="none" opacity="0.58"/>
<path d="M562.1 685.9h0M559.8 655.1h0M562 676.6h0M564.1 654.3h0M560 665.4h0M562 679h0M559.3 660h0M558 664.1h0M561.9 660.6h0M562.4 651.8h0M560 662.5h0M560.8 680.2h0M563.6 660.2h0M560.4 668.5h0M564.8 653.1h0M561.3 658.1h0M560.1 652.2h0M561.4 645.7h0M560.4 658.8h0M562.9 666h0M564.1 653.7h0" stroke="#ff0000" stroke-width="2.6" stroke-linecap="round" fill="none" opacity="0.58"/>
<path d="M561.7 650h0M561.2 650.8h0M560.1 687.4h0M558.2 661.2h0M560.1 656.3h0M564.4 669.8h0M561.8 674.2h0M562.1 637.9h0M561.5 675.5h0M563.2 651.3h0M564.2 662.2h0M563 667.5h0M558.5 666.8h0M558.3 654.5h0M561.3 657h0M561.8 673.8h0M564.3 659.8h0M561.2 674.8h0M563.2 678.7h0M558.9 656.3h0M564.6 684.4h0" stroke="#ff0000" stroke-width="2.6" stroke-linecap="round" fill="none" opacity="0.58"/>
<path d="M564.2 650.6h0M564.7 676h0M560.3 664.3h0M560.1 665.1h0M558.3 655h0M562.5 662.4h0M559.9 671.9h0M562.1 648.9h0M558.3 660.7h0M564.1 667.8h0M560.3 648h0M564.5 662.9h0M563.9 680.5h0M558.7 671.5h0M562.3 666.5h0M558.5 655.3h0M558.1 661.4h0M561.4 640.7h0M558.5 655.9h0M559.1 667.1h0" stroke="#ff0000" stroke-width="2.6" stroke-linecap="round" fill="none" opacity="0.58"/>
<path d="M558.9 646.9h0M561.8 665.7h0M561.8 643.4h0M561.8 646.5h0M562.1 652.3h0M563.1 670.6h0M564.3 663.1h0M563.2 654h0M559.3 672.1h0M564 671.2h0M560.7 663.5h0M559 659.4h0M562.4 669.1h0M559.4 674.6h0M560.6 681.9h0M560.8 665.8h0M564.8 668.2h0M564.6 664.7h0M563.5 659.1h0M562 657.5h0" stroke="#ff0000" stroke-width="2.6" stroke-linecap="round" fill="none" opacity="0.58"/>
<line x1="561.7" y1="637.6" x2="561.7" y2="655.2" stroke="#ff0000" stroke-width="0.9"/>
<line x1="561.7" y1="671.4" x2="561.7" y2="691.5" stroke="#ff0000" stroke-width="0.9"/>
<rect x="557.6" y="655.2" width="8.2" height="16.2" fill="#fff" stroke="#ff0000" stroke-width="0.9" fill-opacity="0.32"/>
<line x1="557.6" y1="663.2" x2="565.8" y2="663.2" stroke="#ff0000" stroke-width="1.4"/>
<path d="M573.2 678.5h0M570.1 666.4h0M573.4 673.3h0M570.9 667.7h0M572.2 672.2h0M572.2 670h0M571.1 655.5h0M575.4 661.6h0M575.9 695.5h0M570.2 679.9h0M570.9 679.6h0M572.5 677.2h0M571.5 662.3h0M570.5 646.8h0M571 674.3h0M573.2 691.5h0M569.6 643h0M575.7 643.8h0M570.3 646.9h0M569.2 681h0M568.9 667.3h0M573.6 675.7h0M574.8 674.9h0M570 684h0M570.2 642.8h0M570.5 684.9h0M569.1 682.9h0M569.6 669.8h0M568.7 688.2h0M570.1 674.8h0M569.9 694.5h0M573.4 658.8h0M569.3 684.2h0M575.4 646.9h0M573.2 680.4h0M574.1 654.3h0M574.5 649.9h0M573.8 681.6h0M570.2 674.5h0M574.9 675.2h0M569.3 652.2h0M572.1 663h0M575.7 647.7h0M572.9 675.8h0M574.8 645h0M574.1 688.1h0M575.3 674.6h0M569 671.9h0M575 672.5h0M571.5 671.1h0M572.9 649.3h0M576 671.6h0M568.6 656.1h0M569.1 654.1h0M573.4 665.4h0M569.9 669.7h0M571.3 666.3h0M574.3 660h0M568.7 646.1h0M568.7 647.2h0M568.7 673.2h0M570.7 678.3h0M575.9 682.6h0M575.3 652.4h0M573 656.3h0M568.8 678.6h0M570.1 644.5h0M574.7 670.9h0M573.9 650.3h0" stroke="#9b30ff" stroke-width="2.6" stroke-linecap="round" fill="none" opacity="0.58"/>
<path d="M569.1 672.7h0M573.4 681.1h0M573.3 674.1h0M570.8 667.8h0M572.8 659.1h0M571 659h0M572.2 681.5h0M575.7 665.6h0M570.3 655.9h0M572.3 671h0M570.7 659.7h0M570.4 686.7h0M571.6 676.8h0M568.6 686.3h0M575.9 670.1h0M570.6 676.4h0M570 645.5h0M570.5 653.1h0M568.8 649.1h0M573.2 669.2h0M569.7 677.8h0M568.7 689.4h0M572.6 675.1h0M568.5 671.4h0M573.3 671.3h0M574.1 680.5h0M570.2 698h0M571.3 674.4h0M568.8 685.5h0M570.1 670.5h0M572.9 669.4h0M569.1 672.3h0M574.9 647.3h0M574.4 693.6h0M568.7 648.9h0M574.1 678.2h0M575.7 677.4h0M575.3 656.9h0M572.5 683.9h0M574.3 673.6h0M571.1 640.5h0M571.3 674.1h0M574.4 671.8h0M573.8 646.7h0M572.7 667.6h0M571.4 650.5h0M568.5 649.5h0M573.2 664.6h0M573.6 644.2h0M569.4 681.2h0M570.6 648.4h0M568.8 670.8h0M574.3 692.8h0M575.2 679.4h0M574.5 655.2h0M569.9 685.8h0M570.8 673.2h0M569 678.8h0M573.7 672.8h0M571.8 668.9h0M568.6 669.9h0M571.5 697h0M571.6 655h0M575.3 649.7h0M571 650.3h0M574.4 663.3h0M575.4 665.3h0M574.8 648.3h0" stroke="#9b30ff" stroke-width="2.6" stroke-linecap="round" fill="none" opacity="0.58"/>
<path d="M575.1 690.6h0M575.4 679h0M574.8 648.1h0M572.1 681.3h0M572.5 676.7h0M570.7 673h0M570 653.8h0M573.5 669.4h0M571 648.6h0M572.2 682.4h0M569.2 649.1h0M571.5 650.4h0M570.3 639.9h0M575.7 693.1h0M571.4 651.2h0M571.3 680.3h0M571.9 680.1h0M571.7 657.2h0M572.9 682.2h0M573.9 650.6h0M573.9 650.9h0M572.6 666.9h0M573.5 678.4h0M574.1 671.4h0M569.9 687.4h0M568.5 650.5h0M575.1 649.4h0M569.1 687.1h0M571.2 674h0M572.3 658h0M570.1 686.9h0M574.6 686.1h0M572.5 641.7h0M576 649.4h0M571.4 651.9h0M573.8 676.4h0M571.8 672.4h0M570.7 673.4h0M573.5 692.2h0M572.1 650.1h0M570.5 676.2h0M569 668.2h0M572.4 679.2h0M572.3 663.9h0M573.6 626.4h0M571.6 662.7h0M572.5 650.6h0M571 675.5h0M571.5 660.9h0M571.2 664.4h0M570.6 649.8h0M568.6 649.8h0M573.3 664.8h0M575 666.7h0M570.9 673.8h0M574.9 645.9h0M575.5 679.7h0M570.2 669.1h0M569.1 648.8h0M570.8 689h0M569.7 678.1h0M574.4 643.3h0M569.6 675.3h0M575.4 665h0M574.4 650h0M569.9 682.6h0M573.8 677.9h0M569.1 673.7h0" stroke="#9b30ff" stroke-width="2.6" stroke-linecap="round" fill="none" opacity="0.58"/>
<path d="M570.4 677.1h0M573.9 647h0M574.3 666h0M573.5 649.6h0M571.6 675.9h0M575.4 642.4h0M570 647.4h0M572.9 648.7h0M575.8 679.1h0M574.4 684.5h0M570 644.4h0M569.9 647.9h0M568.9 648.6h0M571.2 663.1h0M573.9 643.5h0M570.9 678h0M573.9 688.4h0M572.3 656.4h0M570 682.8h0M569.2 662.5h0M571.6 646.2h0M575.5 679.9h0M569.6 671.5h0M570 648.1h0M568.5 670.5h0M569.8 648.5h0M572.7 690h0M572.8 652.8h0M574.2 678.8h0M572.9 664.1h0M573.1 657.7h0M571.8 676.1h0M575.4 649.1h0M573.8 677.6h0M574.6 660.2h0M572.3 647.6h0M574.8 673h0M575.7 648.2h0M572.7 685.7h0M570.1 651.6h0M570 645.3h0M572.4 659.3h0M574 672h0M572.1 643.6h0M576.1 671.2h0M573.1 680.6h0M576 649.7h0M570 680.8h0M574.3 656.6h0M575.6 645.1h0M571 679.3h0M572.6 689.5h0M573.3 674.7h0M573.2 691h0M573 648h0M573.4 651.5h0M572.7 675.6h0M568.8 653.6h0M571.9 658.4h0M570.2 672.1h0M576 677.5h0M573.2 650.2h0M576.2 653h0M571.1 669.5h0M569.5 668.6h0M575.2 672.7h0M572.2 653.5h0M572.4 676.8h0" stroke="#9b30ff" stroke-width="2.6" stroke-linecap="round" fill="none" opacity="0.58"/>
<path d="M568.9 639.2h0M575.5 677h0M573.5 647.8h0M568.9 660.6h0M568.7 665.7h0M571.7 654.9h0M571.5 683.7h0M569.9 661.3h0M568.5 658.3h0M568.8 683.2h0M571.8 642.2h0M571.7 670.2h0M570.7 645.7h0M571.6 685.3h0M568.7 673.5h0M573.1 647.7h0M570 661.1h0M572.2 670.6h0M572.8 635h0M571 660.5h0M572.4 649.3h0M568.9 687.5h0M569.7 671.7h0M574.4 654.7h0M571.9 682h0M569.9 683.3h0M575.7 647.2h0M568.6 668h0M574 677.4h0M571.1 646.5h0M570.1 657.8h0M575.6 662.1h0M574.1 646.2h0M570.9 661.8h0M571 644h0M571.9 668.7h0M572.1 684.9h0M571.3 650h0M572.1 659.6h0M575.8 645.8h0M569.2 644.9h0M574.1 663.7h0M573.8 680.1h0M574.4 669.6h0M575.3 673.9h0M573.8 640.7h0M573.9 667h0M573 684.6h0M572.6 646.4h0M573.2 641.3h0M569.2 670.7h0M573.4 682h0M574.3 675.4h0M571.2 683.5h0M569.9 661.4h0M575.5 730.5h0M571.2 670.1h0M570.1 648.8h0M570.8 645.5h0M571.3 672.6h0M571.4 676.5h0M573.6 681.8h0M575 663.5h0M570.6 675h0M573.4 657.3h0M576 670.3h0M573.8 698h0M568.7 676h0" stroke="#9b30ff" stroke-width="2.6" stroke-linecap="round" fill="none" opacity="0.58"/>
<line x1="572.3" y1="638.5" x2="572.3" y2="650.6" stroke="#9b30ff" stroke-width="0.8"/>
<line x1="572.3" y1="677.5" x2="572.3" y2="698" stroke="#9b30ff" stroke-width="0.8"/>
<rect x="568.2" y="650.6" width="8.2" height="26.9" fill="#fff" stroke="#9b30ff" stroke-width="0.8" fill-opacity="0.4"/>
<line x1="568.2" y1="669.2" x2="576.4" y2="669.2" stroke="#9b30ff" stroke-width="1.4"/>
<path d="M582.8 645.9h0M585.9 636h0M584.6 659.3h0M581.7 657.4h0M579.4 660h0M584 645.2h0M579.4 690h0M579.7 656.8h0M584.8 665.6h0M580.2 659.8h0M581.5 654h0M580.9 639.7h0M580.2 664.1h0M583.2 643.5h0M586 661.5h0M582.4 660.8h0M580.1 666.6h0M579.1 663.7h0M579.3 653.1h0M582.7 658.8h0M584.7 649.4h0M583.2 672.6h0M580 653h0M584 657.9h0M583.9 649.4h0M585.2 640.7h0M580.6 641.1h0M586.1 665.3h0M580.2 676.2h0M586.2 664.3h0M580.1 661.9h0M585.6 680h0M584.1 652.6h0M586.1 661.7h0M581.1 682.1h0M579.8 650.8h0M585.7 645.4h0M585.8 647.9h0M585.5 662.7h0M580.5 634.4h0M580.7 659.4h0M584.4 663.7h0M579.3 656.4h0M579.3 667.2h0M582.9 660.3h0M580.7 658.1h0M580.2 650h0M582.8 645.9h0M585.6 641.8h0M579.1 650.1h0M580.5 649.8h0M584.5 658.4h0M581.1 647.8h0M584.5 646.7h0M585.8 660.5h0M586.5 653.4h0M583.5 639.2h0M581 655.8h0M585.2 646.4h0M583.9 655.8h0M579.6 653.5h0M581.1 679.5h0M581.3 657.3h0M585.6 655.6h0M585.6 663.9h0M582.6 652.4h0M581.2 659.6h0M580.5 669.4h0M585 656.8h0M586 659h0M581.3 675.3h0M582.9 667.3h0M582.3 662h0M581 671.8h0" stroke="#ff0000" stroke-width="2.6" stroke-linecap="round" fill="none" opacity="0.58"/>
<path d="M580.2 638.9h0M583 647.8h0M579.8 654.1h0M581.7 658.6h0M579.5 650.8h0M584.4 658.2h0M584.9 640.4h0M582.8 652.1h0M579 662.3h0M586.3 655h0M586.8 655.1h0M580.3 654.5h0M580.8 674.6h0M582.1 647.3h0M583 644.1h0M581.1 644.8h0M579.3 651.3h0M580.1 652.4h0M580.9 660.1h0M584.5 651.8h0M584.7 651.5h0M584.1 696h0M580.7 654.9h0M583.3 650.6h0M584.8 633.6h0M586 642.9h0M582 661.1h0M580.9 653.2h0M585.3 651.7h0M585.6 653.2h0M580.6 659.9h0M581.3 680.9h0M579.1 644.4h0M580.8 644.6h0M585.3 647.1h0M584.4 661.3h0M582.6 655.9h0M583.8 655.5h0M586.5 646.7h0M583 656.6h0M580.9 650.9h0M585.2 653.7h0M585.8 658.8h0M580.8 640.5h0M583.8 660.7h0M583 671.6h0M583.3 658.3h0M582.9 657.6h0M586 649.1h0M581.2 646.9h0M586 645.2h0M583.9 678.1h0M582.3 648.6h0M584.1 669h0M582.2 646.2h0M585.4 657.3h0M583 652.2h0M586.6 656.1h0M579.6 646.3h0M580.3 645h0M582.5 649.2h0M581.4 636.5h0M586.5 653.3h0M585.7 665.9h0M580.7 660.6h0M584.7 655.5h0M583.3 661.2h0M582.3 657.5h0M582.2 656.6h0M586.4 645.6h0M586.1 648.3h0M583.4 632.6h0M579.3 650.1h0M583.8 652.3h0" stroke="#ff0000" stroke-width="2.6" stroke-linecap="round" fill="none" opacity="0.58"/>
<path d="M584.4 648.9h0M581.5 657.2h0M584.2 652.6h0M581.3 664.7h0M585.3 639.9h0M583.5 672.9h0M583.5 655.9h0M583.1 656h0M579.6 664.8h0M583 649.5h0M583.6 661.2h0M586 638.4h0M582.8 656.1h0M580.5 661.4h0M582 653.9h0M583.6 667.4h0M585.5 655.4h0M581.5 655.3h0M584.7 657.5h0M585.5 650.2h0M581.9 663.4h0M583.2 654.3h0M583.6 654.6h0M579.7 652.7h0M580.1 672.4h0M579.9 648.7h0M584.5 651.9h0M584.5 673.2h0M579.7 641.3h0M582.2 651.1h0M581.2 673.7h0M586.8 672.1h0M584.2 662.8h0M580.6 658.2h0M581.4 656.5h0M582.5 657.1h0M581.4 643.3h0M579.5 638.1h0M580.3 668.1h0M585.6 678.1h0M586.7 686.2h0M585.6 642.3h0M579.4 657.7h0M579.2 658.4h0M585 649.8h0M584.4 659.1h0M584.5 648.1h0M579.4 652.4h0M584.2 670h0M585.2 657.8h0M583.3 660.8h0M581.7 670.6h0M586 663.5h0M580.9 648.1h0M582.8 656.9h0M586.2 669.5h0M586.8 650.4h0M584.4 651.2h0M581 656.7h0M583.1 666.4h0M580.9 675.6h0M585.8 654.8h0M585.2 652.1h0M582.9 647.6h0M586.2 659.2h0M583.1 654.7h0M581.1 658.7h0M586.6 668.3h0M580.6 649h0M581.3 654.4h0M584.3 647.7h0M584.2 655.2h0M579.5 660.2h0M585.9 659.5h0" stroke="#ff0000" stroke-width="2.6" stroke-linecap="round" fill="none" opacity="0.58"/>
<path d="M581.5 662.4h0M579.8 651.2h0M582.8 667.9h0M582.6 684.1h0M581.2 660.5h0M585.3 641.7h0M585.5 637.6h0M581.2 642.7h0M582.4 646h0M583.9 668.6h0M580 650.3h0M579.2 654.7h0M579.5 669.8h0M582.1 643.9h0M580.2 655h0M583.4 656.3h0M582.5 648.5h0M586.3 664.5h0M582.2 653.6h0M581.9 651h0M584.8 650.6h0M584.6 658.9h0M583.3 656.9h0M584.8 637.2h0M579.2 648.2h0M579.9 651h0M584.6 670.9h0M586.6 665.1h0M581.1 653.7h0M586.1 642h0M586.1 662.3h0M581.7 655.7h0M582.4 652.8h0M582.2 663h0M581.7 645.5h0M585.1 657.7h0M586.3 655.4h0M580.2 652.8h0M583.7 651.6h0M581.2 674.9h0M586 654h0M585.3 662.7h0M584.5 657.9h0M579.2 650.7h0M583.3 653.4h0M581.9 661.6h0M579.2 662.5h0M581.7 639.5h0M579 647.2h0M586.3 650.4h0M580 668.8h0M580.6 664h0M579.6 642.5h0M584.4 651.4h0M584.8 667.6h0M583 652h0M584.8 647.5h0M579.7 666.5h0M581 659.7h0M585.5 660.2h0M586.4 660.2h0M584.3 657.9h0M582.6 663.2h0M582.9 644.4h0M581.2 663h0M580.4 656h0M585.3 653.8h0M581.4 664.8h0M584.3 648.8h0M586.2 636.9h0M585.1 671.2h0M581.6 658.2h0M584.9 665.7h0M582.1 653.6h0" stroke="#ff0000" stroke-width="2.6" stroke-linecap="round" fill="none" opacity="0.58"/>
<path d="M581.1 659.4h0M580.9 671.3h0M583.5 643.6h0M579.1 655.3h0M584.3 658.6h0M585.9 666.9h0M581.2 656.3h0M585.6 642.7h0M583.6 654.2h0M585.7 656.2h0M580.1 673.9h0M584.2 661h0M586.6 650.2h0M581.9 655.1h0M580.7 659.9h0M582.7 644.2h0M586.5 658h0M582.7 665.2h0M580.1 653.1h0M581.2 643.1h0M586.8 648.9h0M583.1 652.9h0M584.9 643.7h0M582.3 646.9h0M586.5 661.5h0M582.5 654.1h0M586 654.8h0M579.6 635.2h0M580.2 656.5h0M580.3 648.4h0M580.1 652.8h0M583.4 666.2h0M583.1 659h0M584.7 667.8h0M583.2 654.4h0M582 651.5h0M584.8 651.8h0M585.8 649.6h0M586.6 676.9h0M579.9 645.7h0M579.9 644.9h0M580 657h0M580.8 660.9h0M582.2 670.3h0M580.8 654.3h0M582.7 674.1h0M585.9 665.4h0M583.4 649.8h0M582.7 632h0M584.4 662.1h0M586.6 661h0M579.6 661.7h0M586.2 658.5h0M583 667h0M583.1 657h0M580.3 669.3h0M583.7 659.7h0M586.4 665.9h0M579.2 646.5h0M581.5 659.6h0M582.9 657.1h0M586.5 670.5h0M582.5 666.1h0M579.1 647.4h0M584.1 677h0M583.3 651.9h0M580.7 649.3h0M580.3 659.2h0M582.4 660.4h0M586 663.4h0M586.3 668.4h0M581.2 641.4h0M580.7 632h0M579.4 664.3h0" stroke="#ff0000" stroke-width="2.6" stroke-linecap="round" fill="none" opacity="0.58"/>
<line x1="582.9" y1="632" x2="582.9" y2="649.7" stroke="#ff0000" stroke-width="0.9"/>
<line x1="582.9" y1="661.7" x2="582.9" y2="684" stroke="#ff0000" stroke-width="0.9"/>
<rect x="578.8" y="649.7" width="8.2" height="12" fill="#fff" stroke="#ff0000" stroke-width="0.9" fill-opacity="0.32"/>
<line x1="578.8" y1="655.8" x2="587" y2="655.8" stroke="#ff0000" stroke-width="1.4"/>
<path d="M590.8 658.2h0M594.9 668.4h0M592.2 700h0M596.5 652.9h0M593.6 665.2h0M594.6 667h0M595.8 694.4h0" stroke="#0000ff" stroke-width="2.6" stroke-linecap="round" fill="none" opacity="0.58"/>
<path d="M596.1 661.9h0M596.9 657.2h0M595.2 682.8h0M597.4 653.8h0M595.6 687.5h0M596.7 684.5h0M593.5 648.7h0" stroke="#0000ff" stroke-width="2.6" stroke-linecap="round" fill="none" opacity="0.58"/>
<path d="M593.3 709.8h0M592.5 692.3h0M591.3 641.2h0M592.6 670.1h0M595.2 689.4h0M592.4 676h0M591 650.7h0" stroke="#0000ff" stroke-width="2.6" stroke-linecap="round" fill="none" opacity="0.58"/>
<path d="M596.6 672.9h0M593.7 676.7h0M591.7 663.7h0M594 655.9h0M593.9 678.1h0M590.9 714.7h0M596.3 670.5h0" stroke="#0000ff" stroke-width="2.6" stroke-linecap="round" fill="none" opacity="0.58"/>
<path d="M590.6 679.7h0M590.9 659.8h0M590.7 645.1h0M592.1 685.8h0M593.6 673.4h0M589.8 704.1h0M589.8 638.5h0" stroke="#0000ff" stroke-width="2.6" stroke-linecap="round" fill="none" opacity="0.58"/>
<line x1="593.5" y1="638.5" x2="593.5" y2="657.6" stroke="#0000ff" stroke-width="0.8"/>
<line x1="593.5" y1="685.5" x2="593.5" y2="714.7" stroke="#0000ff" stroke-width="0.8"/>
<rect x="589.4" y="657.6" width="8.2" height="27.9" fill="#fff" stroke="#0000ff" stroke-width="0.8" fill-opacity="0.4"/>
<line x1="589.4" y1="671" x2="597.6" y2="671" stroke="#0000ff" stroke-width="1.4"/>
<path d="M600.2 652.5h0M601.6 660.1h0M603.1 635.3h0M601 648.2h0M607.4 638.3h0M601.2 664.2h0M604.7 669.8h0M601.6 654.1h0M606 641.3h0M602.2 637.9h0M606.7 645.5h0M606.8 638.6h0M603 653.2h0M604.2 634.5h0M600.8 640.6h0M605.8 660.7h0M605.4 639.3h0M601.8 667h0M601.7 637.7h0M600.8 648.4h0M603.5 636.8h0M601.4 655.7h0M605.8 639.6h0M605.7 642.4h0M607.6 658.4h0M602.5 642.2h0M605 668.4h0M600.7 641.9h0M604.6 645.5h0M606 638.5h0M603.8 650.1h0" stroke="#ff0000" stroke-width="2.6" stroke-linecap="round" fill="none" opacity="0.58"/>
<path d="M601.4 632.5h0M601.8 644.5h0M604.3 649.5h0M601.9 644.1h0M607 633.8h0M600.3 644.2h0M600.5 633.5h0M603.7 652.7h0M605.7 640.8h0M600.6 656.7h0M606.9 634.9h0M602.9 636.4h0M602.4 652.2h0M601.6 655.6h0M601.8 636.2h0M606.6 625.7h0M603.2 639.4h0M607.4 665.6h0M606.1 663.5h0M602.8 629.7h0M602 641.6h0M604.7 638.7h0M601.7 643.3h0M606.5 661h0M606.9 656.5h0M603.4 640.3h0M603.9 636h0M607.7 649h0M600.8 637.3h0M600.7 640.2h0" stroke="#ff0000" stroke-width="2.6" stroke-linecap="round" fill="none" opacity="0.58"/>
<path d="M603.1 646.7h0M605.5 640.5h0M605 647.3h0M605.7 636.6h0M604.7 631.7h0M605.5 643.7h0M603 654.4h0M601.4 640.8h0M601.9 641.7h0M605.7 636.9h0M607.2 629.3h0M605.5 637.8h0M604 643.2h0M605.1 684h0M606.8 641.1h0M603.6 645.9h0M603.3 650.8h0M606.5 635.9h0M603.1 630.9h0M603.6 661.9h0M606.5 635.4h0M605 631.2h0M603.7 631.5h0M605.4 638.2h0M606.4 637.5h0M603.9 664.6h0M602.5 622.7h0M602.1 647.7h0M605.8 643.7h0M602 632.2h0" stroke="#ff0000" stroke-width="2.6" stroke-linecap="round" fill="none" opacity="0.58"/>
<path d="M607.4 657.1h0M601.5 632.1h0M603.2 651.2h0M602.4 637.4h0M603 659.3h0M601.7 639.9h0M605.1 638h0M606 625.2h0M606.5 655.2h0M607.1 632.9h0M605.3 688.7h0M606.4 646.1h0M601.2 653.5h0M602.5 633h0M606.3 672.9h0M605.8 640.1h0M605.2 633.9h0M603.3 635.5h0M606.4 627.8h0M602.5 649.7h0M602.3 648.6h0M607.1 635.2h0M600.5 630.2h0M605.1 639h0M605.3 636.3h0M605.3 634.1h0M600.7 677.4h0M602.3 630h0M602.5 668.3h0M601.9 662.3h0" stroke="#ff0000" stroke-width="2.6" stroke-linecap="round" fill="none" opacity="0.58"/>
<path d="M606.2 654.7h0M601.3 634.9h0M605.1 633.6h0M605.3 639.5h0M604.8 658.7h0M602.3 632.8h0M604.1 639.8h0M605.6 638.9h0M607.5 630.7h0M603.6 628.1h0M603.9 633.3h0M606.9 657.8h0M600.6 649.2h0M607.2 647.4h0M605.9 651.8h0M604.2 637.1h0M603.1 634.4h0M602.2 674.3h0M600.2 650.4h0M603.1 634.7h0M602.5 647h0M603.8 644.8h0M606.2 639.1h0M606.6 645.1h0M607.8 650.9h0M601.7 628.6h0M604.3 642.9h0M606.1 635.8h0M604.5 646.5h0M605.7 626.7h0" stroke="#ff0000" stroke-width="2.6" stroke-linecap="round" fill="none" opacity="0.58"/>
<line x1="604.1" y1="623.6" x2="604.1" y2="635.7" stroke="#ff0000" stroke-width="0.9"/>
<line x1="604.1" y1="651" x2="604.1" y2="680.3" stroke="#ff0000" stroke-width="0.9"/>
<rect x="600" y="635.7" width="8.2" height="15.3" fill="#fff" stroke="#ff0000" stroke-width="0.9" fill-opacity="0.32"/>
<line x1="600" y1="640.9" x2="608.2" y2="640.9" stroke="#ff0000" stroke-width="1.4"/>
<path d="M613 670.1h0M613.9 671.6h0M614.8 697h0M613.4 693.4h0M615 687.8h0M612.4 694.5h0M617.1 687.4h0M615.1 673.5h0M616.8 687.5h0M617.6 670.5h0M616.2 682.7h0M614.6 683h0M615.2 691.6h0M617 700.2h0M614.9 677.2h0M613.2 687.4h0M616.9 676.5h0M613.2 672.5h0M617 681.9h0M611.7 690.1h0M612.1 687.8h0M612.5 675.6h0M616.6 689.1h0M616.2 677.1h0M614.2 688.7h0M615.3 695h0M614.1 679h0M614.4 674.7h0M610.9 684.8h0M617.7 690.6h0M618.2 690.3h0M613.1 682h0M618.3 687.1h0M613.5 686.3h0M612.1 678.8h0M616.5 675.1h0M610.9 672.9h0M612 687.6h0M613 674.2h0M613.1 675.7h0M614.9 677.5h0M611.4 678h0M611.2 689h0M614.9 667.6h0M618.4 691.5h0M616.2 674h0M611.5 682.6h0M613.6 680.5h0M611.7 680.3h0M613.8 665.4h0M618.4 671.6h0M611.2 679.2h0M616.4 689.1h0M615.6 683.1h0M617.3 696.2h0M614.3 671.9h0M611.2 692.6h0M610.9 679.1h0M611.3 701.2h0M613.9 684.8h0M615.7 683.8h0M612.4 675.1h0M616.6 676.6h0M612.5 682.6h0M616.5 709.2h0M612.7 681.3h0M616 666.2h0M613.2 689.9h0M615 693.8h0M611.5 678.4h0M617.6 692.8h0M613.2 681.2h0M616.8 668.7h0M614.6 696.9h0M611.7 686.1h0M615.9 672.3h0M613.1 695.9h0M614.1 692.6h0M611.9 678.8h0M616.6 684.8h0M615.9 678.9h0M612.6 658h0M616 690.9h0M617.7 696.6h0M617.2 683.9h0" stroke="#ff0000" stroke-width="2.6" stroke-linecap="round" fill="none" opacity="0.58"/>
<path d="M615.5 677h0M611.6 681.7h0M617.9 691.3h0M612 675.7h0M613.1 684.7h0M613.3 671.5h0M611.9 671.3h0M612.9 678.7h0M618 690.4h0M617.4 679.5h0M616 686.2h0M615.6 694.8h0M616.7 686.6h0M614.2 688.5h0M616.2 684.1h0M615.1 704.7h0M616.9 703.4h0M618.5 682.9h0M618.5 687h0M612.2 684.9h0M614.5 693.5h0M613.2 672.6h0M612.6 688.5h0M614.2 678.6h0M614.2 679.5h0M617.9 684.3h0M618.1 682.8h0M614.6 698.2h0M612.6 687.6h0M611.7 694h0M617.6 681.6h0M614.4 686.4h0M615.8 689.8h0M616.4 676.8h0M616.1 686.4h0M613.6 685.7h0M617.1 685.4h0M611.7 685.4h0M612.1 685.5h0M613.3 681.8h0M617.4 678.6h0M612.3 691.4h0M617.3 672.1h0M612.8 680.1h0M612.7 683h0M617.1 681.1h0M611.7 663h0M617.9 681.8h0M615.6 678.2h0M615.3 671h0M613.9 676.2h0M611.8 662.7h0M615.4 683.2h0M612.9 681.2h0M613.9 680.7h0M613.3 683.3h0M610.9 677.4h0M616.1 681.7h0M618.4 686.7h0M617.9 693.4h0M615.2 678h0M615.3 686.8h0M617.2 661.8h0M617.9 685.9h0M618.3 667.8h0M613.5 664.7h0M612.6 674.1h0M615.1 693h0M616.3 680.4h0M617.9 688h0M613.8 674.6h0M610.9 686h0M614.8 665.1h0M614.8 686.2h0M618.1 677.9h0M611 696h0M612.2 689.3h0M610.9 660.1h0M613.8 692.2h0M612.1 676.6h0M612 683.4h0M617.9 684.1h0M611.5 702.1h0M613.6 691.9h0M614.4 682.2h0" stroke="#ff0000" stroke-width="2.6" stroke-linecap="round" fill="none" opacity="0.58"/>
<path d="M615.5 693.6h0M613.1 670h0M614.4 684.3h0M612.8 689h0M615.2 672.3h0M616 683.7h0M615.5 677.7h0M618.4 688.7h0M613.5 692.7h0M615 675h0M617.5 680.6h0M618.2 682.3h0M613 688.8h0M612 698.7h0M613.5 686.6h0M615.8 674.5h0M615 679.1h0M617.8 697.5h0M612 676.4h0M616.6 677.7h0M611.1 695.6h0M615.2 680.3h0M614.2 671.9h0M614.1 685.7h0M615.8 682.2h0M611.9 684.5h0M618.6 680.2h0M618.1 685.3h0M613.2 671.1h0M615.2 685h0M611.5 679.7h0M613.2 669.6h0M614.6 684h0M616.4 681.5h0M614.9 656.3h0M611.2 666.9h0M613.9 694.9h0M617.6 672.6h0M615.5 687.7h0M616.7 676.1h0M616.6 684.2h0M617.2 688.1h0M615.1 678.1h0M614.3 687.2h0M616.9 699.1h0M615.5 670.9h0M613.4 685.6h0M612.1 674.4h0M613.7 681.6h0M613.1 675.9h0M617.4 678.3h0M617.7 688.3h0M614.2 684.6h0M613.4 695.7h0M617.2 678.9h0M618.2 668.5h0M618.5 694.3h0M616 697.7h0M618.1 693.1h0M617.4 669.1h0M616.9 697.9h0M614.3 697.1h0M611.6 685.5h0M616 683.3h0M613.1 664.5h0M613.6 684.3h0M617.8 688.7h0M616.4 689.6h0M614.2 690h0M611.1 705.5h0M616.6 690.2h0M612.4 689.5h0M615.2 675.9h0M614.6 691.8h0M610.8 668.9h0M613.6 673.2h0M616.9 685.1h0M611.1 684.5h0M617.1 669.9h0M618.4 701.6h0M615.3 666.6h0M613.7 676.2h0M613.1 681.4h0M614.5 678h0" stroke="#ff0000" stroke-width="2.6" stroke-linecap="round" fill="none" opacity="0.58"/>
<path d="M615.8 694.7h0M618 688.6h0M612.3 695.4h0M612.4 668h0M617.3 677.5h0M615.6 682.1h0M615.5 679.8h0M617.8 690.9h0M616.1 680.3h0M614.1 685h0M613.6 673.6h0M613.6 670.6h0M618.6 677.6h0M611 685.8h0M614.1 689.7h0M613.7 686.7h0M611.1 683.9h0M614.7 688.8h0M617.7 687.2h0M616 680.9h0M614.1 686.9h0M614.9 682.9h0M614 685.7h0M616 680.1h0M615.6 689.4h0M613.4 679.7h0M612 683.4h0M611.5 689.7h0M615.7 684.6h0M611.5 686.8h0M615.9 714h0M616.7 668.3h0M615 681.3h0M616.4 674.4h0M618.1 690.1h0M615.7 672.7h0M614.3 670.7h0M611.6 681.1h0M614.6 699.3h0M618.2 685.9h0M611.4 685.8h0M616.3 682h0M611 680.9h0M614.3 673.2h0M617.7 692.4h0M613.3 693.2h0M615.5 698.5h0M611.4 679.3h0M612.4 687.5h0M613.4 674.9h0M611.3 689.2h0M613.3 684h0M613.3 679.4h0M613.2 696.1h0M611.9 689.5h0M611.6 697.3h0M612.7 687.1h0M617.8 682.5h0M615.1 683.6h0M613.5 692h0M613.7 699.9h0M611.2 677h0M616 684.2h0M614.7 685.2h0M614.7 679.9h0M617.1 692h0M611.1 692.9h0M614.5 680.6h0M612.1 688.4h0M614.1 700.9h0M613.7 691.1h0M617.1 706.6h0M616.4 681h0M617.3 691.4h0M614.6 685.1h0M613 693.8h0M612.5 692.1h0M614.7 687h0M615.3 695.2h0M611.6 699.6h0M613.5 678.4h0M618.1 686.3h0M616.9 694.1h0M614.9 676h0" stroke="#ff0000" stroke-width="2.6" stroke-linecap="round" fill="none" opacity="0.58"/>
<path d="M612.4 685.3h0M615.4 696.4h0M617.2 695.3h0M615.2 679.4h0M614 688.4h0M616.7 688.2h0M618.2 698.4h0M614.4 667.4h0M618.5 694.2h0M614.5 691.2h0M618.3 667h0M611.9 703.2h0M616.8 682.5h0M617.8 683.2h0M614.3 682.4h0M611.4 686.5h0M618.5 688h0M611.2 687.9h0M617.7 677.3h0M615 673.3h0M617.2 691.1h0M611.5 680.6h0M615.8 673.8h0M613.3 680.8h0M613 677.8h0M614.7 660.9h0M618.1 682.3h0M616.1 674.1h0M614.4 694.4h0M611 665.8h0M611.8 719.4h0M618.5 678.7h0M613.9 700.7h0M613.4 686.9h0M612.1 679.9h0M618.2 684.4h0M613.4 679.8h0M617.9 680h0M616.6 684.9h0M615.2 676.8h0M615.7 689.9h0M616 681.5h0M614.3 674.9h0M614.5 677.2h0M617.6 683.5h0M611 686h0M617 673.9h0M618.2 692.2h0M616.7 683.1h0M610.8 680.9h0M618.3 688h0M611.8 675.2h0M613.5 669.5h0M615 683.6h0M618.4 689h0M610.8 678.3h0M617 675.5h0M618 690.3h0M612.2 686.3h0M617.1 676.7h0M612.1 673.1h0M611.8 690.6h0M614.7 687.7h0M615.3 676.3h0M611.1 682.7h0M614.2 675.5h0M611 669.3h0M613.6 690.8h0M616.3 682.1h0M616.3 692.4h0M614.6 675.3h0M617.3 687.3h0M616.8 690.5h0M615.1 691.7h0M616.3 685.2h0M616.8 684.6h0M614 679.6h0M616.2 683.8h0M615.6 688.2h0M614.6 670.3h0M614.4 683.7h0M618.2 673.6h0M611.3 663.6h0M617.5 690.8h0" stroke="#ff0000" stroke-width="2.6" stroke-linecap="round" fill="none" opacity="0.58"/>
<line x1="614.7" y1="659.9" x2="614.7" y2="677.5" stroke="#ff0000" stroke-width="0.9"/>
<line x1="614.7" y1="689.2" x2="614.7" y2="705.4" stroke="#ff0000" stroke-width="0.9"/>
<rect x="610.6" y="677.5" width="8.2" height="11.7" fill="#fff" stroke="#ff0000" stroke-width="0.9" fill-opacity="0.32"/>
<line x1="610.6" y1="683.7" x2="618.8" y2="683.7" stroke="#ff0000" stroke-width="1.4"/>
<path d="M621.7 690.1h0M625.9 691.5h0M626.6 685.5h0M622.9 679.6h0M623.7 683.4h0M626.4 690.9h0M624.4 679.7h0M623.9 671.9h0M624.2 689.7h0M628.7 666.2h0M626.9 683.9h0M627.1 700.7h0" stroke="#0000ff" stroke-width="2.6" stroke-linecap="round" fill="none" opacity="0.58"/>
<path d="M625.6 678.8h0M623.9 682.7h0M621.7 681.2h0M628.3 687.3h0M623.9 675.7h0M628.9 690.6h0M622 684.8h0M627.2 686.1h0M625.5 687h0M626.3 696.7h0M624.1 676.4h0M624.1 690.5h0" stroke="#0000ff" stroke-width="2.6" stroke-linecap="round" fill="none" opacity="0.58"/>
<path d="M625.3 684h0M628 694.6h0M625.8 682.8h0M626 688.7h0M624.5 677.7h0M623.9 694.3h0M627 695.3h0M621.6 666.7h0M621.6 693.1h0M621.6 673.9h0M621.5 689.1h0M626.4 681h0" stroke="#0000ff" stroke-width="2.6" stroke-linecap="round" fill="none" opacity="0.58"/>
<path d="M628.4 701.7h0M625 688.1h0M627.4 689h0M626.7 686.8h0M626.7 685.4h0M626.7 688.2h0M624.1 669.1h0M628.8 699.7h0M626.5 693.6h0M625.5 698.7h0M627.1 705.4h0M626 697.3h0" stroke="#0000ff" stroke-width="2.6" stroke-linecap="round" fill="none" opacity="0.58"/>
<path d="M622.6 682.2h0M622.9 688.5h0M621.7 673.7h0M627.6 686.4h0M627.2 692.5h0M628.3 689.4h0M622.7 687.7h0M627.2 705.4h0M624.2 684.5h0M623.9 690h0M624.6 691.1h0" stroke="#0000ff" stroke-width="2.6" stroke-linecap="round" fill="none" opacity="0.58"/>
<line x1="625.3" y1="666.4" x2="625.3" y2="682.2" stroke="#0000ff" stroke-width="0.8"/>
<line x1="625.3" y1="691.5" x2="625.3" y2="705.4" stroke="#0000ff" stroke-width="0.8"/>
<rect x="621.2" y="682.2" width="8.2" height="9.3" fill="#fff" stroke="#0000ff" stroke-width="0.8" fill-opacity="0.4"/>
<line x1="621.2" y1="687.7" x2="629.4" y2="687.7" stroke="#0000ff" stroke-width="1.4"/>
<path d="M637.4 674.7h0M636.9 687h0M638.9 676.7h0M638.1 670.6h0M632.3 673.6h0M634.8 687.2h0M633.7 668.2h0M638.4 672.6h0M632.5 694.3h0M637.7 682.3h0M632.5 678.8h0M639.5 672.1h0M637.9 669.4h0M638.3 652h0M632.1 688.1h0M639.2 677.9h0M635 685.2h0M636.2 677.5h0M636.1 689h0M632 688.5h0M638.6 674.1h0M634.5 671.8h0M637 676.9h0M635.6 689.3h0M632.1 684h0" stroke="#ff0000" stroke-width="2.6" stroke-linecap="round" fill="none" opacity="0.58"/>
<path d="M633.8 668.8h0M637.7 698.4h0M635.2 677.7h0M638.1 690.5h0M636.3 673h0M636.8 679.8h0M634.2 678.9h0M639.7 670.2h0M635.2 676h0M637.5 693.3h0M639.4 694.5h0M633.2 692.5h0M634.3 691.9h0M636.3 686.8h0M632.4 679.3h0M637.3 683h0M632.1 676.2h0M634 679.4h0M633.3 678.5h0M639.2 695.4h0M633.3 679.6h0M638.2 690.6h0M639 684.7h0M637.7 677h0" stroke="#ff0000" stroke-width="2.6" stroke-linecap="round" fill="none" opacity="0.58"/>
<path d="M635.6 665.3h0M633.8 697.7h0M635.6 687.4h0M633.6 679.9h0M636.7 681.3h0M633.6 674.7h0M638.3 681.9h0M633.5 691.2h0M638.1 685.9h0M634.1 690.3h0M632.2 690.8h0M632 663.9h0M633.6 676.3h0M637.2 678.3h0M633.2 671.4h0M636.9 681.6h0M638.6 688.7h0M637.7 680.3h0M633.4 678.3h0M638.8 711h0M635.1 675.1h0M632.6 684.1h0M637.5 680.1h0M633.8 689.7h0" stroke="#ff0000" stroke-width="2.6" stroke-linecap="round" fill="none" opacity="0.58"/>
<path d="M632.2 693.9h0M636.1 675.5h0M632.8 683.6h0M635.3 671.2h0M636.2 685.7h0M637.3 673.2h0M639 687.7h0M632.2 666.7h0M634.8 678.1h0M634.2 683.8h0M635.1 700.4h0M633.4 682.5h0M633.9 684.8h0M633.9 690h0M638.6 684.5h0M636.7 679.1h0M638 689.5h0M639.6 685h0M638 688.1h0M635.1 685.6h0M635.1 680.7h0M634.9 691.4h0M637.8 674.4h0M636 692.9h0" stroke="#ff0000" stroke-width="2.6" stroke-linecap="round" fill="none" opacity="0.58"/>
<path d="M632.6 681.5h0M638.9 692.4h0M633.5 688.3h0M639 686.2h0M637.6 677.3h0M633.3 685.5h0M635.6 681.1h0M639.2 680.9h0M635.7 680.6h0M635.3 695.6h0M639.1 682.7h0M637.8 675.7h0M639.3 682.1h0M637.6 696.9h0M632.3 686.5h0M636.6 689.1h0M633.8 686.7h0M638.2 681.1h0M638 682.8h0M633.4 683.2h0M632.5 681.7h0M632.2 683.4h0M633.7 691.7h0M635 680.2h0" stroke="#ff0000" stroke-width="2.6" stroke-linecap="round" fill="none" opacity="0.58"/>
<line x1="635.9" y1="661.7" x2="635.9" y2="677.2" stroke="#ff0000" stroke-width="0.9"/>
<line x1="635.9" y1="688.3" x2="635.9" y2="700.8" stroke="#ff0000" stroke-width="0.9"/>
<rect x="631.8" y="677.2" width="8.2" height="11.1" fill="#fff" stroke="#ff0000" stroke-width="0.9" fill-opacity="0.32"/>
<line x1="631.8" y1="682.2" x2="640" y2="682.2" stroke="#ff0000" stroke-width="1.4"/>
<path d="M646.6 635h0M650.1 636.1h0M645 652.1h0M647.3 661.3h0M647.1 634.5h0M650.4 651.9h0M649.4 655.1h0M646.4 664.8h0M643.2 662.3h0M645.7 653.9h0M643.2 644.6h0M644.3 666h0M643.1 625.2h0M647 660.8h0M648.6 643.4h0M648.7 648h0M645.7 637.3h0M643.7 656.8h0M645.3 660h0M642.9 657.9h0M645.6 649h0M647.9 641.5h0M644.8 660.5h0M648.8 649.7h0M649 640.5h0M643.6 673.5h0M649.6 650h0M648.3 654.8h0M645.5 654h0M648.9 676.4h0M649 643.2h0M647.2 654.5h0M643.6 652.8h0M646.8 660.9h0M648.9 637.7h0M649.4 662.4h0M646.7 680.7h0M646.2 641h0M648.1 669.7h0M645.8 628.2h0M646.1 658.1h0M650 650.9h0M644.8 656.2h0M645.5 629.8h0M646.3 654.7h0M643.1 651h0M644 659.4h0M645.5 637h0M643.7 652.7h0M645.5 644.8h0M644.7 642.8h0M646.2 682.3h0M646.4 646.7h0M645.2 662.2h0M649.1 649.6h0M648.7 647.1h0M645.5 652h0M643 655.8h0M646.9 654.5h0M649.4 649.9h0M648 632.7h0M646.9 662.6h0M642.9 666.5h0M648.8 656.3h0M649.9 641.1h0M643.6 654.8h0M643.2 631.5h0M645 650.3h0M646.6 643.7h0M648 649.4h0M643.1 656.9h0M645.1 639.5h0M649.2 665.8h0M643 667.1h0M645.4 651.8h0M650.2 655.5h0M649.9 639.3h0M647.1 647.7h0M647.9 644.5h0M648.3 679.7h0M643.3 661.9h0M649.4 655.3h0M645.3 664h0M649.3 641.1h0M648.4 626.2h0M645.6 639.2h0M645.5 642.8h0M648.8 646.5h0M643.9 659.6h0M643.4 654.3h0" stroke="#ff0000" stroke-width="2.6" stroke-linecap="round" fill="none" opacity="0.58"/>
<path d="M643.8 630.3h0M648.7 636h0M645.8 655.6h0M646.1 649.9h0M642.9 654.2h0M645.7 641.6h0M645.6 647.8h0M649.2 656.6h0M647.5 648.2h0M646.2 672.4h0M646.5 667.3h0M643.8 641.8h0M648.4 641.9h0M649.2 648.9h0M650.1 661.1h0M647.3 646.3h0M644.2 672.1h0M642.9 628.6h0M648.7 652.9h0M646.3 658.9h0M644.1 635.6h0M649.7 638.5h0M643.9 635.7h0M642.8 650.6h0M649 646.4h0M645.8 671.8h0M644.2 645.7h0M647.4 665.6h0M643.4 634.7h0M645.9 639h0M649.1 629.5h0M647 638.2h0M649.8 639.9h0M644.6 644.8h0M644.8 640.8h0M646.8 653.8h0M644.3 642.6h0M644.7 622.3h0M645.6 647.3h0M647.3 658.5h0M643 652.5h0M645.1 652.8h0M644.9 633.8h0M645 649.1h0M642.8 655.2h0M649.8 655h0M649.1 638.4h0M647 636.4h0M644.6 677.4h0M647.9 653.6h0M646.8 667.5h0M644.3 657h0M646.2 655.7h0M649.6 639.8h0M645.9 653.7h0M649 646.2h0M647.6 644.9h0M644.9 635.8h0M645.3 635.4h0M649.1 646h0M649.9 657.5h0M644.2 652.5h0M649.3 675.6h0M648.5 660.9h0M648.7 652.3h0M644.3 664.6h0M648.6 639.4h0M643.6 671.5h0M643.9 664.4h0M647.2 668.8h0M643.5 652.3h0M649.6 646.6h0M649 659h0M643.2 658.7h0M645.9 649.8h0M645.7 669.7h0M646.3 654.6h0M650.3 651.7h0M650.1 663.9h0M648.8 632.8h0M645.7 639h0M643.7 635.2h0M646.5 661.7h0M646.2 672.6h0M643.8 639.6h0M646.6 632.1h0M649.5 641.2h0M647.4 659.9h0M647.4 638h0M643.9 667.7h0" stroke="#ff0000" stroke-width="2.6" stroke-linecap="round" fill="none" opacity="0.58"/>
<path d="M649.5 666.7h0M648.6 643.8h0M648.7 668.4h0M643.3 658.6h0M643.7 666.2h0M649.5 660.4h0M646.7 653.1h0M649.2 634.3h0M644.7 645.8h0M647.3 651.3h0M648.8 645.1h0M644.2 650.4h0M650.2 664.1h0M649.3 658.2h0M644.8 643.5h0M643.2 665.1h0M642.7 663.3h0M647.5 629.3h0M646.2 654.9h0M646.3 638.6h0M645.2 640.5h0M645.7 651.6h0M645 647h0M643.3 642.2h0M649.5 661.1h0M649.4 637.1h0M643 640.9h0M646.3 647.3h0M650.4 666.9h0M643.1 648.6h0M644.2 648.6h0M643 631.1h0M642.9 647.6h0M649.3 656.5h0M644.1 645.6h0M645.7 657.7h0M642.8 640.7h0M645.7 646h0M650.3 685.1h0M644.6 667.8h0M646.9 656.1h0M646.7 642h0M643.9 641.6h0M649.6 646.9h0M648.7 663.1h0M643.6 651h0M644.2 660.6h0M648.5 641.8h0M642.7 653.4h0M643.6 649.3h0M650.2 640.2h0M644.6 666.8h0M649.9 636.8h0M646.5 642.3h0M649.2 670.4h0M643.3 659.8h0M645.2 677.6h0M647 646.8h0M648.1 650.6h0M648 638.7h0M650 624.5h0M643.4 642.5h0M647.2 661.8h0M648.6 663.6h0M645.7 653.2h0M649.1 664.5h0M647.3 648.8h0M648.6 637.4h0M649.7 638.9h0M642.8 656.5h0M647 640h0M645.1 645.7h0M644.8 658h0M646.7 634.8h0M648.4 652h0M649.1 652.6h0M643.1 659.1h0M649.4 671h0M649.6 650.2h0M644.7 648.7h0M649.9 636.7h0M650.2 648.3h0M643 668.6h0M647.4 657.4h0M644.8 674.9h0M648.7 649.5h0M649.3 641.3h0M648.4 658.8h0M648.1 636.9h0M642.8 644.1h0" stroke="#ff0000" stroke-width="2.6" stroke-linecap="round" fill="none" opacity="0.58"/>
<path d="M645.7 655.8h0M644.5 661.5h0M649.8 655.3h0M644.6 670.7h0M647.7 651.1h0M647.8 655.5h0M642.6 657.4h0M643.9 649.3h0M643.1 669.4h0M648.2 638.7h0M642.9 645.5h0M647 659.2h0M644.9 645.3h0M646.4 672.9h0M643.1 657h0M644.1 686.4h0M645.6 670.3h0M645.4 640.2h0M644.8 646.1h0M647 654.3h0M642.9 653.1h0M644.4 668.1h0M645.1 643.7h0M645.4 650.7h0M646.6 678.1h0M648.6 639.9h0M646.3 637.6h0M649.5 627.5h0M647.2 644.6h0M643.4 662.5h0M644.9 674.3h0M643.8 657.6h0M643.5 681.3h0M645 631.8h0M647.1 658.2h0M644.7 644.3h0M643.8 676.8h0M649.4 651.9h0M645 632.4h0M644.4 663h0M650.3 647.9h0M645.8 637.4h0M645.4 647.5h0M649 657.2h0M643.5 645.5h0M647.5 662.8h0M644 634h0M645.2 633.1h0M644.4 645h0M649.7 673.8h0M645.8 660.2h0M646.2 660.4h0M647.6 636.2h0M643.2 670h0M648.2 634.2h0M648 644h0M646.5 649.6h0M645.7 653.6h0M643.1 632.1h0M646 638.3h0M648.9 639.1h0M649.4 652.4h0M647.9 665h0M646.8 643.1h0M650.1 673.2h0M645.6 622.5h0M649 656h0M647.6 641.4h0M650.3 646.5h0M644.1 669.3h0M643.5 641.7h0M643.1 643.6h0M650.2 642.1h0M647.7 637.9h0M645.9 648.1h0M643.3 653.3h0M645.8 655.4h0M644.7 641.9h0M644.1 650.2h0M646.3 651.5h0M642.8 665.7h0M649.3 674.6h0M650.1 643.1h0M647.4 638.1h0M644.4 666.3h0M643.8 650.5h0M644.7 648.5h0M649.9 654.4h0M650.1 663.4h0" stroke="#ff0000" stroke-width="2.6" stroke-linecap="round" fill="none" opacity="0.58"/>
<path d="M644.4 653.3h0M643.4 643.9h0M646.1 637.8h0M643.1 656h0M644.9 640.8h0M644.5 662h0M646.9 659.3h0M644.1 665.3h0M643.2 650.8h0M649 665.3h0M648.5 658.4h0M648 656.9h0M642.6 651.2h0M643 654h0M646.2 639.7h0M645.5 660.1h0M643.2 675.7h0M645.5 658.7h0M648.3 640.3h0M645.9 642.9h0M648.7 658.3h0M647.3 648.1h0M647.9 646.9h0M646.1 655h0M646.4 633.3h0M646 660.7h0M648.3 669.1h0M644 664.3h0M647.1 640.3h0M642.6 654.1h0M643.8 651.6h0M649.7 642.3h0M645.8 663.2h0M643.3 664.8h0M645.4 643.3h0M648.2 656.2h0M648.4 668h0M644 656.6h0M644.7 636.6h0M647.5 647.2h0M644.5 663.8h0M644.7 648.9h0M645.7 689.2h0M643.6 645.2h0M648 671.1h0M644.4 645.3h0M647.8 633.7h0M649.7 662.9h0M645.5 647.7h0M644.6 642.5h0M650.1 671.4h0M643 630.7h0M649.1 636.5h0M642.8 652.2h0M649.3 644.2h0M650.3 659.5h0M645.8 659.7h0M643.3 657.3h0M644.8 659.1h0M644.9 651.2h0M646.3 639.3h0M644.2 627.2h0M646.7 657.9h0M649.9 641.3h0M647.5 650.1h0M644.7 668.4h0M649.1 653h0M643.7 666.1h0M647.6 662.2h0M645.7 649.2h0M646.2 635.3h0M649.2 661.4h0M648.7 647.4h0M650.4 659.8h0M643.3 653.4h0M650.3 644.4h0M650.2 633.5h0M649.6 656.4h0M644.3 648.4h0M644 678.8h0M646 630.8h0M645.6 657.8h0M648.8 651.4h0M642.6 657.1h0M644.9 663.7h0M648.2 661.6h0M645.6 653.7h0M646 695.2h0M649.7 640.6h0" stroke="#ff0000" stroke-width="2.6" stroke-linecap="round" fill="none" opacity="0.58"/>
<line x1="646.5" y1="624.6" x2="646.5" y2="642.2" stroke="#ff0000" stroke-width="0.9"/>
<line x1="646.5" y1="659.9" x2="646.5" y2="684" stroke="#ff0000" stroke-width="0.9"/>
<rect x="642.4" y="642.2" width="8.2" height="17.7" fill="#fff" stroke="#ff0000" stroke-width="0.9" fill-opacity="0.32"/>
<line x1="642.4" y1="651.5" x2="650.6" y2="651.5" stroke="#ff0000" stroke-width="1.4"/>
<path d="M659.7 678.9h0M653.5 683.4h0M655.5 671.2h0M657 672.9h0M659.3 693.4h0M655.9 674.1h0M653.5 697.8h0" stroke="#0000ff" stroke-width="2.6" stroke-linecap="round" fill="none" opacity="0.58"/>
<path d="M656.1 701.2h0M655.8 696.2h0M660.3 706.8h0M657.3 689.5h0M658.6 696.4h0M656.1 689.1h0M658 676.9h0" stroke="#0000ff" stroke-width="2.6" stroke-linecap="round" fill="none" opacity="0.58"/>
<path d="M659.5 693.6h0M658.5 662.8h0M660.9 694.7h0M658.5 709.9h0M656.2 714.7h0M654.4 665.6h0M658 667.2h0" stroke="#0000ff" stroke-width="2.6" stroke-linecap="round" fill="none" opacity="0.58"/>
<path d="M656 700.4h0M656.4 703.1h0M660.8 695.4h0M655.3 656.6h0M653.9 669.4h0M658.7 672h0M657.7 698.3h0" stroke="#0000ff" stroke-width="2.6" stroke-linecap="round" fill="none" opacity="0.58"/>
<path d="M654.8 685.6h0M659.1 682.2h0M659 699.5h0M660.4 707.8h0M658.5 661.3h0M659.8 692.3h0M658 703.6h0" stroke="#0000ff" stroke-width="2.6" stroke-linecap="round" fill="none" opacity="0.58"/>
<line x1="657.1" y1="656.6" x2="657.1" y2="673.3" stroke="#0000ff" stroke-width="0.8"/>
<line x1="657.1" y1="698.9" x2="657.1" y2="714.7" stroke="#0000ff" stroke-width="0.8"/>
<rect x="653" y="673.3" width="8.2" height="25.6" fill="#fff" stroke="#0000ff" stroke-width="0.8" fill-opacity="0.4"/>
<line x1="653" y1="692.4" x2="661.2" y2="692.4" stroke="#0000ff" stroke-width="1.4"/>
<path d="M671.5 664.8h0M671.2 678.7h0M669.7 672h0M664.3 666h0M671 669.8h0M666.3 658.1h0M665.5 658.8h0M665.2 658.3h0M666.9 660.3h0M665.2 653.7h0M665.6 660.8h0M665.8 672.9h0" stroke="#ff0000" stroke-width="2.6" stroke-linecap="round" fill="none" opacity="0.58"/>
<path d="M670.1 674.4h0M665.9 665h0M668.7 660.1h0M667.7 652.2h0M666.1 682.2h0M668 674.1h0M668.1 652.6h0M668.3 675.7h0M668.7 664.4h0M667.7 663.7h0M665.7 666.4h0M668.2 657.1h0" stroke="#ff0000" stroke-width="2.6" stroke-linecap="round" fill="none" opacity="0.58"/>
<path d="M669.1 663h0M665.5 678.9h0M671.5 668.7h0M666.6 673.2h0M669.4 668.5h0M664 654.8h0M671.2 649.3h0M665 657.3h0M665.6 662h0M668.3 666.4h0M666.9 662.4h0" stroke="#ff0000" stroke-width="2.6" stroke-linecap="round" fill="none" opacity="0.58"/>
<path d="M664 669.2h0M667.4 670.1h0M668 667.2h0M664.1 661.3h0M667.5 663.9h0M668.6 681.8h0M666 656h0M671 659.8h0M670.5 676.4h0M666.1 667.1h0M666.3 659h0" stroke="#ff0000" stroke-width="2.6" stroke-linecap="round" fill="none" opacity="0.58"/>
<path d="M670.3 671h0M666.1 677.3h0M668.1 667.6h0M668.1 655.3h0M664.8 662.9h0M666.9 643.6h0M670.8 656.6h0M671.2 668.3h0M665.3 665.5h0M668.6 670.8h0M666.1 671.8h0" stroke="#ff0000" stroke-width="2.6" stroke-linecap="round" fill="none" opacity="0.58"/>
<line x1="667.7" y1="649.7" x2="667.7" y2="659" stroke="#ff0000" stroke-width="0.9"/>
<line x1="667.7" y1="670.7" x2="667.7" y2="682.2" stroke="#ff0000" stroke-width="0.9"/>
<rect x="663.6" y="659" width="8.2" height="11.7" fill="#fff" stroke="#ff0000" stroke-width="0.9" fill-opacity="0.32"/>
<line x1="663.6" y1="665.1" x2="671.8" y2="665.1" stroke="#ff0000" stroke-width="1.4"/>
<path d="M678.1 679.1h0M677.6 683.5h0M675.2 670h0M676.3 668.5h0M679.4 674h0M681.2 685.9h0M681.4 669.4h0M678.8 680.5h0M676.4 687.5h0M679.3 672.4h0M676.7 684.8h0M676.6 671h0M679.5 680.9h0M677.8 673.8h0M680.9 688h0M678.8 685h0" stroke="#ff0000" stroke-width="2.6" stroke-linecap="round" fill="none" opacity="0.58"/>
<path d="M679.9 674.6h0M680.4 681h0M681 670.9h0M681.6 687.2h0M677.5 689.8h0M676 684.6h0M681.2 679.4h0M680.2 690.5h0M680 686.2h0M681.6 683.8h0M678.8 692.9h0M677.9 675.6h0M678.5 678.6h0M676.7 677.8h0M681.7 664h0M680.4 664.4h0" stroke="#ff0000" stroke-width="2.6" stroke-linecap="round" fill="none" opacity="0.58"/>
<path d="M678.1 657.5h0M679.1 674.7h0M675.9 683.1h0M681.9 661.7h0M675.5 691.6h0M676.3 677.5h0M677.2 684.3h0M674.6 681.5h0M679.1 688.4h0M677.2 691.2h0M676 682.3h0M679.7 681.6h0M680.6 665.9h0M675.9 682.1h0M678.4 677h0M674.5 692.5h0" stroke="#ff0000" stroke-width="2.6" stroke-linecap="round" fill="none" opacity="0.58"/>
<path d="M675.1 676h0M675.5 689.4h0M679.5 671.8h0M675.8 688.6h0M679.9 686.4h0M681.1 678.5h0M677.5 688.3h0M674.5 685.7h0M681.8 667.6h0M676.8 694.5h0M679.6 690.7h0M681.9 682.6h0M675.6 673.1h0M677.4 677.2h0M677.1 675.2h0M681.8 685.4h0" stroke="#ff0000" stroke-width="2.6" stroke-linecap="round" fill="none" opacity="0.58"/>
<path d="M677.3 689.1h0M675.5 672.7h0M676.5 683.4h0M680.9 679.6h0M678.5 686.6h0M674.5 689h0M679.6 690h0M676.9 687.8h0M680.5 693.5h0M681.2 676.5h0M679 698.4h0M681.9 684h0M678.9 667.4h0M678.9 680h0M680.7 682.8h0M678.2 687h0" stroke="#ff0000" stroke-width="2.6" stroke-linecap="round" fill="none" opacity="0.58"/>
<line x1="678.3" y1="657.1" x2="678.3" y2="675.1" stroke="#ff0000" stroke-width="0.9"/>
<line x1="678.3" y1="687.4" x2="678.3" y2="697" stroke="#ff0000" stroke-width="0.9"/>
<rect x="674.2" y="675.1" width="8.2" height="12.3" fill="#fff" stroke="#ff0000" stroke-width="0.9" fill-opacity="0.32"/>
<line x1="674.2" y1="682.2" x2="682.4" y2="682.2" stroke="#ff0000" stroke-width="1.4"/>
<path d="M49.6 616.4L54.8 616.4M50.4 614.6L54 618.2M52.2 613.8L52.2 619M54 614.6L50.4 618.2M55.6 616.4L60.8 616.4M56.4 614.6L60 618.2M58.2 613.8L58.2 619M60 614.6L56.4 618.2M61.6 616.4L66.8 616.4M62.4 614.6L66 618.2M64.2 613.8L64.2 619M66 614.6L62.4 618.2M70.8 616.4L76 616.4M71.6 614.6L75.2 618.2M73.4 613.8L73.4 619M75.2 614.6L71.6 618.2M76.8 616.4L82 616.4M77.6 614.6L81.2 618.2M79.4 613.8L79.4 619M81.2 614.6L77.6 618.2M82.8 616.4L88 616.4M83.6 614.6L87.2 618.2M85.4 613.8L85.4 619M87.2 614.6L83.6 618.2M137.4 616.4L142.6 616.4M138.2 614.6L141.8 618.2M140 613.8L140 619M141.8 614.6L138.2 618.2M143.4 616.4L148.6 616.4M144.2 614.6L147.8 618.2M146 613.8L146 619M147.8 614.6L144.2 618.2M155.6 616.4L160.8 616.4M156.4 614.6L160 618.2M158.2 613.8L158.2 619M160 614.6L156.4 618.2M161.6 616.4L166.8 616.4M162.4 614.6L166 618.2M164.2 613.8L164.2 619M166 614.6L162.4 618.2M167.6 616.4L172.8 616.4M168.4 614.6L172 618.2M170.2 613.8L170.2 619M172 614.6L168.4 618.2M176.8 616.4L182 616.4M177.6 614.6L181.2 618.2M179.4 613.8L179.4 619M181.2 614.6L177.6 618.2M182.8 616.4L188 616.4M183.6 614.6L187.2 618.2M185.4 613.8L185.4 619M187.2 614.6L183.6 618.2M188.8 616.4L194 616.4M189.6 614.6L193.2 618.2M191.4 613.8L191.4 619M193.2 614.6L189.6 618.2M208.6 616.4L213.8 616.4M209.4 614.6L213 618.2M211.2 613.8L211.2 619M213 614.6L209.4 618.2M214.6 616.4L219.8 616.4M215.4 614.6L219 618.2M217.2 613.8L217.2 619M219 614.6L215.4 618.2M220.6 616.4L225.8 616.4M221.4 614.6L225 618.2M223.2 613.8L223.2 619M225 614.6L221.4 618.2M229.8 616.4L235 616.4M230.6 614.6L234.2 618.2M232.4 613.8L232.4 619M234.2 614.6L230.6 618.2M235.8 616.4L241 616.4M236.6 614.6L240.2 618.2M238.4 613.8L238.4 619M240.2 614.6L236.6 618.2M241.8 616.4L247 616.4M242.6 614.6L246.2 618.2M244.4 613.8L244.4 619M246.2 614.6L242.6 618.2M251 616.4L256.2 616.4M251.8 614.6L255.4 618.2M253.6 613.8L253.6 619M255.4 614.6L251.8 618.2M257 616.4L262.2 616.4M257.8 614.6L261.4 618.2M259.6 613.8L259.6 619M261.4 614.6L257.8 618.2M263 616.4L268.2 616.4M263.8 614.6L267.4 618.2M265.6 613.8L265.6 619M267.4 614.6L263.8 618.2M272.2 616.4L277.4 616.4M273 614.6L276.6 618.2M274.8 613.8L274.8 619M276.6 614.6L273 618.2M278.2 616.4L283.4 616.4M279 614.6L282.6 618.2M280.8 613.8L280.8 619M282.6 614.6L279 618.2M284.2 616.4L289.4 616.4M285 614.6L288.6 618.2M286.8 613.8L286.8 619M288.6 614.6L285 618.2M314.6 616.4L319.8 616.4M315.4 614.6L319 618.2M317.2 613.8L317.2 619M319 614.6L315.4 618.2M320.6 616.4L325.8 616.4M321.4 614.6L325 618.2M323.2 613.8L323.2 619M325 614.6L321.4 618.2M326.6 616.4L331.8 616.4M327.4 614.6L331 618.2M329.2 613.8L329.2 619M331 614.6L327.4 618.2M335.8 616.4L341 616.4M336.6 614.6L340.2 618.2M338.4 613.8L338.4 619M340.2 614.6L336.6 618.2M341.8 616.4L347 616.4M342.6 614.6L346.2 618.2M344.4 613.8L344.4 619M346.2 614.6L342.6 618.2M347.8 616.4L353 616.4M348.6 614.6L352.2 618.2M350.4 613.8L350.4 619M352.2 614.6L348.6 618.2M378.2 616.4L383.4 616.4M379 614.6L382.6 618.2M380.8 613.8L380.8 619M382.6 614.6L379 618.2M384.2 616.4L389.4 616.4M385 614.6L388.6 618.2M386.8 613.8L386.8 619M388.6 614.6L385 618.2M390.2 616.4L395.4 616.4M391 614.6L394.6 618.2M392.8 613.8L392.8 619M394.6 614.6L391 618.2M399.4 616.4L404.6 616.4M400.2 614.6L403.8 618.2M402 613.8L402 619M403.8 614.6L400.2 618.2M405.4 616.4L410.6 616.4M406.2 614.6L409.8 618.2M408 613.8L408 619M409.8 614.6L406.2 618.2M411.4 616.4L416.6 616.4M412.2 614.6L415.8 618.2M414 613.8L414 619M415.8 614.6L412.2 618.2M420.6 616.4L425.8 616.4M421.4 614.6L425 618.2M423.2 613.8L423.2 619M425 614.6L421.4 618.2M426.6 616.4L431.8 616.4M427.4 614.6L431 618.2M429.2 613.8L429.2 619M431 614.6L427.4 618.2M432.6 616.4L437.8 616.4M433.4 614.6L437 618.2M435.2 613.8L435.2 619M437 614.6L433.4 618.2M505.4 616.4L510.6 616.4M506.2 614.6L509.8 618.2M508 613.8L508 619M509.8 614.6L506.2 618.2M511.4 616.4L516.6 616.4M512.2 614.6L515.8 618.2M514 613.8L514 619M515.8 614.6L512.2 618.2M517.4 616.4L522.6 616.4M518.2 614.6L521.8 618.2M520 613.8L520 619M521.8 614.6L518.2 618.2M526.6 616.4L531.8 616.4M527.4 614.6L531 618.2M529.2 613.8L529.2 619M531 614.6L527.4 618.2M532.6 616.4L537.8 616.4M533.4 614.6L537 618.2M535.2 613.8L535.2 619M537 614.6L533.4 618.2M538.6 616.4L543.8 616.4M539.4 614.6L543 618.2M541.2 613.8L541.2 619M543 614.6L539.4 618.2M558.4 616.4L563.6 616.4M559.2 614.6L562.8 618.2M561 613.8L561 619M562.8 614.6L559.2 618.2M564.4 616.4L569.6 616.4M565.2 614.6L568.8 618.2M567 613.8L567 619M568.8 614.6L565.2 618.2M570.4 616.4L575.6 616.4M571.2 614.6L574.8 618.2M573 613.8L573 619M574.8 614.6L571.2 618.2M579.6 616.4L584.8 616.4M580.4 614.6L584 618.2M582.2 613.8L582.2 619M584 614.6L580.4 618.2M585.6 616.4L590.8 616.4M586.4 614.6L590 618.2M588.2 613.8L588.2 619M590 614.6L586.4 618.2M591.6 616.4L596.8 616.4M592.4 614.6L596 618.2M594.2 613.8L594.2 619M596 614.6L592.4 618.2M617.4 616.4L622.6 616.4M618.2 614.6L621.8 618.2M620 613.8L620 619M621.8 614.6L618.2 618.2M643.2 616.4L648.4 616.4M644 614.6L647.6 618.2M645.8 613.8L645.8 619M647.6 614.6L644 618.2M649.2 616.4L654.4 616.4M650 614.6L653.6 618.2M651.8 613.8L651.8 619M653.6 614.6L650 618.2M655.2 616.4L660.4 616.4M656 614.6L659.6 618.2M657.8 613.8L657.8 619M659.6 614.6L656 618.2" stroke="#111" stroke-width="0.6" fill="none"/>
<rect x="36.4" y="606.8" width="647.7" height="161.5" fill="none" stroke="#555" stroke-width="1"/>
<line x1="33.9" y1="651.5" x2="36.4" y2="651.5" stroke="#333" stroke-width="1"/>
<text x="33.4" y="655.5" font-size="11" text-anchor="end" fill="#111">9</text>
<line x1="33.9" y1="697.9" x2="36.4" y2="697.9" stroke="#333" stroke-width="1"/>
<text x="33.4" y="701.9" font-size="11" text-anchor="end" fill="#111">6</text>
<line x1="33.9" y1="744.3" x2="36.4" y2="744.3" stroke="#333" stroke-width="1"/>
<text x="33.4" y="748.3" font-size="11" text-anchor="end" fill="#111">3</text>
<line x1="42.3" y1="768.3" x2="42.3" y2="770.8" stroke="#333" stroke-width="0.9"/>
<text x="45.5" y="772.4" font-size="8.1" text-anchor="end" fill="#222" transform="rotate(-90 45.5 772.4)">ACC.Tumor (n=79)</text>
<line x1="52.9" y1="768.3" x2="52.9" y2="770.8" stroke="#333" stroke-width="0.9"/>
<text x="56.1" y="772.4" font-size="8.1" text-anchor="end" fill="#222" transform="rotate(-90 56.1 772.4)">BLCA.Tumor (n=408)</text>
<line x1="63.5" y1="768.3" x2="63.5" y2="770.8" stroke="#333" stroke-width="0.9"/>
<text x="66.7" y="772.4" font-size="8.1" text-anchor="end" fill="#222" transform="rotate(-90 66.7 772.4)">BLCA.Normal (n=19)</text>
<line x1="74.1" y1="768.3" x2="74.1" y2="770.8" stroke="#333" stroke-width="0.9"/>
<text x="77.3" y="772.4" font-size="8.1" text-anchor="end" fill="#222" transform="rotate(-90 77.3 772.4)">BRCA.Tumor (n=1093)</text>
<line x1="84.7" y1="768.3" x2="84.7" y2="770.8" stroke="#333" stroke-width="0.9"/>
<text x="87.9" y="772.4" font-size="8.1" text-anchor="end" fill="#222" transform="rotate(-90 87.9 772.4)">BRCA.Normal (n=112)</text>
<line x1="95.3" y1="768.3" x2="95.3" y2="770.8" stroke="#333" stroke-width="0.9"/>
<text x="98.5" y="772.4" font-size="8.1" text-anchor="end" fill="#222" transform="rotate(-90 98.5 772.4)">BRCA-Basal.Tumor (n=190)</text>
<line x1="105.9" y1="768.3" x2="105.9" y2="770.8" stroke="#333" stroke-width="0.9"/>
<text x="109.1" y="772.4" font-size="8.1" text-anchor="end" fill="#222" transform="rotate(-90 109.1 772.4)">BRCA-Her2.Tumor (n=82)</text>
<line x1="116.5" y1="768.3" x2="116.5" y2="770.8" stroke="#333" stroke-width="0.9"/>
<text x="119.7" y="772.4" font-size="8.1" text-anchor="end" fill="#222" transform="rotate(-90 119.7 772.4)">BRCA-LumA.Tumor (n=564)</text>
<line x1="127.1" y1="768.3" x2="127.1" y2="770.8" stroke="#333" stroke-width="0.9"/>
<text x="130.3" y="772.4" font-size="8.1" text-anchor="end" fill="#222" transform="rotate(-90 130.3 772.4)">BRCA-LumB.Tumor (n=217)</text>
<line x1="137.7" y1="768.3" x2="137.7" y2="770.8" stroke="#333" stroke-width="0.9"/>
<text x="140.9" y="772.4" font-size="8.1" text-anchor="end" fill="#222" transform="rotate(-90 140.9 772.4)">CESC.Tumor (n=304)</text>
<line x1="148.3" y1="768.3" x2="148.3" y2="770.8" stroke="#333" stroke-width="0.9"/>
<text x="151.5" y="772.4" font-size="8.1" text-anchor="end" fill="#222" transform="rotate(-90 151.5 772.4)">CESC.Normal (n=3)</text>
<line x1="158.9" y1="768.3" x2="158.9" y2="770.8" stroke="#333" stroke-width="0.9"/>
<text x="162.1" y="772.4" font-size="8.1" text-anchor="end" fill="#222" transform="rotate(-90 162.1 772.4)">CHOL.Tumor (n=36)</text>
<line x1="169.5" y1="768.3" x2="169.5" y2="770.8" stroke="#333" stroke-width="0.9"/>
<text x="172.7" y="772.4" font-size="8.1" text-anchor="end" fill="#222" transform="rotate(-90 172.7 772.4)">CHOL.Normal (n=9)</text>
<line x1="180.1" y1="768.3" x2="180.1" y2="770.8" stroke="#333" stroke-width="0.9"/>
<text x="183.3" y="772.4" font-size="8.1" text-anchor="end" fill="#222" transform="rotate(-90 183.3 772.4)">COAD.Tumor (n=457)</text>
<line x1="190.7" y1="768.3" x2="190.7" y2="770.8" stroke="#333" stroke-width="0.9"/>
<text x="193.9" y="772.4" font-size="8.1" text-anchor="end" fill="#222" transform="rotate(-90 193.9 772.4)">COAD.Normal (n=41)</text>
<line x1="201.3" y1="768.3" x2="201.3" y2="770.8" stroke="#333" stroke-width="0.9"/>
<text x="204.5" y="772.4" font-size="8.1" text-anchor="end" fill="#222" transform="rotate(-90 204.5 772.4)">DLBC.Tumor (n=48)</text>
<line x1="211.9" y1="768.3" x2="211.9" y2="770.8" stroke="#333" stroke-width="0.9"/>
<text x="215.1" y="772.4" font-size="8.1" text-anchor="end" fill="#222" transform="rotate(-90 215.1 772.4)">ESCA.Tumor (n=184)</text>
<line x1="222.5" y1="768.3" x2="222.5" y2="770.8" stroke="#333" stroke-width="0.9"/>
<text x="225.7" y="772.4" font-size="8.1" text-anchor="end" fill="#222" transform="rotate(-90 225.7 772.4)">ESCA.Normal (n=11)</text>
<line x1="233.1" y1="768.3" x2="233.1" y2="770.8" stroke="#333" stroke-width="0.9"/>
<text x="236.3" y="772.4" font-size="8.1" text-anchor="end" fill="#222" transform="rotate(-90 236.3 772.4)">GBM.Tumor (n=153)</text>
<line x1="243.7" y1="768.3" x2="243.7" y2="770.8" stroke="#333" stroke-width="0.9"/>
<text x="246.9" y="772.4" font-size="8.1" text-anchor="end" fill="#222" transform="rotate(-90 246.9 772.4)">GBM.Normal (n=5)</text>
<line x1="254.3" y1="768.3" x2="254.3" y2="770.8" stroke="#333" stroke-width="0.9"/>
<text x="257.5" y="772.4" font-size="8.1" text-anchor="end" fill="#222" transform="rotate(-90 257.5 772.4)">HNSC.Tumor (n=520)</text>
<line x1="264.9" y1="768.3" x2="264.9" y2="770.8" stroke="#333" stroke-width="0.9"/>
<text x="268.1" y="772.4" font-size="8.1" text-anchor="end" fill="#222" transform="rotate(-90 268.1 772.4)">HNSC.Normal (n=44)</text>
<line x1="275.5" y1="768.3" x2="275.5" y2="770.8" stroke="#333" stroke-width="0.9"/>
<text x="278.7" y="772.4" font-size="8.1" text-anchor="end" fill="#222" transform="rotate(-90 278.7 772.4)">HNSC-HPV+.Tumor (n=97)</text>
<line x1="286.1" y1="768.3" x2="286.1" y2="770.8" stroke="#333" stroke-width="0.9"/>
<text x="289.3" y="772.4" font-size="8.1" text-anchor="end" fill="#222" transform="rotate(-90 289.3 772.4)">HNSC-HPV-.Tumor (n=421)</text>
<line x1="296.7" y1="768.3" x2="296.7" y2="770.8" stroke="#333" stroke-width="0.9"/>
<text x="299.9" y="772.4" font-size="8.1" text-anchor="end" fill="#222" transform="rotate(-90 299.9 772.4)">KICH.Tumor (n=66)</text>
<line x1="307.3" y1="768.3" x2="307.3" y2="770.8" stroke="#333" stroke-width="0.9"/>
<text x="310.5" y="772.4" font-size="8.1" text-anchor="end" fill="#222" transform="rotate(-90 310.5 772.4)">KICH.Normal (n=25)</text>
<line x1="317.9" y1="768.3" x2="317.9" y2="770.8" stroke="#333" stroke-width="0.9"/>
<text x="321.1" y="772.4" font-size="8.1" text-anchor="end" fill="#222" transform="rotate(-90 321.1 772.4)">KIRC.Tumor (n=533)</text>
<line x1="328.5" y1="768.3" x2="328.5" y2="770.8" stroke="#333" stroke-width="0.9"/>
<text x="331.7" y="772.4" font-size="8.1" text-anchor="end" fill="#222" transform="rotate(-90 331.7 772.4)">KIRC.Normal (n=72)</text>
<line x1="339.1" y1="768.3" x2="339.1" y2="770.8" stroke="#333" stroke-width="0.9"/>
<text x="342.3" y="772.4" font-size="8.1" text-anchor="end" fill="#222" transform="rotate(-90 342.3 772.4)">KIRP.Tumor (n=290)</text>
<line x1="349.7" y1="768.3" x2="349.7" y2="770.8" stroke="#333" stroke-width="0.9"/>
<text x="352.9" y="772.4" font-size="8.1" text-anchor="end" fill="#222" transform="rotate(-90 352.9 772.4)">KIRP.Normal (n=32)</text>
<line x1="360.3" y1="768.3" x2="360.3" y2="770.8" stroke="#333" stroke-width="0.9"/>
<text x="363.5" y="772.4" font-size="8.1" text-anchor="end" fill="#222" transform="rotate(-90 363.5 772.4)">LAML.Tumor (n=173)</text>
<line x1="370.9" y1="768.3" x2="370.9" y2="770.8" stroke="#333" stroke-width="0.9"/>
<text x="374.1" y="772.4" font-size="8.1" text-anchor="end" fill="#222" transform="rotate(-90 374.1 772.4)">LGG.Tumor (n=516)</text>
<line x1="381.5" y1="768.3" x2="381.5" y2="770.8" stroke="#333" stroke-width="0.9"/>
<text x="384.7" y="772.4" font-size="8.1" text-anchor="end" fill="#222" transform="rotate(-90 384.7 772.4)">LIHC.Tumor (n=371)</text>
<line x1="392.1" y1="768.3" x2="392.1" y2="770.8" stroke="#333" stroke-width="0.9"/>
<text x="395.3" y="772.4" font-size="8.1" text-anchor="end" fill="#222" transform="rotate(-90 395.3 772.4)">LIHC.Normal (n=50)</text>
<line x1="402.7" y1="768.3" x2="402.7" y2="770.8" stroke="#333" stroke-width="0.9"/>
<text x="405.9" y="772.4" font-size="8.1" text-anchor="end" fill="#222" transform="rotate(-90 405.9 772.4)">LUAD.Tumor (n=515)</text>
<line x1="413.3" y1="768.3" x2="413.3" y2="770.8" stroke="#333" stroke-width="0.9"/>
<text x="416.5" y="772.4" font-size="8.1" text-anchor="end" fill="#222" transform="rotate(-90 416.5 772.4)">LUAD.Normal (n=59)</text>
<line x1="423.9" y1="768.3" x2="423.9" y2="770.8" stroke="#333" stroke-width="0.9"/>
<text x="427.1" y="772.4" font-size="8.1" text-anchor="end" fill="#222" transform="rotate(-90 427.1 772.4)">LUSC.Tumor (n=501)</text>
<line x1="434.5" y1="768.3" x2="434.5" y2="770.8" stroke="#333" stroke-width="0.9"/>
<text x="437.7" y="772.4" font-size="8.1" text-anchor="end" fill="#222" transform="rotate(-90 437.7 772.4)">LUSC.Normal (n=51)</text>
<line x1="445.1" y1="768.3" x2="445.1" y2="770.8" stroke="#333" stroke-width="0.9"/>
<text x="448.3" y="772.4" font-size="8.1" text-anchor="end" fill="#222" transform="rotate(-90 448.3 772.4)">MESO.Tumor (n=87)</text>
<line x1="455.7" y1="768.3" x2="455.7" y2="770.8" stroke="#333" stroke-width="0.9"/>
<text x="458.9" y="772.4" font-size="8.1" text-anchor="end" fill="#222" transform="rotate(-90 458.9 772.4)">OV.Tumor (n=303)</text>
<line x1="466.3" y1="768.3" x2="466.3" y2="770.8" stroke="#333" stroke-width="0.9"/>
<text x="469.5" y="772.4" font-size="8.1" text-anchor="end" fill="#222" transform="rotate(-90 469.5 772.4)">PAAD.Tumor (n=178)</text>
<line x1="476.9" y1="768.3" x2="476.9" y2="770.8" stroke="#333" stroke-width="0.9"/>
<text x="480.1" y="772.4" font-size="8.1" text-anchor="end" fill="#222" transform="rotate(-90 480.1 772.4)">PAAD.Normal (n=4)</text>
<line x1="487.5" y1="768.3" x2="487.5" y2="770.8" stroke="#333" stroke-width="0.9"/>
<text x="490.7" y="772.4" font-size="8.1" text-anchor="end" fill="#222" transform="rotate(-90 490.7 772.4)">PCPG.Tumor (n=179)</text>
<line x1="498.1" y1="768.3" x2="498.1" y2="770.8" stroke="#333" stroke-width="0.9"/>
<text x="501.3" y="772.4" font-size="8.1" text-anchor="end" fill="#222" transform="rotate(-90 501.3 772.4)">PCPG.Normal (n=3)</text>
<line x1="508.7" y1="768.3" x2="508.7" y2="770.8" stroke="#333" stroke-width="0.9"/>
<text x="511.9" y="772.4" font-size="8.1" text-anchor="end" fill="#222" transform="rotate(-90 511.9 772.4)">PRAD.Tumor (n=497)</text>
<line x1="519.3" y1="768.3" x2="519.3" y2="770.8" stroke="#333" stroke-width="0.9"/>
<text x="522.5" y="772.4" font-size="8.1" text-anchor="end" fill="#222" transform="rotate(-90 522.5 772.4)">PRAD.Normal (n=52)</text>
<line x1="529.9" y1="768.3" x2="529.9" y2="770.8" stroke="#333" stroke-width="0.9"/>
<text x="533.1" y="772.4" font-size="8.1" text-anchor="end" fill="#222" transform="rotate(-90 533.1 772.4)">READ.Tumor (n=166)</text>
<line x1="540.5" y1="768.3" x2="540.5" y2="770.8" stroke="#333" stroke-width="0.9"/>
<text x="543.7" y="772.4" font-size="8.1" text-anchor="end" fill="#222" transform="rotate(-90 543.7 772.4)">READ.Normal (n=10)</text>
<line x1="551.1" y1="768.3" x2="551.1" y2="770.8" stroke="#333" stroke-width="0.9"/>
<text x="554.3" y="772.4" font-size="8.1" text-anchor="end" fill="#222" transform="rotate(-90 554.3 772.4)">SARC.Tumor (n=259)</text>
<line x1="561.7" y1="768.3" x2="561.7" y2="770.8" stroke="#333" stroke-width="0.9"/>
<text x="564.9" y="772.4" font-size="8.1" text-anchor="end" fill="#222" transform="rotate(-90 564.9 772.4)">SKCM.Tumor (n=103)</text>
<line x1="572.3" y1="768.3" x2="572.3" y2="770.8" stroke="#333" stroke-width="0.9"/>
<text x="575.5" y="772.4" font-size="8.1" text-anchor="end" fill="#222" transform="rotate(-90 575.5 772.4)">SKCM.Metastasis (n=368)</text>
<line x1="582.9" y1="768.3" x2="582.9" y2="770.8" stroke="#333" stroke-width="0.9"/>
<text x="586.1" y="772.4" font-size="8.1" text-anchor="end" fill="#222" transform="rotate(-90 586.1 772.4)">STAD.Tumor (n=415)</text>
<line x1="593.5" y1="768.3" x2="593.5" y2="770.8" stroke="#333" stroke-width="0.9"/>
<text x="596.7" y="772.4" font-size="8.1" text-anchor="end" fill="#222" transform="rotate(-90 596.7 772.4)">STAD.Normal (n=35)</text>
<line x1="604.1" y1="768.3" x2="604.1" y2="770.8" stroke="#333" stroke-width="0.9"/>
<text x="607.3" y="772.4" font-size="8.1" text-anchor="end" fill="#222" transform="rotate(-90 607.3 772.4)">TGCT.Tumor (n=150)</text>
<line x1="614.7" y1="768.3" x2="614.7" y2="770.8" stroke="#333" stroke-width="0.9"/>
<text x="617.9" y="772.4" font-size="8.1" text-anchor="end" fill="#222" transform="rotate(-90 617.9 772.4)">THCA.Tumor (n=501)</text>
<line x1="625.3" y1="768.3" x2="625.3" y2="770.8" stroke="#333" stroke-width="0.9"/>
<text x="628.5" y="772.4" font-size="8.1" text-anchor="end" fill="#222" transform="rotate(-90 628.5 772.4)">THCA.Normal (n=59)</text>
<line x1="635.9" y1="768.3" x2="635.9" y2="770.8" stroke="#333" stroke-width="0.9"/>
<text x="639.1" y="772.4" font-size="8.1" text-anchor="end" fill="#222" transform="rotate(-90 639.1 772.4)">THYM.Tumor (n=120)</text>
<line x1="646.5" y1="768.3" x2="646.5" y2="770.8" stroke="#333" stroke-width="0.9"/>
<text x="649.7" y="772.4" font-size="8.1" text-anchor="end" fill="#222" transform="rotate(-90 649.7 772.4)">UCEC.Tumor (n=545)</text>
<line x1="657.1" y1="768.3" x2="657.1" y2="770.8" stroke="#333" stroke-width="0.9"/>
<text x="660.3" y="772.4" font-size="8.1" text-anchor="end" fill="#222" transform="rotate(-90 660.3 772.4)">UCEC.Normal (n=35)</text>
<line x1="667.7" y1="768.3" x2="667.7" y2="770.8" stroke="#333" stroke-width="0.9"/>
<text x="670.9" y="772.4" font-size="8.1" text-anchor="end" fill="#222" transform="rotate(-90 670.9 772.4)">UCS.Tumor (n=57)</text>
<line x1="678.3" y1="768.3" x2="678.3" y2="770.8" stroke="#333" stroke-width="0.9"/>
<text x="681.5" y="772.4" font-size="8.1" text-anchor="end" fill="#222" transform="rotate(-90 681.5 772.4)">UVM.Tumor (n=80)</text>
<text x="15.6" y="710.5" font-size="11" text-anchor="middle" fill="#111" transform="rotate(-90 15.6 710.5)">TUBA1C expression level (log2 TPM)</text>
<text x="1.3" y="602.3" font-size="12.5" font-weight="bold">D</text>
</svg></body></html>
